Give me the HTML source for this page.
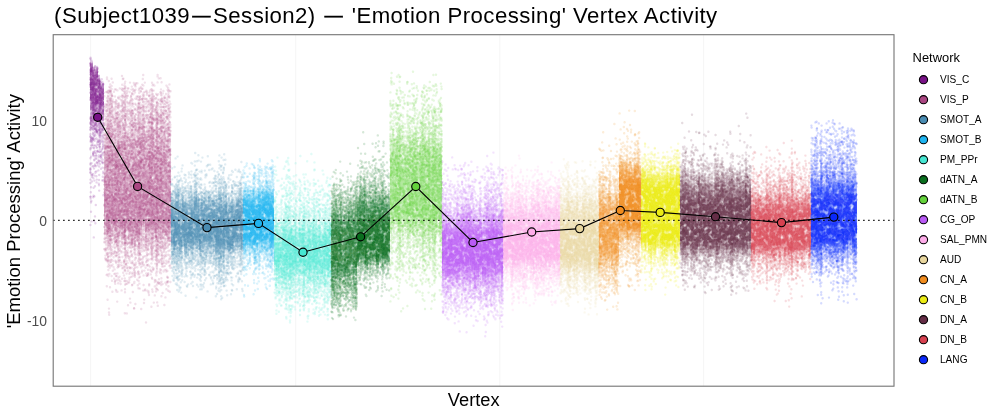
<!DOCTYPE html><html><head><meta charset="utf-8"><title>Vertex Activity</title><style>html,body{margin:0;padding:0;background:#fff}svg{display:block}</style></head><body><div style="will-change:transform;width:1000px;height:417px"><svg width="1000" height="417" viewBox="0 0 1000 417">
<defs><linearGradient id="g0" x1="0" y1="0" x2="0" y2="1"><stop offset="0.000" stop-color="#781286" stop-opacity="0.000"/><stop offset="0.025" stop-color="#781286" stop-opacity="0.000"/><stop offset="0.050" stop-color="#781286" stop-opacity="0.540"/><stop offset="0.075" stop-color="#781286" stop-opacity="0.640"/><stop offset="0.100" stop-color="#781286" stop-opacity="0.659"/><stop offset="0.125" stop-color="#781286" stop-opacity="0.678"/><stop offset="0.150" stop-color="#781286" stop-opacity="0.696"/><stop offset="0.175" stop-color="#781286" stop-opacity="0.714"/><stop offset="0.200" stop-color="#781286" stop-opacity="0.732"/><stop offset="0.225" stop-color="#781286" stop-opacity="0.747"/><stop offset="0.250" stop-color="#781286" stop-opacity="0.677"/><stop offset="0.275" stop-color="#781286" stop-opacity="0.603"/><stop offset="0.300" stop-color="#781286" stop-opacity="0.526"/><stop offset="0.325" stop-color="#781286" stop-opacity="0.423"/><stop offset="0.350" stop-color="#781286" stop-opacity="0.275"/><stop offset="0.375" stop-color="#781286" stop-opacity="0.135"/><stop offset="0.400" stop-color="#781286" stop-opacity="0.046"/><stop offset="0.425" stop-color="#781286" stop-opacity="0.014"/><stop offset="0.450" stop-color="#781286" stop-opacity="0.002"/><stop offset="0.475" stop-color="#781286" stop-opacity="0.000"/><stop offset="0.500" stop-color="#781286" stop-opacity="0.000"/><stop offset="0.525" stop-color="#781286" stop-opacity="0.000"/><stop offset="0.550" stop-color="#781286" stop-opacity="0.000"/><stop offset="0.575" stop-color="#781286" stop-opacity="0.000"/><stop offset="0.600" stop-color="#781286" stop-opacity="0.000"/><stop offset="0.625" stop-color="#781286" stop-opacity="0.000"/><stop offset="0.650" stop-color="#781286" stop-opacity="0.000"/><stop offset="0.675" stop-color="#781286" stop-opacity="0.000"/><stop offset="0.700" stop-color="#781286" stop-opacity="0.000"/><stop offset="0.725" stop-color="#781286" stop-opacity="0.000"/><stop offset="0.750" stop-color="#781286" stop-opacity="0.000"/><stop offset="0.775" stop-color="#781286" stop-opacity="0.000"/><stop offset="0.800" stop-color="#781286" stop-opacity="0.000"/><stop offset="0.825" stop-color="#781286" stop-opacity="0.000"/><stop offset="0.850" stop-color="#781286" stop-opacity="0.000"/><stop offset="0.875" stop-color="#781286" stop-opacity="0.000"/><stop offset="0.900" stop-color="#781286" stop-opacity="0.000"/><stop offset="0.925" stop-color="#781286" stop-opacity="0.000"/><stop offset="0.950" stop-color="#781286" stop-opacity="0.000"/><stop offset="0.975" stop-color="#781286" stop-opacity="0.000"/><stop offset="1.000" stop-color="#781286" stop-opacity="0.000"/></linearGradient><linearGradient id="g1" x1="0" y1="0" x2="0" y2="1"><stop offset="0.000" stop-color="#781286" stop-opacity="0.000"/><stop offset="0.025" stop-color="#781286" stop-opacity="0.000"/><stop offset="0.050" stop-color="#781286" stop-opacity="0.027"/><stop offset="0.075" stop-color="#781286" stop-opacity="0.444"/><stop offset="0.100" stop-color="#781286" stop-opacity="0.580"/><stop offset="0.125" stop-color="#781286" stop-opacity="0.611"/><stop offset="0.150" stop-color="#781286" stop-opacity="0.641"/><stop offset="0.175" stop-color="#781286" stop-opacity="0.671"/><stop offset="0.200" stop-color="#781286" stop-opacity="0.666"/><stop offset="0.225" stop-color="#781286" stop-opacity="0.613"/><stop offset="0.250" stop-color="#781286" stop-opacity="0.558"/><stop offset="0.275" stop-color="#781286" stop-opacity="0.496"/><stop offset="0.300" stop-color="#781286" stop-opacity="0.393"/><stop offset="0.325" stop-color="#781286" stop-opacity="0.269"/><stop offset="0.350" stop-color="#781286" stop-opacity="0.157"/><stop offset="0.375" stop-color="#781286" stop-opacity="0.074"/><stop offset="0.400" stop-color="#781286" stop-opacity="0.025"/><stop offset="0.425" stop-color="#781286" stop-opacity="0.004"/><stop offset="0.450" stop-color="#781286" stop-opacity="0.000"/><stop offset="0.475" stop-color="#781286" stop-opacity="0.000"/><stop offset="0.500" stop-color="#781286" stop-opacity="0.000"/><stop offset="0.525" stop-color="#781286" stop-opacity="0.000"/><stop offset="0.550" stop-color="#781286" stop-opacity="0.000"/><stop offset="0.575" stop-color="#781286" stop-opacity="0.000"/><stop offset="0.600" stop-color="#781286" stop-opacity="0.000"/><stop offset="0.625" stop-color="#781286" stop-opacity="0.000"/><stop offset="0.650" stop-color="#781286" stop-opacity="0.000"/><stop offset="0.675" stop-color="#781286" stop-opacity="0.000"/><stop offset="0.700" stop-color="#781286" stop-opacity="0.000"/><stop offset="0.725" stop-color="#781286" stop-opacity="0.000"/><stop offset="0.750" stop-color="#781286" stop-opacity="0.000"/><stop offset="0.775" stop-color="#781286" stop-opacity="0.000"/><stop offset="0.800" stop-color="#781286" stop-opacity="0.000"/><stop offset="0.825" stop-color="#781286" stop-opacity="0.000"/><stop offset="0.850" stop-color="#781286" stop-opacity="0.000"/><stop offset="0.875" stop-color="#781286" stop-opacity="0.000"/><stop offset="0.900" stop-color="#781286" stop-opacity="0.000"/><stop offset="0.925" stop-color="#781286" stop-opacity="0.000"/><stop offset="0.950" stop-color="#781286" stop-opacity="0.000"/><stop offset="0.975" stop-color="#781286" stop-opacity="0.000"/><stop offset="1.000" stop-color="#781286" stop-opacity="0.000"/></linearGradient><linearGradient id="g2" x1="0" y1="0" x2="0" y2="1"><stop offset="0.000" stop-color="#AA4682" stop-opacity="0.000"/><stop offset="0.025" stop-color="#AA4682" stop-opacity="0.000"/><stop offset="0.050" stop-color="#AA4682" stop-opacity="0.000"/><stop offset="0.075" stop-color="#AA4682" stop-opacity="0.000"/><stop offset="0.100" stop-color="#AA4682" stop-opacity="0.000"/><stop offset="0.125" stop-color="#AA4682" stop-opacity="0.000"/><stop offset="0.150" stop-color="#AA4682" stop-opacity="0.000"/><stop offset="0.175" stop-color="#AA4682" stop-opacity="0.007"/><stop offset="0.200" stop-color="#AA4682" stop-opacity="0.028"/><stop offset="0.225" stop-color="#AA4682" stop-opacity="0.068"/><stop offset="0.250" stop-color="#AA4682" stop-opacity="0.127"/><stop offset="0.275" stop-color="#AA4682" stop-opacity="0.200"/><stop offset="0.300" stop-color="#AA4682" stop-opacity="0.284"/><stop offset="0.325" stop-color="#AA4682" stop-opacity="0.317"/><stop offset="0.350" stop-color="#AA4682" stop-opacity="0.350"/><stop offset="0.375" stop-color="#AA4682" stop-opacity="0.383"/><stop offset="0.400" stop-color="#AA4682" stop-opacity="0.414"/><stop offset="0.425" stop-color="#AA4682" stop-opacity="0.444"/><stop offset="0.450" stop-color="#AA4682" stop-opacity="0.471"/><stop offset="0.475" stop-color="#AA4682" stop-opacity="0.492"/><stop offset="0.500" stop-color="#AA4682" stop-opacity="0.507"/><stop offset="0.525" stop-color="#AA4682" stop-opacity="0.520"/><stop offset="0.550" stop-color="#AA4682" stop-opacity="0.533"/><stop offset="0.575" stop-color="#AA4682" stop-opacity="0.546"/><stop offset="0.600" stop-color="#AA4682" stop-opacity="0.558"/><stop offset="0.625" stop-color="#AA4682" stop-opacity="0.437"/><stop offset="0.650" stop-color="#AA4682" stop-opacity="0.205"/><stop offset="0.675" stop-color="#AA4682" stop-opacity="0.015"/><stop offset="0.700" stop-color="#AA4682" stop-opacity="0.000"/><stop offset="0.725" stop-color="#AA4682" stop-opacity="0.000"/><stop offset="0.750" stop-color="#AA4682" stop-opacity="0.000"/><stop offset="0.775" stop-color="#AA4682" stop-opacity="0.000"/><stop offset="0.800" stop-color="#AA4682" stop-opacity="0.000"/><stop offset="0.825" stop-color="#AA4682" stop-opacity="0.000"/><stop offset="0.850" stop-color="#AA4682" stop-opacity="0.000"/><stop offset="0.875" stop-color="#AA4682" stop-opacity="0.000"/><stop offset="0.900" stop-color="#AA4682" stop-opacity="0.000"/><stop offset="0.925" stop-color="#AA4682" stop-opacity="0.000"/><stop offset="0.950" stop-color="#AA4682" stop-opacity="0.000"/><stop offset="0.975" stop-color="#AA4682" stop-opacity="0.000"/><stop offset="1.000" stop-color="#AA4682" stop-opacity="0.000"/></linearGradient><linearGradient id="g3" x1="0" y1="0" x2="0" y2="1"><stop offset="0.000" stop-color="#4A8CB2" stop-opacity="0.000"/><stop offset="0.025" stop-color="#4A8CB2" stop-opacity="0.000"/><stop offset="0.050" stop-color="#4A8CB2" stop-opacity="0.000"/><stop offset="0.075" stop-color="#4A8CB2" stop-opacity="0.000"/><stop offset="0.100" stop-color="#4A8CB2" stop-opacity="0.000"/><stop offset="0.125" stop-color="#4A8CB2" stop-opacity="0.000"/><stop offset="0.150" stop-color="#4A8CB2" stop-opacity="0.000"/><stop offset="0.175" stop-color="#4A8CB2" stop-opacity="0.000"/><stop offset="0.200" stop-color="#4A8CB2" stop-opacity="0.000"/><stop offset="0.225" stop-color="#4A8CB2" stop-opacity="0.000"/><stop offset="0.250" stop-color="#4A8CB2" stop-opacity="0.000"/><stop offset="0.275" stop-color="#4A8CB2" stop-opacity="0.000"/><stop offset="0.300" stop-color="#4A8CB2" stop-opacity="0.045"/><stop offset="0.325" stop-color="#4A8CB2" stop-opacity="0.242"/><stop offset="0.350" stop-color="#4A8CB2" stop-opacity="0.485"/><stop offset="0.375" stop-color="#4A8CB2" stop-opacity="0.627"/><stop offset="0.400" stop-color="#4A8CB2" stop-opacity="0.713"/><stop offset="0.425" stop-color="#4A8CB2" stop-opacity="0.758"/><stop offset="0.450" stop-color="#4A8CB2" stop-opacity="0.801"/><stop offset="0.475" stop-color="#4A8CB2" stop-opacity="0.807"/><stop offset="0.500" stop-color="#4A8CB2" stop-opacity="0.807"/><stop offset="0.525" stop-color="#4A8CB2" stop-opacity="0.807"/><stop offset="0.550" stop-color="#4A8CB2" stop-opacity="0.807"/><stop offset="0.575" stop-color="#4A8CB2" stop-opacity="0.807"/><stop offset="0.600" stop-color="#4A8CB2" stop-opacity="0.724"/><stop offset="0.625" stop-color="#4A8CB2" stop-opacity="0.551"/><stop offset="0.650" stop-color="#4A8CB2" stop-opacity="0.288"/><stop offset="0.675" stop-color="#4A8CB2" stop-opacity="0.045"/><stop offset="0.700" stop-color="#4A8CB2" stop-opacity="0.000"/><stop offset="0.725" stop-color="#4A8CB2" stop-opacity="0.000"/><stop offset="0.750" stop-color="#4A8CB2" stop-opacity="0.000"/><stop offset="0.775" stop-color="#4A8CB2" stop-opacity="0.000"/><stop offset="0.800" stop-color="#4A8CB2" stop-opacity="0.000"/><stop offset="0.825" stop-color="#4A8CB2" stop-opacity="0.000"/><stop offset="0.850" stop-color="#4A8CB2" stop-opacity="0.000"/><stop offset="0.875" stop-color="#4A8CB2" stop-opacity="0.000"/><stop offset="0.900" stop-color="#4A8CB2" stop-opacity="0.000"/><stop offset="0.925" stop-color="#4A8CB2" stop-opacity="0.000"/><stop offset="0.950" stop-color="#4A8CB2" stop-opacity="0.000"/><stop offset="0.975" stop-color="#4A8CB2" stop-opacity="0.000"/><stop offset="1.000" stop-color="#4A8CB2" stop-opacity="0.000"/></linearGradient><linearGradient id="g4" x1="0" y1="0" x2="0" y2="1"><stop offset="0.000" stop-color="#1EB4F0" stop-opacity="0.000"/><stop offset="0.025" stop-color="#1EB4F0" stop-opacity="0.000"/><stop offset="0.050" stop-color="#1EB4F0" stop-opacity="0.000"/><stop offset="0.075" stop-color="#1EB4F0" stop-opacity="0.000"/><stop offset="0.100" stop-color="#1EB4F0" stop-opacity="0.000"/><stop offset="0.125" stop-color="#1EB4F0" stop-opacity="0.000"/><stop offset="0.150" stop-color="#1EB4F0" stop-opacity="0.000"/><stop offset="0.175" stop-color="#1EB4F0" stop-opacity="0.000"/><stop offset="0.200" stop-color="#1EB4F0" stop-opacity="0.000"/><stop offset="0.225" stop-color="#1EB4F0" stop-opacity="0.000"/><stop offset="0.250" stop-color="#1EB4F0" stop-opacity="0.019"/><stop offset="0.275" stop-color="#1EB4F0" stop-opacity="0.189"/><stop offset="0.300" stop-color="#1EB4F0" stop-opacity="0.509"/><stop offset="0.325" stop-color="#1EB4F0" stop-opacity="0.691"/><stop offset="0.350" stop-color="#1EB4F0" stop-opacity="0.770"/><stop offset="0.375" stop-color="#1EB4F0" stop-opacity="0.843"/><stop offset="0.400" stop-color="#1EB4F0" stop-opacity="0.873"/><stop offset="0.425" stop-color="#1EB4F0" stop-opacity="0.873"/><stop offset="0.450" stop-color="#1EB4F0" stop-opacity="0.873"/><stop offset="0.475" stop-color="#1EB4F0" stop-opacity="0.873"/><stop offset="0.500" stop-color="#1EB4F0" stop-opacity="0.873"/><stop offset="0.525" stop-color="#1EB4F0" stop-opacity="0.873"/><stop offset="0.550" stop-color="#1EB4F0" stop-opacity="0.873"/><stop offset="0.575" stop-color="#1EB4F0" stop-opacity="0.873"/><stop offset="0.600" stop-color="#1EB4F0" stop-opacity="0.833"/><stop offset="0.625" stop-color="#1EB4F0" stop-opacity="0.666"/><stop offset="0.650" stop-color="#1EB4F0" stop-opacity="0.471"/><stop offset="0.675" stop-color="#1EB4F0" stop-opacity="0.176"/><stop offset="0.700" stop-color="#1EB4F0" stop-opacity="0.014"/><stop offset="0.725" stop-color="#1EB4F0" stop-opacity="0.000"/><stop offset="0.750" stop-color="#1EB4F0" stop-opacity="0.000"/><stop offset="0.775" stop-color="#1EB4F0" stop-opacity="0.000"/><stop offset="0.800" stop-color="#1EB4F0" stop-opacity="0.000"/><stop offset="0.825" stop-color="#1EB4F0" stop-opacity="0.000"/><stop offset="0.850" stop-color="#1EB4F0" stop-opacity="0.000"/><stop offset="0.875" stop-color="#1EB4F0" stop-opacity="0.000"/><stop offset="0.900" stop-color="#1EB4F0" stop-opacity="0.000"/><stop offset="0.925" stop-color="#1EB4F0" stop-opacity="0.000"/><stop offset="0.950" stop-color="#1EB4F0" stop-opacity="0.000"/><stop offset="0.975" stop-color="#1EB4F0" stop-opacity="0.000"/><stop offset="1.000" stop-color="#1EB4F0" stop-opacity="0.000"/></linearGradient><linearGradient id="g5" x1="0" y1="0" x2="0" y2="1"><stop offset="0.000" stop-color="#46E6D2" stop-opacity="0.000"/><stop offset="0.025" stop-color="#46E6D2" stop-opacity="0.000"/><stop offset="0.050" stop-color="#46E6D2" stop-opacity="0.000"/><stop offset="0.075" stop-color="#46E6D2" stop-opacity="0.000"/><stop offset="0.100" stop-color="#46E6D2" stop-opacity="0.000"/><stop offset="0.125" stop-color="#46E6D2" stop-opacity="0.000"/><stop offset="0.150" stop-color="#46E6D2" stop-opacity="0.000"/><stop offset="0.175" stop-color="#46E6D2" stop-opacity="0.000"/><stop offset="0.200" stop-color="#46E6D2" stop-opacity="0.000"/><stop offset="0.225" stop-color="#46E6D2" stop-opacity="0.000"/><stop offset="0.250" stop-color="#46E6D2" stop-opacity="0.000"/><stop offset="0.275" stop-color="#46E6D2" stop-opacity="0.000"/><stop offset="0.300" stop-color="#46E6D2" stop-opacity="0.000"/><stop offset="0.325" stop-color="#46E6D2" stop-opacity="0.000"/><stop offset="0.350" stop-color="#46E6D2" stop-opacity="0.000"/><stop offset="0.375" stop-color="#46E6D2" stop-opacity="0.000"/><stop offset="0.400" stop-color="#46E6D2" stop-opacity="0.001"/><stop offset="0.425" stop-color="#46E6D2" stop-opacity="0.036"/><stop offset="0.450" stop-color="#46E6D2" stop-opacity="0.177"/><stop offset="0.475" stop-color="#46E6D2" stop-opacity="0.403"/><stop offset="0.500" stop-color="#46E6D2" stop-opacity="0.524"/><stop offset="0.525" stop-color="#46E6D2" stop-opacity="0.584"/><stop offset="0.550" stop-color="#46E6D2" stop-opacity="0.625"/><stop offset="0.575" stop-color="#46E6D2" stop-opacity="0.625"/><stop offset="0.600" stop-color="#46E6D2" stop-opacity="0.625"/><stop offset="0.625" stop-color="#46E6D2" stop-opacity="0.625"/><stop offset="0.650" stop-color="#46E6D2" stop-opacity="0.625"/><stop offset="0.675" stop-color="#46E6D2" stop-opacity="0.493"/><stop offset="0.700" stop-color="#46E6D2" stop-opacity="0.258"/><stop offset="0.725" stop-color="#46E6D2" stop-opacity="0.076"/><stop offset="0.750" stop-color="#46E6D2" stop-opacity="0.006"/><stop offset="0.775" stop-color="#46E6D2" stop-opacity="0.000"/><stop offset="0.800" stop-color="#46E6D2" stop-opacity="0.000"/><stop offset="0.825" stop-color="#46E6D2" stop-opacity="0.000"/><stop offset="0.850" stop-color="#46E6D2" stop-opacity="0.000"/><stop offset="0.875" stop-color="#46E6D2" stop-opacity="0.000"/><stop offset="0.900" stop-color="#46E6D2" stop-opacity="0.000"/><stop offset="0.925" stop-color="#46E6D2" stop-opacity="0.000"/><stop offset="0.950" stop-color="#46E6D2" stop-opacity="0.000"/><stop offset="0.975" stop-color="#46E6D2" stop-opacity="0.000"/><stop offset="1.000" stop-color="#46E6D2" stop-opacity="0.000"/></linearGradient><linearGradient id="g6" x1="0" y1="0" x2="0" y2="1"><stop offset="0.000" stop-color="#0A6E1E" stop-opacity="0.000"/><stop offset="0.025" stop-color="#0A6E1E" stop-opacity="0.000"/><stop offset="0.050" stop-color="#0A6E1E" stop-opacity="0.000"/><stop offset="0.075" stop-color="#0A6E1E" stop-opacity="0.000"/><stop offset="0.100" stop-color="#0A6E1E" stop-opacity="0.000"/><stop offset="0.125" stop-color="#0A6E1E" stop-opacity="0.000"/><stop offset="0.150" stop-color="#0A6E1E" stop-opacity="0.000"/><stop offset="0.175" stop-color="#0A6E1E" stop-opacity="0.000"/><stop offset="0.200" stop-color="#0A6E1E" stop-opacity="0.000"/><stop offset="0.225" stop-color="#0A6E1E" stop-opacity="0.000"/><stop offset="0.250" stop-color="#0A6E1E" stop-opacity="0.001"/><stop offset="0.275" stop-color="#0A6E1E" stop-opacity="0.030"/><stop offset="0.300" stop-color="#0A6E1E" stop-opacity="0.124"/><stop offset="0.325" stop-color="#0A6E1E" stop-opacity="0.255"/><stop offset="0.350" stop-color="#0A6E1E" stop-opacity="0.399"/><stop offset="0.375" stop-color="#0A6E1E" stop-opacity="0.513"/><stop offset="0.400" stop-color="#0A6E1E" stop-opacity="0.592"/><stop offset="0.425" stop-color="#0A6E1E" stop-opacity="0.667"/><stop offset="0.450" stop-color="#0A6E1E" stop-opacity="0.691"/><stop offset="0.475" stop-color="#0A6E1E" stop-opacity="0.695"/><stop offset="0.500" stop-color="#0A6E1E" stop-opacity="0.699"/><stop offset="0.525" stop-color="#0A6E1E" stop-opacity="0.702"/><stop offset="0.550" stop-color="#0A6E1E" stop-opacity="0.706"/><stop offset="0.575" stop-color="#0A6E1E" stop-opacity="0.710"/><stop offset="0.600" stop-color="#0A6E1E" stop-opacity="0.714"/><stop offset="0.625" stop-color="#0A6E1E" stop-opacity="0.717"/><stop offset="0.650" stop-color="#0A6E1E" stop-opacity="0.672"/><stop offset="0.675" stop-color="#0A6E1E" stop-opacity="0.561"/><stop offset="0.700" stop-color="#0A6E1E" stop-opacity="0.442"/><stop offset="0.725" stop-color="#0A6E1E" stop-opacity="0.301"/><stop offset="0.750" stop-color="#0A6E1E" stop-opacity="0.164"/><stop offset="0.775" stop-color="#0A6E1E" stop-opacity="0.076"/><stop offset="0.800" stop-color="#0A6E1E" stop-opacity="0.026"/><stop offset="0.825" stop-color="#0A6E1E" stop-opacity="0.003"/><stop offset="0.850" stop-color="#0A6E1E" stop-opacity="0.000"/><stop offset="0.875" stop-color="#0A6E1E" stop-opacity="0.000"/><stop offset="0.900" stop-color="#0A6E1E" stop-opacity="0.000"/><stop offset="0.925" stop-color="#0A6E1E" stop-opacity="0.000"/><stop offset="0.950" stop-color="#0A6E1E" stop-opacity="0.000"/><stop offset="0.975" stop-color="#0A6E1E" stop-opacity="0.000"/><stop offset="1.000" stop-color="#0A6E1E" stop-opacity="0.000"/></linearGradient><linearGradient id="g7" x1="0" y1="0" x2="0" y2="1"><stop offset="0.000" stop-color="#0A6E1E" stop-opacity="0.000"/><stop offset="0.025" stop-color="#0A6E1E" stop-opacity="0.000"/><stop offset="0.050" stop-color="#0A6E1E" stop-opacity="0.000"/><stop offset="0.075" stop-color="#0A6E1E" stop-opacity="0.000"/><stop offset="0.100" stop-color="#0A6E1E" stop-opacity="0.000"/><stop offset="0.125" stop-color="#0A6E1E" stop-opacity="0.000"/><stop offset="0.150" stop-color="#0A6E1E" stop-opacity="0.000"/><stop offset="0.175" stop-color="#0A6E1E" stop-opacity="0.000"/><stop offset="0.200" stop-color="#0A6E1E" stop-opacity="0.000"/><stop offset="0.225" stop-color="#0A6E1E" stop-opacity="0.000"/><stop offset="0.250" stop-color="#0A6E1E" stop-opacity="0.000"/><stop offset="0.275" stop-color="#0A6E1E" stop-opacity="0.000"/><stop offset="0.300" stop-color="#0A6E1E" stop-opacity="0.000"/><stop offset="0.325" stop-color="#0A6E1E" stop-opacity="0.000"/><stop offset="0.350" stop-color="#0A6E1E" stop-opacity="0.000"/><stop offset="0.375" stop-color="#0A6E1E" stop-opacity="0.005"/><stop offset="0.400" stop-color="#0A6E1E" stop-opacity="0.060"/><stop offset="0.425" stop-color="#0A6E1E" stop-opacity="0.206"/><stop offset="0.450" stop-color="#0A6E1E" stop-opacity="0.407"/><stop offset="0.475" stop-color="#0A6E1E" stop-opacity="0.537"/><stop offset="0.500" stop-color="#0A6E1E" stop-opacity="0.631"/><stop offset="0.525" stop-color="#0A6E1E" stop-opacity="0.713"/><stop offset="0.550" stop-color="#0A6E1E" stop-opacity="0.784"/><stop offset="0.575" stop-color="#0A6E1E" stop-opacity="0.835"/><stop offset="0.600" stop-color="#0A6E1E" stop-opacity="0.837"/><stop offset="0.625" stop-color="#0A6E1E" stop-opacity="0.839"/><stop offset="0.650" stop-color="#0A6E1E" stop-opacity="0.841"/><stop offset="0.675" stop-color="#0A6E1E" stop-opacity="0.842"/><stop offset="0.700" stop-color="#0A6E1E" stop-opacity="0.844"/><stop offset="0.725" stop-color="#0A6E1E" stop-opacity="0.846"/><stop offset="0.750" stop-color="#0A6E1E" stop-opacity="0.761"/><stop offset="0.775" stop-color="#0A6E1E" stop-opacity="0.457"/><stop offset="0.800" stop-color="#0A6E1E" stop-opacity="0.056"/><stop offset="0.825" stop-color="#0A6E1E" stop-opacity="0.000"/><stop offset="0.850" stop-color="#0A6E1E" stop-opacity="0.000"/><stop offset="0.875" stop-color="#0A6E1E" stop-opacity="0.000"/><stop offset="0.900" stop-color="#0A6E1E" stop-opacity="0.000"/><stop offset="0.925" stop-color="#0A6E1E" stop-opacity="0.000"/><stop offset="0.950" stop-color="#0A6E1E" stop-opacity="0.000"/><stop offset="0.975" stop-color="#0A6E1E" stop-opacity="0.000"/><stop offset="1.000" stop-color="#0A6E1E" stop-opacity="0.000"/></linearGradient><linearGradient id="g8" x1="0" y1="0" x2="0" y2="1"><stop offset="0.000" stop-color="#64D23C" stop-opacity="0.000"/><stop offset="0.025" stop-color="#64D23C" stop-opacity="0.000"/><stop offset="0.050" stop-color="#64D23C" stop-opacity="0.000"/><stop offset="0.075" stop-color="#64D23C" stop-opacity="0.000"/><stop offset="0.100" stop-color="#64D23C" stop-opacity="0.000"/><stop offset="0.125" stop-color="#64D23C" stop-opacity="0.000"/><stop offset="0.150" stop-color="#64D23C" stop-opacity="0.000"/><stop offset="0.175" stop-color="#64D23C" stop-opacity="0.000"/><stop offset="0.200" stop-color="#64D23C" stop-opacity="0.000"/><stop offset="0.225" stop-color="#64D23C" stop-opacity="0.000"/><stop offset="0.250" stop-color="#64D23C" stop-opacity="0.000"/><stop offset="0.275" stop-color="#64D23C" stop-opacity="0.000"/><stop offset="0.300" stop-color="#64D23C" stop-opacity="0.010"/><stop offset="0.325" stop-color="#64D23C" stop-opacity="0.115"/><stop offset="0.350" stop-color="#64D23C" stop-opacity="0.249"/><stop offset="0.375" stop-color="#64D23C" stop-opacity="0.345"/><stop offset="0.400" stop-color="#64D23C" stop-opacity="0.437"/><stop offset="0.425" stop-color="#64D23C" stop-opacity="0.489"/><stop offset="0.450" stop-color="#64D23C" stop-opacity="0.495"/><stop offset="0.475" stop-color="#64D23C" stop-opacity="0.500"/><stop offset="0.500" stop-color="#64D23C" stop-opacity="0.505"/><stop offset="0.525" stop-color="#64D23C" stop-opacity="0.510"/><stop offset="0.550" stop-color="#64D23C" stop-opacity="0.515"/><stop offset="0.575" stop-color="#64D23C" stop-opacity="0.520"/><stop offset="0.600" stop-color="#64D23C" stop-opacity="0.524"/><stop offset="0.625" stop-color="#64D23C" stop-opacity="0.259"/><stop offset="0.650" stop-color="#64D23C" stop-opacity="0.049"/><stop offset="0.675" stop-color="#64D23C" stop-opacity="0.001"/><stop offset="0.700" stop-color="#64D23C" stop-opacity="0.000"/><stop offset="0.725" stop-color="#64D23C" stop-opacity="0.000"/><stop offset="0.750" stop-color="#64D23C" stop-opacity="0.000"/><stop offset="0.775" stop-color="#64D23C" stop-opacity="0.000"/><stop offset="0.800" stop-color="#64D23C" stop-opacity="0.000"/><stop offset="0.825" stop-color="#64D23C" stop-opacity="0.000"/><stop offset="0.850" stop-color="#64D23C" stop-opacity="0.000"/><stop offset="0.875" stop-color="#64D23C" stop-opacity="0.000"/><stop offset="0.900" stop-color="#64D23C" stop-opacity="0.000"/><stop offset="0.925" stop-color="#64D23C" stop-opacity="0.000"/><stop offset="0.950" stop-color="#64D23C" stop-opacity="0.000"/><stop offset="0.975" stop-color="#64D23C" stop-opacity="0.000"/><stop offset="1.000" stop-color="#64D23C" stop-opacity="0.000"/></linearGradient><linearGradient id="g9" x1="0" y1="0" x2="0" y2="1"><stop offset="0.000" stop-color="#B95AF5" stop-opacity="0.000"/><stop offset="0.025" stop-color="#B95AF5" stop-opacity="0.000"/><stop offset="0.050" stop-color="#B95AF5" stop-opacity="0.000"/><stop offset="0.075" stop-color="#B95AF5" stop-opacity="0.000"/><stop offset="0.100" stop-color="#B95AF5" stop-opacity="0.000"/><stop offset="0.125" stop-color="#B95AF5" stop-opacity="0.000"/><stop offset="0.150" stop-color="#B95AF5" stop-opacity="0.000"/><stop offset="0.175" stop-color="#B95AF5" stop-opacity="0.000"/><stop offset="0.200" stop-color="#B95AF5" stop-opacity="0.000"/><stop offset="0.225" stop-color="#B95AF5" stop-opacity="0.000"/><stop offset="0.250" stop-color="#B95AF5" stop-opacity="0.000"/><stop offset="0.275" stop-color="#B95AF5" stop-opacity="0.000"/><stop offset="0.300" stop-color="#B95AF5" stop-opacity="0.000"/><stop offset="0.325" stop-color="#B95AF5" stop-opacity="0.011"/><stop offset="0.350" stop-color="#B95AF5" stop-opacity="0.086"/><stop offset="0.375" stop-color="#B95AF5" stop-opacity="0.255"/><stop offset="0.400" stop-color="#B95AF5" stop-opacity="0.490"/><stop offset="0.425" stop-color="#B95AF5" stop-opacity="0.631"/><stop offset="0.450" stop-color="#B95AF5" stop-opacity="0.751"/><stop offset="0.475" stop-color="#B95AF5" stop-opacity="0.835"/><stop offset="0.500" stop-color="#B95AF5" stop-opacity="0.837"/><stop offset="0.525" stop-color="#B95AF5" stop-opacity="0.839"/><stop offset="0.550" stop-color="#B95AF5" stop-opacity="0.841"/><stop offset="0.575" stop-color="#B95AF5" stop-opacity="0.843"/><stop offset="0.600" stop-color="#B95AF5" stop-opacity="0.845"/><stop offset="0.625" stop-color="#B95AF5" stop-opacity="0.847"/><stop offset="0.650" stop-color="#B95AF5" stop-opacity="0.740"/><stop offset="0.675" stop-color="#B95AF5" stop-opacity="0.564"/><stop offset="0.700" stop-color="#B95AF5" stop-opacity="0.322"/><stop offset="0.725" stop-color="#B95AF5" stop-opacity="0.085"/><stop offset="0.750" stop-color="#B95AF5" stop-opacity="0.003"/><stop offset="0.775" stop-color="#B95AF5" stop-opacity="0.000"/><stop offset="0.800" stop-color="#B95AF5" stop-opacity="0.000"/><stop offset="0.825" stop-color="#B95AF5" stop-opacity="0.000"/><stop offset="0.850" stop-color="#B95AF5" stop-opacity="0.000"/><stop offset="0.875" stop-color="#B95AF5" stop-opacity="0.000"/><stop offset="0.900" stop-color="#B95AF5" stop-opacity="0.000"/><stop offset="0.925" stop-color="#B95AF5" stop-opacity="0.000"/><stop offset="0.950" stop-color="#B95AF5" stop-opacity="0.000"/><stop offset="0.975" stop-color="#B95AF5" stop-opacity="0.000"/><stop offset="1.000" stop-color="#B95AF5" stop-opacity="0.000"/></linearGradient><linearGradient id="g10" x1="0" y1="0" x2="0" y2="1"><stop offset="0.000" stop-color="#FDACE9" stop-opacity="0.000"/><stop offset="0.025" stop-color="#FDACE9" stop-opacity="0.000"/><stop offset="0.050" stop-color="#FDACE9" stop-opacity="0.000"/><stop offset="0.075" stop-color="#FDACE9" stop-opacity="0.000"/><stop offset="0.100" stop-color="#FDACE9" stop-opacity="0.000"/><stop offset="0.125" stop-color="#FDACE9" stop-opacity="0.000"/><stop offset="0.150" stop-color="#FDACE9" stop-opacity="0.000"/><stop offset="0.175" stop-color="#FDACE9" stop-opacity="0.000"/><stop offset="0.200" stop-color="#FDACE9" stop-opacity="0.000"/><stop offset="0.225" stop-color="#FDACE9" stop-opacity="0.000"/><stop offset="0.250" stop-color="#FDACE9" stop-opacity="0.000"/><stop offset="0.275" stop-color="#FDACE9" stop-opacity="0.003"/><stop offset="0.300" stop-color="#FDACE9" stop-opacity="0.041"/><stop offset="0.325" stop-color="#FDACE9" stop-opacity="0.145"/><stop offset="0.350" stop-color="#FDACE9" stop-opacity="0.301"/><stop offset="0.375" stop-color="#FDACE9" stop-opacity="0.428"/><stop offset="0.400" stop-color="#FDACE9" stop-opacity="0.521"/><stop offset="0.425" stop-color="#FDACE9" stop-opacity="0.599"/><stop offset="0.450" stop-color="#FDACE9" stop-opacity="0.682"/><stop offset="0.475" stop-color="#FDACE9" stop-opacity="0.746"/><stop offset="0.500" stop-color="#FDACE9" stop-opacity="0.780"/><stop offset="0.525" stop-color="#FDACE9" stop-opacity="0.806"/><stop offset="0.550" stop-color="#FDACE9" stop-opacity="0.801"/><stop offset="0.575" stop-color="#FDACE9" stop-opacity="0.796"/><stop offset="0.600" stop-color="#FDACE9" stop-opacity="0.791"/><stop offset="0.625" stop-color="#FDACE9" stop-opacity="0.787"/><stop offset="0.650" stop-color="#FDACE9" stop-opacity="0.782"/><stop offset="0.675" stop-color="#FDACE9" stop-opacity="0.712"/><stop offset="0.700" stop-color="#FDACE9" stop-opacity="0.490"/><stop offset="0.725" stop-color="#FDACE9" stop-opacity="0.174"/><stop offset="0.750" stop-color="#FDACE9" stop-opacity="0.028"/><stop offset="0.775" stop-color="#FDACE9" stop-opacity="0.000"/><stop offset="0.800" stop-color="#FDACE9" stop-opacity="0.000"/><stop offset="0.825" stop-color="#FDACE9" stop-opacity="0.000"/><stop offset="0.850" stop-color="#FDACE9" stop-opacity="0.000"/><stop offset="0.875" stop-color="#FDACE9" stop-opacity="0.000"/><stop offset="0.900" stop-color="#FDACE9" stop-opacity="0.000"/><stop offset="0.925" stop-color="#FDACE9" stop-opacity="0.000"/><stop offset="0.950" stop-color="#FDACE9" stop-opacity="0.000"/><stop offset="0.975" stop-color="#FDACE9" stop-opacity="0.000"/><stop offset="1.000" stop-color="#FDACE9" stop-opacity="0.000"/></linearGradient><linearGradient id="g11" x1="0" y1="0" x2="0" y2="1"><stop offset="0.000" stop-color="#E8D69E" stop-opacity="0.000"/><stop offset="0.025" stop-color="#E8D69E" stop-opacity="0.000"/><stop offset="0.050" stop-color="#E8D69E" stop-opacity="0.000"/><stop offset="0.075" stop-color="#E8D69E" stop-opacity="0.000"/><stop offset="0.100" stop-color="#E8D69E" stop-opacity="0.000"/><stop offset="0.125" stop-color="#E8D69E" stop-opacity="0.000"/><stop offset="0.150" stop-color="#E8D69E" stop-opacity="0.000"/><stop offset="0.175" stop-color="#E8D69E" stop-opacity="0.000"/><stop offset="0.200" stop-color="#E8D69E" stop-opacity="0.000"/><stop offset="0.225" stop-color="#E8D69E" stop-opacity="0.000"/><stop offset="0.250" stop-color="#E8D69E" stop-opacity="0.000"/><stop offset="0.275" stop-color="#E8D69E" stop-opacity="0.007"/><stop offset="0.300" stop-color="#E8D69E" stop-opacity="0.066"/><stop offset="0.325" stop-color="#E8D69E" stop-opacity="0.193"/><stop offset="0.350" stop-color="#E8D69E" stop-opacity="0.344"/><stop offset="0.375" stop-color="#E8D69E" stop-opacity="0.484"/><stop offset="0.400" stop-color="#E8D69E" stop-opacity="0.565"/><stop offset="0.425" stop-color="#E8D69E" stop-opacity="0.640"/><stop offset="0.450" stop-color="#E8D69E" stop-opacity="0.692"/><stop offset="0.475" stop-color="#E8D69E" stop-opacity="0.727"/><stop offset="0.500" stop-color="#E8D69E" stop-opacity="0.749"/><stop offset="0.525" stop-color="#E8D69E" stop-opacity="0.749"/><stop offset="0.550" stop-color="#E8D69E" stop-opacity="0.749"/><stop offset="0.575" stop-color="#E8D69E" stop-opacity="0.749"/><stop offset="0.600" stop-color="#E8D69E" stop-opacity="0.749"/><stop offset="0.625" stop-color="#E8D69E" stop-opacity="0.749"/><stop offset="0.650" stop-color="#E8D69E" stop-opacity="0.739"/><stop offset="0.675" stop-color="#E8D69E" stop-opacity="0.549"/><stop offset="0.700" stop-color="#E8D69E" stop-opacity="0.255"/><stop offset="0.725" stop-color="#E8D69E" stop-opacity="0.067"/><stop offset="0.750" stop-color="#E8D69E" stop-opacity="0.003"/><stop offset="0.775" stop-color="#E8D69E" stop-opacity="0.000"/><stop offset="0.800" stop-color="#E8D69E" stop-opacity="0.000"/><stop offset="0.825" stop-color="#E8D69E" stop-opacity="0.000"/><stop offset="0.850" stop-color="#E8D69E" stop-opacity="0.000"/><stop offset="0.875" stop-color="#E8D69E" stop-opacity="0.000"/><stop offset="0.900" stop-color="#E8D69E" stop-opacity="0.000"/><stop offset="0.925" stop-color="#E8D69E" stop-opacity="0.000"/><stop offset="0.950" stop-color="#E8D69E" stop-opacity="0.000"/><stop offset="0.975" stop-color="#E8D69E" stop-opacity="0.000"/><stop offset="1.000" stop-color="#E8D69E" stop-opacity="0.000"/></linearGradient><linearGradient id="g12" x1="0" y1="0" x2="0" y2="1"><stop offset="0.000" stop-color="#F08C1E" stop-opacity="0.000"/><stop offset="0.025" stop-color="#F08C1E" stop-opacity="0.000"/><stop offset="0.050" stop-color="#F08C1E" stop-opacity="0.000"/><stop offset="0.075" stop-color="#F08C1E" stop-opacity="0.000"/><stop offset="0.100" stop-color="#F08C1E" stop-opacity="0.000"/><stop offset="0.125" stop-color="#F08C1E" stop-opacity="0.000"/><stop offset="0.150" stop-color="#F08C1E" stop-opacity="0.000"/><stop offset="0.175" stop-color="#F08C1E" stop-opacity="0.000"/><stop offset="0.200" stop-color="#F08C1E" stop-opacity="0.000"/><stop offset="0.225" stop-color="#F08C1E" stop-opacity="0.000"/><stop offset="0.250" stop-color="#F08C1E" stop-opacity="0.000"/><stop offset="0.275" stop-color="#F08C1E" stop-opacity="0.000"/><stop offset="0.300" stop-color="#F08C1E" stop-opacity="0.000"/><stop offset="0.325" stop-color="#F08C1E" stop-opacity="0.000"/><stop offset="0.350" stop-color="#F08C1E" stop-opacity="0.000"/><stop offset="0.375" stop-color="#F08C1E" stop-opacity="0.000"/><stop offset="0.400" stop-color="#F08C1E" stop-opacity="0.013"/><stop offset="0.425" stop-color="#F08C1E" stop-opacity="0.113"/><stop offset="0.450" stop-color="#F08C1E" stop-opacity="0.312"/><stop offset="0.475" stop-color="#F08C1E" stop-opacity="0.462"/><stop offset="0.500" stop-color="#F08C1E" stop-opacity="0.551"/><stop offset="0.525" stop-color="#F08C1E" stop-opacity="0.601"/><stop offset="0.550" stop-color="#F08C1E" stop-opacity="0.649"/><stop offset="0.575" stop-color="#F08C1E" stop-opacity="0.663"/><stop offset="0.600" stop-color="#F08C1E" stop-opacity="0.670"/><stop offset="0.625" stop-color="#F08C1E" stop-opacity="0.677"/><stop offset="0.650" stop-color="#F08C1E" stop-opacity="0.683"/><stop offset="0.675" stop-color="#F08C1E" stop-opacity="0.659"/><stop offset="0.700" stop-color="#F08C1E" stop-opacity="0.542"/><stop offset="0.725" stop-color="#F08C1E" stop-opacity="0.373"/><stop offset="0.750" stop-color="#F08C1E" stop-opacity="0.148"/><stop offset="0.775" stop-color="#F08C1E" stop-opacity="0.023"/><stop offset="0.800" stop-color="#F08C1E" stop-opacity="0.000"/><stop offset="0.825" stop-color="#F08C1E" stop-opacity="0.000"/><stop offset="0.850" stop-color="#F08C1E" stop-opacity="0.000"/><stop offset="0.875" stop-color="#F08C1E" stop-opacity="0.000"/><stop offset="0.900" stop-color="#F08C1E" stop-opacity="0.000"/><stop offset="0.925" stop-color="#F08C1E" stop-opacity="0.000"/><stop offset="0.950" stop-color="#F08C1E" stop-opacity="0.000"/><stop offset="0.975" stop-color="#F08C1E" stop-opacity="0.000"/><stop offset="1.000" stop-color="#F08C1E" stop-opacity="0.000"/></linearGradient><linearGradient id="g13" x1="0" y1="0" x2="0" y2="1"><stop offset="0.000" stop-color="#F08C1E" stop-opacity="0.000"/><stop offset="0.025" stop-color="#F08C1E" stop-opacity="0.000"/><stop offset="0.050" stop-color="#F08C1E" stop-opacity="0.000"/><stop offset="0.075" stop-color="#F08C1E" stop-opacity="0.000"/><stop offset="0.100" stop-color="#F08C1E" stop-opacity="0.000"/><stop offset="0.125" stop-color="#F08C1E" stop-opacity="0.000"/><stop offset="0.150" stop-color="#F08C1E" stop-opacity="0.000"/><stop offset="0.175" stop-color="#F08C1E" stop-opacity="0.000"/><stop offset="0.200" stop-color="#F08C1E" stop-opacity="0.000"/><stop offset="0.225" stop-color="#F08C1E" stop-opacity="0.000"/><stop offset="0.250" stop-color="#F08C1E" stop-opacity="0.000"/><stop offset="0.275" stop-color="#F08C1E" stop-opacity="0.000"/><stop offset="0.300" stop-color="#F08C1E" stop-opacity="0.000"/><stop offset="0.325" stop-color="#F08C1E" stop-opacity="0.000"/><stop offset="0.350" stop-color="#F08C1E" stop-opacity="0.033"/><stop offset="0.375" stop-color="#F08C1E" stop-opacity="0.417"/><stop offset="0.400" stop-color="#F08C1E" stop-opacity="0.686"/><stop offset="0.425" stop-color="#F08C1E" stop-opacity="0.794"/><stop offset="0.450" stop-color="#F08C1E" stop-opacity="0.883"/><stop offset="0.475" stop-color="#F08C1E" stop-opacity="0.886"/><stop offset="0.500" stop-color="#F08C1E" stop-opacity="0.886"/><stop offset="0.525" stop-color="#F08C1E" stop-opacity="0.886"/><stop offset="0.550" stop-color="#F08C1E" stop-opacity="0.886"/><stop offset="0.575" stop-color="#F08C1E" stop-opacity="0.886"/><stop offset="0.600" stop-color="#F08C1E" stop-opacity="0.886"/><stop offset="0.625" stop-color="#F08C1E" stop-opacity="0.886"/><stop offset="0.650" stop-color="#F08C1E" stop-opacity="0.886"/><stop offset="0.675" stop-color="#F08C1E" stop-opacity="0.634"/><stop offset="0.700" stop-color="#F08C1E" stop-opacity="0.229"/><stop offset="0.725" stop-color="#F08C1E" stop-opacity="0.003"/><stop offset="0.750" stop-color="#F08C1E" stop-opacity="0.000"/><stop offset="0.775" stop-color="#F08C1E" stop-opacity="0.000"/><stop offset="0.800" stop-color="#F08C1E" stop-opacity="0.000"/><stop offset="0.825" stop-color="#F08C1E" stop-opacity="0.000"/><stop offset="0.850" stop-color="#F08C1E" stop-opacity="0.000"/><stop offset="0.875" stop-color="#F08C1E" stop-opacity="0.000"/><stop offset="0.900" stop-color="#F08C1E" stop-opacity="0.000"/><stop offset="0.925" stop-color="#F08C1E" stop-opacity="0.000"/><stop offset="0.950" stop-color="#F08C1E" stop-opacity="0.000"/><stop offset="0.975" stop-color="#F08C1E" stop-opacity="0.000"/><stop offset="1.000" stop-color="#F08C1E" stop-opacity="0.000"/></linearGradient><linearGradient id="g14" x1="0" y1="0" x2="0" y2="1"><stop offset="0.000" stop-color="#EBEB14" stop-opacity="0.000"/><stop offset="0.025" stop-color="#EBEB14" stop-opacity="0.000"/><stop offset="0.050" stop-color="#EBEB14" stop-opacity="0.000"/><stop offset="0.075" stop-color="#EBEB14" stop-opacity="0.000"/><stop offset="0.100" stop-color="#EBEB14" stop-opacity="0.000"/><stop offset="0.125" stop-color="#EBEB14" stop-opacity="0.000"/><stop offset="0.150" stop-color="#EBEB14" stop-opacity="0.000"/><stop offset="0.175" stop-color="#EBEB14" stop-opacity="0.000"/><stop offset="0.200" stop-color="#EBEB14" stop-opacity="0.058"/><stop offset="0.225" stop-color="#EBEB14" stop-opacity="0.401"/><stop offset="0.250" stop-color="#EBEB14" stop-opacity="0.635"/><stop offset="0.275" stop-color="#EBEB14" stop-opacity="0.795"/><stop offset="0.300" stop-color="#EBEB14" stop-opacity="0.868"/><stop offset="0.325" stop-color="#EBEB14" stop-opacity="0.910"/><stop offset="0.350" stop-color="#EBEB14" stop-opacity="0.910"/><stop offset="0.375" stop-color="#EBEB14" stop-opacity="0.910"/><stop offset="0.400" stop-color="#EBEB14" stop-opacity="0.910"/><stop offset="0.425" stop-color="#EBEB14" stop-opacity="0.910"/><stop offset="0.450" stop-color="#EBEB14" stop-opacity="0.910"/><stop offset="0.475" stop-color="#EBEB14" stop-opacity="0.910"/><stop offset="0.500" stop-color="#EBEB14" stop-opacity="0.910"/><stop offset="0.525" stop-color="#EBEB14" stop-opacity="0.910"/><stop offset="0.550" stop-color="#EBEB14" stop-opacity="0.910"/><stop offset="0.575" stop-color="#EBEB14" stop-opacity="0.910"/><stop offset="0.600" stop-color="#EBEB14" stop-opacity="0.910"/><stop offset="0.625" stop-color="#EBEB14" stop-opacity="0.910"/><stop offset="0.650" stop-color="#EBEB14" stop-opacity="0.878"/><stop offset="0.675" stop-color="#EBEB14" stop-opacity="0.699"/><stop offset="0.700" stop-color="#EBEB14" stop-opacity="0.437"/><stop offset="0.725" stop-color="#EBEB14" stop-opacity="0.039"/><stop offset="0.750" stop-color="#EBEB14" stop-opacity="0.000"/><stop offset="0.775" stop-color="#EBEB14" stop-opacity="0.000"/><stop offset="0.800" stop-color="#EBEB14" stop-opacity="0.000"/><stop offset="0.825" stop-color="#EBEB14" stop-opacity="0.000"/><stop offset="0.850" stop-color="#EBEB14" stop-opacity="0.000"/><stop offset="0.875" stop-color="#EBEB14" stop-opacity="0.000"/><stop offset="0.900" stop-color="#EBEB14" stop-opacity="0.000"/><stop offset="0.925" stop-color="#EBEB14" stop-opacity="0.000"/><stop offset="0.950" stop-color="#EBEB14" stop-opacity="0.000"/><stop offset="0.975" stop-color="#EBEB14" stop-opacity="0.000"/><stop offset="1.000" stop-color="#EBEB14" stop-opacity="0.000"/></linearGradient><linearGradient id="g15" x1="0" y1="0" x2="0" y2="1"><stop offset="0.000" stop-color="#642D46" stop-opacity="0.000"/><stop offset="0.025" stop-color="#642D46" stop-opacity="0.000"/><stop offset="0.050" stop-color="#642D46" stop-opacity="0.000"/><stop offset="0.075" stop-color="#642D46" stop-opacity="0.000"/><stop offset="0.100" stop-color="#642D46" stop-opacity="0.000"/><stop offset="0.125" stop-color="#642D46" stop-opacity="0.000"/><stop offset="0.150" stop-color="#642D46" stop-opacity="0.000"/><stop offset="0.175" stop-color="#642D46" stop-opacity="0.000"/><stop offset="0.200" stop-color="#642D46" stop-opacity="0.000"/><stop offset="0.225" stop-color="#642D46" stop-opacity="0.000"/><stop offset="0.250" stop-color="#642D46" stop-opacity="0.000"/><stop offset="0.275" stop-color="#642D46" stop-opacity="0.000"/><stop offset="0.300" stop-color="#642D46" stop-opacity="0.000"/><stop offset="0.325" stop-color="#642D46" stop-opacity="0.000"/><stop offset="0.350" stop-color="#642D46" stop-opacity="0.000"/><stop offset="0.375" stop-color="#642D46" stop-opacity="0.031"/><stop offset="0.400" stop-color="#642D46" stop-opacity="0.229"/><stop offset="0.425" stop-color="#642D46" stop-opacity="0.491"/><stop offset="0.450" stop-color="#642D46" stop-opacity="0.616"/><stop offset="0.475" stop-color="#642D46" stop-opacity="0.718"/><stop offset="0.500" stop-color="#642D46" stop-opacity="0.776"/><stop offset="0.525" stop-color="#642D46" stop-opacity="0.821"/><stop offset="0.550" stop-color="#642D46" stop-opacity="0.821"/><stop offset="0.575" stop-color="#642D46" stop-opacity="0.821"/><stop offset="0.600" stop-color="#642D46" stop-opacity="0.821"/><stop offset="0.625" stop-color="#642D46" stop-opacity="0.821"/><stop offset="0.650" stop-color="#642D46" stop-opacity="0.821"/><stop offset="0.675" stop-color="#642D46" stop-opacity="0.821"/><stop offset="0.700" stop-color="#642D46" stop-opacity="0.821"/><stop offset="0.725" stop-color="#642D46" stop-opacity="0.725"/><stop offset="0.750" stop-color="#642D46" stop-opacity="0.347"/><stop offset="0.775" stop-color="#642D46" stop-opacity="0.022"/><stop offset="0.800" stop-color="#642D46" stop-opacity="0.000"/><stop offset="0.825" stop-color="#642D46" stop-opacity="0.000"/><stop offset="0.850" stop-color="#642D46" stop-opacity="0.000"/><stop offset="0.875" stop-color="#642D46" stop-opacity="0.000"/><stop offset="0.900" stop-color="#642D46" stop-opacity="0.000"/><stop offset="0.925" stop-color="#642D46" stop-opacity="0.000"/><stop offset="0.950" stop-color="#642D46" stop-opacity="0.000"/><stop offset="0.975" stop-color="#642D46" stop-opacity="0.000"/><stop offset="1.000" stop-color="#642D46" stop-opacity="0.000"/></linearGradient><linearGradient id="g16" x1="0" y1="0" x2="0" y2="1"><stop offset="0.000" stop-color="#D74150" stop-opacity="0.000"/><stop offset="0.025" stop-color="#D74150" stop-opacity="0.000"/><stop offset="0.050" stop-color="#D74150" stop-opacity="0.000"/><stop offset="0.075" stop-color="#D74150" stop-opacity="0.000"/><stop offset="0.100" stop-color="#D74150" stop-opacity="0.000"/><stop offset="0.125" stop-color="#D74150" stop-opacity="0.000"/><stop offset="0.150" stop-color="#D74150" stop-opacity="0.000"/><stop offset="0.175" stop-color="#D74150" stop-opacity="0.000"/><stop offset="0.200" stop-color="#D74150" stop-opacity="0.000"/><stop offset="0.225" stop-color="#D74150" stop-opacity="0.000"/><stop offset="0.250" stop-color="#D74150" stop-opacity="0.000"/><stop offset="0.275" stop-color="#D74150" stop-opacity="0.000"/><stop offset="0.300" stop-color="#D74150" stop-opacity="0.000"/><stop offset="0.325" stop-color="#D74150" stop-opacity="0.017"/><stop offset="0.350" stop-color="#D74150" stop-opacity="0.128"/><stop offset="0.375" stop-color="#D74150" stop-opacity="0.391"/><stop offset="0.400" stop-color="#D74150" stop-opacity="0.584"/><stop offset="0.425" stop-color="#D74150" stop-opacity="0.685"/><stop offset="0.450" stop-color="#D74150" stop-opacity="0.776"/><stop offset="0.475" stop-color="#D74150" stop-opacity="0.782"/><stop offset="0.500" stop-color="#D74150" stop-opacity="0.786"/><stop offset="0.525" stop-color="#D74150" stop-opacity="0.790"/><stop offset="0.550" stop-color="#D74150" stop-opacity="0.793"/><stop offset="0.575" stop-color="#D74150" stop-opacity="0.797"/><stop offset="0.600" stop-color="#D74150" stop-opacity="0.801"/><stop offset="0.625" stop-color="#D74150" stop-opacity="0.804"/><stop offset="0.650" stop-color="#D74150" stop-opacity="0.748"/><stop offset="0.675" stop-color="#D74150" stop-opacity="0.545"/><stop offset="0.700" stop-color="#D74150" stop-opacity="0.194"/><stop offset="0.725" stop-color="#D74150" stop-opacity="0.004"/><stop offset="0.750" stop-color="#D74150" stop-opacity="0.000"/><stop offset="0.775" stop-color="#D74150" stop-opacity="0.000"/><stop offset="0.800" stop-color="#D74150" stop-opacity="0.000"/><stop offset="0.825" stop-color="#D74150" stop-opacity="0.000"/><stop offset="0.850" stop-color="#D74150" stop-opacity="0.000"/><stop offset="0.875" stop-color="#D74150" stop-opacity="0.000"/><stop offset="0.900" stop-color="#D74150" stop-opacity="0.000"/><stop offset="0.925" stop-color="#D74150" stop-opacity="0.000"/><stop offset="0.950" stop-color="#D74150" stop-opacity="0.000"/><stop offset="0.975" stop-color="#D74150" stop-opacity="0.000"/><stop offset="1.000" stop-color="#D74150" stop-opacity="0.000"/></linearGradient><linearGradient id="g17" x1="0" y1="0" x2="0" y2="1"><stop offset="0.000" stop-color="#0A28FA" stop-opacity="0.000"/><stop offset="0.025" stop-color="#0A28FA" stop-opacity="0.000"/><stop offset="0.050" stop-color="#0A28FA" stop-opacity="0.000"/><stop offset="0.075" stop-color="#0A28FA" stop-opacity="0.000"/><stop offset="0.100" stop-color="#0A28FA" stop-opacity="0.000"/><stop offset="0.125" stop-color="#0A28FA" stop-opacity="0.000"/><stop offset="0.150" stop-color="#0A28FA" stop-opacity="0.000"/><stop offset="0.175" stop-color="#0A28FA" stop-opacity="0.000"/><stop offset="0.200" stop-color="#0A28FA" stop-opacity="0.000"/><stop offset="0.225" stop-color="#0A28FA" stop-opacity="0.000"/><stop offset="0.250" stop-color="#0A28FA" stop-opacity="0.000"/><stop offset="0.275" stop-color="#0A28FA" stop-opacity="0.000"/><stop offset="0.300" stop-color="#0A28FA" stop-opacity="0.002"/><stop offset="0.325" stop-color="#0A28FA" stop-opacity="0.049"/><stop offset="0.350" stop-color="#0A28FA" stop-opacity="0.203"/><stop offset="0.375" stop-color="#0A28FA" stop-opacity="0.472"/><stop offset="0.400" stop-color="#0A28FA" stop-opacity="0.650"/><stop offset="0.425" stop-color="#0A28FA" stop-opacity="0.767"/><stop offset="0.450" stop-color="#0A28FA" stop-opacity="0.822"/><stop offset="0.475" stop-color="#0A28FA" stop-opacity="0.826"/><stop offset="0.500" stop-color="#0A28FA" stop-opacity="0.829"/><stop offset="0.525" stop-color="#0A28FA" stop-opacity="0.832"/><stop offset="0.550" stop-color="#0A28FA" stop-opacity="0.835"/><stop offset="0.575" stop-color="#0A28FA" stop-opacity="0.839"/><stop offset="0.600" stop-color="#0A28FA" stop-opacity="0.842"/><stop offset="0.625" stop-color="#0A28FA" stop-opacity="0.845"/><stop offset="0.650" stop-color="#0A28FA" stop-opacity="0.817"/><stop offset="0.675" stop-color="#0A28FA" stop-opacity="0.608"/><stop offset="0.700" stop-color="#0A28FA" stop-opacity="0.293"/><stop offset="0.725" stop-color="#0A28FA" stop-opacity="0.024"/><stop offset="0.750" stop-color="#0A28FA" stop-opacity="0.000"/><stop offset="0.775" stop-color="#0A28FA" stop-opacity="0.000"/><stop offset="0.800" stop-color="#0A28FA" stop-opacity="0.000"/><stop offset="0.825" stop-color="#0A28FA" stop-opacity="0.000"/><stop offset="0.850" stop-color="#0A28FA" stop-opacity="0.000"/><stop offset="0.875" stop-color="#0A28FA" stop-opacity="0.000"/><stop offset="0.900" stop-color="#0A28FA" stop-opacity="0.000"/><stop offset="0.925" stop-color="#0A28FA" stop-opacity="0.000"/><stop offset="0.950" stop-color="#0A28FA" stop-opacity="0.000"/><stop offset="0.975" stop-color="#0A28FA" stop-opacity="0.000"/><stop offset="1.000" stop-color="#0A28FA" stop-opacity="0.000"/></linearGradient></defs>
<line x1="90.6" y1="34.7" x2="90.6" y2="386.2" stroke="#efefef" stroke-width="0.6"/>
<line x1="295.7" y1="34.7" x2="295.7" y2="386.2" stroke="#efefef" stroke-width="0.6"/>
<line x1="499.8" y1="34.7" x2="499.8" y2="386.2" stroke="#efefef" stroke-width="0.6"/>
<line x1="703.6" y1="34.7" x2="703.6" y2="386.2" stroke="#efefef" stroke-width="0.6"/>
<filter id="nz" x="0" y="0" width="100%" height="100%" filterUnits="userSpaceOnUse" primitiveUnits="userSpaceOnUse"><feTurbulence type="fractalNoise" baseFrequency="0.24 0.2" numOctaves="2" seed="5" result="t"/><feColorMatrix in="t" type="matrix" values="0 0 0 0 1  0 0 0 0 1  0 0 0 0 1  2.4 0 0 0 -0.2" result="n"/><feComposite in="SourceGraphic" in2="n" operator="in"/><feGaussianBlur stdDeviation="0.7 0.4"/></filter><filter id="bl" x="0" y="0" width="100%" height="100%" filterUnits="userSpaceOnUse"><feGaussianBlur stdDeviation="0.35"/></filter>
<g filter="url(#nz)"><rect x="90.0" y="54.4" width="3.0" height="190.3" fill="url(#g0)"/><rect x="93.0" y="62.4" width="3.0" height="173.0" fill="url(#g0)"/><rect x="96.0" y="60.6" width="2.0" height="185.6" fill="url(#g0)"/><rect x="98.0" y="70.1" width="2.0" height="138.3" fill="url(#g1)"/><rect x="100.0" y="76.0" width="4.0" height="127.4" fill="url(#g1)"/><rect x="104.0" y="76.9" width="3.0" height="243.3" fill="url(#g2)"/><rect x="107.0" y="75.2" width="4.0" height="245.2" fill="url(#g2)"/><rect x="111.0" y="73.6" width="2.0" height="240.7" fill="url(#g2)"/><rect x="113.0" y="81.6" width="2.0" height="232.1" fill="url(#g2)"/><rect x="115.0" y="80.4" width="3.0" height="237.3" fill="url(#g2)"/><rect x="118.0" y="78.5" width="3.0" height="236.3" fill="url(#g2)"/><rect x="121.0" y="74.8" width="3.0" height="238.6" fill="url(#g2)"/><rect x="124.0" y="79.1" width="2.0" height="244.6" fill="url(#g2)"/><rect x="126.0" y="77.5" width="2.0" height="235.7" fill="url(#g2)"/><rect x="128.0" y="74.2" width="2.0" height="252.3" fill="url(#g2)"/><rect x="130.0" y="80.1" width="3.0" height="242.2" fill="url(#g2)"/><rect x="133.0" y="73.7" width="4.0" height="248.5" fill="url(#g2)"/><rect x="137.0" y="80.3" width="3.0" height="241.0" fill="url(#g2)"/><rect x="140.0" y="74.3" width="2.0" height="245.9" fill="url(#g2)"/><rect x="142.0" y="70.6" width="3.0" height="239.6" fill="url(#g2)"/><rect x="145.0" y="78.7" width="2.0" height="244.3" fill="url(#g2)"/><rect x="147.0" y="82.9" width="2.0" height="232.7" fill="url(#g2)"/><rect x="149.0" y="76.7" width="3.0" height="238.7" fill="url(#g2)"/><rect x="152.0" y="78.2" width="3.0" height="238.2" fill="url(#g2)"/><rect x="155.0" y="83.9" width="2.0" height="234.0" fill="url(#g2)"/><rect x="157.0" y="72.2" width="2.0" height="253.5" fill="url(#g2)"/><rect x="159.0" y="70.9" width="3.0" height="249.3" fill="url(#g2)"/><rect x="162.0" y="80.5" width="3.0" height="236.1" fill="url(#g2)"/><rect x="165.0" y="78.5" width="2.0" height="239.2" fill="url(#g2)"/><rect x="167.0" y="77.6" width="4.0" height="240.9" fill="url(#g2)"/><rect x="171.0" y="155.4" width="2.0" height="142.5" fill="url(#g3)"/><rect x="173.0" y="151.3" width="2.0" height="157.0" fill="url(#g3)"/><rect x="175.0" y="145.0" width="4.0" height="160.9" fill="url(#g3)"/><rect x="179.0" y="159.0" width="3.0" height="141.8" fill="url(#g3)"/><rect x="182.0" y="150.9" width="2.0" height="146.2" fill="url(#g3)"/><rect x="184.0" y="151.6" width="3.0" height="154.2" fill="url(#g3)"/><rect x="187.0" y="157.2" width="2.0" height="141.5" fill="url(#g3)"/><rect x="189.0" y="151.6" width="3.0" height="148.9" fill="url(#g3)"/><rect x="192.0" y="156.9" width="2.0" height="141.8" fill="url(#g3)"/><rect x="194.0" y="140.5" width="3.0" height="162.2" fill="url(#g3)"/><rect x="197.0" y="151.4" width="2.0" height="146.3" fill="url(#g3)"/><rect x="199.0" y="156.4" width="2.0" height="148.0" fill="url(#g3)"/><rect x="201.0" y="151.0" width="2.0" height="151.0" fill="url(#g3)"/><rect x="203.0" y="155.2" width="3.0" height="143.2" fill="url(#g3)"/><rect x="206.0" y="152.8" width="2.0" height="150.2" fill="url(#g3)"/><rect x="208.0" y="150.8" width="4.0" height="150.6" fill="url(#g3)"/><rect x="212.0" y="154.1" width="3.0" height="141.5" fill="url(#g3)"/><rect x="215.0" y="156.1" width="4.0" height="148.3" fill="url(#g3)"/><rect x="219.0" y="147.9" width="3.0" height="160.4" fill="url(#g3)"/><rect x="222.0" y="153.6" width="3.0" height="150.8" fill="url(#g3)"/><rect x="225.0" y="147.4" width="2.0" height="155.5" fill="url(#g3)"/><rect x="227.0" y="156.2" width="4.0" height="150.5" fill="url(#g3)"/><rect x="231.0" y="153.3" width="3.0" height="147.3" fill="url(#g3)"/><rect x="234.0" y="153.2" width="2.0" height="148.6" fill="url(#g3)"/><rect x="236.0" y="149.7" width="2.0" height="147.9" fill="url(#g3)"/><rect x="238.0" y="152.5" width="3.0" height="140.1" fill="url(#g3)"/><rect x="241.0" y="151.9" width="2.0" height="150.1" fill="url(#g3)"/><rect x="243.0" y="151.4" width="3.0" height="150.1" fill="url(#g4)"/><rect x="246.0" y="154.4" width="3.0" height="139.3" fill="url(#g4)"/><rect x="249.0" y="152.8" width="3.0" height="145.0" fill="url(#g4)"/><rect x="252.0" y="150.3" width="2.0" height="152.2" fill="url(#g4)"/><rect x="254.0" y="155.1" width="4.0" height="143.2" fill="url(#g4)"/><rect x="258.0" y="150.8" width="3.0" height="142.7" fill="url(#g4)"/><rect x="261.0" y="152.9" width="3.0" height="143.1" fill="url(#g4)"/><rect x="264.0" y="152.7" width="2.0" height="141.4" fill="url(#g4)"/><rect x="266.0" y="151.1" width="3.0" height="143.5" fill="url(#g4)"/><rect x="269.0" y="149.6" width="5.0" height="150.2" fill="url(#g4)"/><rect x="274.0" y="146.9" width="2.0" height="177.5" fill="url(#g5)"/><rect x="276.0" y="146.9" width="2.0" height="182.0" fill="url(#g5)"/><rect x="278.0" y="154.8" width="2.0" height="172.0" fill="url(#g5)"/><rect x="280.0" y="149.1" width="3.0" height="178.4" fill="url(#g5)"/><rect x="283.0" y="148.5" width="2.0" height="180.7" fill="url(#g5)"/><rect x="285.0" y="144.3" width="2.0" height="185.7" fill="url(#g5)"/><rect x="287.0" y="143.2" width="2.0" height="185.5" fill="url(#g5)"/><rect x="289.0" y="145.4" width="3.0" height="182.0" fill="url(#g5)"/><rect x="292.0" y="156.1" width="3.0" height="168.2" fill="url(#g5)"/><rect x="295.0" y="152.5" width="2.0" height="170.8" fill="url(#g5)"/><rect x="297.0" y="150.0" width="2.0" height="172.8" fill="url(#g5)"/><rect x="299.0" y="146.4" width="4.0" height="176.7" fill="url(#g5)"/><rect x="303.0" y="153.6" width="2.0" height="169.3" fill="url(#g5)"/><rect x="305.0" y="150.5" width="2.0" height="173.5" fill="url(#g5)"/><rect x="307.0" y="150.3" width="2.0" height="173.2" fill="url(#g5)"/><rect x="309.0" y="148.6" width="3.0" height="179.8" fill="url(#g5)"/><rect x="312.0" y="148.7" width="2.0" height="173.6" fill="url(#g5)"/><rect x="314.0" y="155.2" width="3.0" height="168.9" fill="url(#g5)"/><rect x="317.0" y="152.7" width="2.0" height="177.3" fill="url(#g5)"/><rect x="319.0" y="148.5" width="2.0" height="179.8" fill="url(#g5)"/><rect x="321.0" y="154.6" width="2.0" height="172.0" fill="url(#g5)"/><rect x="323.0" y="154.6" width="2.0" height="169.0" fill="url(#g5)"/><rect x="325.0" y="146.6" width="2.0" height="177.0" fill="url(#g5)"/><rect x="327.0" y="148.9" width="2.0" height="181.1" fill="url(#g5)"/><rect x="329.0" y="147.6" width="2.0" height="173.8" fill="url(#g5)"/><rect x="331.0" y="165.0" width="2.0" height="158.1" fill="url(#g6)"/><rect x="333.0" y="169.0" width="2.0" height="144.9" fill="url(#g6)"/><rect x="335.0" y="164.4" width="2.0" height="152.1" fill="url(#g6)"/><rect x="337.0" y="165.6" width="3.0" height="156.9" fill="url(#g6)"/><rect x="340.0" y="154.5" width="2.0" height="166.6" fill="url(#g6)"/><rect x="342.0" y="163.4" width="3.0" height="156.3" fill="url(#g6)"/><rect x="345.0" y="166.4" width="3.0" height="153.7" fill="url(#g6)"/><rect x="348.0" y="161.1" width="3.0" height="155.5" fill="url(#g6)"/><rect x="351.0" y="161.4" width="2.0" height="151.8" fill="url(#g6)"/><rect x="353.0" y="162.9" width="4.0" height="159.5" fill="url(#g6)"/><rect x="357.0" y="128.6" width="2.0" height="174.2" fill="url(#g7)"/><rect x="359.0" y="128.0" width="3.0" height="168.8" fill="url(#g7)"/><rect x="362.0" y="124.9" width="3.0" height="171.0" fill="url(#g7)"/><rect x="365.0" y="133.1" width="3.0" height="168.8" fill="url(#g7)"/><rect x="368.0" y="124.7" width="3.0" height="175.4" fill="url(#g7)"/><rect x="371.0" y="124.6" width="3.0" height="172.0" fill="url(#g7)"/><rect x="374.0" y="127.3" width="2.0" height="167.0" fill="url(#g7)"/><rect x="376.0" y="128.7" width="3.0" height="173.7" fill="url(#g7)"/><rect x="379.0" y="120.9" width="3.0" height="178.1" fill="url(#g7)"/><rect x="382.0" y="119.7" width="2.0" height="180.1" fill="url(#g7)"/><rect x="384.0" y="125.6" width="4.0" height="173.9" fill="url(#g7)"/><rect x="388.0" y="123.8" width="2.0" height="176.2" fill="url(#g7)"/><rect x="390.0" y="63.8" width="3.0" height="248.6" fill="url(#g8)"/><rect x="393.0" y="68.5" width="2.0" height="239.7" fill="url(#g8)"/><rect x="395.0" y="65.2" width="3.0" height="245.6" fill="url(#g8)"/><rect x="398.0" y="68.3" width="3.0" height="247.0" fill="url(#g8)"/><rect x="401.0" y="68.3" width="3.0" height="244.4" fill="url(#g8)"/><rect x="404.0" y="68.5" width="2.0" height="244.2" fill="url(#g8)"/><rect x="406.0" y="68.1" width="4.0" height="242.6" fill="url(#g8)"/><rect x="410.0" y="67.5" width="2.0" height="248.0" fill="url(#g8)"/><rect x="412.0" y="64.3" width="2.0" height="252.3" fill="url(#g8)"/><rect x="414.0" y="62.8" width="2.0" height="254.6" fill="url(#g8)"/><rect x="416.0" y="70.1" width="4.0" height="243.0" fill="url(#g8)"/><rect x="420.0" y="66.5" width="2.0" height="250.0" fill="url(#g8)"/><rect x="422.0" y="71.0" width="2.0" height="240.4" fill="url(#g8)"/><rect x="424.0" y="67.8" width="4.0" height="242.8" fill="url(#g8)"/><rect x="428.0" y="72.7" width="2.0" height="234.8" fill="url(#g8)"/><rect x="430.0" y="71.1" width="3.0" height="245.3" fill="url(#g8)"/><rect x="433.0" y="73.1" width="2.0" height="242.1" fill="url(#g8)"/><rect x="435.0" y="64.0" width="2.0" height="249.7" fill="url(#g8)"/><rect x="437.0" y="67.8" width="2.0" height="240.7" fill="url(#g8)"/><rect x="439.0" y="67.4" width="3.0" height="251.4" fill="url(#g8)"/><rect x="442.0" y="155.0" width="3.0" height="174.1" fill="url(#g9)"/><rect x="445.0" y="156.0" width="2.0" height="172.6" fill="url(#g9)"/><rect x="447.0" y="156.0" width="4.0" height="178.1" fill="url(#g9)"/><rect x="451.0" y="152.6" width="4.0" height="181.5" fill="url(#g9)"/><rect x="455.0" y="150.5" width="3.0" height="184.1" fill="url(#g9)"/><rect x="458.0" y="153.7" width="2.0" height="179.5" fill="url(#g9)"/><rect x="460.0" y="148.5" width="4.0" height="181.5" fill="url(#g9)"/><rect x="464.0" y="151.7" width="2.0" height="177.2" fill="url(#g9)"/><rect x="466.0" y="151.2" width="2.0" height="179.9" fill="url(#g9)"/><rect x="468.0" y="154.9" width="3.0" height="171.9" fill="url(#g9)"/><rect x="471.0" y="152.7" width="3.0" height="175.0" fill="url(#g9)"/><rect x="474.0" y="155.4" width="2.0" height="180.3" fill="url(#g9)"/><rect x="476.0" y="154.3" width="3.0" height="179.5" fill="url(#g9)"/><rect x="479.0" y="155.5" width="3.0" height="169.8" fill="url(#g9)"/><rect x="482.0" y="155.9" width="4.0" height="180.9" fill="url(#g9)"/><rect x="486.0" y="151.9" width="3.0" height="179.0" fill="url(#g9)"/><rect x="489.0" y="154.4" width="2.0" height="172.7" fill="url(#g9)"/><rect x="491.0" y="149.2" width="3.0" height="181.5" fill="url(#g9)"/><rect x="494.0" y="158.1" width="2.0" height="171.4" fill="url(#g9)"/><rect x="496.0" y="157.7" width="2.0" height="168.8" fill="url(#g9)"/><rect x="498.0" y="152.4" width="3.0" height="177.2" fill="url(#g9)"/><rect x="501.0" y="152.9" width="2.0" height="180.5" fill="url(#g9)"/><rect x="503.0" y="156.3" width="2.0" height="151.7" fill="url(#g10)"/><rect x="505.0" y="155.3" width="2.0" height="152.7" fill="url(#g10)"/><rect x="507.0" y="158.3" width="2.0" height="146.3" fill="url(#g10)"/><rect x="509.0" y="162.3" width="3.0" height="142.0" fill="url(#g10)"/><rect x="512.0" y="156.7" width="3.0" height="154.9" fill="url(#g10)"/><rect x="515.0" y="158.8" width="3.0" height="148.5" fill="url(#g10)"/><rect x="518.0" y="152.4" width="4.0" height="157.6" fill="url(#g10)"/><rect x="522.0" y="159.7" width="3.0" height="150.5" fill="url(#g10)"/><rect x="525.0" y="159.5" width="2.0" height="146.0" fill="url(#g10)"/><rect x="527.0" y="160.7" width="3.0" height="147.0" fill="url(#g10)"/><rect x="530.0" y="160.8" width="3.0" height="146.9" fill="url(#g10)"/><rect x="533.0" y="153.7" width="2.0" height="162.6" fill="url(#g10)"/><rect x="535.0" y="158.7" width="2.0" height="152.9" fill="url(#g10)"/><rect x="537.0" y="153.2" width="3.0" height="155.6" fill="url(#g10)"/><rect x="540.0" y="163.5" width="2.0" height="141.8" fill="url(#g10)"/><rect x="542.0" y="160.9" width="4.0" height="146.0" fill="url(#g10)"/><rect x="546.0" y="152.9" width="3.0" height="157.1" fill="url(#g10)"/><rect x="549.0" y="161.3" width="3.0" height="144.4" fill="url(#g10)"/><rect x="552.0" y="155.4" width="3.0" height="156.2" fill="url(#g10)"/><rect x="555.0" y="153.6" width="2.0" height="155.6" fill="url(#g10)"/><rect x="557.0" y="160.4" width="3.0" height="148.3" fill="url(#g10)"/><rect x="560.0" y="151.8" width="3.0" height="163.2" fill="url(#g11)"/><rect x="563.0" y="151.5" width="3.0" height="166.5" fill="url(#g11)"/><rect x="566.0" y="155.5" width="2.0" height="160.8" fill="url(#g11)"/><rect x="568.0" y="149.2" width="3.0" height="176.1" fill="url(#g11)"/><rect x="571.0" y="154.5" width="2.0" height="162.7" fill="url(#g11)"/><rect x="573.0" y="158.5" width="3.0" height="156.9" fill="url(#g11)"/><rect x="576.0" y="152.2" width="2.0" height="165.9" fill="url(#g11)"/><rect x="578.0" y="159.2" width="4.0" height="154.7" fill="url(#g11)"/><rect x="582.0" y="152.2" width="2.0" height="162.6" fill="url(#g11)"/><rect x="584.0" y="154.4" width="2.0" height="162.4" fill="url(#g11)"/><rect x="586.0" y="153.8" width="2.0" height="163.8" fill="url(#g11)"/><rect x="588.0" y="154.5" width="3.0" height="164.6" fill="url(#g11)"/><rect x="591.0" y="153.5" width="3.0" height="159.5" fill="url(#g11)"/><rect x="594.0" y="156.0" width="2.0" height="161.7" fill="url(#g11)"/><rect x="596.0" y="152.0" width="3.0" height="172.0" fill="url(#g11)"/><rect x="599.0" y="114.6" width="3.0" height="197.4" fill="url(#g12)"/><rect x="602.0" y="110.9" width="2.0" height="197.1" fill="url(#g12)"/><rect x="604.0" y="111.0" width="2.0" height="202.1" fill="url(#g12)"/><rect x="606.0" y="109.5" width="2.0" height="205.3" fill="url(#g12)"/><rect x="608.0" y="111.2" width="3.0" height="194.6" fill="url(#g12)"/><rect x="611.0" y="107.5" width="2.0" height="213.1" fill="url(#g12)"/><rect x="613.0" y="113.6" width="3.0" height="199.2" fill="url(#g12)"/><rect x="616.0" y="107.5" width="3.0" height="208.2" fill="url(#g12)"/><rect x="619.0" y="91.0" width="4.0" height="206.6" fill="url(#g13)"/><rect x="623.0" y="91.7" width="4.0" height="203.1" fill="url(#g13)"/><rect x="627.0" y="94.2" width="2.0" height="205.4" fill="url(#g13)"/><rect x="629.0" y="90.3" width="3.0" height="208.8" fill="url(#g13)"/><rect x="632.0" y="97.2" width="2.0" height="195.6" fill="url(#g13)"/><rect x="634.0" y="91.4" width="2.0" height="204.2" fill="url(#g13)"/><rect x="636.0" y="90.3" width="3.0" height="207.5" fill="url(#g13)"/><rect x="639.0" y="94.2" width="2.0" height="201.8" fill="url(#g13)"/><rect x="641.0" y="137.7" width="3.0" height="155.2" fill="url(#g14)"/><rect x="644.0" y="136.7" width="2.0" height="160.0" fill="url(#g14)"/><rect x="646.0" y="141.6" width="2.0" height="144.0" fill="url(#g14)"/><rect x="648.0" y="141.1" width="2.0" height="156.2" fill="url(#g14)"/><rect x="650.0" y="141.5" width="3.0" height="156.0" fill="url(#g14)"/><rect x="653.0" y="140.9" width="3.0" height="155.6" fill="url(#g14)"/><rect x="656.0" y="143.0" width="4.0" height="144.6" fill="url(#g14)"/><rect x="660.0" y="145.8" width="2.0" height="146.1" fill="url(#g14)"/><rect x="662.0" y="141.4" width="3.0" height="157.2" fill="url(#g14)"/><rect x="665.0" y="146.3" width="2.0" height="144.3" fill="url(#g14)"/><rect x="667.0" y="140.7" width="3.0" height="154.1" fill="url(#g14)"/><rect x="670.0" y="138.1" width="4.0" height="154.1" fill="url(#g14)"/><rect x="674.0" y="144.2" width="2.0" height="153.7" fill="url(#g14)"/><rect x="676.0" y="137.4" width="4.0" height="157.0" fill="url(#g14)"/><rect x="680.0" y="105.2" width="3.0" height="191.1" fill="url(#g15)"/><rect x="683.0" y="104.6" width="2.0" height="195.1" fill="url(#g15)"/><rect x="685.0" y="103.8" width="3.0" height="195.5" fill="url(#g15)"/><rect x="688.0" y="103.3" width="2.0" height="193.4" fill="url(#g15)"/><rect x="690.0" y="105.0" width="2.0" height="194.5" fill="url(#g15)"/><rect x="692.0" y="106.5" width="3.0" height="193.8" fill="url(#g15)"/><rect x="695.0" y="112.7" width="3.0" height="187.1" fill="url(#g15)"/><rect x="698.0" y="99.3" width="2.0" height="198.5" fill="url(#g15)"/><rect x="700.0" y="105.6" width="3.0" height="192.1" fill="url(#g15)"/><rect x="703.0" y="106.1" width="4.0" height="192.4" fill="url(#g15)"/><rect x="707.0" y="110.6" width="3.0" height="184.4" fill="url(#g15)"/><rect x="710.0" y="110.3" width="4.0" height="188.5" fill="url(#g15)"/><rect x="714.0" y="106.1" width="2.0" height="190.3" fill="url(#g15)"/><rect x="716.0" y="107.8" width="4.0" height="192.1" fill="url(#g15)"/><rect x="720.0" y="106.2" width="3.0" height="187.8" fill="url(#g15)"/><rect x="723.0" y="111.6" width="3.0" height="182.0" fill="url(#g15)"/><rect x="726.0" y="103.3" width="4.0" height="195.6" fill="url(#g15)"/><rect x="730.0" y="108.3" width="3.0" height="191.6" fill="url(#g15)"/><rect x="733.0" y="106.0" width="2.0" height="193.3" fill="url(#g15)"/><rect x="735.0" y="106.8" width="4.0" height="190.7" fill="url(#g15)"/><rect x="739.0" y="107.9" width="3.0" height="188.1" fill="url(#g15)"/><rect x="742.0" y="106.4" width="3.0" height="194.6" fill="url(#g15)"/><rect x="745.0" y="95.8" width="3.0" height="205.9" fill="url(#g15)"/><rect x="748.0" y="106.6" width="3.0" height="186.9" fill="url(#g15)"/><rect x="751.0" y="144.0" width="2.0" height="160.7" fill="url(#g16)"/><rect x="753.0" y="139.6" width="2.0" height="166.8" fill="url(#g16)"/><rect x="755.0" y="135.0" width="4.0" height="169.0" fill="url(#g16)"/><rect x="759.0" y="142.3" width="3.0" height="160.1" fill="url(#g16)"/><rect x="762.0" y="143.9" width="4.0" height="160.5" fill="url(#g16)"/><rect x="766.0" y="136.9" width="2.0" height="166.5" fill="url(#g16)"/><rect x="768.0" y="141.7" width="3.0" height="158.7" fill="url(#g16)"/><rect x="771.0" y="145.2" width="4.0" height="159.2" fill="url(#g16)"/><rect x="775.0" y="140.3" width="3.0" height="163.2" fill="url(#g16)"/><rect x="778.0" y="140.3" width="3.0" height="161.0" fill="url(#g16)"/><rect x="781.0" y="140.1" width="3.0" height="156.9" fill="url(#g16)"/><rect x="784.0" y="141.3" width="2.0" height="165.1" fill="url(#g16)"/><rect x="786.0" y="137.0" width="2.0" height="165.2" fill="url(#g16)"/><rect x="788.0" y="135.0" width="4.0" height="176.1" fill="url(#g16)"/><rect x="792.0" y="142.2" width="4.0" height="159.3" fill="url(#g16)"/><rect x="796.0" y="136.8" width="3.0" height="169.2" fill="url(#g16)"/><rect x="799.0" y="144.4" width="3.0" height="159.5" fill="url(#g16)"/><rect x="802.0" y="140.7" width="3.0" height="164.0" fill="url(#g16)"/><rect x="805.0" y="141.3" width="2.0" height="159.9" fill="url(#g16)"/><rect x="807.0" y="138.3" width="2.0" height="158.0" fill="url(#g16)"/><rect x="809.0" y="139.0" width="2.0" height="165.5" fill="url(#g16)"/><rect x="811.0" y="116.9" width="4.0" height="190.9" fill="url(#g17)"/><rect x="815.0" y="114.7" width="4.0" height="194.7" fill="url(#g17)"/><rect x="819.0" y="114.8" width="3.0" height="197.5" fill="url(#g17)"/><rect x="822.0" y="119.3" width="4.0" height="185.0" fill="url(#g17)"/><rect x="826.0" y="112.9" width="2.0" height="196.9" fill="url(#g17)"/><rect x="828.0" y="111.7" width="2.0" height="197.4" fill="url(#g17)"/><rect x="830.0" y="112.9" width="3.0" height="196.4" fill="url(#g17)"/><rect x="833.0" y="109.9" width="4.0" height="201.7" fill="url(#g17)"/><rect x="837.0" y="112.9" width="2.0" height="198.2" fill="url(#g17)"/><rect x="839.0" y="114.4" width="2.0" height="190.9" fill="url(#g17)"/><rect x="841.0" y="112.2" width="2.0" height="193.8" fill="url(#g17)"/><rect x="843.0" y="119.1" width="3.0" height="189.3" fill="url(#g17)"/><rect x="846.0" y="114.2" width="2.0" height="195.2" fill="url(#g17)"/><rect x="848.0" y="117.5" width="4.0" height="181.6" fill="url(#g17)"/><rect x="852.0" y="110.4" width="2.0" height="198.4" fill="url(#g17)"/><rect x="854.0" y="115.2" width="3.0" height="194.5" fill="url(#g17)"/></g>
<g filter="url(#bl)">
<g transform="scale(.2)" fill="none" stroke-linecap="round" stroke-width="12.00" stroke-opacity="0.26"><path d="M452 316h0m0 13h0m0 43h0m0 27h0m1 90h0m1 105h0m2 6h0m1-180h0m2-75h0m0 128h0m2 65h0m6 28h0m2-147h0m3-68h0m1 40h0m0 86h0m2-82h0m5-6h0m0 122h0m0-42h0m2 16h0m0-121h0m2 163h0m1-141h0m3-42h0m0 171h0" stroke="#781286"/><path d="M454 449h0m1 11h0m0-106h0m2 251h0m1-266h0m1 57h0m3 17h0m3 199h0m0-111h0m1 49h0m1-134h0m0 73h0m1-111h0m0 221h0m1-187h0m5 55h0m4-105h0m0 193h0m1-62h0m3 159h0m0-288h0m3 178h0" stroke="#781286"/><path d="M452 320h0m0 114h0m0 30h0m0 35h0m1-147h0m3 161h0m1-87h0m2 30h0m0-66h0m1 251h0m1-135h0m1-49h0m0-49h0m3 36h0m0 91h0m2-8h0m0-119h0m1 173h0m0-40h0m0-108h0m0-63h0m1 260h0m0-241h0m1 182h0m0-40h0m3-111h0m2-42h0m0 243h0m2-92h0m2 88h0m2-18h0m2 59h0m1-105h0m0 185h0m3-294h0m1 125h0m0-1h0" stroke="#781286"/><path d="M452 361h0m0 53h0m0 10h0m1-77h0m7 105h0m1-4h0m3 184h0m1-197h0m0 17h0m1 58h0m0-130h0m1 215h0m2-170h0m4 47h0m2 172h0m0-201h0m1 184h0m4-181h0m0-24h0m3 168h0m1-86h0m1 125h0m1 32h0m1-177h0" stroke="#781286"/><path d="M452 389h0m0 34h0m1-28h0m3-39h0m1 27h0m1 33h0m0 17h0m1 256h0m3-246h0m0-90h0m0 161h0m3-152h0m1 37h0m1 170h0m6-18h0m3-33h0m0 75h0m4-137h0m0-4h0m1 62h0m1-98h0m0 87h0m2-127h0m1 74h0m3-91h0m0 23h0m0 21h0m0 105h0" stroke="#781286"/><path d="M492 395h0m8 69h0m1 61h0m1-22h0m0-14h0m2-11h0m3 11h0m3 155h0m6-92h0m0 65h0" stroke="#781286"/><path d="M492 428h0m2 10h0m2 108h0m1-1h0m0-117h0m2 44h0m0 80h0m1-70h0m2-31h0m1-4h0m1 43h0m0-54h0m1 63h0m0 72h0m1 48h0m2-49h0m3-82h0m4 70h0m0 41h0m0-179h0m0 151h0m3-40h0" stroke="#781286"/><path d="M492 440h0m0 47h0m2 163h0m0-270h0m3 187h0m1 33h0m0-180h0m2 115h0m3-20h0m1 49h0m1-122h0m6 151h0m3 57h0m0-197h0m0-5h0m0 117h0m2 62h0" stroke="#781286"/><path d="M492 500h0m1 33h0m1-98h0m2-28h0m1 82h0m0 99h0m0-173h0m3 11h0m1 114h0m1-101h0m1-27h0m0 55h0m1 53h0m2 6h0m1-14h0m1-51h0m6 7h0m0 42h0" stroke="#781286"/><path d="M492 461h0m0 62h0m0-7h0m0-115h0m2 99h0m0 15h0m0 35h0m0 24h0m1-13h0m2-129h0m1-12h0m2 55h0m2 20h0m1 24h0m12 67h0m1-66h0m1-56h0" stroke="#781286"/><path d="M522 923h0m0 23h0m0-329h0m0 518h0m1 59h0m1-223h0m3 87h0m2 54h0m0-369h0m1 174h0m1 196h0m0-110h0m1 122h0m0-428h0m3 380h0m1-63h0m2 147h0m0-340h0m0 55h0m1-73h0m1 187h0m0-14h0m0 127h0m0-273h0m1 307h0m0-82h0m0-204h0m0 33h0m1 242h0m1-201h0m1-188h0m0 37h0m1 16h0m1 164h0m0 103h0m1 82h0m2-153h0m0-119h0m1 94h0m2 144h0m2-485h0m2 454h0m1-327h0m0 432h0m2-347h0m0 59h0m1-1h0m1 15h0m1-114h0m4 192h0m5 18h0m0 104h0m1-334h0m1-114h0m2 268h0m0 190h0m0-218h0m2-197h0m0 191h0m0 58h0m1 52h0m2-192h0m0 189h0m3 172h0m1-347h0m1 140h0m0-159h0m0 302h0m1-191h0m0-152h0m2 72h0m1 132h0m0 201h0m1-39h0m0 52h0m1-439h0m1 245h0m1-207h0m0 334h0m2-386h0m0 436h0m1-217h0m1 25h0m3-236h0m1 187h0m2-98h0m2 292h0m0-4h0m3-60h0m1-83h0m0-23h0m1 95h0m0-216h0m0 317h0m0-126h0m1 109h0m1-4h0m0-34h0m1 51h0m0-36h0m0-111h0m1 15h0m4 0h0m1-169h0m2-199h0m0 10h0m2 156h0m0-60h0m1 146h0m0 163h0m0 22h0m0 104h0m0-105h0m0-127h0m1 124h0m1 54h0m1-464h0m0 177h0m1 6h0m0 354h0m1-221h0m0 173h0m5-36h0m1-103h0m0 42h0m1 82h0m0-35h0m0-104h0m2-11h0m1-147h0m0-30h0m0 285h0m2 56h0m4-395h0m1 301h0m1-423h0m0 187h0m0 17h0m1 56h0m1 86h0m0-147h0m2-91h0m0 270h0m0 109h0m0-241h0m0 2h0m0 266h0m2-296h0m0 104h0m0 0h0m4-329h0m1 244h0m0 65h0m0-7h0m0 278h0m3-15h0m1-12h0m0-336h0m0 102h0m0-38h0m1-185h0m0-1h0m1-22h0m2 46h0m0 405h0m1 15h0m1-190h0m1 7h0m1 215h0m1-457h0m1 339h0m1 124h0m0-622h0m1 525h0m1-11h0m1-244h0m4 144h0m0-9h0m1 174h0m0-277h0m2-160h0m2 99h0m0 320h0m2-282h0m0 262h0m1-288h0m0 120h0m1 207h0m0-279h0m1 52h0m1-61h0m0 310h0m0-361h0m1-105h0m0 361h0m0-207h0m3-44h0m0 165h0m1 224h0m1-190h0m1-213h0m0 292h0m0-58h0m0-13h0m1 31h0m0-298h0m0-47h0m2 406h0m0-180h0m0 225h0m1-381h0m1 221h0m0 97h0m1-133h0m1 149h0m1-315h0m1 268h0m2-277h0m2-71h0m1 21h0m2 163h0m0-10h0m2 82h0m0-388h0m0 434h0m0-114h0m0-78h0m1-83h0m2 70h0m0 145h0m0-46h0m1-49h0m0 106h0m0 17h0m0-12h0m1-84h0m0 229h0m1-84h0m0-257h0m1 117h0m1-121h0m4 366h0m1-52h0m0-292h0m1 335h0m0-120h0m1-167h0m0 298h0m1-124h0m1 15h0m0 24h0m0 107h0m1-3h0m1-395h0m0 376h0m2-94h0m0-375h0m1 369h0m1-379h0m0 480h0m0-323h0m1 77h0m1-63h0m0 132h0m1 225h0m0-171h0m0-75h0m1-198h0m0 175h0m2 216h0m2-324h0m1 12h0m0 107h0m0-217h0m1-46h0m1 232h0m0 49h0m1 58h0m0 91h0m0 7h0m0-21h0m2-318h0m0 115h0m1 220h0m1-226h0m0-27h0m1 17h0m1-270h0m0 535h0m1-431h0m1 438h0m0-272h0m0 55h0m1-73h0m0 175h0m0-203h0m1 15h0m0-207h0m1 425h0m0-125h0m0 131h0m0-73h0m1-209h0m0-98h0m1 410h0m0-159h0m1-196h0m2 36h0m1-62h0m0 227h0m4 198h0m1-62h0m2 74h0m0-60h0m1-344h0m1-89h0m2 156h0m0 311h0m2-189h0m0 241h0m1-85h0m0 14h0m0 26h0m1-332h0m0 85h0m1-16h0m2 205h0m1-340h0m0 117h0m1 190h0m0-258h0m0 162h0m1-43h0m2 151h0m0-60h0m1-144h0m1-104h0m0 258h0m0-181h0m1 32h0m1 309h0m2-366h0m1 302h0m1-29h0m1-90h0m0 101h0m1-155h0m0 127h0m0-218h0m3 298h0m0-275h0m0 223h0m1-292h0m0-31h0m2 315h0m0-293h0m1 251h0m1-219h0m1 69h0m1 80h0m0 15h0m3 99h0m1-197h0m0 123h0m0-36h0m1-16h0m1-147h0m12 253h0m3 26h0m2 68h0m3-453h0m3 80h0m1 43h0m0 262h0m1 49h0m0-195h0m2 246h0m1-239h0m0 150h0m1-351h0m0-78h0m0 185h0m1 30h0m1 249h0m1-438h0m1 159h0m0 256h0m0-33h0m1-79h0m0 83h0m1-19h0" stroke="#AA4682"/><path d="M522 777h0m0 251h0m1-216h0m3 94h0m1-117h0m0 329h0m2-284h0m1 199h0m0-109h0m1-41h0m0-4h0m2 114h0m1-304h0m2 442h0m0 37h0m3-433h0m0 217h0m1-259h0m1 460h0m0-117h0m2-241h0m1 192h0m1-207h0m0 314h0m0 16h0m0-293h0m0-172h0m1 418h0m0 86h0m0-3h0m3 32h0m0-237h0m1 40h0m1 23h0m1-250h0m2-26h0m1 44h0m2-56h0m0 481h0m0-342h0m1 238h0m1-131h0m0-191h0m0 256h0m1-346h0m0 241h0m0 124h0m0-53h0m1 47h0m1-74h0m1 51h0m0-96h0m0-73h0m0-56h0m1 9h0m2 269h0m0-146h0m0 65h0m1-91h0m1 100h0m2-152h0m0 193h0m0-149h0m0 228h0m1-42h0m0-30h0m1-83h0m0 104h0m0 41h0m2-147h0m0 124h0m1-55h0m1 51h0m0-155h0m0 223h0m1-210h0m0 156h0m1-34h0m0 80h0m1-193h0m0 124h0m0-105h0m1-127h0m0 93h0m1 221h0m0-124h0m3-284h0m2 85h0m0-39h0m1 209h0m1 78h0m2-280h0m1 8h0m0 164h0m0 87h0m5-318h0m1 125h0m0-19h0m1 159h0m0-12h0m0 140h0m1-130h0m0 153h0m1-403h0m1-146h0m0 522h0m0-195h0m1 129h0m3-150h0m1 12h0m0-87h0m0 168h0m0 6h0m2-238h0m0 91h0m1-154h0m0 404h0m1-259h0m3 0h0m1 252h0m1-319h0m2 178h0m2-76h0m0 216h0m4-120h0m1-272h0m0 441h0m1-248h0m0-174h0m1 92h0m0-14h0m1 185h0m0-272h0m0 145h0m3 238h0m0-277h0m0 152h0m1-26h0m2-160h0m1-95h0m1 357h0m0-219h0m2 73h0m1-224h0m0 37h0m0 411h0m1-196h0m1 83h0m2-257h0m2-74h0m1 113h0m4 210h0m0 139h0m0-169h0m0-2h0m1 134h0m3-29h0m1-181h0m0 200h0m1-116h0m1-104h0m1 170h0m2-67h0m3 12h0m0-330h0m0 163h0m4 18h0m1 156h0m0-216h0m3 32h0m1 50h0m2 176h0m1-67h0m1-38h0m0 262h0m1-239h0m0 19h0m2-170h0m0 301h0m1-99h0m0-197h0m1 349h0m1-466h0m1 304h0m1-183h0m1 205h0m2 132h0m0-368h0m1 201h0m0-45h0m0-244h0m0 267h0m2 91h0m0 16h0m0-325h0m2 88h0m0 282h0m1-209h0m1-194h0m1 312h0m1 110h0m0-394h0m0 47h0m0 173h0m1-94h0m0 224h0m1-186h0m1 228h0m1-359h0m2 134h0m0-3h0m1 111h0m0-305h0m0 264h0m1-254h0m0 348h0m1-273h0m1 228h0m0-295h0m2 116h0m1 62h0m0-125h0m1 213h0m2-208h0m4 308h0m0-136h0m0-85h0m0 130h0m1-243h0m0-51h0m2 160h0m0 166h0m3-114h0m4-213h0m1 162h0m0 52h0m0-73h0m3 2h0m1 97h0m0-142h0m1 306h0m0-417h0m0 165h0m4 70h0m0 35h0m1 160h0m0-84h0m2-395h0m2 205h0m1 265h0m1-185h0m1-115h0m0 307h0m1-70h0m1-201h0m0 43h0m2-146h0m0 320h0m0-11h0m1 50h0m1-231h0m0-44h0m1-44h0m1 6h0m0-11h0m0 52h0m0-59h0m1 242h0m0-157h0m0 57h0m2 182h0m0-216h0m2 182h0m0 56h0m1-326h0m2 93h0m1-92h0m0 97h0m0 70h0m0 41h0m1-17h0m0-199h0m0 341h0m1-22h0m0-355h0m1 284h0m0 115h0m0-575h0m4 573h0m1-119h0m1-41h0m0-291h0m1 149h0m1 263h0m1-474h0m1 473h0m0-53h0m1-237h0m3-39h0m1 133h0m1-87h0m1 45h0m0 1h0m2 124h0m0-44h0m0 225h0m1-153h0m0-60h0m1 88h0m1 92h0m0-564h0m0 496h0m1 37h0m0-97h0m1-235h0m0 141h0m2 33h0m0 97h0m0-172h0m1-158h0m2 167h0m1 125h0m1 73h0m1-125h0m0-298h0m3 265h0m0-151h0m1 189h0m3 159h0m2-113h0m0 83h0m0 80h0m1-25h0m0-511h0m0 276h0m1 164h0m1-491h0m0 298h0m9 5h0m2 208h0m2-56h0m1-266h0m1 163h0m0-190h0m1 20h0m0-13h0m0 243h0m0-12h0m1-350h0m0 161h0m1 378h0m2-336h0m1 55h0m2 131h0m1-88h0m0 59h0m0-90h0m1 144h0m1-264h0m0 192h0m0-71h0m1 12h0m2-176h0m3 259h0m1 93h0m2-365h0m1-14h0m0 361h0m0-113h0m2-102h0m0-201h0m0 450h0m1-321h0m2 241h0m1-75h0m1-65h0m1-75h0m0 146h0" stroke="#AA4682"/><path d="M522 897h0m1-135h0m6 62h0m1 176h0m0 94h0m1-184h0m1-178h0m0 206h0m2 155h0m1-38h0m0-226h0m1 310h0m1-53h0m0-287h0m0 114h0m0 161h0m1 4h0m0-322h0m1 343h0m2-77h0m1 121h0m0-220h0m2 8h0m0 180h0m2-446h0m1 197h0m0 160h0m1-17h0m0-14h0m0 41h0m1 189h0m1-516h0m0 121h0m1-93h0m0-20h0m0 468h0m0-390h0m1-88h0m3 113h0m1 66h0m1 233h0m1-54h0m0-261h0m1 342h0m2-360h0m0 144h0m2 15h0m0 137h0m1-69h0m0-339h0m0 344h0m4-189h0m1 197h0m0-304h0m3 296h0m2-326h0m0 112h0m0 375h0m0-306h0m1 158h0m1-196h0m0-55h0m0 228h0m1-8h0m0 188h0m0-108h0m1-108h0m0-61h0m0-106h0m1 281h0m0-312h0m0 378h0m3-333h0m0 275h0m0 119h0m0-456h0m1 141h0m1 30h0m1-39h0m0 18h0m1 6h0m2 165h0m0-243h0m1 103h0m2-53h0m0-38h0m1 290h0m0-411h0m1 96h0m0 143h0m0-107h0m1 199h0m0-10h0m1-161h0m0 75h0m1-160h0m0-66h0m0 225h0m0 168h0m3-302h0m0 205h0m0 74h0m0-30h0m1-190h0m0 141h0m0-33h0m0-79h0m1 90h0m0-341h0m1 186h0m1 46h0m1-126h0m1 67h0m0-66h0m2 124h0m2-58h0m0-88h0m1 229h0m0-104h0m0 135h0m1 72h0m1-200h0m2-51h0m0-144h0m2-138h0m2 550h0m0-516h0m0 562h0m0-270h0m0 5h0m1 23h0m1 97h0m1 166h0m0-479h0m0 121h0m1 320h0m0 63h0m1-128h0m0-233h0m1 93h0m1 87h0m0 139h0m0-176h0m1-366h0m0 275h0m1 122h0m2-43h0m1-211h0m0 220h0m0 68h0m0-255h0m4 168h0m1 128h0m2 21h0m2-319h0m1 9h0m0 259h0m3-86h0m0 237h0m1-218h0m3-154h0m0 316h0m2-262h0m2 209h0m1-288h0m0 123h0m0 55h0m1-254h0m0 287h0m1-79h0m0 123h0m1-263h0m0 275h0m1-331h0m1 174h0m2 290h0m1-229h0m0 253h0m0-519h0m1 355h0m2-202h0m0-232h0m1 374h0m0 32h0m1-291h0m1 90h0m0 73h0m1-169h0m0 35h0m1-33h0m0 428h0m0-203h0m0 49h0m1 45h0m0 23h0m0-263h0m2 343h0m1-2h0m0 5h0m1 6h0m2-353h0m0 168h0m0 154h0m1 32h0m4-156h0m0-363h0m1 143h0m0 145h0m1-87h0m1 231h0m0 54h0m0 27h0m0-122h0m5 159h0m0-77h0m3-346h0m1 337h0m1-150h0m0-262h0m1 455h0m0-295h0m2-29h0m1-189h0m1 437h0m1-367h0m1 349h0m1-27h0m0-126h0m1 185h0m0-402h0m0 69h0m3 286h0m0-202h0m0-84h0m1 52h0m1-72h0m1 53h0m2-122h0m1 207h0m1-172h0m0 167h0m0 197h0m3-145h0m1 67h0m3-167h0m1 288h0m1-440h0m0-4h0m0 290h0m2-180h0m2 146h0m0 57h0m0-39h0m1-201h0m1 270h0m2-101h0m0 59h0m1 106h0m0-78h0m1 189h0m0-88h0m1 15h0m1 80h0m1-399h0m0 123h0m0 32h0m1 35h0m0 28h0m1 6h0m2-310h0m0 215h0m0 201h0m1-57h0m1-19h0m2 48h0m0-198h0m1 12h0m1-254h0m0 168h0m1-29h0m1 353h0m2-149h0m1 43h0m0 9h0m1-240h0m1 53h0m0 92h0m2 14h0m0 42h0m0-128h0m0 108h0m0-261h0m2 262h0m0 38h0m0-51h0m1 146h0m0-310h0m1 50h0m0 140h0m1 98h0m2-267h0m0-63h0m1 342h0m1-439h0m0 120h0m1 185h0m0 188h0m0-216h0m1-337h0m0 214h0m0 346h0m1-467h0m1 394h0m1-277h0m2-174h0m1 370h0m1 87h0m1 26h0m1-536h0m1 224h0m1 37h0m0 237h0m0-363h0m3 406h0m1-441h0m0 90h0m2 208h0m0-55h0m1 221h0m1 18h0m0-139h0m1-22h0m0-259h0m2 178h0m1 39h0m1 157h0m1-304h0m0-229h0m0 438h0m1-143h0m1 307h0m1-323h0m0 137h0m1-46h0m1 12h0m1-46h0m1-15h0m0 258h0m1-143h0m1-12h0m0-268h0m1 428h0m1-288h0m1 139h0m0-227h0m1-36h0m1-130h0m1 206h0m1 165h0m1-140h0m2-70h0m0-77h0m0 179h0m1-185h0m1-21h0m0 249h0m1 102h0m0-244h0m1 32h0m0 267h0m1 24h0m0-184h0m1 68h0m1 36h0m1 100h0m1-324h0m4 91h0m1 69h0m0 54h0m0-37h0m0 95h0m2 14h0m1 60h0m1-117h0m3-237h0m0 341h0m0-384h0m0 228h0m2-34h0m1-51h0m0-216h0m1 194h0m0-34h0m8 111h0m0-84h0m1 36h0m0-279h0m0 108h0m1 69h0m3 239h0m3-213h0m1-39h0m3 193h0" stroke="#AA4682"/><path d="M522 909h0m0 53h0m1-288h0m1 493h0m1-166h0m0-260h0m5 60h0m2 389h0m2-193h0m1-353h0m0 511h0m3-179h0m1-76h0m2-53h0m0-117h0m1 103h0m1 55h0m2 28h0m0-246h0m0 238h0m0-175h0m1 223h0m2-196h0m0 365h0m0-517h0m0 524h0m0-211h0m0 224h0m1-456h0m0 206h0m1-47h0m0 203h0m1-374h0m0 161h0m0-97h0m1 28h0m0 397h0m1-359h0m0 86h0m1-209h0m0 213h0m2-120h0m1 290h0m1-435h0m0 40h0m1 416h0m0-332h0m0 291h0m0-2h0m1-70h0m1-85h0m1-31h0m1 12h0m0 190h0m1-8h0m1-282h0m1 282h0m0 42h0m3-221h0m1-139h0m1 261h0m0 127h0m0-297h0m3 77h0m1 69h0m0-89h0m0-10h0m1-54h0m0 292h0m3-139h0m0-162h0m0 241h0m2-101h0m0-61h0m0-64h0m0 221h0m1 78h0m1-297h0m1-96h0m1 277h0m0 86h0m0-335h0m0-170h0m1 329h0m2-41h0m0 11h0m2-256h0m0 140h0m0 86h0m2-124h0m0 132h0m0 40h0m2 115h0m1-275h0m0 59h0m0-66h0m2 348h0m0-218h0m1 164h0m1 108h0m2-514h0m1 172h0m2 255h0m2 29h0m2 30h0m3-98h0m0-281h0m3 179h0m1 81h0m2-42h0m0 173h0m1 47h0m0-446h0m0 350h0m0-366h0m0 78h0m1 208h0m0 101h0m1-409h0m0 32h0m0 306h0m1-7h0m1 76h0m0-228h0m1 60h0m0-27h0m1-158h0m0 374h0m2 36h0m0-217h0m1 100h0m1-271h0m0 450h0m0-196h0m2-203h0m7 77h0m1 160h0m0-344h0m2 420h0m0-294h0m0 156h0m2-174h0m0 207h0m1-301h0m3 137h0m1 162h0m0-102h0m1 73h0m0 133h0m1-94h0m1-328h0m1 84h0m2-76h0m1 399h0m1-138h0m0 205h0m1-334h0m2 72h0m1-177h0m0 29h0m0-14h0m1 326h0m1 17h0m0-90h0m0 130h0m1-63h0m0-423h0m2 178h0m0-67h0m3 170h0m2 34h0m1-331h0m0 308h0m1-243h0m1 454h0m0 22h0m0-74h0m0-294h0m2 273h0m1-53h0m0 9h0m0 52h0m1-455h0m1 431h0m0-154h0m1 313h0m0-382h0m0 49h0m0 21h0m1-79h0m1 268h0m1-466h0m0 511h0m1-269h0m3-141h0m0 420h0m2-29h0m0-99h0m0-192h0m3 272h0m1-418h0m3 212h0m0-34h0m1 297h0m0-250h0m0 124h0m1 8h0m2-146h0m0 140h0m1-203h0m0 230h0m0-25h0m1-305h0m1 327h0m1-184h0m0 238h0m1-135h0m1-179h0m2-95h0m1 309h0m5-235h0m0 165h0m2-150h0m1 65h0m1 118h0m0 113h0m1-160h0m2-202h0m1 295h0m0-191h0m0-201h0m1 112h0m0 93h0m0-137h0m3 337h0m1-296h0m0 277h0m2 20h0m1-248h0m1 198h0m1-282h0m2 95h0m1 154h0m0 250h0m1-326h0m2-85h0m0 92h0m1-121h0m2 241h0m1 29h0m1-63h0m0-251h0m1 400h0m1-83h0m0-123h0m3 145h0m1 65h0m0-348h0m0 316h0m1-485h0m1 466h0m0-236h0m1 88h0m0 13h0m1 74h0m1-324h0m1 65h0m0 159h0m0 159h0m3-402h0m0 351h0m2-85h0m0 64h0m1-99h0m1-62h0m0 80h0m0-171h0m1 210h0m0 230h0m1-256h0m1 123h0m0-37h0m0-38h0m1 88h0m1-153h0m0 156h0m2-138h0m0 32h0m0 51h0m3-74h0m0-167h0m1 9h0m0 18h0m0 171h0m1-109h0m1 195h0m0-93h0m0-8h0m1-208h0m1 100h0m0-17h0m0 72h0m2 213h0m1-34h0m0-54h0m1 147h0m0-20h0m1-430h0m0 421h0m3-331h0m2 198h0m1-332h0m0 403h0m0-28h0m1-225h0m0 17h0m2-49h0m0 302h0m3-363h0m1 449h0m1-424h0m0 209h0m1 119h0m0-409h0m1 245h0m1-287h0m1 513h0m1-464h0m1 465h0m1-320h0m0 155h0m1-90h0m1 69h0m0-29h0m0-79h0m1 139h0m1-182h0m0-79h0m2 178h0m0 17h0m0-45h0m2 248h0m1-112h0m2-54h0m0 95h0m2-50h0m1-142h0m1 133h0m0-57h0m1 41h0m1-137h0m3 163h0m1 14h0m2-167h0m1-61h0m5 265h0m0 29h0m0-347h0m2 412h0m1 4h0m0-50h0m0-72h0m1 104h0m0-424h0m1 131h0m3 311h0m0-108h0m1-94h0m1 141h0m1-61h0m1-233h0m0 93h0m0-49h0m0 275h0m1 67h0m2-552h0m1 426h0m0-19h0m1 105h0m2-264h0m1 65h0m1-206h0m0 17h0m0 432h0m2-237h0" stroke="#AA4682"/><path d="M522 1023h0m0 53h0m1-209h0m3 19h0m1 93h0m2 143h0m1-351h0m1 215h0m1-37h0m1-216h0m0 348h0m0-220h0m1 46h0m1 28h0m1-12h0m0 182h0m0-341h0m1 351h0m1-431h0m0 385h0m1-204h0m2 155h0m3 66h0m2-30h0m1 101h0m0-71h0m0-331h0m1 54h0m1-25h0m1 116h0m0-50h0m1 215h0m0 134h0m2-201h0m1-197h0m0-162h0m2 95h0m0 421h0m1-224h0m2 180h0m1-135h0m0 122h0m1-93h0m0 151h0m1-356h0m1 224h0m0-246h0m1-119h0m0 423h0m0-1h0m2-278h0m1 298h0m3-71h0m1-43h0m4-16h0m0-149h0m1 202h0m0 117h0m1-147h0m2 110h0m0-235h0m1-84h0m0 50h0m1-9h0m1 306h0m0-286h0m1 357h0m1-225h0m0-25h0m3-81h0m1-105h0m1 137h0m0-151h0m1 256h0m1-271h0m0 48h0m1-112h0m0 247h0m0-145h0m0 259h0m1 40h0m1-133h0m0-86h0m0 250h0m1-318h0m0 164h0m0 1h0m5 161h0m0-373h0m1-16h0m1 331h0m2-348h0m2 18h0m0 235h0m1-132h0m0 18h0m0 282h0m1 36h0m1-32h0m3-375h0m1 82h0m1 61h0m2-272h0m0 478h0m1-137h0m0-150h0m1-179h0m0 410h0m0 7h0m0-161h0m1-46h0m0 300h0m0-449h0m0 484h0m0-245h0m3 235h0m0-15h0m0-233h0m2 290h0m0-409h0m0 15h0m0 138h0m2-78h0m1-204h0m0 341h0m1 26h0m0-269h0m1 84h0m1-94h0m0 331h0m0 9h0m4-144h0m0-18h0m1 121h0m3-281h0m0 165h0m1 57h0m0 78h0m1-415h0m1 185h0m1 286h0m0-72h0m2 12h0m2-353h0m1 36h0m3 206h0m3 246h0m3-445h0m0 270h0m0-77h0m0 158h0m1-33h0m1-245h0m0 310h0m3-293h0m0 351h0m0-97h0m2-283h0m1 324h0m0-424h0m2 139h0m1-87h0m0 59h0m1-20h0m1 114h0m2-6h0m0-111h0m1-98h0m2 497h0m0-289h0m1 297h0m0-38h0m1-57h0m0-532h0m1 183h0m1 79h0m0-95h0m0-44h0m3 387h0m1-169h0m0 109h0m2-238h0m2 359h0m2-553h0m2 86h0m1 178h0m0 181h0m0-109h0m0 24h0m1-218h0m2 144h0m0 21h0m0-104h0m1 190h0m1 210h0m0-55h0m1-256h0m0-275h0m0 127h0m0 349h0m1-209h0m1-39h0m2 99h0m0-131h0m0 134h0m1-130h0m0 142h0m1-159h0m4-120h0m0 29h0m1 108h0m0-88h0m1 283h0m1-29h0m1-361h0m0 405h0m3-22h0m0-289h0m0-46h0m1 338h0m3-159h0m2 81h0m0-174h0m0 243h0m1 40h0m1-288h0m0 280h0m4-365h0m0 230h0m2-90h0m1 151h0m2-78h0m0-203h0m1 119h0m0 286h0m0-170h0m1 97h0m1-188h0m2 218h0m0-70h0m1-4h0m0 44h0m1 45h0m2-372h0m1 269h0m1-174h0m2-10h0m0 225h0m1-70h0m0-120h0m1 110h0m1-173h0m1 76h0m1-20h0m1-69h0m1 44h0m4 102h0m0-252h0m3 215h0m1 209h0m2-245h0m0-53h0m0 366h0m1-36h0m3-434h0m0 453h0m0-128h0m1-217h0m1 262h0m0 26h0m1-30h0m1-333h0m2 65h0m0 226h0m1-70h0m1-140h0m2 176h0m0 256h0m2-214h0m0-137h0m1 295h0m1-268h0m1 105h0m0-96h0m1 75h0m0 33h0m1 30h0m0-151h0m0 73h0m1 152h0m0 42h0m1-23h0m0-192h0m1 87h0m0-128h0m1-125h0m0 182h0m0 111h0m1-138h0m0-248h0m2 133h0m0 421h0m3-514h0m0-36h0m2 8h0m2 452h0m2-176h0m4-243h0m1 104h0m0-50h0m0 75h0m2-210h0m0-60h0m1 325h0m1-82h0m0 313h0m0-335h0m1 385h0m1-160h0m1-201h0m0 248h0m1-207h0m1 57h0m0-208h0m0 69h0m1 381h0m3-101h0m0-275h0m2-170h0m0 534h0m0-15h0m2-311h0m1-161h0m0 74h0m0 15h0m2 51h0m0-36h0m0 190h0m2-106h0m1 307h0m1-189h0m0 181h0m0-49h0m1-160h0m0-148h0m1 141h0m1 240h0m3-322h0m0-37h0m0 27h0m1 288h0m4-249h0m1 259h0m1 20h0m2 33h0m1-259h0m0 103h0m2 112h0m1-510h0m0 180h0m1-205h0m0 347h0m4-79h0m0 31h0m0-166h0m0 245h0m0-312h0m2 308h0" stroke="#AA4682"/><path d="M859 1016h0m0 216h0m4-94h0m2-47h0m5 154h0m1-12h0m1-132h0m0 68h0m2 42h0m1-154h0m0 58h0m4 113h0m1-242h0m0 162h0m0-22h0m2-87h0m1-30h0m0 178h0m2 18h0m0-179h0m0 141h0m2-46h0m1 68h0m1-82h0m1 31h0m1-65h0m2 115h0m1-212h0m4 245h0m0-68h0m1 95h0m1-187h0m0-24h0m1 30h0m2-6h0m1 146h0m0-145h0m2 140h0m4-181h0m0-1h0m9 35h0m1-21h0m0 41h0m1 59h0m3 35h0m2 2h0m0-3h0m4 68h0m0-171h0m4-17h0m1 137h0m3 21h0m1-164h0m1 30h0m2 96h0m0-144h0m6 108h0m0 82h0m0-113h0m1 23h0m2-3h0m0 113h0m0-23h0m2-47h0m1-10h0m1 14h0m0-182h0m0 16h0m1 103h0m3-40h0m3-11h0m3 172h0m2-173h0m5-33h0m2 196h0m5-203h0m1 182h0m0-96h0m2-102h0m4 133h0m3-76h0m0 60h0m5 14h0m3 140h0m0-131h0m0-89h0m1 153h0m2 18h0m1-189h0m1 119h0m1 23h0m0 84h0m0 24h0m3-159h0m0-17h0m0 143h0m0 34h0m6-257h0m1 156h0m5 14h0m2-152h0m2 66h0m0 85h0m0-47h0m1 77h0m4-230h0m1 254h0m0-174h0m0-75h0m5 52h0m0 20h0m1 212h0m4-140h0m7-97h0m0 174h0m1-90h0m0 101h0m4-37h0m3-7h0m0-54h0m1-52h0m3 200h0m1-52h0m1-184h0m0 21h0m5-25h0m0 91h0m2 71h0m1-180h0m2 122h0m0 113h0m1-47h0m0-72h0m2 50h0m0 35h0m1 25h0m1-64h0m4-151h0m2 109h0m0 68h0m1-13h0m0-35h0m0 4h0m0 98h0m1-264h0m3 154h0m0 35h0m2 11h0m0-58h0m2-99h0m0 80h0m0 27h0m2-64h0m1 77h0m0 53h0m2-219h0m0 21h0m2 17h0m1 190h0m0-3h0m0 49h0m0-170h0m0 57h0m1-121h0m1-57h0m1 288h0m1-38h0m0-166h0m1 65h0m1-119h0m1 271h0m0-92h0m1-40h0m0-98h0m0 172h0m1-104h0m0-8h0m0-28h0m1 4h0m1 66h0m4-113h0m4 151h0m0-59h0m1 111h0m1-104h0m1 125h0m0-112h0m1 2h0m1 66h0m8 22h0m0-258h0m2 178h0m1-112h0m0 59h0m0 95h0m1-145h0m2 50h0m5 82h0m2 89h0m0-150h0m2-15h0m2-6h0m2-80h0m1-13h0m0 43h0m0 124h0m2-88h0m2 7h0m2 108h0m1 11h0m1-209h0m1 102h0m0-34h0m2 104h0m3 56h0m1-207h0m3 165h0m1 57h0m1-24h0m0-97h0m1-49h0m2 100h0m0-15h0m3-128h0m1 75h0m1-22h0m0 40h0m1 53h0m1-128h0m1 106h0m1-64h0m1 24h0m1-20h0m2 96h0m0-168h0m1 160h0m2-171h0m2 40h0m1 125h0m2-183h0m0 225h0m3-50h0m2-95h0m3 37h0m3 6h0m2 41h0m1-125h0m0 197h0m2-48h0m1-78h0m3-11h0m0 149h0" stroke="#4A8CB2"/><path d="M858 988h0m1 143h0m0-81h0m5 205h0m2-222h0m2 202h0m4-22h0m0-93h0m2 44h0m1-31h0m1 129h0m3 10h0m0-51h0m0-200h0m3 141h0m3-144h0m0-4h0m1 170h0m0 85h0m0-99h0m1-141h0m7 185h0m9-21h0m3-113h0m1 207h0m1-228h0m0 108h0m1 61h0m2-16h0m0-48h0m1-77h0m0 42h0m2-94h0m0-51h0m0 204h0m0-182h0m1 13h0m0 75h0m3 82h0m1-148h0m3 62h0m1 124h0m1 40h0m0-1h0m3-149h0m1 81h0m0 6h0m1 60h0m1-106h0m1 94h0m0-166h0m1 6h0m0 163h0m0-177h0m2 126h0m2-11h0m6-8h0m1-33h0m1 109h0m1-85h0m2-157h0m3 64h0m1-57h0m0 167h0m2-52h0m3 71h0m1-144h0m0 77h0m0 84h0m1-78h0m0 66h0m1 21h0m1-98h0m1-102h0m1 85h0m1 78h0m3 55h0m2-181h0m3 100h0m10-170h0m0 63h0m1 145h0m1-169h0m1 152h0m2-60h0m0 84h0m1-51h0m1-126h0m4-59h0m0 176h0m1-149h0m2 200h0m4-25h0m2-4h0m2 37h0m2-45h0m1 73h0m0-125h0m4 24h0m0-37h0m2 133h0m0-61h0m7-155h0m0 59h0m1-19h0m0 22h0m1 89h0m3 17h0m1-157h0m7 113h0m1-4h0m1-94h0m1 111h0m0-143h0m4 97h0m2-101h0m2 107h0m0 88h0m1-13h0m0-178h0m1-23h0m4 228h0m1-79h0m0-148h0m1 164h0m0 114h0m0-261h0m2 171h0m2 61h0m1-126h0m2-102h0m0 260h0m2-73h0m3-64h0m2-109h0m1 226h0m0-104h0m0 93h0m1-4h0m4-74h0m4-138h0m2 93h0m1 121h0m0-206h0m0 71h0m0 81h0m2 75h0m0-178h0m0-34h0m1 135h0m2-55h0m2-55h0m3-48h0m0 181h0m0 56h0m3-235h0m0 28h0m2 60h0m0 145h0m1-261h0m1 188h0m0 18h0m0-107h0m1-39h0m0 93h0m0 41h0m1 72h0m3-204h0m4 13h0m0-79h0m0 214h0m1-204h0m0 274h0m0-177h0m1 63h0m12-73h0m0 59h0m1 113h0m0-184h0m0 178h0m1 26h0m0-235h0m3 103h0m1-120h0m0 47h0m1-66h0m4 100h0m0 84h0m2-130h0m0 95h0m4 7h0m1-41h0m1 88h0m0-20h0m2-55h0m4 124h0m1-148h0m0 135h0m2-25h0m1 45h0m7-208h0m1 38h0m1 143h0m0-168h0m2-21h0m1 53h0m1-17h0m1 138h0m3-13h0m0-151h0m4 126h0m4-80h0m1 156h0m4-87h0m3 54h0m2-93h0m1 56h0m0-97h0m2-69h0m0 223h0m4-141h0m1 101h0m4-168h0m2-44h0m0 196h0m3-60h0m1 69h0m1-113h0m0 51h0m0-108h0m2 108h0m0-144h0m0 41h0m1 67h0m1 82h0m1-130h0m2 78h0m0-94h0m4 80h0m1 28h0m0 71h0" stroke="#4A8CB2"/><path d="M857 1021h0m0 55h0m1-4h0m1 115h0m1-184h0m0 85h0m2 35h0m1-23h0m0 49h0m3 73h0m0-5h0m0-85h0m0-36h0m2 83h0m3-176h0m0 79h0m1 55h0m1 108h0m6-35h0m8-146h0m1 176h0m1-99h0m3-88h0m7 190h0m1-186h0m0 122h0m0 89h0m3-154h0m0-93h0m0 162h0m4 74h0m0-179h0m0-32h0m2 101h0m2-146h0m0 112h0m1 113h0m1-2h0m1-166h0m1 102h0m6-37h0m0 60h0m0 20h0m1-188h0m2 207h0m1-111h0m1-41h0m5 103h0m0-9h0m0 57h0m16-170h0m3 118h0m0-77h0m1-51h0m0 58h0m3 79h0m1-113h0m1 119h0m1 25h0m1-166h0m3 26h0m1 89h0m0 105h0m0-89h0m1-11h0m0 46h0m0 32h0m4-175h0m8-49h0m0 165h0m1-160h0m0 107h0m4 97h0m3-28h0m0 42h0m4-69h0m0-112h0m6 55h0m0-82h0m0 125h0m3 27h0m1-188h0m1 249h0m0-149h0m2 89h0m1-67h0m3-69h0m2-24h0m1 100h0m2-126h0m1 174h0m0-49h0m1 85h0m2-192h0m1 240h0m1-133h0m3-50h0m3-63h0m0 221h0m1-91h0m5-96h0m2-16h0m1 81h0m1 44h0m1 9h0m1-50h0m2 3h0m4 124h0m3-86h0m1-134h0m0 12h0m1-24h0m0 140h0m0 63h0m0-222h0m3 90h0m4-56h0m2 41h0m1 100h0m3 3h0m1 35h0m4-88h0m1 39h0m0-48h0m4-20h0m0 80h0m0-161h0m2 57h0m3 15h0m0 27h0m2 7h0m1 49h0m2-75h0m1 139h0m1-26h0m2-148h0m1 223h0m1-161h0m0 71h0m2-104h0m0 145h0m2-187h0m0 8h0m3 113h0m3 66h0m1-31h0m1 55h0m1-51h0m0-170h0m0 29h0m0-16h0m1 192h0m0-132h0m0 168h0m0-221h0m4 183h0m0 11h0m2-21h0m1-35h0m1 30h0m2 23h0m0-136h0m3-96h0m0 168h0m0 45h0m2-53h0m1-9h0m2-51h0m1-45h0m1-44h0m0 110h0m1-80h0m0 37h0m1 86h0m0-61h0m0 62h0m2-79h0m1-71h0m2 101h0m1-27h0m0 70h0m1-85h0m1-99h0m1 77h0m1 130h0m2 39h0m1-192h0m3 212h0m3-104h0m2-76h0m1 93h0m2-106h0m3 13h0m0 47h0m3 136h0m3-24h0m0-188h0m1 203h0m1-156h0m1 114h0m2-135h0m1 43h0m1 69h0m1 27h0m0-81h0m1 104h0m1 13h0m1-57h0m1-126h0m3 156h0m0 75h0m2-35h0m7-47h0m4-154h0m5-32h0m0 57h0m2 103h0m2-157h0m0 32h0m1 15h0m1-66h0m4 29h0m0 142h0m1-85h0m6 63h0m0 45h0m2-120h0m6-7h0m1 86h0m2-95h0m0 40h0m0 102h0m0 34h0" stroke="#4A8CB2"/><path d="M857 1043h0m0 39h0m1 127h0m3-154h0m1 2h0m0 101h0m1-94h0m0-37h0m1 90h0m3 40h0m0 6h0m4 45h0m0-27h0m1-151h0m3 79h0m0 116h0m0-84h0m3 18h0m1 17h0m0-104h0m1 11h0m2 161h0m1-230h0m0 98h0m1-50h0m5-69h0m1 105h0m2 119h0m1-201h0m2 115h0m0 0h0m8-73h0m3 131h0m7-134h0m3 100h0m1-13h0m1-115h0m1 138h0m1-10h0m6-118h0m0 233h0m2-238h0m0 194h0m1-163h0m0 199h0m1-114h0m1-125h0m2 186h0m1-189h0m5 253h0m0-203h0m2-43h0m4 137h0m1 64h0m2-205h0m1 4h0m0 121h0m4-8h0m1 53h0m0-74h0m1 121h0m1-67h0m1 20h0m2-120h0m1 64h0m1 44h0m5-176h0m0 12h0m1 152h0m2-181h0m0 24h0m1 207h0m0-89h0m4 78h0m1-122h0m1 81h0m1-61h0m2-48h0m0 127h0m0-164h0m0 198h0m1-229h0m2 12h0m1 139h0m1-12h0m1 107h0m1-145h0m1-69h0m1 204h0m3-106h0m2-34h0m1-84h0m1 243h0m1-227h0m2 158h0m0-70h0m1-3h0m2 36h0m2-64h0m3-59h0m0 53h0m1 39h0m1-68h0m1 102h0m4-88h0m1 30h0m0 34h0m1 83h0m4-105h0m1 90h0m3-36h0m1-110h0m0 120h0m1 41h0m1-13h0m3-16h0m0-41h0m1 129h0m1-228h0m1 109h0m0-42h0m1-74h0m2 108h0m0-7h0m3 77h0m3-68h0m1-145h0m0 75h0m1 14h0m3 66h0m4-42h0m1 14h0m0 71h0m0-144h0m4-15h0m6 43h0m1 108h0m3 46h0m5-78h0m3-132h0m0-1h0m4 221h0m0-55h0m0-77h0m1 46h0m2 107h0m0-65h0m2 66h0m1-14h0m2-133h0m0-5h0m0 40h0m1-17h0m0 83h0m3-2h0m1-145h0m0 112h0m2-96h0m3 208h0m1-248h0m0 166h0m2-79h0m0 130h0m0-62h0m1-109h0m0-73h0m2 226h0m4 15h0m0-263h0m0 208h0m1-29h0m0-165h0m1 19h0m3 9h0m1 23h0m3 100h0m0 72h0m2 50h0m1-72h0m1 12h0m1-73h0m0-50h0m1 65h0m0 42h0m2-153h0m1 17h0m2 176h0m0-66h0m4-141h0m0 2h0m3-13h0m0 122h0m1-81h0m0 55h0m2-102h0m4 85h0m0 109h0m1-115h0m1-11h0m2 128h0m0 18h0m0-46h0m2 45h0m0-183h0m1 114h0m3-117h0m2 92h0m3-77h0m1 203h0m1-148h0m1 126h0m1-106h0m2 84h0m0-23h0m0-162h0m2 191h0m0-142h0m0 164h0m1-203h0m0 41h0m0 132h0m2 38h0m0-116h0m4 41h0m1 25h0m7 43h0m0-212h0m2 105h0m3 88h0m2-10h0m1-148h0m2-43h0m2 120h0m0 44h0m2-13h0m0-169h0m2 158h0m0-150h0m2 1h0m0 197h0m1-111h0m1 100h0m2-122h0m1 125h0m0-151h0m3 56h0m2-20h0m2 139h0m1-100h0m5-108h0m0-2h0" stroke="#4A8CB2"/><path d="M857 1093h0m0 24h0m2-41h0m0 49h0m2 135h0m2-51h0m2 65h0m2-83h0m1 52h0m1-36h0m2-165h0m0 81h0m2-2h0m0-162h0m1 4h0m1 166h0m1-87h0m1 130h0m0 58h0m2-10h0m1-243h0m0 188h0m1-95h0m0 78h0m0 136h0m3-317h0m1 243h0m2 27h0m1-34h0m0-194h0m0 160h0m1 88h0m2-278h0m0 214h0m1-35h0m3-29h0m2 121h0m1-130h0m0 120h0m0-115h0m2-18h0m1-5h0m0 66h0m1-131h0m1 96h0m0 70h0m0-32h0m0 85h0m1-26h0m2-199h0m2 76h0m2 34h0m0-94h0m1-18h0m0 88h0m1-123h0m0 143h0m1-160h0m0 88h0m6 84h0m2-101h0m2 179h0m1 36h0m0-98h0m1-8h0m1-126h0m2-10h0m3 240h0m4-87h0m1 66h0m0-146h0m1 93h0m0-127h0m3 42h0m1 77h0m0-65h0m1 133h0m1-154h0m0 48h0m0-99h0m1 167h0m2-25h0m1-118h0m0 75h0m1-22h0m8 115h0m1-136h0m1 65h0m0 74h0m0-58h0m2-97h0m1 67h0m6-111h0m1 84h0m2-58h0m1-20h0m3 130h0m1-27h0m0-115h0m2-47h0m1 124h0m2 3h0m0-106h0m1-48h0m1 17h0m2 88h0m0 40h0m2 81h0m1-120h0m0 147h0m0-82h0m0-54h0m1 23h0m1 54h0m0-136h0m4 214h0m0-213h0m7 221h0m3-40h0m0 73h0m1-56h0m0-71h0m1-105h0m2 172h0m1-196h0m0 240h0m2-227h0m0 8h0m0 16h0m3 122h0m2 65h0m1-161h0m3-71h0m5 101h0m3 125h0m3-15h0m1-105h0m0 8h0m1-30h0m3-5h0m1 177h0m1-224h0m2 207h0m1-198h0m2 159h0m1-72h0m2 25h0m1-73h0m0 118h0m4-109h0m2 56h0m1-29h0m1 56h0m5-130h0m2 91h0m0 49h0m2-115h0m2-69h0m0 12h0m2 98h0m0-29h0m0-58h0m0 3h0m1 126h0m0-144h0m1 241h0m0-25h0m2-178h0m1 149h0m1 8h0m1 28h0m4-171h0m1 29h0m3-2h0m0-61h0m1 207h0m1-11h0m1-140h0m0-6h0m0 157h0m1-118h0m0-5h0m0 49h0m1 66h0m1-177h0m1 200h0m2-163h0m3 28h0m1 24h0m1 60h0m2 10h0m6-188h0m1 138h0m0 125h0m1-253h0m1 110h0m2-14h0m2-83h0m1 81h0m2-76h0m1 206h0m1-18h0m2-121h0m0 76h0m0 17h0m1-99h0m0-85h0m2 157h0m1-99h0m3-54h0m1 103h0m1-40h0m0 145h0m2-122h0m3 7h0m4 111h0m5-14h0m1-129h0m6 125h0m2-129h0m3-59h0m1 135h0m0 69h0m0-214h0m4 106h0m1 43h0m1-213h0m1 56h0m0 28h0m0 186h0m0-199h0m0-11h0m4 149h0m1-139h0m0 218h0m1-68h0m4-12h0m0-108h0m1-2h0m2 26h0m2 117h0m2-70h0m6-28h0m2 108h0m3-157h0m2-31h0m0 74h0m0 6h0m0 135h0m1-134h0m2-51h0m2 51h0m0-69h0m3 127h0m0-151h0m0-33h0m4 69h0m0 79h0m0 110h0m1-219h0m0 214h0m0-37h0m1-11h0m0-8h0m0-84h0m1 134h0m0-68h0m3-46h0m0-16h0m0 7h0m2 79h0m2-97h0m0 5h0" stroke="#4A8CB2"/><path d="M1217 1203h0m0-178h0m1 38h0m1-63h0m2 162h0m2-140h0m2 154h0m3-64h0m3 21h0m0-78h0m1 25h0m2-91h0m1 122h0m1-32h0m0 39h0m1 41h0m1-68h0m2 89h0m3 16h0m0-188h0m1 125h0m1 31h0m0-93h0m1 67h0m1 65h0m0-91h0m10 65h0m3 62h0m3-177h0m1-56h0m2-52h0m4 17h0m0 272h0m1-184h0m1-10h0m1 163h0m0-114h0m2 85h0m2-135h0m0 120h0m0-139h0m4 101h0m2 39h0m0-19h0m2 25h0m0-141h0m3 70h0m1 27h0m0 32h0m5-35h0m0 70h0m1-136h0m0 48h0m1-83h0m1-63h0m1 244h0m1-140h0m2 93h0m2 19h0m0 23h0m0-195h0m4 75h0m3-43h0m2-50h0m0 197h0m5-188h0m4 27h0m0 161h0m2-217h0m3 140h0m2-129h0m1 204h0m0-60h0m1 53h0m1 18h0m4-189h0m1 122h0m1-171h0m0 152h0m1 98h0m3-158h0m1-67h0m1-12h0m2 21h0m2 124h0m1-18h0m1-12h0m0 156h0m1-207h0m0 110h0m2-116h0m2 38h0m3-22h0m1 161h0m4-49h0m3-202h0m0 82h0m2 190h0m1-277h0" stroke="#1EB4F0"/><path d="M1217 1206h0m2-140h0m2 42h0m2-118h0m3 198h0m2-33h0m1-140h0m1 200h0m1-164h0m1 157h0m2-100h0m0 83h0m1-2h0m0-146h0m0-31h0m1 227h0m1-136h0m1-95h0m2 214h0m8-246h0m1 292h0m2-202h0m0 22h0m0-73h0m1 155h0m0-190h0m2 186h0m0-63h0m1 60h0m0 29h0m2-157h0m3 55h0m2-67h0m0 13h0m1 162h0m1-101h0m4-151h0m3 133h0m0 129h0m0-175h0m2 155h0m0-113h0m2 214h0m2-196h0m6 32h0m3 57h0m0-152h0m4 85h0m1-131h0m3 147h0m1 15h0m1-22h0m0 65h0m3-160h0m1 34h0m0-86h0m1 74h0m2-78h0m4 24h0m1 209h0m1 40h0m0-313h0m1 225h0m1 98h0m0-258h0m1-34h0m3 121h0m0 119h0m1-169h0m0-88h0m2 231h0m0-126h0m1 160h0m3 24h0m0-177h0m2-74h0m5 129h0m3-89h0m1 118h0m0-169h0m1-24h0m1 158h0m2 63h0m0-207h0m0 101h0m1 99h0m0-123h0m2 45h0m0-83h0m1-13h0m0 66h0m1-35h0m1 3h0m1 40h0m0 6h0m1 105h0m0-185h0m1 186h0m2-19h0m0-16h0m1 65h0m0-230h0m1 58h0m1 192h0m1-29h0m2 37h0m2-112h0m1 48h0m1-29h0m0 111h0m3-56h0m0-26h0m0-74h0m2-40h0" stroke="#1EB4F0"/><path d="M1217 1221h0m3-101h0m2 4h0m2-166h0m1 17h0m1 197h0m0 51h0m1-210h0m4-43h0m2 53h0m1 198h0m2-84h0m2-22h0m0-93h0m1 27h0m5 136h0m2-208h0m0 243h0m2 54h0m0-76h0m1-21h0m2-32h0m0 80h0m3-272h0m2 76h0m5-59h0m4 5h0m1 132h0m0-40h0m2 152h0m2-216h0m0 99h0m1 3h0m1 77h0m0-66h0m1 77h0m0-173h0m1 123h0m2-111h0m1 54h0m1-18h0m2 32h0m3 36h0m2-11h0m2 91h0m3-107h0m0 139h0m1-130h0m4-3h0m1-137h0m1 114h0m2 100h0m3 46h0m1-172h0m2 95h0m2 72h0m0-145h0m2 45h0m0-19h0m7-128h0m2 119h0m1-117h0m0 37h0m1-8h0m0 141h0m4-112h0m1 162h0m1-204h0m1-31h0m0 22h0m0 220h0m1-112h0m0-96h0m2 129h0m0-62h0m1 39h0m0 140h0m0-237h0m1 34h0m3-68h0m1 154h0m0-166h0m1 212h0m1 65h0m0-172h0m4-9h0m1-48h0m4 36h0m6 7h0m2 142h0m3 30h0m1-199h0m1 182h0m1-210h0m2 184h0m4-59h0m1 133h0" stroke="#1EB4F0"/><path d="M1217 998h0m0 4h0m0 4h0m1 87h0m3-93h0m1 22h0m1 89h0m0 154h0m2-54h0m0-204h0m1 88h0m1 28h0m1-5h0m0-19h0m3 105h0m0-180h0m3 181h0m1 1h0m0-223h0m2 156h0m0-74h0m3 22h0m5-58h0m1 13h0m5 86h0m1 59h0m1-104h0m1 82h0m3-156h0m1 225h0m5-207h0m0 74h0m2 56h0m0-24h0m2-38h0m1-134h0m0 92h0m1 93h0m0-17h0m1-147h0m2 169h0m0-166h0m1 149h0m0 87h0m0-64h0m1 50h0m0-217h0m2 21h0m0 242h0m2 18h0m1-27h0m4-78h0m1-177h0m2 67h0m1 171h0m1-254h0m6 244h0m1-78h0m0 49h0m1-12h0m1-163h0m4 109h0m0-10h0m1-65h0m7 155h0m0-32h0m1 60h0m3-33h0m0-245h0m2 217h0m0-198h0m1 117h0m0-88h0m4 197h0m3-175h0m0 164h0m0 55h0m5-39h0m1-153h0m0 92h0m1-130h0m0-24h0m0 44h0m2 215h0m0-159h0m1 71h0m1-25h0m0 13h0m0-18h0m0-94h0m4 148h0m0 12h0m1-40h0m0 20h0m3-198h0m1 255h0m0-75h0m5-111h0m8 229h0m0-45h0m0-221h0m0 107h0m1 140h0m0 10h0m3-145h0m0-36h0m0 96h0m1-151h0m0-47h0m4 256h0m0-84h0m0 41h0m1-132h0m0-59h0m1-4h0m1 8h0" stroke="#1EB4F0"/><path d="M1217 983h0m0 119h0m1 141h0m0-114h0m1-87h0m1 85h0m0 9h0m4-56h0m3-84h0m2 150h0m1 23h0m1-168h0m6 126h0m2-168h0m1 147h0m12-33h0m0 129h0m0-214h0m1 51h0m9 49h0m0 55h0m9-7h0m0-42h0m1 5h0m0 104h0m2-121h0m2 175h0m0-250h0m1 197h0m4-12h0m2 25h0m2 16h0m3-289h0m0 64h0m1-50h0m3 120h0m2-83h0m3 109h0m0-19h0m0-77h0m3 139h0m3-12h0m1-53h0m5-118h0m1 174h0m5-101h0m0 160h0m3 20h0m0-254h0m2 173h0m1-44h0m0 59h0m0-158h0m1 42h0m3 117h0m0-103h0m2 176h0m1-1h0m0-234h0m0 72h0m0 172h0m2-273h0m0 257h0m4-134h0m1 85h0m3-138h0m0 172h0m0 35h0m2-253h0m2 60h0m0 7h0m3-107h0m1 83h0m2 111h0m1-13h0m2-74h0m0 118h0m1 65h0m1-180h0m3 90h0m0-99h0m0-55h0m0-28h0m1 59h0m0 200h0m1-146h0m0 137h0m1-26h0m1 83h0m1-286h0m1-20h0m3 175h0m0-45h0m2 81h0" stroke="#1EB4F0"/><path d="M1372 1197h0m3 25h0m1-133h0m0 128h0m1 104h0m1-188h0m2 170h0m2-128h0m4-55h0m0 253h0m7-128h0m0 21h0m1-97h0m1 83h0m1 52h0m1-84h0m1 161h0m2-139h0m1 41h0m3-56h0m7 158h0m2-233h0m0 71h0m1-28h0m3 54h0m0-32h0m3-41h0m1 200h0m1-206h0m1 189h0m1 31h0m2-110h0m1-99h0m1 108h0m1-105h0m1 111h0m2-30h0m0 111h0m2-151h0m0 5h0m0 93h0m1 11h0m1 68h0m3-275h0m5 195h0m2-135h0m0 149h0m0 42h0m3-18h0m0-63h0m0 59h0m2-7h0m0-138h0m1 177h0m2-195h0m2-6h0m1 65h0m2-72h0m3 186h0m2-158h0m2 162h0m1-64h0m1-172h0m2 52h0m2 188h0m2-111h0m2 11h0m1 30h0m3-49h0m1-84h0m1 169h0m1-63h0m1 52h0m2-165h0m3 34h0m0 27h0m3 46h0m0 85h0m0-46h0m1-9h0m1-69h0m1 94h0m1-64h0m1 20h0m1-17h0m1-99h0m1 94h0m1 38h0m1 56h0m3-44h0m1-18h0m0-87h0m1 63h0m4-97h0m1 103h0m3 3h0m1 52h0m2 21h0m0-26h0m1-118h0m0 58h0m0 95h0m0-112h0m1-12h0m1 73h0m0-143h0m0 196h0m4-79h0m0 68h0m1-68h0m2-5h0m0-40h0m1 63h0m2-113h0m2 54h0m4 143h0m1-145h0m1 140h0m2-52h0m5 43h0m3-77h0m1 36h0m4-100h0m4 59h0m2 19h0m1-12h0m3 89h0m3-284h0m1 204h0m0-64h0m1 100h0m2-88h0m0-19h0m4 45h0m2-103h0m1 120h0m0-54h0m0 21h0m5-86h0m2 102h0m0-35h0m4 90h0m0-121h0m1 174h0m0-99h0m0-19h0m2-85h0m0 121h0m1-118h0m1-45h0m3 47h0m1 139h0m1-63h0m7 118h0m1-171h0m4 13h0m1 73h0m4 44h0m2-157h0m0 199h0m1-82h0m1 5h0m3-106h0m1-28h0m3 67h0m1 88h0m5-59h0m2 3h0m4-93h0m3 12h0m0 133h0m3-46h0m0 3h0m1-55h0m0-58h0m2 171h0m4 20h0" stroke="#46E6D2"/><path d="M1377 1353h0m0 18h0m0-38h0m2-51h0m1 142h0m0-177h0m1 70h0m0-6h0m1-112h0m0 146h0m1-152h0m0 197h0m0 12h0m2-158h0m0 36h0m3 15h0m0 9h0m6-16h0m0 59h0m1-155h0m1 236h0m3-214h0m4 36h0m3 89h0m1-126h0m0 139h0m1-187h0m1-28h0m2 229h0m3 26h0m1-145h0m2 115h0m0 34h0m0-253h0m1 215h0m0-79h0m1-140h0m8 170h0m1 26h0m0-93h0m1 66h0m7-39h0m1 94h0m4-110h0m1-76h0m1 118h0m0-72h0m0-27h0m5 179h0m3-214h0m0 64h0m1 51h0m0 108h0m0-133h0m1 172h0m0-89h0m1-90h0m0 108h0m2-140h0m0 157h0m2-88h0m0 13h0m2 30h0m3-7h0m1-50h0m1-47h0m1 103h0m3 18h0m0-119h0m2 28h0m1-8h0m1-57h0m3 66h0m8-43h0m2-5h0m2 47h0m3 117h0m9-49h0m0-12h0m0-68h0m1 82h0m7-88h0m0 95h0m1-54h0m1-27h0m0-32h0m2-86h0m0 212h0m1-170h0m1 131h0m1-31h0m2 20h0m0-53h0m1 104h0m1-2h0m2-16h0m2-22h0m0-11h0m2-24h0m1 107h0m1-143h0m1 77h0m0-35h0m5 64h0m6 6h0m1-34h0m1-25h0m1-121h0m1 138h0m1 65h0m1-68h0m3-30h0m1 68h0m2-101h0m0 127h0m1-204h0m0 137h0m1 62h0m1 48h0m3-253h0m1 114h0m2 20h0m2-79h0m2 72h0m3-9h0m0 51h0m2 46h0m1-190h0m0 110h0m1-22h0m2 43h0m2-98h0m6-28h0m0 163h0m1-154h0m2 35h0m0-11h0m1-69h0m2 111h0m0 109h0m9-182h0m2 89h0m2 69h0m3 24h0m4-136h0m0-19h0m1 68h0m0-44h0m4 120h0m4-112h0m0-13h0m2-19h0m2 181h0m4-110h0m2 75h0m1-135h0m1 180h0m0-178h0m1-20h0m0 202h0m1-67h0m0-164h0m1 151h0m2-162h0m0 101h0m0 81h0m1-29h0m1-42h0m2-74h0m1 114h0m1-102h0m1-61h0m2 90h0m0 75h0m2-8h0m1-8h0m1 50h0m2-19h0m1 24h0m1-120h0m2 142h0m0-67h0m1-167h0m0 29h0" stroke="#46E6D2"/><path d="M1375 1154h0m2 106h0m2-42h0m3-88h0m3 198h0m2-172h0m7 172h0m1 37h0m1-43h0m1-12h0m2 13h0m1-128h0m1 16h0m3 54h0m2 77h0m0-59h0m2 45h0m7-24h0m2-8h0m4-89h0m2-76h0m2 188h0m0-109h0m2 16h0m0 46h0m1 96h0m0-183h0m1 86h0m2-72h0m1 54h0m3 31h0m2-98h0m2 158h0m0-186h0m0-69h0m3 332h0m2-127h0m2-59h0m2-43h0m0 113h0m2-109h0m2 87h0m0 5h0m4 25h0m0-109h0m1 115h0m0-173h0m1 122h0m1-109h0m0 33h0m4 97h0m0 21h0m2-113h0m0 80h0m3-47h0m7 55h0m0 23h0m2-74h0m0 62h0m1-9h0m2-40h0m0-85h0m1 71h0m3 94h0m4-63h0m1 144h0m0-62h0m6 32h0m1 24h0m1-218h0m0-43h0m1 114h0m0-68h0m2-22h0m1 139h0m3 1h0m7-159h0m2 219h0m2-93h0m2-60h0m0-65h0m1 44h0m5 80h0m1 52h0m1-112h0m2-20h0m2 55h0m7 99h0m4-94h0m1-23h0m1-11h0m2 73h0m0-142h0m0 55h0m1 112h0m1-42h0m2-21h0m0 95h0m0-155h0m0 47h0m1 84h0m3 69h0m7-99h0m2-107h0m4 66h0m0 47h0m0-162h0m0 169h0m0 95h0m1-200h0m2 90h0m0 72h0m1-150h0m0 132h0m0-172h0m0 51h0m4 127h0m1-150h0m2-5h0m0 130h0m1 5h0m0-16h0m1 14h0m0-63h0m2 54h0m1-106h0m4 45h0m1 12h0m0 42h0m6-156h0m1 64h0m2 23h0m0 66h0m1-138h0m1 84h0m1-21h0m0-29h0m2-5h0m0 118h0m0-16h0m1-162h0m0 185h0m1-96h0m1-4h0m1 58h0m6-82h0m1 151h0m0-154h0m1 164h0m1-4h0m0-107h0m1-1h0m1-58h0m1-15h0m2 111h0m5 9h0m0 39h0m1-170h0m0-8h0m0 2h0m1 180h0m0-116h0m3-107h0m1 154h0m2-84h0m5 155h0m1-37h0m2 74h0m1-140h0m2 125h0m4-82h0m0-95h0m0 142h0m0-182h0m0 110h0m3 107h0m3-214h0m1 167h0" stroke="#46E6D2"/><path d="M1372 1191h0m4 112h0m6 43h0m1-126h0m4-47h0m0 182h0m1-48h0m2-87h0m2 5h0m2 161h0m1-51h0m3-18h0m2 70h0m1-43h0m2-156h0m0 87h0m1 15h0m4-51h0m1-21h0m2 129h0m0-158h0m2 163h0m3-29h0m0-117h0m2 134h0m2-168h0m1 243h0m1-265h0m0 133h0m1-26h0m1 104h0m1-61h0m0-141h0m1 119h0m3 110h0m0-281h0m0 278h0m1-214h0m2-35h0m1 18h0m2 194h0m1-44h0m1-47h0m0-43h0m1 66h0m2 30h0m1-115h0m1 173h0m0-156h0m6 94h0m0-129h0m1 178h0m1 36h0m0-121h0m0 53h0m2-169h0m3 8h0m2 225h0m1-191h0m2 66h0m2-48h0m0 138h0m1-169h0m1-32h0m1 183h0m4-113h0m5-42h0m2 103h0m1 11h0m1-65h0m0 36h0m0-14h0m2-59h0m0 102h0m1 61h0m1-46h0m1 56h0m2-93h0m0 78h0m6-95h0m1 80h0m2-180h0m2 95h0m3-103h0m0 210h0m3 9h0m2-187h0m2 123h0m6 30h0m0-154h0m1 13h0m3 18h0m3 21h0m1 22h0m0-52h0m1 70h0m0-95h0m1 181h0m8-6h0m1-185h0m2 167h0m4-205h0m3 263h0m0-72h0m0-120h0m0 136h0m1-67h0m1-61h0m1-27h0m0 158h0m5-128h0m0 128h0m1-26h0m0-129h0m1 169h0m0-68h0m1-63h0m2 179h0m2-166h0m4 115h0m1-63h0m9-37h0m0-4h0m1 29h0m1 86h0m0-23h0m0-138h0m3 77h0m1 8h0m4-118h0m0 42h0m0 15h0m1 28h0m3 69h0m2-79h0m4 113h0m2-148h0m3 24h0m1-44h0m1-29h0m1 134h0m2-63h0m0 131h0m12-24h0m0 35h0m0-248h0m5 197h0m3-32h0m3 3h0m1-33h0m1 166h0m1-45h0m2-3h0m0-154h0m2-11h0m4 72h0m0-161h0m1 176h0m0-62h0m1-83h0m0 127h0m4 75h0m0-14h0m1-88h0m2 129h0m0-17h0m4-180h0m1 68h0m5 111h0m0-80h0" stroke="#46E6D2"/><path d="M1372 1182h0m1 112h0m3 2h0m2-10h0m8-139h0m1 18h0m3 116h0m1 132h0m1-111h0m1-9h0m2-93h0m0 49h0m2-33h0m1 57h0m1 12h0m5-8h0m0-21h0m7 117h0m1-203h0m1 93h0m5-78h0m0 168h0m3-152h0m0-8h0m1-6h0m0 45h0m0-9h0m3 31h0m1-105h0m2 74h0m0 172h0m1-219h0m0 144h0m1-127h0m2 27h0m2 133h0m1-68h0m1 14h0m1-56h0m1-23h0m1 4h0m1-119h0m5 86h0m0 92h0m1-22h0m4-93h0m1 126h0m0 24h0m0 12h0m3-58h0m1 87h0m1-208h0m1 216h0m1-42h0m6-143h0m1 11h0m0 63h0m1-38h0m0 86h0m1 14h0m2-74h0m1-30h0m1 33h0m1-46h0m0 64h0m0-38h0m1 10h0m3-124h0m0 93h0m1 108h0m1-163h0m0 64h0m7-72h0m2 143h0m1-4h0m5 26h0m3-42h0m1-37h0m2-79h0m1 23h0m3 140h0m0-38h0m9-30h0m1 10h0m0 107h0m0-165h0m6-16h0m1 120h0m0 10h0m1-126h0m0 94h0m1-29h0m1 116h0m1-82h0m1 42h0m0-37h0m1 18h0m0-75h0m5 134h0m3-89h0m1-15h0m4 58h0m0-91h0m5 45h0m3 9h0m0-125h0m1 100h0m0-80h0m1 22h0m0 11h0m8-37h0m1 64h0m3 125h0m0-195h0m1 191h0m1-178h0m2 146h0m2-135h0m2 74h0m0 31h0m0-106h0m2 92h0m1-103h0m3 78h0m2 36h0m2-150h0m0 189h0m1-98h0m0 44h0m3-63h0m1 92h0m0 51h0m0-113h0m3 0h0m1 5h0m0 132h0m1-150h0m0 162h0m7-47h0m2-97h0m0 59h0m3-99h0m3 123h0m2 66h0m4-38h0m1-127h0m1-48h0m1 37h0m1 96h0m3 5h0m3-70h0m0-40h0m0 106h0m0-54h0m2-30h0m0-4h0m0 60h0m1-107h0m1-40h0m0 217h0m0-159h0m1 100h0m0-51h0m1-39h0m1 116h0m1-148h0m1 161h0m3-129h0m1 18h0m2-40h0m1-60h0m2 20h0m2 113h0m1 82h0m1-143h0m3 95h0m1-139h0m1 42h0m2 16h0m0 74h0m1-138h0m1 229h0m0-209h0m1 81h0m1-88h0" stroke="#46E6D2"/><path d="M1657 1124h0m0 187h0m2 86h0m1 22h0m3-270h0m1 235h0m0-289h0m1 165h0m0 63h0m1-37h0m0-172h0m2 291h0m2-231h0m4 119h0m0-206h0m0 244h0m3-192h0m1 83h0m0 74h0m1-42h0m0-236h0m1 87h0m1 107h0m1 25h0m1-142h0m3 204h0m0-151h0m0 222h0m1-138h0m1-117h0m0-28h0m3 73h0m0-26h0m2 5h0m0 108h0m2-41h0m0-89h0m2 107h0m0 58h0m0-111h0m0-19h0m1 255h0m0-88h0m0-141h0m1 18h0m1 37h0m0 203h0m0-322h0m1 288h0m1-52h0m1-163h0m1 208h0m1-383h0m2 125h0m1-26h0m2 155h0m2 117h0m1-205h0m1 19h0m0-38h0m1 257h0m4-219h0m3 132h0m2-253h0m1-19h0m1 293h0m0-195h0m1 91h0m0-83h0m1 166h0m1 69h0m2-63h0m0-268h0m2 191h0m0 32h0m3-148h0m1 121h0m4-49h0m1 71h0m1 64h0m0-157h0m1 28h0m2 140h0m1-104h0m0-115h0m1 169h0m0 7h0m2-68h0m0 122h0m3 61h0m0-347h0m1-52h0m1 219h0m1-43h0m1 49h0m0-45h0m3 61h0m1-59h0m1-59h0m1 20h0m3 30h0m0 128h0m2 25h0m0-242h0m0 217h0m2-228h0m1 101h0m0-42h0m0 147h0m1 18h0m0 91h0m2-289h0m1 28h0m2 19h0m2 30h0m1 83h0m0-149h0m0 54h0m0-126h0m3 10h0" stroke="#0A6E1E"/><path d="M1658 1128h0m1 165h0m1-49h0m1 158h0m0-219h0m0 156h0m0-256h0m1 175h0m3-155h0m0 105h0m2 61h0m1 48h0m2-250h0m0-21h0m0 84h0m1 200h0m0-40h0m0 94h0m3-148h0m0-18h0m0-46h0m0-5h0m1-92h0m2 41h0m0 88h0m0-63h0m1 248h0m0-221h0m1 179h0m2-46h0m2-216h0m1 209h0m1-120h0m2 95h0m0-99h0m1-66h0m0 198h0m1-59h0m0-46h0m0 152h0m1-186h0m1 13h0m1-34h0m0 91h0m1 86h0m1 13h0m1-3h0m1-158h0m0 34h0m2-50h0m0 187h0m0-109h0m0 17h0m1-69h0m3 166h0m1 31h0m0-201h0m1 147h0m0 16h0m0-77h0m2 103h0m1-14h0m0 19h0m0-171h0m4-143h0m1-30h0m1 125h0m3-103h0m3 357h0m2-373h0m2 288h0m0-142h0m1 199h0m0-77h0m1 114h0m1-71h0m2-230h0m0 241h0m1-180h0m2 176h0m2-16h0m0 95h0m2-113h0m0-138h0m2 156h0m0-211h0m1 10h0m1 192h0m0 35h0m1-303h0m0 292h0m1-235h0m1 64h0m1-52h0m0 111h0m1 122h0m1 23h0m0-287h0m0 178h0m1-86h0m0-57h0m1 88h0m0 48h0m1 114h0m0-317h0m0 107h0m1 184h0m0-144h0m4 29h0m0-105h0m0 4h0m3 65h0m0 19h0m1-120h0m0 181h0m1-175h0m1 263h0m1-35h0m1-172h0m3 229h0m1-183h0m0 108h0m2-161h0m0 22h0m0 16h0m2 86h0m1 34h0m0-124h0m1 144h0m0-104h0m1-141h0m2-13h0m1 158h0m1-83h0m2 239h0m1-66h0m0-179h0m1 41h0m0 144h0m1-203h0m0-32h0m1 116h0m1 67h0m0-156h0m0 134h0" stroke="#0A6E1E"/><path d="M1657 1403h0m2-228h0m1 17h0m2 234h0m0-222h0m0 101h0m0-130h0m0 108h0m2-53h0m4 201h0m0-75h0m1 23h0m0-159h0m0 183h0m1-153h0m1-153h0m0 91h0m0 19h0m2 87h0m0-99h0m3 150h0m0 19h0m0 28h0m1 17h0m1-181h0m0 145h0m0-261h0m1 73h0m1-117h0m0 180h0m1-6h0m1-61h0m1-27h0m0 131h0m0-144h0m2 73h0m0 25h0m3-27h0m0-25h0m0 165h0m1 6h0m0-29h0m1-271h0m0 20h0m3 178h0m3-27h0m1-10h0m1-97h0m1-75h0m1 244h0m1-218h0m0-51h0m1 3h0m1 97h0m1 52h0m0-55h0m0-17h0m1-21h0m3 21h0m2 250h0m1-286h0m8 259h0m2 80h0m0-153h0m1-137h0m1 248h0m1-6h0m2-216h0m0 129h0m0 116h0m1-89h0m2-162h0m0 242h0m5-242h0m2 181h0m0-131h0m1-98h0m0 253h0m1-221h0m1 190h0m0-20h0m1-40h0m2-45h0m1-96h0m0 306h0m1-336h0m1 298h0m0-314h0m0 90h0m1 271h0m1-302h0m3 56h0m1-122h0m1 95h0m2 141h0m0-106h0m0-79h0m2 41h0m0 12h0m0-112h0m0 76h0m1 20h0m1 219h0m0-11h0m2-3h0m2-207h0m0-31h0m1 123h0m0 108h0m1-200h0m0 10h0m2 96h0m1-180h0m2 47h0m3-67h0m0 215h0m0 133h0m1-237h0m1-51h0m4 230h0m0 85h0m3-383h0m0 276h0m0-66h0m1-98h0m1-92h0m0 121h0m0 143h0" stroke="#0A6E1E"/><path d="M1657 1169h0m0 111h0m0 16h0m1-140h0m0 198h0m0-54h0m1-216h0m0 286h0m1-212h0m0 77h0m1 84h0m0-184h0m0 175h0m1 43h0m0-231h0m0 157h0m1 50h0m2 58h0m1-94h0m0 22h0m1-141h0m0 265h0m1 9h0m1-285h0m1-88h0m0 197h0m0 63h0m0 34h0m1-150h0m2 61h0m0-123h0m2 74h0m0-85h0m1 135h0m1-274h0m0 293h0m2-222h0m0 38h0m1 155h0m1-98h0m1-42h0m0 2h0m1 179h0m3-66h0m0-172h0m1 55h0m1-29h0m1 292h0m0-48h0m0-28h0m1-66h0m2 108h0m3-34h0m1 50h0m1-209h0m0 227h0m1-257h0m1 110h0m2 195h0m0-122h0m1-108h0m0-18h0m0-40h0m0 95h0m2 91h0m0-5h0m2-63h0m3 79h0m3-63h0m0 47h0m4-201h0m2 125h0m0-103h0m3 226h0m0-13h0m1-277h0m1 56h0m1 169h0m0-17h0m0-83h0m3 146h0m0-17h0m0-157h0m1-20h0m2 69h0m0 101h0m0 77h0m0-208h0m0-118h0m3 275h0m2-144h0m0-139h0m2 300h0m2-95h0m1-141h0m1 66h0m3 108h0m1-50h0m0-222h0m0 41h0m0 17h0m5 77h0m3-58h0m4 291h0m2-49h0m1-307h0m0 291h0m2-92h0m1 171h0m2-199h0m0 138h0m2-73h0m0-198h0m1 264h0m4-62h0m0 144h0m2-131h0m0-109h0m2 220h0m1 16h0m3 14h0m0-319h0m0 200h0m0-13h0m2-23h0m0 6h0m0-112h0m0 121h0m1-167h0m0 14h0m0 39h0" stroke="#0A6E1E"/><path d="M1657 1266h0m2-54h0m5 224h0m1-286h0m1 184h0m0-127h0m1 12h0m1 127h0m0 23h0m0-258h0m1 11h0m1 161h0m0 68h0m1-197h0m1 275h0m0-321h0m0 314h0m1-187h0m0-113h0m1 191h0m1-218h0m1 238h0m2-20h0m0-160h0m0 12h0m0 123h0m2 63h0m0 34h0m1-105h0m1-2h0m0-35h0m0-161h0m0 217h0m1 63h0m1-321h0m0 38h0m2 360h0m1 31h0m2-110h0m0-143h0m0 152h0m0 10h0m2-271h0m1 205h0m2 58h0m5-176h0m2 202h0m0-147h0m0-65h0m1 184h0m1-109h0m2 6h0m0-178h0m0 220h0m0-87h0m1 56h0m2-88h0m2 138h0m0-174h0m1-6h0m1-33h0m1-36h0m1 236h0m1-107h0m0 111h0m4 41h0m2-12h0m0 87h0m1-351h0m0 290h0m1-28h0m2-152h0m2 118h0m1-217h0m1 127h0m0 20h0m4-130h0m1 177h0m2-90h0m0-68h0m3 76h0m0-7h0m0-63h0m2 165h0m0 94h0m1-328h0m1 35h0m1 37h0m2 257h0m0-198h0m2-43h0m0 78h0m0-33h0m0 84h0m1-150h0m2 174h0m4-119h0m1-161h0m0 54h0m1 215h0m1 8h0m5-85h0m2-95h0m0-75h0m2 299h0m2 36h0m1-269h0m2 155h0m0 136h0m2-321h0m0 129h0m1-71h0m1 206h0m2-17h0m0-217h0m1 129h0m0 128h0m1-237h0m0-22h0m1 184h0m2 63h0m0-97h0m0 4h0m0 7h0m0 30h0" stroke="#0A6E1E"/><path d="M1787 1213h0m3-159h0m1 253h0m0-65h0m0 47h0m3-95h0m1 121h0m0-34h0m0-89h0m1-4h0m0 43h0m1-24h0m3 65h0m0-195h0m2 176h0m1-177h0m0 19h0m1 47h0m1-53h0m1 202h0m0-230h0m0 157h0m1-206h0m5 150h0m0-118h0m1-56h0m0 183h0m2-183h0m0 21h0m2 259h0m1 38h0m1-293h0m0 299h0m1-156h0m0 27h0m1-66h0m0 58h0m1-196h0m1 262h0m1-17h0m0 3h0m1-187h0m0 73h0m1 68h0m1-39h0m0 94h0m1-209h0m0 247h0m0-102h0m2 37h0m1 45h0m1-23h0m1-159h0m0-24h0m1 242h0m1 35h0m0-27h0m0-239h0m0 155h0m0 106h0m3-290h0m4 259h0m4-2h0m0-242h0m0 32h0m2 157h0m0-178h0m2 26h0m0 89h0m2 17h0m2 133h0m0-219h0m2-139h0m1 77h0m2 44h0m1 59h0m1 13h0m1 125h0m1-227h0m0 170h0m0-274h0m1 183h0m1-4h0m1 49h0m2 76h0m0-141h0m1-59h0m2 250h0m1-93h0m0 66h0m4-240h0m1 143h0m1-127h0m1 149h0m1 51h0m1-40h0m1 19h0m1-111h0m0-134h0m0 87h0m2 131h0m0 58h0m1-129h0m3-93h0m1 109h0m0 19h0m0 109h0m4-38h0m0-21h0m1-28h0m1-53h0m0 36h0m3-60h0m2 29h0m1-49h0m0 117h0m0-1h0m5-164h0m3 230h0m0-45h0m0-110h0m2-99h0m2 59h0m0 185h0m2-313h0m1 183h0m0 155h0m1-46h0m0-232h0m0 210h0m0-188h0m2 191h0m2-196h0m1 92h0m1-129h0m1 318h0m1-232h0m1-33h0m4 224h0m1-73h0m3-143h0m4 209h0m0 18h0m1-144h0m4 99h0m0-10h0m2-70h0m0-54h0" stroke="#0A6E1E"/><path d="M1787 1122h0m0 161h0m1-204h0m0-53h0m0 44h0m1 227h0m0-257h0m1 62h0m2-58h0m0 171h0m2-200h0m1 310h0m3-326h0m1 136h0m0-71h0m0 201h0m0-286h0m1 58h0m1 82h0m2 77h0m0-31h0m0 131h0m2-226h0m1 121h0m0 85h0m1-250h0m1 39h0m0-58h0m0 255h0m1-245h0m1 124h0m2 43h0m3 91h0m0-19h0m2-226h0m4-76h0m0 219h0m2 6h0m0 25h0m1 112h0m0-10h0m1-205h0m1-129h0m1 222h0m3 87h0m3-64h0m3 44h0m0 16h0m1-62h0m0-36h0m0 28h0m4 53h0m2 32h0m1-314h0m3 289h0m1-173h0m6 169h0m0-207h0m1 77h0m0-43h0m1-77h0m0 296h0m3-200h0m3-24h0m2 143h0m1-13h0m1-135h0m1 227h0m0-305h0m1 55h0m2-24h0m1-12h0m1-62h0m1 35h0m1 199h0m0-115h0m4-114h0m0 315h0m1-246h0m0 157h0m0-188h0m1 294h0m2-242h0m3 248h0m0-283h0m3 19h0m3 246h0m3-194h0m1-50h0m0 9h0m1 225h0m2-170h0m1-67h0m0 130h0m7-145h0m3 164h0m1 83h0m2-105h0m0-26h0m1-71h0m0 251h0m0-94h0m0-210h0m0 192h0m1 77h0m1-64h0m0-94h0m1-144h0m1 141h0m0 147h0m5-71h0m0 52h0m1 67h0m1-294h0m4 34h0m1 246h0m2-31h0m1-287h0m0 60h0m0 107h0m0 74h0m3 45h0m6-210h0m0-76h0m7 272h0" stroke="#0A6E1E"/><path d="M1787 1113h0m1 40h0m7 59h0m0-68h0m1-91h0m2 175h0m3-134h0m2 13h0m1-77h0m0 82h0m0-76h0m0 171h0m3-54h0m0 154h0m3-85h0m1 10h0m1-252h0m2 48h0m4-8h0m2 24h0m0 85h0m2-47h0m1 109h0m0-189h0m2 103h0m1-1h0m0 108h0m2-190h0m1 79h0m1 62h0m2-36h0m4-94h0m1 16h0m4 125h0m3 140h0m0-145h0m0 25h0m2 61h0m1-294h0m1 142h0m2 94h0m2 40h0m0-27h0m2 39h0m1-212h0m0-48h0m6 136h0m1 165h0m3-184h0m1-90h0m0 123h0m2 100h0m4-133h0m2 98h0m3 8h0m0-149h0m0-42h0m1-21h0m0 14h0m2 115h0m0 160h0m1-175h0m1-21h0m3 215h0m1-160h0m0-116h0m1 284h0m0-100h0m0-4h0m3-84h0m0 63h0m1 129h0m0-313h0m2 279h0m1-121h0m1-52h0m0-7h0m1 147h0m1-229h0m1-33h0m0 104h0m1 196h0m3-154h0m1-80h0m2 184h0m2-178h0m1 92h0m2-41h0m0-18h0m2-57h0m0 7h0m2 244h0m1-191h0m0 159h0m0-142h0m2-25h0m3-32h0m1 93h0m1 34h0m0-190h0m1 149h0m3 142h0m0-10h0m3-295h0m0 272h0m1-133h0m4-91h0m0 231h0m2 63h0m2-196h0m1-39h0m0 35h0m1 182h0m3-293h0" stroke="#0A6E1E"/><path d="M1787 1229h0m3-144h0m0-38h0m0 177h0m1-89h0m3 2h0m0 134h0m1-185h0m4-5h0m1-79h0m1 244h0m1-14h0m1 46h0m1-114h0m1-68h0m1 81h0m1 51h0m3-266h0m2 235h0m2-104h0m0 31h0m1 146h0m1-198h0m0 78h0m2 20h0m0-157h0m1 261h0m1-215h0m1-86h0m1 194h0m2-207h0m2 105h0m1 221h0m1-162h0m1-25h0m1 135h0m1-60h0m1-24h0m0 185h0m0-27h0m2-113h0m2-38h0m0-49h0m0 215h0m4-10h0m1-235h0m1 137h0m4-42h0m2-64h0m2 32h0m1 10h0m0 131h0m2-41h0m3-226h0m3 205h0m2 24h0m1-176h0m0 182h0m2-105h0m2-69h0m1-68h0m0 206h0m3-57h0m0 120h0m2-33h0m1-93h0m0-117h0m0 20h0m3 142h0m1-42h0m0-31h0m0 100h0m1-63h0m3-101h0m2 246h0m0-279h0m1 252h0m0-92h0m1 113h0m0-32h0m2-31h0m2-2h0m0-74h0m0 48h0m3-166h0m1 263h0m0-248h0m0-76h0m1 81h0m3-64h0m2 10h0m0 74h0m1 36h0m1 87h0m2-211h0m1 289h0m1-194h0m1 95h0m1-89h0m0-76h0m1 15h0m0 251h0m3-83h0m0 33h0m1 14h0m1-241h0m0 74h0m1 69h0m0 163h0m0-43h0m1-33h0m0-229h0m0 143h0m4-160h0m3 125h0m0 100h0m0-174h0m2 115h0m1 81h0m3-232h0m1 149h0m2-50h0m1 93h0m4-175h0m0 270h0m2-48h0m1-174h0m0 30h0m0-14h0m1 109h0m1-77h0m0-94h0m3 107h0m1 91h0m2-131h0" stroke="#0A6E1E"/><path d="M1787 1232h0m1 8h0m5-230h0m2 29h0m2-16h0m0 186h0m3-165h0m0-55h0m1 253h0m1-107h0m2-77h0m0 201h0m2-4h0m0 0h0m1-32h0m0-178h0m1 170h0m1-46h0m1-10h0m1-106h0m1 77h0m3 57h0m2-69h0m1 112h0m1-220h0m2 4h0m1 38h0m0 28h0m0 49h0m1 71h0m0 91h0m2-10h0m1-247h0m1-52h0m0 130h0m1-63h0m0 170h0m0-31h0m1 122h0m1-133h0m1-20h0m1-115h0m0-22h0m0 239h0m1 0h0m2-129h0m4-80h0m2 37h0m0-99h0m5 307h0m3-283h0m1 124h0m0 87h0m1-243h0m0 50h0m1 47h0m1-85h0m1 310h0m4-216h0m0 97h0m2-150h0m0-1h0m3 267h0m1-21h0m0-274h0m2 185h0m2-124h0m1 130h0m7 14h0m3 52h0m0 66h0m1-222h0m3 25h0m0 150h0m3-96h0m2 140h0m1-141h0m0 48h0m0-49h0m1-44h0m0-99h0m1 15h0m1 10h0m0 56h0m0 131h0m1-174h0m2 67h0m5 11h0m0 87h0m0 59h0m1-129h0m1-116h0m0 22h0m0 88h0m2-95h0m1 264h0m2-112h0m3-28h0m0-24h0m2-171h0m0 327h0m0-324h0m1 178h0m0 12h0m0 5h0m2-36h0m1-15h0m1-48h0m1-72h0m0 163h0m0 144h0m1-227h0m0-27h0m1 193h0m0-32h0m3 21h0m2-168h0m5 91h0m4 55h0m7 12h0m5-257h0" stroke="#0A6E1E"/><path d="M1952 1123h0m1-165h0m1-154h0m1 70h0m1 216h0m3-295h0m1 58h0m1-13h0m2 11h0m2-29h0m0 218h0m1-69h0m2-130h0m2 38h0m0-180h0m1 346h0m4-160h0m1 101h0m1-58h0m2 139h0m0-290h0m2 320h0m0-60h0m1 45h0m1-229h0m1 165h0m2 49h0m0-13h0m1-275h0m1 91h0m1 33h0m0-110h0m1 20h0m0 24h0m1 79h0m1-40h0m0 216h0m1-268h0m0 10h0m1 270h0m3-266h0m1 261h0m0-351h0m1 216h0m1 101h0m0-124h0m0-209h0m1 97h0m6 235h0m0-123h0m1 115h0m2-77h0m5-210h0m2 297h0m0-184h0m0-132h0m1 87h0m1 85h0m1-161h0m5 33h0m4 125h0m0-105h0m0-30h0m3 97h0m2-70h0m0 322h0m1-84h0m2 10h0m0 35h0m4 8h0m1-37h0m0-216h0m1 95h0m4 99h0m1-29h0m2 11h0m3-254h0m1 237h0m1-175h0m1 131h0m0-219h0m3-35h0m1 317h0m1-157h0m1 111h0m0 118h0m0-271h0m4 18h0m0 220h0m1-94h0m1 50h0m3-154h0m0 165h0m1-213h0m0 39h0m0-99h0m1 53h0m1 156h0m1 117h0m1-199h0m1 240h0m2-208h0m2 160h0m0-260h0m2 154h0m3-267h0m1 444h0m7-212h0m6-169h0m0 143h0m2-59h0m0 73h0m3-67h0m1 28h0m0 187h0m1 37h0m1-116h0m2-208h0m1 275h0m2-111h0m0-154h0m1 288h0m0-115h0m1-184h0m2 254h0m1-176h0m1 3h0m1-137h0m0 203h0m3-172h0m0 297h0m1-69h0m0-216h0m0-24h0m1 230h0m2 13h0m2-53h0m0 216h0m0-144h0m2 33h0m4-214h0m0 76h0m2-101h0m2-49h0m1 96h0m0 27h0m1 62h0m0 35h0m1-55h0m2 103h0m2-154h0m1-108h0m1 133h0m2 215h0m0-12h0m2-260h0m8 146h0m2 114h0m1-263h0m0 26h0m1 109h0m0-151h0m0 182h0m1 122h0m2-172h0m0-141h0m0-3h0m1-61h0m0 79h0m1 224h0m0-27h0m1-143h0m0 78h0m1-6h0m1 138h0m0-95h0m2 31h0m0 93h0m1-201h0m1 142h0m3-129h0m0-169h0m0 154h0m2 179h0m1-135h0m5-179h0m0 122h0m1-16h0m4-18h0m1 40h0m0 51h0m4 133h0m1-194h0m0-80h0m1-64h0m0 362h0m1-50h0m1-73h0m0-1h0m1 66h0m0-177h0m1 31h0m0 185h0m2-96h0m1-193h0m1-4h0m1-24h0m0 144h0m0-46h0m0 34h0m0 29h0m0 171h0" stroke="#64D23C"/><path d="M1952 928h0m0 76h0m1 49h0m1 13h0m0-62h0m0-165h0m2 174h0m0-137h0m1 106h0m4-116h0m2 19h0m1 205h0m0-317h0m1 140h0m1 167h0m0-312h0m0 45h0m1-52h0m0 242h0m2 4h0m2-133h0m1 116h0m1 52h0m0-64h0m0 38h0m0-180h0m0-37h0m2 23h0m1 213h0m4 45h0m0-243h0m1 138h0m0 127h0m1-50h0m0-97h0m1 33h0m1-227h0m0 233h0m1-113h0m2-17h0m0-14h0m1 70h0m0-180h0m2 225h0m4 130h0m0-258h0m0 233h0m0 20h0m1-161h0m0 137h0m0-311h0m2 278h0m3-127h0m1-128h0m0 156h0m0-89h0m0 59h0m1 208h0m2-221h0m0-115h0m3-50h0m3 277h0m1-17h0m2 45h0m4-84h0m0 12h0m0 99h0m3-2h0m1-91h0m7-124h0m0-111h0m1 278h0m0 53h0m0-182h0m3-56h0m1 213h0m4-78h0m0-78h0m1 233h0m1-239h0m0-31h0m2 304h0m1-291h0m2-35h0m2 247h0m2 6h0m1-72h0m1 20h0m2 30h0m2-41h0m0 8h0m0-63h0m1-173h0m2 158h0m1 45h0m0 81h0m1-9h0m1-309h0m0-9h0m0 274h0m1-143h0m1 72h0m2 66h0m2-77h0m0 62h0m0 57h0m1 60h0m0-341h0m0 107h0m1 207h0m1-185h0m2 200h0m1-92h0m2 8h0m0-1h0m0-90h0m0-222h0m2 79h0m0-4h0m0 337h0m1-75h0m1-182h0m0-176h0m0 253h0m3 2h0m0 44h0m0 42h0m0 136h0m1-178h0m1-249h0m3 320h0m0-253h0m1 361h0m0-271h0m2-108h0m0 295h0m2-263h0m5 258h0m1-108h0m1-161h0m0-33h0m3 202h0m4 135h0m1 5h0m0-176h0m4 108h0m1-155h0m0-59h0m0 30h0m0-46h0m1 34h0m1 103h0m0 169h0m0-40h0m1-238h0m1-19h0m1 139h0m1-152h0m0 224h0m1-85h0m1 149h0m0 66h0m4-131h0m1-20h0m1-230h0m1-45h0m2 100h0m0 239h0m0-29h0m0-71h0m1-11h0m0-40h0m2-100h0m0 206h0m3-224h0m0 193h0m2-62h0m2-177h0m3 276h0m2-268h0m0 168h0m2-32h0m0 89h0m1-28h0m0 21h0m0-44h0m1 72h0m0 88h0m1-106h0m0-174h0m1 55h0m1 258h0m0-308h0m4-90h0m3 70h0m1 53h0m1 45h0m1 86h0m0-150h0m4 246h0m0 17h0m0-213h0m0-36h0m1 179h0m2-249h0m1 124h0m1-140h0m0 378h0m6-279h0m0-26h0m1 124h0m0 22h0m2-206h0m0 98h0m0 252h0m2-269h0m3 294h0m1-277h0m2 15h0m0 39h0m3 114h0m4-58h0m1-166h0m0 263h0m1-35h0m1 86h0m1-130h0m2-23h0m1-42h0m1 197h0m1-365h0m0 99h0m0 89h0m1 124h0m0-224h0m1-59h0m0 46h0m1 207h0m3-117h0m0 128h0m0 41h0" stroke="#64D23C"/><path d="M1952 1140h0m5-275h0m1-6h0m1 213h0m0 37h0m3-74h0m1-57h0m2 41h0m0-28h0m2-193h0m1 123h0m0 194h0m2-312h0m3 273h0m1-45h0m0-60h0m1 83h0m1-50h0m0-215h0m2 216h0m2-75h0m0-112h0m0 54h0m2-24h0m1-68h0m2 97h0m1 225h0m0-263h0m1-126h0m0 318h0m1 6h0m0-47h0m1-16h0m0-129h0m1 205h0m0-85h0m0-22h0m0 57h0m1 83h0m1-269h0m2 14h0m1 290h0m0-322h0m1-42h0m1 26h0m0 141h0m2 93h0m0-21h0m0-222h0m2 177h0m1-81h0m1 0h0m2 28h0m1 217h0m0-52h0m1-203h0m0-164h0m1 142h0m2 22h0m0-46h0m1 185h0m1 15h0m1 119h0m1-234h0m0 278h0m1-46h0m1-151h0m2 48h0m1-159h0m1 140h0m2-51h0m1 62h0m1 9h0m2-227h0m0 347h0m0-29h0m0-122h0m1-175h0m1-42h0m3 82h0m2 206h0m1-251h0m0 71h0m2 59h0m1 74h0m3-90h0m0-136h0m4 270h0m0-122h0m3-62h0m0-64h0m1 163h0m0-42h0m0 85h0m0-187h0m1 93h0m1 197h0m0-133h0m1-126h0m0-118h0m1 179h0m1-48h0m0 54h0m1-107h0m1 49h0m1-149h0m2 32h0m1 236h0m1-23h0m0 15h0m2 133h0m1-174h0m0 3h0m0 214h0m0-299h0m0 164h0m1 16h0m0-236h0m1-12h0m1 33h0m2 24h0m0-116h0m0 345h0m2-297h0m2-64h0m1 207h0m1-109h0m1 92h0m2 58h0m1 40h0m1-172h0m2 282h0m1-176h0m0 86h0m0-127h0m1 206h0m1-257h0m1 200h0m0 47h0m0-73h0m1-251h0m1 272h0m0-52h0m0-178h0m2-50h0m0 32h0m2 22h0m1 164h0m1-37h0m0-2h0m5 180h0m1-45h0m0-187h0m0-35h0m1 151h0m0 17h0m1-34h0m0-141h0m1 232h0m0-298h0m1 32h0m1 45h0m2 101h0m0-58h0m0 82h0m0-68h0m1 158h0m3-20h0m0-234h0m0 18h0m1 136h0m1 43h0m0-88h0m1-161h0m1 246h0m2-277h0m0 306h0m1-141h0m3 204h0m0-315h0m1 310h0m2-106h0m4 54h0m0-170h0m1 65h0m2 63h0m1-251h0m1 38h0m2 175h0m2-177h0m2 60h0m0 73h0m1 118h0m3-293h0m1 162h0m1 91h0m0-26h0m0-111h0m1 90h0m0-147h0m0 318h0m2-349h0m0 295h0m0-157h0m2 170h0m1 6h0m0-234h0m2 170h0m1-76h0m0 236h0m0-404h0m3 299h0m2-159h0m1 184h0m2-323h0m2 59h0m1 55h0m0-73h0m0 134h0m0 16h0m1 48h0m0-289h0m1 132h0m0-34h0m1 205h0m1-95h0m3-95h0m1 196h0m0-143h0m1-19h0m1 46h0m0 145h0m0-273h0m2 20h0m2 216h0m0-39h0m0 104h0m1-180h0m3 81h0m0-28h0m1 89h0m1-297h0m1 51h0m3 20h0m0 28h0m2 31h0m3-99h0m0 258h0m2 23h0m1 39h0m1-327h0m1 223h0m0-185h0m1-20h0m1 227h0m1-295h0m0 369h0m1-78h0m5-187h0m1 49h0m0-79h0m0 2h0m0 176h0m0 35h0m0 106h0" stroke="#64D23C"/><path d="M1952 880h0m1-46h0m0 284h0m1-109h0m1 11h0m0-214h0m1 75h0m2-175h0m1 59h0m0 62h0m2 60h0m0 139h0m1-73h0m1-71h0m1 165h0m1-214h0m1 124h0m2-96h0m1 224h0m9-25h0m1-142h0m0 82h0m1-215h0m1 300h0m0-295h0m1 140h0m2-80h0m1 151h0m3-218h0m1 265h0m0-319h0m2 286h0m0-157h0m2 40h0m1 139h0m1-122h0m0 202h0m1-224h0m2-39h0m0 49h0m0 144h0m0-5h0m1-185h0m2 114h0m0-5h0m0 37h0m1 100h0m1-10h0m0 57h0m1-34h0m0-275h0m0 104h0m4 141h0m1-297h0m2 60h0m2 89h0m1 115h0m2-194h0m0 107h0m3 9h0m1 84h0m1-141h0m0 94h0m1 1h0m0-236h0m3-25h0m0 376h0m1-295h0m0 149h0m0-128h0m4 178h0m1-157h0m0-73h0m1 260h0m1-300h0m4 267h0m0-81h0m1 97h0m1-264h0m0 182h0m1-47h0m1 190h0m0-28h0m1-320h0m0 295h0m1-276h0m2 173h0m0-99h0m1 103h0m1 20h0m2-85h0m1 128h0m1 11h0m0 44h0m0-80h0m3 134h0m0-82h0m0-78h0m0-103h0m3 90h0m1 88h0m1 28h0m0-182h0m1-103h0m0 278h0m3-48h0m1 20h0m2-227h0m1 62h0m0 203h0m0 31h0m1-87h0m1 158h0m2-373h0m3 94h0m0 49h0m1-69h0m1 73h0m2-124h0m0 89h0m1-134h0m1 62h0m1 29h0m0 255h0m0-289h0m1 48h0m0 230h0m0-68h0m0-158h0m0-96h0m2 156h0m3-132h0m0 85h0m11-130h0m1-11h0m1 303h0m0-28h0m1-135h0m1-70h0m1 305h0m1-141h0m0-203h0m0 79h0m2 131h0m0-215h0m1 159h0m1 104h0m2-153h0m0-19h0m0-2h0m1 67h0m1-50h0m0 143h0m1-35h0m1-102h0m0 187h0m1-357h0m0 260h0m1-97h0m0 178h0m1-185h0m1 110h0m0 120h0m1-24h0m0-110h0m1-232h0m1 210h0m0-115h0m1 182h0m0 55h0m0-256h0m1 254h0m0-229h0m0 117h0m1-56h0m1 91h0m1-15h0m1 54h0m1 29h0m1 9h0m0 30h0m1-350h0m1 25h0m1 284h0m3-185h0m0-132h0m1 75h0m0 174h0m0 100h0m2 30h0m0-143h0m0-56h0m2 45h0m3 34h0m0 40h0m0-221h0m3 55h0m0-35h0m1-23h0m0-41h0m1 247h0m0 66h0m0-10h0m2 24h0m3-47h0m0 15h0m2 74h0m0-251h0m2 42h0m0-33h0m2 55h0m1 86h0m2-80h0m1 101h0m0-12h0m1 56h0m0-169h0m0-101h0m1 96h0m1-36h0m3-65h0m1 232h0m0-210h0m1 34h0m1 135h0m1-95h0m0 152h0m1-140h0m1-122h0m2 71h0m0 105h0m1-99h0m0-55h0m1 59h0m0 215h0m1-46h0m1-281h0m0 110h0m0 163h0m1-201h0m2 266h0m0-282h0m1-94h0m1-15h0m1 288h0m0-79h0m3 44h0m1-56h0m1 26h0m1-45h0m1-75h0m1 168h0m0-139h0m1 49h0m1-92h0m0-58h0m0 272h0m1 17h0m0-207h0m2 160h0m0 26h0m0 35h0m2-284h0m2 255h0m0-167h0m1 26h0m1 127h0m2-80h0m0-39h0m0 53h0" stroke="#64D23C"/><path d="M1952 797h0m0 83h0m0 40h0m0-24h0m0-11h0m0 111h0m1-203h0m0 224h0m1-72h0m0-3h0m2 171h0m0-176h0m1-127h0m0 230h0m4 49h0m1 3h0m2-200h0m1 50h0m0 67h0m0 91h0m2-305h0m0 228h0m1 9h0m0-85h0m2-225h0m0 125h0m1 213h0m3-69h0m0-68h0m0-114h0m5 152h0m1-135h0m1 120h0m0 82h0m1-334h0m2 270h0m3-82h0m3 188h0m1-252h0m1 133h0m1 89h0m5 72h0m1-137h0m1-90h0m0-2h0m1 58h0m0 134h0m0-221h0m2 106h0m1-180h0m0 184h0m2-145h0m2 198h0m2-170h0m4-48h0m0 158h0m4 146h0m3-379h0m0 234h0m2 49h0m1-110h0m1-40h0m1 96h0m3-47h0m1 13h0m0-51h0m5 55h0m1 90h0m0 46h0m1 45h0m0-201h0m1 181h0m0-18h0m2-267h0m2 249h0m1-23h0m2-43h0m2-67h0m0 193h0m2-351h0m0 57h0m0-42h0m1 382h0m1-53h0m1 30h0m1-208h0m1-84h0m0 248h0m6-183h0m1-98h0m1 84h0m2 84h0m0-73h0m0-48h0m0 254h0m0-202h0m1 75h0m0-6h0m2-46h0m0 89h0m0-180h0m1 211h0m2-133h0m2-135h0m2 79h0m0-4h0m1-65h0m0 171h0m0 40h0m2 78h0m1-242h0m1 144h0m2-236h0m1 238h0m0 57h0m0-144h0m1 119h0m1-56h0m1 39h0m2-75h0m0 44h0m2-32h0m1-203h0m0 317h0m1-121h0m1 151h0m2-286h0m3 188h0m3 131h0m0-385h0m1 117h0m2 229h0m1-231h0m4 245h0m1 19h0m1-283h0m0-46h0m1 270h0m1-184h0m2 101h0m0-151h0m3 72h0m2 26h0m1-3h0m0 88h0m2-51h0m1-202h0m1 76h0m1 83h0m1 190h0m1-112h0m0 20h0m2-172h0m0 61h0m1 36h0m0-5h0m1-103h0m0 278h0m1-24h0m1-128h0m1-93h0m3 198h0m2-167h0m1-70h0m2 285h0m1-265h0m0-61h0m1 69h0m1 57h0m0 39h0m1-77h0m0 242h0m1-59h0m0-249h0m1 156h0m0 27h0m2 11h0m1 129h0m0-59h0m8-249h0m1 203h0m1 37h0m1-35h0m2 65h0m0-27h0m1-31h0m1 128h0m1-274h0m0-95h0m1 109h0m0-129h0m2-15h0m0 334h0m1-152h0m0-74h0m0 123h0m1-5h0m0 66h0m1-34h0m1-116h0m0 98h0m2-194h0m1 304h0m0-111h0m2-88h0m0-124h0m1 17h0m0 252h0m0-202h0m2 271h0m1-122h0m1 142h0m0-339h0m0 268h0m1-249h0m2-59h0m3 201h0m0 29h0m2-201h0m1 55h0m2 323h0m2-201h0m1-28h0m0 170h0m1-230h0m0-96h0m1-5h0m1 373h0m0-287h0m0 121h0m1 35h0m0-194h0m0 133h0m3-20h0m3-90h0m0 145h0" stroke="#64D23C"/><path d="M2212 1250h0m1-97h0m2 96h0m2 72h0m0 29h0m2-243h0m4 288h0m2-248h0m3 96h0m4-60h0m3 175h0m1-179h0m0-28h0m1 19h0m1 193h0m1-52h0m1-99h0m1-11h0m2 36h0m0-117h0m3 79h0m2-40h0m1-79h0m4 259h0m1-187h0m0 236h0m2-222h0m0 118h0m3 79h0m1-59h0m1-52h0m0-46h0m1 39h0m6 33h0m3-178h0m1 75h0m4 42h0m0-56h0m1 39h0m2 100h0m1 85h0m4-129h0m0-113h0m0 170h0m1 68h0m0 28h0m1-183h0m1-48h0m1 72h0m0-174h0m4 188h0m1-8h0m4 164h0m1-174h0m0-142h0m0-28h0m0 181h0m2 138h0m3-228h0m3 141h0m0-26h0m1 6h0m3-11h0m1 26h0m0-102h0m2 110h0m2-29h0m3-209h0m0 223h0m1-56h0m2 151h0m1-199h0m2 81h0m0 42h0m1 10h0m1-70h0m0-63h0m3 18h0m0 23h0m0 125h0m1-68h0m1-51h0m2-110h0m2-40h0m0 267h0m1-114h0m0-8h0m1-128h0m1 256h0m2-132h0m1-70h0m0 159h0m0 42h0m1-222h0m1 157h0m1 25h0m1-142h0m1 106h0m2-138h0m1-51h0m1 90h0m2 97h0m2-138h0m0 243h0m0-301h0m2 256h0m1 3h0m0-135h0m1 3h0m1 123h0m1-146h0m0-54h0m1 156h0m2-137h0m3 240h0m0-75h0m1-93h0m1 142h0m0-199h0m2 150h0m0-100h0m4-79h0m1-19h0m1 45h0m0 59h0m4 47h0m0 118h0m6-216h0m0 28h0m1 150h0m0 2h0m1-253h0m0 181h0m1-72h0m3-39h0m5 92h0m3 77h0m0 12h0m0-89h0m1-72h0m0-31h0m0 232h0m2-207h0m2 180h0m0-79h0m0-89h0m1 104h0m6 121h0m0-133h0m2 55h0m3-102h0m2 84h0m3-80h0m1 5h0m0 8h0m1-43h0m0 55h0m0 93h0m3-127h0m1 23h0m1-36h0m2-137h0m1 109h0m2-14h0m0 168h0m1-3h0m1 15h0m1-21h0m0-93h0m3-21h0m1-181h0m0 164h0m2 80h0m0-141h0m1 165h0m3 63h0m1-199h0m1-34h0m2 63h0m0 201h0m2-156h0m0-156h0m2 265h0m0-139h0m1 109h0m2-125h0m1 172h0m1-254h0m1 247h0m1-65h0m0-200h0m0 296h0m1-187h0m1-118h0m2 47h0m0 123h0m3-109h0m0 28h0m3-19h0m3 53h0m3 210h0m3-265h0m0-23h0m1 125h0m3 28h0m1 12h0m0-201h0m0 44h0m0 214h0m1-129h0m1-92h0m1 122h0m3 129h0m2-318h0m6 55h0m4 108h0m1-113h0m0 55h0m1-75h0m0 190h0m1-161h0m1 58h0m1-27h0m1 145h0m0-201h0m1 139h0m1 43h0m1-203h0m0 179h0m0 89h0" stroke="#B95AF5"/><path d="M2212 1165h0m1 209h0m2-122h0m0 20h0m0 95h0m1-111h0m0-58h0m0 125h0m1-87h0m1-83h0m4 131h0m4-182h0m0 130h0m0-163h0m3 84h0m2 156h0m0-182h0m1 145h0m1-5h0m1-2h0m1 72h0m1-200h0m0 167h0m1-31h0m0-18h0m0 122h0m2-242h0m1 105h0m0 91h0m4-10h0m2 53h0m0-231h0m1 149h0m0-101h0m0-36h0m0 120h0m1-4h0m1-54h0m1 50h0m1 4h0m1 33h0m0 81h0m1-36h0m1-178h0m0 32h0m1-122h0m1 117h0m1 149h0m2-29h0m2-53h0m3-173h0m4 179h0m0 100h0m0-182h0m4 77h0m0-74h0m3 82h0m5 118h0m1-77h0m3-153h0m0-62h0m6-29h0m1 105h0m0 162h0m2-10h0m1-78h0m2 89h0m0-22h0m0 78h0m1-103h0m1-125h0m1-13h0m0 228h0m1-101h0m0-107h0m3 220h0m2-47h0m2-107h0m1 127h0m1-202h0m0 26h0m1-150h0m0 130h0m1-58h0m0 242h0m0-259h0m1 21h0m0 116h0m0 14h0m1 53h0m1-92h0m0 168h0m2-149h0m0 188h0m0-238h0m0-13h0m2 150h0m2 77h0m0-63h0m1 13h0m0-145h0m0-54h0m1 74h0m2-57h0m2 94h0m0 44h0m1-124h0m2 93h0m0 83h0m1-256h0m0 155h0m1 83h0m3-224h0m3 85h0m1-78h0m0 100h0m1-9h0m1 81h0m1-30h0m0-92h0m1 22h0m2-44h0m1 2h0m1 19h0m1 100h0m0 105h0m0 33h0m1-217h0m0-104h0m1 306h0m0-146h0m1 38h0m1 82h0m2-91h0m2-211h0m1 245h0m0-27h0m1-42h0m0-115h0m2 234h0m3-110h0m0 147h0m2-174h0m1-49h0m1 148h0m5 34h0m3-119h0m1 23h0m0 38h0m1 99h0m2-135h0m1-33h0m1 148h0m0-46h0m1 52h0m1 63h0m0-311h0m0-44h0m3 150h0m2-45h0m0 31h0m1 35h0m2 167h0m0-273h0m1 157h0m0-162h0m0 86h0m1 148h0m4-43h0m0-15h0m0-119h0m3-27h0m1 71h0m1 74h0m0-152h0m1 53h0m1 14h0m1 4h0m0 129h0m0-73h0m2-179h0m0 48h0m4 29h0m2 173h0m0-312h0m1 110h0m5 117h0m0 116h0m2-154h0m1 225h0m2-62h0m0-299h0m0 198h0m5-99h0m0 121h0m3 41h0m1-211h0m0-18h0m0 28h0m2 125h0m1 36h0m1-244h0m0 333h0m2-151h0m2-26h0m0-111h0m1 128h0m0 17h0m2-107h0m0 101h0m0 32h0m1-158h0m0 113h0m1-77h0m1-82h0m1 94h0m1-28h0m2 181h0m0 13h0m1-227h0m1 32h0m1-17h0m1 150h0m0-97h0m1 79h0m1 105h0m0-191h0m1 88h0m1-109h0m2-14h0m5 203h0m1-266h0m0 290h0m0-109h0m3-188h0m1 228h0m1-166h0m2 84h0m0-93h0m0 27h0m1 102h0m2-98h0m0-13h0m1 177h0m0-96h0m1-101h0m0 191h0m0 10h0m1 31h0m0-12h0m0 57h0m2-252h0m0 152h0m5-54h0m0-103h0m1-19h0m0 80h0m2 63h0m1-111h0m0 183h0m1 6h0m2-274h0m1 129h0m0 88h0m5-74h0m2-33h0m1-122h0m2 195h0m1-119h0m0 111h0m1-97h0m5 229h0m0-43h0m2-96h0m0-72h0m0 68h0m0 119h0" stroke="#B95AF5"/><path d="M2212 1080h0m0 33h0m0 79h0m0 142h0m0-50h0m2-15h0m0 27h0m1-229h0m1 177h0m1 98h0m1-177h0m1-1h0m4 17h0m5 194h0m0 44h0m4-239h0m1 187h0m1 17h0m2-261h0m4 170h0m2-216h0m0 278h0m0-123h0m4 102h0m0 54h0m2-24h0m1 41h0m3-243h0m2 47h0m1-68h0m2 79h0m1-28h0m0-83h0m0 78h0m1 136h0m1-86h0m0-135h0m4 324h0m3-50h0m2 40h0m0-79h0m2 6h0m0-159h0m2 164h0m2-86h0m1 102h0m5-24h0m2-93h0m1 149h0m2-182h0m2 196h0m1-127h0m2 105h0m2-7h0m1-247h0m2 18h0m1-42h0m0 268h0m2-174h0m1 50h0m4-3h0m0-174h0m2 160h0m0-54h0m0-96h0m4 19h0m1 21h0m1 201h0m0 4h0m0-214h0m0-45h0m0 172h0m0-56h0m2 100h0m3-35h0m1 62h0m1-197h0m8-8h0m2 133h0m0-54h0m2 105h0m3 82h0m2-292h0m2 30h0m0-42h0m1 253h0m0 63h0m0-173h0m1 139h0m2-203h0m0 191h0m2-5h0m0 5h0m1 36h0m0-113h0m3-93h0m0 97h0m0-77h0m1-39h0m2 180h0m0 39h0m1-124h0m0-54h0m0-88h0m0 61h0m0 239h0m1-81h0m0-233h0m7 108h0m0-6h0m0-41h0m1 113h0m1-106h0m0 197h0m1-214h0m0 186h0m1-118h0m1-114h0m1 244h0m3-31h0m0-128h0m0-18h0m1 178h0m0-68h0m1-85h0m2 115h0m1 103h0m1-138h0m2 164h0m1-236h0m0-37h0m0 261h0m0-186h0m1-80h0m0 197h0m0-71h0m2-42h0m3-99h0m0-38h0m1 257h0m2-114h0m1 185h0m0-205h0m1-133h0m0 44h0m0 12h0m1 48h0m3 0h0m1 61h0m0 123h0m0-254h0m2 269h0m1-50h0m2-106h0m2-120h0m1 199h0m0-27h0m1-92h0m1 113h0m1 5h0m3-177h0m1 95h0m0 177h0m2-245h0m5 41h0m2 16h0m1-59h0m2 262h0m0-106h0m3-27h0m0-156h0m2 145h0m2-5h0m0 59h0m1-65h0m2-27h0m1-53h0m0-111h0m2 254h0m0-99h0m1-184h0m0 223h0m0-88h0m0 11h0m1 51h0m2 89h0m0-51h0m2-141h0m0 9h0m0-32h0m2-8h0m0 24h0m1-30h0m1 168h0m1 51h0m2-47h0m0-162h0m1 15h0m2 123h0m3-122h0m2 123h0m1 89h0m0 5h0m2-259h0m1 22h0m2 2h0m0 153h0m2 14h0m0-48h0m1 98h0m1-122h0m1-54h0m0 177h0m1-97h0m1-16h0m1-124h0m0 261h0m2-88h0m0 0h0m2 36h0m0-237h0m1 240h0m2-189h0m2 53h0m1-74h0m3 263h0m1-312h0m0 97h0m0 47h0m0 7h0m2-70h0m4 61h0m0 137h0m2-21h0m0-176h0m1 27h0m1 29h0m0 196h0m2-195h0m3 161h0m3-272h0m1 99h0m3-48h0m2 101h0m2 53h0m2-184h0m1 45h0m1-95h0m0 54h0m0 171h0m0 33h0m0 5h0m0 64h0" stroke="#B95AF5"/><path d="M2212 1107h0m0 231h0m1-169h0m0-81h0m0 297h0m1-259h0m1 238h0m1-169h0m0 95h0m0-157h0m1 46h0m0 203h0m2-5h0m1-159h0m0 67h0m1-130h0m0 175h0m4-158h0m1 67h0m1-21h0m2 153h0m1-104h0m0 90h0m5-211h0m0 14h0m1 78h0m0 135h0m1-228h0m2 20h0m3 55h0m0 107h0m1 77h0m1-215h0m0 117h0m1-89h0m0 66h0m1 64h0m2 19h0m0-111h0m1 105h0m1-179h0m3 48h0m2 48h0m0-32h0m2 26h0m1 80h0m2 66h0m1-129h0m0-34h0m3 58h0m1-144h0m1 257h0m0-71h0m1-57h0m1-115h0m0-81h0m0 292h0m3-33h0m1-217h0m1 289h0m2-189h0m2 112h0m4-220h0m1-6h0m0 229h0m2 35h0m0-281h0m4 217h0m0-161h0m2-5h0m1-38h0m0 230h0m1-179h0m1-1h0m1 142h0m0-17h0m3-156h0m2 182h0m1-137h0m0 140h0m2-31h0m2-164h0m3 174h0m0-35h0m1-4h0m1-115h0m1 96h0m1 25h0m0-174h0m0 164h0m1-169h0m2 142h0m1-17h0m0 59h0m1 75h0m0-304h0m1 354h0m0-224h0m0 62h0m1-174h0m1 265h0m1-251h0m2 65h0m1-34h0m0 253h0m1-239h0m0 84h0m2-51h0m0-87h0m0 172h0m0-175h0m2 130h0m0-48h0m1-7h0m2 164h0m0 85h0m1-252h0m0-117h0m1 333h0m0-259h0m1 111h0m4 95h0m0-126h0m2 142h0m0-102h0m2 182h0m0-290h0m1-9h0m1 19h0m0 73h0m3 14h0m1 198h0m1-180h0m0 122h0m1-46h0m1-172h0m1 1h0m0 106h0m1-36h0m1-80h0m1 254h0m0-263h0m2 83h0m3 25h0m1 121h0m2 8h0m1-58h0m0-30h0m1 49h0m2-119h0m1 163h0m2-116h0m0 123h0m1-73h0m0-64h0m1 96h0m2-173h0m0 281h0m0-249h0m1 260h0m1-83h0m1-219h0m1 276h0m0-151h0m1 115h0m0-87h0m1-72h0m0 116h0m0-231h0m2 157h0m0-87h0m1 183h0m1-151h0m1 189h0m0-29h0m1-207h0m0 220h0m4-139h0m2-98h0m1 48h0m4 120h0m2-37h0m0-144h0m1 155h0m2-34h0m3-111h0m5 27h0m1 200h0m0-82h0m1 34h0m1-59h0m1 38h0m2-17h0m1-58h0m1-141h0m0 55h0m0 23h0m2 115h0m2 46h0m1-64h0m1 58h0m0-137h0m1 41h0m6 105h0m0-218h0m1 43h0m1 275h0m1-268h0m2-50h0m0 5h0m1-37h0m2 241h0m1-214h0m0 56h0m1 35h0m1 134h0m0 50h0m1-286h0m0 292h0m2-168h0m1-55h0m1 94h0m5-128h0m1 108h0m2 140h0m1-107h0m3-160h0m1 252h0m2-232h0m2 76h0m1 195h0m1-244h0m0 55h0m1 146h0m0-274h0m0 149h0m1 205h0m1-91h0m0-204h0m1 65h0m0 113h0m2-154h0m2 29h0m2-60h0m1 191h0m0 52h0m1-151h0m1 184h0m1-295h0m1 95h0m0-97h0m2 170h0m1-178h0m2 64h0m5 177h0m1-180h0m0 163h0m5 22h0m5 3h0m1-154h0m1-60h0m1 24h0m1 7h0m1-109h0m2 95h0m0-6h0m1 23h0m1 147h0m2-236h0m0 183h0m0 70h0" stroke="#B95AF5"/><path d="M2212 1215h0m0 97h0m3 36h0m0-85h0m1-170h0m3 35h0m0 181h0m3 9h0m1-102h0m1-39h0m0 12h0m4 173h0m0-4h0m0 22h0m2 11h0m1-251h0m0-34h0m0 157h0m0 124h0m1-250h0m0 143h0m1 64h0m0-212h0m2-7h0m0 169h0m0 91h0m1-175h0m0-132h0m1 173h0m1 84h0m2 45h0m3 29h0m1-207h0m0 39h0m1 78h0m1-198h0m6 279h0m5-15h0m1-160h0m0 44h0m3-122h0m1-39h0m0 259h0m1 34h0m4-263h0m7-13h0m1 180h0m1-48h0m0-69h0m1 165h0m1-259h0m2 272h0m4-245h0m2 240h0m0-70h0m1-37h0m1 18h0m1-210h0m0 315h0m0-60h0m1-79h0m1-8h0m2 145h0m2-23h0m0-148h0m0-86h0m2 152h0m0-124h0m1 227h0m0 55h0m2-234h0m3 150h0m1-137h0m3 172h0m0-227h0m1-24h0m2 108h0m3-150h0m0 108h0m2 95h0m2 102h0m4-343h0m1 315h0m1 21h0m6-61h0m0-2h0m1 54h0m1 10h0m1-282h0m2 162h0m0-143h0m1-42h0m0 257h0m1 58h0m2-91h0m1-151h0m1 77h0m0 146h0m3-111h0m3-159h0m1 50h0m0-92h0m1 54h0m1 12h0m1 105h0m1 58h0m1-224h0m1 146h0m0-33h0m2-16h0m1 243h0m2-5h0m1-213h0m5 210h0m1-293h0m2 285h0m0-130h0m1-21h0m1 27h0m0 23h0m1-158h0m0 254h0m0-21h0m1-6h0m0-148h0m2-84h0m2 184h0m1-86h0m0 157h0m2-230h0m1 37h0m1 194h0m0-250h0m2 179h0m5 30h0m3-171h0m1 113h0m2-15h0m1 107h0m0-23h0m3-54h0m1-154h0m2 82h0m0-128h0m0 224h0m0-214h0m1 29h0m4-69h0m0 203h0m11 87h0m1-123h0m0 30h0m1 71h0m2-122h0m2-8h0m0 166h0m1 43h0m0-247h0m2 171h0m0-107h0m1-12h0m1 123h0m1-143h0m0 110h0m1-69h0m0-118h0m0 230h0m0 51h0m0-253h0m0 8h0m2 99h0m1 124h0m2-103h0m1-241h0m0 263h0m1 47h0m1-164h0m1 114h0m1 1h0m3-118h0m0 69h0m0-92h0m0 46h0m1 132h0m1-239h0m3 270h0m0-266h0m0 256h0m2-62h0m1-103h0m3 199h0m1-287h0m1 288h0m0-246h0m1 271h0m2-89h0m3-184h0m0 49h0m1-53h0m0 53h0m0-15h0m2 209h0m0-92h0m1-59h0m1 40h0m1-189h0m3 306h0m0-144h0m1 149h0m1-247h0m1 31h0m0 143h0m0-171h0m0 105h0m0 66h0m1-233h0m0 274h0m1-251h0m2 89h0m1-5h0m3-51h0m0-66h0m2 90h0m1-43h0m1 139h0m1 160h0m1-305h0m2 101h0m0 33h0m0-146h0m3 244h0m1-87h0m2-15h0m1-28h0m0 87h0m3-223h0m1 28h0m0-13h0m1 149h0m5-144h0m2 181h0m0-201h0m0 268h0m0-140h0m2 163h0m0-271h0m0 135h0m0 165h0m1-187h0m1 65h0m1-204h0m0 86h0m0 166h0" stroke="#B95AF5"/><path d="M2517 1122h0m0 113h0m3-47h0m1-10h0m2-148h0m1 225h0m1-203h0m2 153h0m0 42h0m2 45h0m0-127h0m3 96h0m2-53h0m2-35h0m4 46h0m3 103h0m1-19h0m5-91h0m0-78h0m1 178h0m1-32h0m0-200h0m1 35h0m1-84h0m2 109h0m3-56h0m0-12h0m1 208h0m0-150h0m1 76h0m1-136h0m0 16h0m1 180h0m2 21h0m0-29h0m1-176h0m2 157h0m2-119h0m1 112h0m4 83h0m0-227h0m1 193h0m0-217h0m0 88h0m1 23h0m0 126h0m1-174h0m1 194h0m1-286h0m0 262h0m0-89h0m2-88h0m2-25h0m4 97h0m1 27h0m1 47h0m2 28h0m1-46h0m4-67h0m0-75h0m1 97h0m1-49h0m0-18h0m0 25h0m2 28h0m0-64h0m1 79h0m2 91h0m1-153h0m2 66h0m0-22h0m2 46h0m2 5h0m3 16h0m3-81h0m3 6h0m1 206h0m5-173h0m2-176h0m0 148h0m3-116h0m1 217h0m1-212h0m2 215h0m1 41h0m0-44h0m1-102h0m1-133h0m2 99h0m2 108h0m4-57h0m3-101h0m2-47h0m1 216h0m2-7h0m3-241h0m0 198h0m1-32h0m1-106h0m1 25h0m0 107h0m0-117h0m1 1h0m0 129h0m2 97h0m0-234h0m3 202h0m0-157h0m2 53h0m1 75h0m2-194h0m1-41h0m0 319h0m0 20h0m1-341h0m1 130h0m2-118h0m1 252h0m1-154h0m0 227h0m3-30h0m1-38h0m0-269h0m2 162h0m0 30h0m0 25h0m1 9h0m0-188h0m1 150h0m1-144h0m1 80h0m0-84h0m0 103h0m1 56h0m1 9h0m1-200h0m1 6h0m0 46h0m0-31h0m1-28h0m1 243h0m0-165h0m0 212h0m0-29h0m3-41h0m0 37h0m3-135h0m1 86h0m0-40h0m2-7h0m0-21h0m3-81h0m0 114h0m0-122h0m5 23h0m2-14h0m0 111h0m0 64h0m0-128h0m1 40h0m1 51h0m1 17h0m1-78h0m0 167h0m3-216h0m2 144h0m1-54h0m1 76h0m0-203h0m2 91h0m2 122h0m0-58h0m1 84h0m1-98h0m1-177h0m0 260h0m1-243h0m1 274h0m0-199h0m0 97h0m0 16h0m1-81h0m0 137h0m1-180h0m2 162h0m5-169h0m0 240h0m1-307h0m3 137h0m1 169h0m0-312h0m0 233h0m0-189h0m2 42h0m2 207h0m0-222h0m1 37h0m0 23h0m1 103h0m0-230h0m2 16h0m2 198h0m0-153h0m1 28h0m10-54h0m1-16h0m1 201h0m0-57h0m1 20h0m9-102h0m1 46h0m0-42h0m0 19h0m8 171h0m0-32h0m0-66h0m3-70h0m1-71h0m0 202h0m0-211h0m0 182h0m0 25h0m1 18h0m1-138h0m1 8h0m0 89h0m1-80h0m0-107h0m2 201h0m0-160h0m0 166h0" stroke="#FDACE9"/><path d="M2520 1052h0m1 82h0m0 87h0m4-205h0m0 8h0m0 200h0m2-123h0m1 116h0m3 117h0m0-142h0m1 66h0m2 30h0m1-77h0m0 44h0m1-153h0m1 224h0m3-11h0m1-24h0m0 1h0m4-51h0m2 23h0m2-26h0m0 93h0m1-208h0m5 83h0m2-3h0m1-160h0m1 240h0m1 52h0m1-172h0m1-44h0m1 30h0m1 162h0m1 12h0m0 49h0m1-123h0m3-167h0m2 219h0m4-165h0m1 55h0m0-140h0m4 181h0m1 50h0m1-205h0m2 255h0m1-203h0m7 68h0m1-37h0m0-57h0m0 90h0m4 99h0m0-158h0m0-137h0m1 161h0m1-144h0m2 217h0m0 39h0m3-53h0m0-181h0m2 175h0m3 70h0m1-86h0m0 56h0m1-28h0m0 20h0m1-144h0m3 80h0m0-129h0m4 48h0m1-20h0m1 293h0m4-245h0m5 30h0m1 136h0m1 52h0m1-309h0m1 141h0m0-83h0m1 81h0m0 95h0m1-112h0m5-51h0m1 137h0m1-61h0m2-50h0m1 15h0m3 81h0m0-7h0m0-65h0m1 94h0m2-99h0m1 125h0m3-194h0m2 201h0m0-57h0m3-152h0m0 55h0m0 62h0m0-35h0m0-93h0m1 187h0m1-204h0m2 31h0m2-14h0m0 34h0m1 29h0m5 151h0m1-162h0m1-64h0m2 190h0m3 24h0m1-20h0m2-81h0m2 99h0m2-5h0m1-158h0m0 223h0m1-162h0m0-8h0m2-79h0m1 115h0m0-170h0m2 169h0m1 95h0m0-57h0m1-5h0m0-16h0m0-31h0m2-48h0m7 12h0m1 216h0m0-279h0m2 231h0m0-58h0m0-14h0m1 68h0m1 13h0m0-40h0m0-214h0m0 145h0m1 7h0m0-83h0m0 13h0m0 149h0m1-111h0m0-123h0m1 159h0m0-16h0m2 6h0m0-146h0m3 112h0m0-39h0m1 153h0m1-26h0m0 61h0m2-244h0m0 23h0m0 78h0m1-89h0m1 130h0m0 31h0m1-43h0m1-70h0m0 121h0m0-165h0m3 227h0m1-18h0m0-99h0m1-103h0m6 68h0m1-51h0m0 150h0m1-29h0m0 40h0m0-155h0m2-81h0m1 223h0m2-7h0m1 67h0m1-140h0m2-74h0m2 218h0m2-93h0m2 55h0m3-193h0m2-52h0m1 168h0m0-62h0m0-71h0m1 223h0m1-145h0m1-31h0m1 88h0m4-118h0m1-5h0m0 120h0m1-135h0m0 57h0m1 206h0m1-239h0m1 89h0m3 36h0m1-69h0m2 6h0m1 152h0m0-80h0m3-112h0m2-52h0m0-9h0m0 211h0m2-90h0m2-52h0m0 225h0m3-55h0m0-15h0m1-46h0m1-147h0m2 7h0m0 79h0m2 13h0m0 64h0" stroke="#FDACE9"/><path d="M2518 1131h0m6-44h0m1 129h0m4 92h0m1-121h0m1-129h0m4 27h0m1 49h0m0-82h0m5 127h0m1 33h0m1-4h0m3-36h0m1 5h0m4 131h0m1-279h0m1 61h0m1 10h0m1 33h0m1 54h0m1-7h0m1 65h0m1-128h0m0 121h0m1-42h0m1-16h0m3 46h0m0 18h0m2-116h0m1 207h0m1 29h0m2-46h0m2-231h0m0 168h0m2 67h0m3-75h0m1-202h0m1 245h0m2-92h0m0-22h0m1 93h0m1-36h0m2 63h0m2-233h0m0 111h0m2 108h0m0 36h0m0-118h0m1-190h0m2 290h0m1-38h0m0 40h0m1-30h0m1-14h0m1-7h0m1-195h0m0-21h0m0 176h0m1-33h0m0-116h0m1 107h0m0-79h0m2 222h0m1-208h0m0-22h0m5 159h0m0 98h0m1-284h0m0 25h0m1 70h0m3-47h0m0 3h0m0 163h0m2-15h0m1-77h0m0-113h0m0 41h0m2 16h0m0-30h0m5 60h0m1 47h0m4-10h0m1-23h0m0-70h0m1 59h0m1 12h0m2-66h0m1 148h0m2 11h0m1 40h0m3-146h0m1 133h0m0-49h0m2 46h0m5-206h0m1-7h0m2 149h0m1-11h0m3-102h0m1 146h0m0-118h0m2-29h0m0 105h0m1-191h0m2 277h0m3-190h0m1 74h0m0 20h0m2 117h0m1-81h0m1-196h0m0 80h0m5 166h0m0-177h0m0-12h0m1 95h0m3-69h0m0 159h0m2-229h0m1 264h0m5-87h0m2 41h0m1-196h0m0 33h0m1-59h0m1 51h0m1 83h0m0 51h0m1 21h0m2-3h0m3-189h0m0-28h0m1 175h0m4 46h0m0 86h0m1-54h0m0 11h0m0 12h0m0-224h0m3 226h0m1 3h0m0 12h0m0-42h0m1-110h0m1-125h0m0 83h0m6 149h0m0-82h0m2 68h0m0-149h0m1 134h0m1-9h0m1-93h0m1-26h0m5 195h0m0-166h0m1-101h0m1 11h0m3-25h0m0 231h0m1-109h0m1 52h0m1-81h0m0 210h0m1-64h0m0-108h0m1 4h0m6-112h0m1 202h0m0-33h0m0-113h0m2 89h0m3 121h0m1-16h0m0-260h0m2 191h0m0 49h0m0-76h0m0-138h0m1 90h0m2-45h0m0 28h0m1 112h0m1-27h0m4 101h0m2-193h0m2 32h0m0-129h0m3 126h0m1-32h0m0 97h0m1-137h0m0 178h0m0 76h0m3-65h0m5-198h0m2 92h0m2 12h0m0-7h0m0-85h0m2 44h0m1-38h0m1 146h0m0-23h0m1-183h0m1 169h0m1 43h0m6-92h0m1-25h0m0 59h0m0 146h0m1-105h0m0 68h0m2-36h0" stroke="#FDACE9"/><path d="M2517 1085h0m0 90h0m1 121h0m2 15h0m2-235h0m3-42h0m9 171h0m0-7h0m1-41h0m0-102h0m1 23h0m1 201h0m0-127h0m1-106h0m2 228h0m10-30h0m1-14h0m0-18h0m1 16h0m4-9h0m0-121h0m0 32h0m2 190h0m2-21h0m3 59h0m0-9h0m8-35h0m2-125h0m2 32h0m3-196h0m0 228h0m2-62h0m0 74h0m2 9h0m0-25h0m1-31h0m1-22h0m4-110h0m0 218h0m0-31h0m1-107h0m0 160h0m0-290h0m1 80h0m2-2h0m1 195h0m0-269h0m1 105h0m1 179h0m3-130h0m0 4h0m0-86h0m4 87h0m1-156h0m0 217h0m0 18h0m2-159h0m0 64h0m1 30h0m2-120h0m3 187h0m0-217h0m4 209h0m0-194h0m3 104h0m0 6h0m1 114h0m1-80h0m1-129h0m3 208h0m3-225h0m1-50h0m2 209h0m0-25h0m1 61h0m1-164h0m0-80h0m1 288h0m1-130h0m1-40h0m4 25h0m2 134h0m2-187h0m0 174h0m4-278h0m2 117h0m0 10h0m0 152h0m1-180h0m1-53h0m0 255h0m1-42h0m0 87h0m0-222h0m0-70h0m1 88h0m0 183h0m3-146h0m2 57h0m1-70h0m1-82h0m1-98h0m2 46h0m0 239h0m1 93h0m1-345h0m2-37h0m0 221h0m0 95h0m2-175h0m2 203h0m3-333h0m2 142h0m3-29h0m1 107h0m0-122h0m6-25h0m1 189h0m6-220h0m1 122h0m2-14h0m1 112h0m2-1h0m1-168h0m0 56h0m0 77h0m3 30h0m2 38h0m1-231h0m1 268h0m0-128h0m0-49h0m1-78h0m1 246h0m3-202h0m0 206h0m3-141h0m0 121h0m2-123h0m4-8h0m0 100h0m2 11h0m0-154h0m1-2h0m0 47h0m2-174h0m3 112h0m1 32h0m0 59h0m0 27h0m1-66h0m1 176h0m2-199h0m0 30h0m7 117h0m2-191h0m3 25h0m1-78h0m3 91h0m2-20h0m0 5h0m1 130h0m1 25h0m1 18h0m9-263h0m0 276h0m1-49h0m1-156h0m0 196h0m3-173h0m1 190h0m0-80h0m0-79h0m4 139h0m3-222h0m1-13h0m0 167h0m1 10h0m1-92h0m2-101h0m2 222h0m1-137h0m2-55h0m0 86h0m4 32h0m1 95h0m0-175h0m1 254h0m1-315h0m0 168h0m1-199h0m1 57h0m1 38h0m1 158h0m0-120h0" stroke="#FDACE9"/><path d="M2517 1090h0m1 69h0m2-57h0m0 143h0m2-20h0m2 124h0m1-58h0m3-118h0m1 80h0m0 34h0m5 12h0m2-73h0m4-96h0m6 93h0m3-157h0m2 130h0m1-101h0m2 71h0m0-43h0m2 22h0m1 110h0m0 90h0m0-257h0m1-19h0m2 80h0m2-74h0m1 185h0m2 15h0m1-203h0m1 16h0m1 40h0m1 27h0m1 44h0m2 40h0m5-56h0m1 17h0m2 118h0m1-205h0m0 52h0m0-83h0m5 69h0m0-27h0m1 188h0m0-268h0m1 86h0m1-107h0m1 120h0m0-30h0m1-47h0m1 60h0m1-41h0m2 213h0m2-57h0m1 42h0m0 38h0m1-244h0m2-20h0m1 129h0m1-73h0m0 156h0m2-103h0m2 60h0m1 98h0m0-245h0m4 44h0m2 27h0m2-42h0m1 100h0m2-75h0m0 96h0m0-159h0m2 82h0m2 140h0m2-44h0m2-45h0m3 12h0m0-122h0m3 120h0m2-67h0m2 173h0m6-174h0m1 179h0m1-56h0m2-97h0m0 32h0m1-16h0m1-117h0m1 20h0m0 120h0m1-43h0m1-45h0m0 52h0m1 179h0m0-366h0m3 218h0m0 66h0m1-183h0m2 123h0m1-87h0m0-93h0m1 311h0m1-40h0m1 28h0m1-50h0m0-208h0m0 76h0m2 190h0m3-291h0m0-13h0m1 47h0m1 123h0m0-109h0m3 140h0m2 83h0m2-33h0m1-73h0m1-40h0m0 17h0m0 60h0m1-190h0m2 264h0m0-46h0m1-88h0m0-93h0m1 218h0m2-210h0m1 17h0m1 184h0m3-89h0m1 105h0m0-177h0m1-117h0m1 30h0m0-44h0m0 62h0m1 162h0m0 126h0m1-21h0m1-191h0m1 189h0m3-225h0m0-76h0m1 16h0m0 25h0m1 245h0m2-80h0m0-189h0m3 99h0m4-58h0m0 131h0m1-9h0m3 57h0m2-81h0m0-32h0m1 110h0m1-151h0m0 3h0m1 208h0m1-302h0m1 61h0m0 13h0m5 53h0m0-45h0m1-84h0m1 280h0m1-154h0m2 9h0m3-7h0m0-64h0m1 241h0m4-49h0m0-211h0m2 241h0m0-87h0m1 85h0m0-35h0m2-201h0m1 80h0m0 5h0m0-70h0m2 106h0m1-187h0m0 105h0m0 36h0m1-89h0m0 190h0m2-238h0m0 130h0m2 48h0m1-121h0m0 197h0m0-82h0m1 132h0m2-3h0m1-251h0m1 6h0m7 58h0m1 130h0m2 73h0m1-193h0m2 5h0m2 58h0m0 64h0m1-224h0m0-6h0m0 70h0m1 133h0m0 68h0m0-13h0m1-85h0m2-34h0m2-60h0m1-106h0m1 62h0m1-4h0m0 39h0m1 17h0m1 89h0m6 25h0m2-148h0m0 110h0m1-166h0m0 192h0" stroke="#FDACE9"/><path d="M2802 1152h0m0 49h0m0 94h0m1-233h0m2-30h0m4 61h0m3 29h0m1 212h0m1-234h0m0 175h0m1-220h0m4 258h0m0-45h0m4-168h0m2 117h0m1-168h0m2 308h0m1-106h0m0 17h0m1-95h0m4 47h0m3 50h0m1-147h0m1 56h0m2 140h0m0-150h0m2 168h0m0-248h0m0-39h0m1-1h0m1-20h0m2 290h0m2-98h0m0 179h0m1-103h0m0-88h0m2-64h0m1 128h0m1-182h0m1 163h0m0-82h0m2-163h0m1 271h0m1-90h0m2-122h0m6 285h0m0-202h0m0-93h0m1 74h0m2-55h0m1 76h0m2-82h0m1 128h0m0-79h0m1 210h0m0-169h0m5-7h0m2 148h0m1-245h0m0 243h0m1-187h0m1-68h0m1-30h0m1 227h0m2-112h0m1 61h0m1-68h0m2 164h0m1-13h0m1-90h0m2 141h0m1-166h0m1 69h0m1-79h0m1-74h0m3 161h0m2 67h0m5-7h0m0-156h0m0 10h0m1 202h0m0-288h0m2 144h0m1-161h0m2 230h0m1-52h0m0-6h0m1-149h0m1 139h0m2-73h0m1-131h0m1 257h0m0-7h0m0-170h0m0 141h0m0-45h0m1 88h0m0-172h0m2-16h0m1 110h0m3-155h0m3 272h0m1-54h0m1-92h0m2-67h0m0 53h0m2-23h0m1 191h0m2-85h0m2 41h0m0 9h0m1 32h0m0-127h0m1-50h0m0 243h0m1-162h0m2-124h0m1 266h0m2-312h0m0 169h0m2-54h0m0-37h0m1 27h0m1 164h0m5-235h0m0 178h0m0-143h0m0-70h0m0 54h0m2 68h0m0-39h0m4 215h0m0-214h0m2-37h0m1-43h0m1 147h0m2 1h0m2 176h0m1-158h0m1-140h0m3 158h0m1-40h0m1-51h0m1 126h0m3-231h0m1 183h0m1 148h0m1-267h0" stroke="#E8D69E"/><path d="M2803 1232h0m2 54h0m1-42h0m0-186h0m1 207h0m1-141h0m7 211h0m4 0h0m4-324h0m3 264h0m0-25h0m3-182h0m3 126h0m1-85h0m0-98h0m0 62h0m0 61h0m1 168h0m0-100h0m0-47h0m0-108h0m2-10h0m1 174h0m0-128h0m3 39h0m0-89h0m0 35h0m3 205h0m1 16h0m2-223h0m1 167h0m1-175h0m1 234h0m1-256h0m1 278h0m0-167h0m2-30h0m4 208h0m0-187h0m2 80h0m5-159h0m5 237h0m1-180h0m1 228h0m1-174h0m0-123h0m1 168h0m1 100h0m0-39h0m1-108h0m1-133h0m1 142h0m1 84h0m1-127h0m0 138h0m1-200h0m2 191h0m0-137h0m0 23h0m2 82h0m1 76h0m0-67h0m0-166h0m0 154h0m1-187h0m0 79h0m0 7h0m1 30h0m0 111h0m3-223h0m0 182h0m1-185h0m0 105h0m3 58h0m2-11h0m2-49h0m1 106h0m2-113h0m1-7h0m4 49h0m2 31h0m0-154h0m2 192h0m2-56h0m4 61h0m2 17h0m0-158h0m0-51h0m6 85h0m0 219h0m1-117h0m2-252h0m1 146h0m1 43h0m0-128h0m1 238h0m2-20h0m1-125h0m1 94h0m1 13h0m1-117h0m3 126h0m1-153h0m1-13h0m0-27h0m3 20h0m1-95h0m0 89h0m1 219h0m0-129h0m0-118h0m1 202h0m1 33h0m2-142h0m0 190h0m1-167h0m2 86h0m2-197h0m1 156h0m3-112h0m1 40h0m5-50h0m2 81h0m1-48h0m1 100h0m0 99h0m1-7h0m1-41h0m1 14h0m2 59h0m0-278h0m1 19h0m1 43h0m1 189h0m0-133h0m0 69h0m1-109h0m0-60h0m1 35h0m1 122h0m3 97h0m1-46h0m0-10h0m2-166h0m1-98h0m2 292h0m1 59h0m1-250h0m2 230h0" stroke="#E8D69E"/><path d="M2803 1126h0m1-26h0m2 191h0m0-164h0m0 125h0m0-150h0m0 35h0m3 189h0m5 48h0m1-116h0m0-39h0m1-52h0m1 154h0m0-158h0m1-22h0m1 139h0m2-176h0m6 57h0m1-77h0m1 241h0m1-99h0m0-94h0m5-63h0m0-17h0m3 74h0m2 201h0m0-219h0m0 175h0m0-209h0m2 18h0m0 20h0m0 82h0m0 116h0m1-289h0m3 111h0m0-68h0m1 50h0m1-60h0m0 208h0m1-24h0m0 25h0m2-61h0m7 41h0m1-43h0m1-5h0m1-107h0m7-63h0m3 58h0m0 131h0m0-74h0m1 244h0m1-52h0m0-69h0m7 23h0m0-70h0m0-133h0m0 261h0m1 2h0m0-41h0m2-279h0m0 240h0m1 72h0m3-112h0m0 104h0m0-284h0m1 65h0m0 11h0m4-42h0m1 219h0m1 64h0m2-62h0m1-239h0m1 212h0m2-109h0m1 169h0m1-233h0m5 59h0m0 175h0m3-185h0m0-90h0m1 248h0m2-287h0m6 18h0m3 151h0m0-22h0m1-100h0m0 19h0m3 244h0m0-219h0m1-8h0m4 62h0m2 65h0m0 39h0m1 69h0m4-303h0m3 191h0m0-152h0m2 227h0m1-235h0m0 229h0m1-6h0m1-157h0m0 23h0m0 180h0m3-42h0m3-175h0m0-42h0m2 117h0m3 49h0m1 79h0m1-197h0m0 28h0m1 193h0m0-328h0m1 269h0m4 28h0m1-225h0m4 170h0m1-242h0m1 202h0m0 81h0m0 18h0m0-179h0m0 24h0m1 72h0m0-5h0m1 38h0m0-253h0m1 201h0m0 139h0m1-82h0m1 58h0m1-87h0m0-132h0m1 51h0m0 40h0m0 15h0m0 17h0m1-120h0m1-80h0m5 60h0m1 122h0m4 123h0m0-65h0m1-65h0" stroke="#E8D69E"/><path d="M2802 1166h0m0 144h0m0 33h0m1-151h0m2 97h0m1-33h0m0 36h0m1 32h0m0-245h0m2 74h0m1 59h0m0 96h0m1-82h0m0-159h0m1 78h0m4-73h0m2 176h0m0-57h0m2 134h0m2-54h0m1-10h0m0-170h0m2 147h0m1 0h0m5 46h0m0-119h0m1-21h0m0 70h0m0-89h0m1 188h0m1-74h0m1 37h0m0-224h0m2 261h0m0-198h0m0 130h0m2-1h0m1-30h0m0-119h0m2 60h0m0-147h0m0 66h0m1 265h0m0-55h0m0-107h0m1 66h0m1 34h0m0-77h0m1 154h0m1-67h0m0-242h0m2 116h0m3-108h0m2 244h0m1 36h0m1-31h0m2-144h0m3-80h0m0 217h0m0-41h0m2 25h0m5 71h0m2-139h0m3-148h0m1-10h0m6 66h0m2 117h0m0-61h0m1-22h0m0 141h0m1-131h0m7 147h0m0-157h0m5 91h0m2-31h0m0-97h0m0 14h0m1 131h0m4-115h0m1-66h0m4 1h0m1 140h0m0-121h0m1 89h0m0-138h0m4-38h0m1 129h0m2 53h0m0 88h0m1-5h0m1-176h0m1 110h0m1 10h0m1-158h0m1 226h0m0-242h0m1 34h0m1 51h0m1 182h0m0-94h0m1 1h0m1-2h0m0-86h0m2 123h0m1-195h0m1 280h0m0-198h0m1 182h0m1-188h0m1 182h0m1-28h0m0-46h0m2-31h0m5-174h0m0 278h0m1 29h0m1-326h0m0 133h0m0 187h0m1-261h0m0-46h0m2 138h0m1 146h0m0-298h0m2 257h0m0-82h0m1-108h0m1 141h0m0 16h0m1-62h0m0 165h0m1-141h0m1-33h0m6-88h0m2 196h0m3-7h0m0 2h0m1-118h0m1-10h0m0 90h0m2 60h0m0-178h0m1 44h0m7-16h0m0 72h0m0 76h0m1 23h0m0-30h0m2-40h0m0-119h0m5-42h0m1 75h0m1-104h0m0 7h0m0 130h0m0 156h0m2-101h0m1 17h0" stroke="#E8D69E"/><path d="M2802 1093h0m0 93h0m1-77h0m4 70h0m1 119h0m0-255h0m3 235h0m1-5h0m0 81h0m0-51h0m5-182h0m0-93h0m2 132h0m6 83h0m2 2h0m2-9h0m1-61h0m0 160h0m7-189h0m2 134h0m1-179h0m1 101h0m1-185h0m0 244h0m1-78h0m1 111h0m3-213h0m1 139h0m1 28h0m1-257h0m0 45h0m0 349h0m2-236h0m2 186h0m1-98h0m2-10h0m2-165h0m1 224h0m0-14h0m1-131h0m0-135h0m3 246h0m1-82h0m0-57h0m2 164h0m1-11h0m0-196h0m0 248h0m1-118h0m1-91h0m1 163h0m0 43h0m2-186h0m1 175h0m4-127h0m1-86h0m1 137h0m0 59h0m1-64h0m0-80h0m1 175h0m5 24h0m2-88h0m3-168h0m3 123h0m1-95h0m0-12h0m3 120h0m1-162h0m0 117h0m1-185h0m1 285h0m1-124h0m1 138h0m0-242h0m1 88h0m0 168h0m0-254h0m1 268h0m2-225h0m4-62h0m1 64h0m2-64h0m0 211h0m1 86h0m0-82h0m0 72h0m1-294h0m2 91h0m1-96h0m1 148h0m0-16h0m0-27h0m2 212h0m0-39h0m1-136h0m0-123h0m1 88h0m0 193h0m1-85h0m2-25h0m0-9h0m1 126h0m0-11h0m2-108h0m1 39h0m0 82h0m4-222h0m1 108h0m1-50h0m7-91h0m0 48h0m1-20h0m0 24h0m0 226h0m0 11h0m0-37h0m1-119h0m0-20h0m1-74h0m0-87h0m2 112h0m4 184h0m2-65h0m0-251h0m0 265h0m1-228h0m5-12h0m2 84h0m3 96h0m1-57h0m0 100h0m6 36h0m1-208h0m0-72h0m0 141h0m1 191h0m2-27h0m1-225h0m1 202h0m4 6h0m0-220h0m4 261h0m2-64h0m3-234h0m0 121h0m0-85h0" stroke="#E8D69E"/><path d="M2997 1133h0m0 98h0m1-60h0m1-92h0m0-65h0m0 3h0m3 262h0m4-259h0m0 54h0m0 157h0m4 12h0m0-242h0m0 256h0m4-183h0m0 89h0m0 137h0m3-104h0m2-158h0m0 66h0m4-17h0m0 187h0m2-215h0m3 151h0m0 101h0m2-89h0m0-46h0m0 7h0m2-135h0m1 204h0m1-147h0m2 64h0m2-57h0m3 160h0m0-1h0m1-142h0m2-173h0m3 123h0m1 60h0m1 118h0m4-64h0m0-74h0m0 97h0m1-197h0m1 86h0m0 46h0m4 80h0m1 93h0m2-259h0m2 72h0m1-123h0m1 119h0m3 3h0m0-39h0m2 107h0m1-62h0m1 24h0m1-127h0m4 212h0m0-66h0m2 74h0m2-12h0m0 4h0m0-31h0m1-244h0m2 372h0m0-351h0m0 19h0m1 112h0m0-40h0m2 5h0m0 151h0m0-25h0m1-27h0m2-3h0m1-158h0m1 51h0" stroke="#F08C1E"/><path d="M2997 1138h0m0 41h0m0 135h0m1-16h0m0-150h0m1 88h0m1-115h0m0-75h0m1 274h0m1-231h0m1 8h0m2 188h0m0-217h0m4 62h0m0 69h0m4-242h0m1 147h0m1 117h0m0-6h0m0-37h0m2-108h0m1 203h0m1-156h0m1-44h0m3-83h0m6 101h0m1 177h0m2-155h0m3-33h0m2 37h0m3 31h0m1-177h0m0 111h0m1 209h0m3-205h0m0-84h0m0 260h0m2-318h0m0 90h0m0 28h0m2 210h0m0-283h0m1 5h0m0 167h0m2 11h0m1-132h0m1 214h0m3 29h0m1 57h0m1-118h0m3-189h0m0 272h0m1-252h0m5 24h0m3 86h0m2-100h0m1 204h0m1-93h0m1-93h0m1-10h0m3 107h0m1-98h0m1-38h0m0 202h0m0 44h0m0-144h0m1 91h0m1 88h0m2-283h0m1 268h0m3-9h0m1-310h0m2 262h0m0-140h0" stroke="#F08C1E"/><path d="M2997 980h0m0 93h0m0 24h0m0 60h0m0 107h0m0 60h0m1-261h0m1-10h0m2 188h0m1-113h0m0-65h0m2-58h0m0 276h0m0-114h0m1-15h0m1-16h0m2 35h0m0-59h0m1 82h0m0 0h0m1-78h0m1-65h0m1 211h0m1-176h0m0 11h0m1-47h0m1 223h0m4-141h0m1 13h0m0-97h0m2 115h0m5-106h0m1 187h0m1 41h0m2 15h0m4-243h0m0 152h0m1-48h0m2-154h0m0-2h0m3 200h0m0-207h0m0 123h0m1 140h0m1 24h0m1-291h0m0 59h0m3 66h0m0-36h0m1 42h0m0-26h0m1 44h0m7-64h0m1 197h0m0 16h0m4 21h0m2-53h0m0-214h0m2 134h0m0 40h0m1-148h0m5 136h0m1 135h0m1-21h0m0-234h0m4 177h0m0-39h0m1-110h0m0-70h0m2 97h0m3-57h0m1-92h0m0 100h0m1-62h0m0 114h0m0 139h0m2-167h0m1 70h0m0-178h0m2 138h0m2-67h0m0-110h0" stroke="#F08C1E"/><path d="M2997 1249h0m1 40h0m0-294h0m1 45h0m0 200h0m1-63h0m4 43h0m0-212h0m1 118h0m1-64h0m1 177h0m0-124h0m1-76h0m5-16h0m0 17h0m0-77h0m4 102h0m0 123h0m0-176h0m1 173h0m1-59h0m1 62h0m1 70h0m0-238h0m0 16h0m1 79h0m1 204h0m1-187h0m0-25h0m3 155h0m0-217h0m1-49h0m4 240h0m1-62h0m1-51h0m1 28h0m0 11h0m8 90h0m0-90h0m1-136h0m1 193h0m3 27h0m0-111h0m0-149h0m0 62h0m2-49h0m1 65h0m0 36h0m1 147h0m2-14h0m1-108h0m1-29h0m1 48h0m1-98h0m6 93h0m1-62h0m1 247h0m2-137h0m0-69h0m1 132h0m3 8h0m0 40h0m4-78h0m0 24h0m1-91h0m1-63h0m1 76h0m0 67h0m1-244h0m1 328h0m2-319h0m2 305h0m0-280h0m0-12h0m0 87h0m1 45h0m1 23h0m0 12h0m4 59h0m2-175h0m0 159h0" stroke="#F08C1E"/><path d="M2997 1028h0m0 115h0m0 192h0m1-126h0m1-95h0m1 71h0m1-118h0m0 251h0m4-50h0m1 31h0m2-266h0m4 31h0m0 188h0m1-71h0m1-37h0m1 87h0m0 51h0m0-227h0m1 12h0m0-27h0m1 61h0m1-63h0m0 217h0m0-27h0m1-30h0m1-165h0m1 297h0m1-241h0m0-111h0m1 289h0m1-60h0m0 15h0m1-41h0m2-60h0m0-98h0m1 112h0m1 5h0m1 9h0m0-121h0m1 267h0m1 41h0m3-285h0m2 15h0m0 156h0m0 42h0m2-16h0m2-184h0m0 175h0m1-228h0m4 136h0m1-139h0m0 187h0m2 40h0m3-31h0m0-127h0m0 223h0m1-163h0m2 151h0m1-241h0m3 188h0m1-70h0m2 34h0m1-156h0m1 79h0m4 56h0m1 90h0m1-120h0m0-112h0m1 77h0m0-69h0m1 126h0m2 86h0m2-233h0m0 16h0m2 57h0m1 217h0m0-333h0m0 267h0m1 12h0m0-177h0m0 215h0m3-189h0m0 152h0m0 24h0m2-111h0m1-72h0m1 53h0m2 102h0m0 71h0m2-231h0m0 26h0m0-70h0m1 150h0m1 75h0" stroke="#F08C1E"/><path d="M3097 970h0m0 100h0m1-141h0m0-78h0m0-20h0m0 353h0m2-72h0m2-270h0m4 343h0m1-161h0m1 120h0m1-263h0m2 162h0m2 80h0m0-189h0m0-46h0m0 110h0m3-18h0m2 141h0m1-46h0m1-2h0m3-249h0m0 170h0m0 99h0m3-241h0m0 332h0m1-358h0m0 240h0m3-3h0m0 80h0m2-236h0m0 233h0m2-204h0m4 69h0m0 10h0m1-122h0m1 216h0m4 9h0m3-254h0m1 109h0m0-20h0m2 133h0m0 48h0m1-13h0m2-231h0m0-21h0m1 36h0m0 19h0m2 229h0m4-88h0m2-167h0m0 142h0m2-15h0m1 8h0m1-129h0m0 95h0m2 0h0m0 54h0m1 99h0m1-51h0m3-219h0m0-55h0m1 282h0m0-258h0m1 108h0m1-167h0m1 70h0m0 280h0m1-271h0m5-17h0m0 58h0m4 257h0m2-30h0m1-65h0m1 24h0m1-109h0m0-151h0m0 123h0m2 172h0m0-161h0m1-93h0m0 46h0m0 111h0m1-63h0m1-92h0m4 273h0" stroke="#F08C1E"/><path d="M3097 895h0m3-36h0m0 107h0m1-104h0m3-50h0m0 229h0m2-68h0m1-69h0m4 166h0m0 19h0m1-257h0m1-10h0m1 280h0m1-141h0m3-134h0m1 87h0m2 256h0m8 14h0m2-52h0m0-143h0m1-19h0m4-59h0m1-30h0m0 86h0m1 153h0m0-227h0m1 91h0m1-124h0m1 219h0m3-193h0m0-22h0m3 163h0m1-87h0m1 56h0m1-30h0m0-70h0m1 197h0m0 75h0m1-303h0m1 18h0m1-70h0m2 14h0m4 172h0m5 73h0m5-71h0m0 54h0m0-144h0m5 69h0m0-122h0m3 190h0m1-218h0m1 130h0m0 160h0m2-43h0m1 30h0m0-286h0m1 198h0m2 117h0m0-241h0m1 74h0m0 79h0m1-96h0m0 29h0m4-68h0m1 164h0m1-154h0m0 1h0m6 144h0m0 103h0m0-13h0m0-72h0m1-252h0m0 35h0m2 47h0m0-23h0m0 297h0" stroke="#F08C1E"/><path d="M3097 986h0m0-7h0m1 60h0m2-65h0m2 231h0m1-281h0m1-59h0m0 242h0m2-114h0m0 58h0m1 102h0m0-203h0m1 145h0m1 54h0m0-324h0m4 233h0m0 20h0m1 58h0m1-272h0m1 171h0m1-87h0m1 144h0m0-165h0m2-39h0m5 51h0m2 10h0m2 82h0m2-19h0m2 134h0m0-288h0m1 299h0m0-321h0m1 14h0m0 192h0m0 23h0m6 83h0m0 35h0m3-281h0m1 18h0m2 233h0m0-111h0m2-55h0m0 35h0m2-108h0m0 117h0m1 106h0m2-127h0m4-84h0m2 104h0m1 10h0m3-81h0m0 145h0m1 28h0m1-224h0m1 93h0m2 31h0m2 78h0m1-247h0m1 280h0m3 14h0m2 22h0m0-331h0m1 195h0m0 75h0m1-118h0m2-62h0m1 41h0m2 11h0m2-31h0m2 102h0m0-167h0m1 196h0m0-81h0m0 41h0m0-111h0m1-14h0m0-17h0m1 83h0m0-104h0m1-38h0m0 225h0m1-224h0m0 259h0m0-75h0m1 92h0m3-138h0m2-54h0" stroke="#F08C1E"/><path d="M3097 1077h0m1-63h0m0-57h0m4-67h0m0 128h0m0-59h0m2-27h0m1 166h0m0-144h0m3 5h0m2 79h0m1-184h0m1 112h0m1-70h0m0-23h0m0 20h0m0 116h0m1 14h0m3 159h0m1-27h0m0-39h0m1-301h0m0 162h0m1 77h0m1 109h0m1-156h0m0 81h0m1-20h0m1-110h0m2 93h0m1-168h0m0 222h0m0-178h0m1 13h0m2 215h0m1-312h0m1-8h0m1 360h0m0-28h0m1-131h0m0-29h0m1 53h0m0-62h0m1-54h0m0 238h0m0-348h0m2 333h0m1-75h0m3-124h0m2-62h0m1-81h0m0 76h0m4 78h0m2-20h0m0 212h0m7-83h0m0-66h0m0-77h0m1-103h0m0 116h0m0 210h0m2-317h0m1 271h0m2-34h0m1 65h0m2-268h0m0 16h0m2 143h0m0 97h0m0-192h0m2 168h0m1-277h0m0 168h0m3-15h0m1 34h0m2-121h0m0 16h0m2 5h0m0 155h0m1 88h0m0-310h0m1 252h0m1-267h0m0 120h0m4-9h0m1 165h0m0-25h0m0-247h0m1 102h0m1-52h0m1 188h0m0-155h0m0 81h0m0-170h0m3 231h0m0-25h0m1-115h0m1-45h0m0 172h0m1-57h0m2 136h0m2-42h0m2-121h0m0-101h0" stroke="#F08C1E"/><path d="M3097 934h0m3 56h0m0-159h0m3 22h0m0 54h0m3 75h0m1 190h0m0-256h0m1 110h0m1-79h0m1 27h0m1-8h0m1-120h0m3 261h0m0 87h0m0-151h0m1-125h0m5 164h0m2 71h0m8-299h0m2 159h0m1 150h0m1-91h0m1 100h0m1-268h0m0 205h0m1-239h0m1 156h0m0 87h0m0-251h0m2 182h0m1 25h0m0 126h0m2-267h0m0-36h0m2 123h0m0-13h0m1 132h0m1 11h0m2-326h0m2 144h0m2 77h0m0-89h0m0 181h0m1-27h0m0-267h0m1 196h0m3 45h0m1-213h0m1 79h0m1 212h0m2-81h0m2-164h0m0 231h0m1-18h0m2-278h0m3 218h0m1-65h0m0 44h0m0-57h0m0-68h0m2 229h0m0 5h0m1-26h0m1-214h0m2 166h0m1-132h0m1 51h0m2 148h0m0-311h0m0 214h0m1 25h0m3-150h0m0 203h0m1-297h0m0 324h0m0-333h0m1 124h0m0 197h0m5 4h0m1 38h0m0-10h0m1-12h0m0-218h0m0 153h0m0-145h0m1-94h0m3 340h0m0-245h0m0 32h0m0 143h0m2-43h0" stroke="#F08C1E"/><path d="M3207 1134h0m0 61h0m0 8h0m2-135h0m3-57h0m0 78h0m0 157h0m0-402h0m2 346h0m0-127h0m1-128h0m0 38h0m0 44h0m3-155h0m0 162h0m2-38h0m1-23h0m1 249h0m1-31h0m1-171h0m2-79h0m0 292h0m2-197h0m2 9h0m1-52h0m1 3h0m0 246h0m2-325h0m0 246h0m1-80h0m1-45h0m0-117h0m2 162h0m4-74h0m0-104h0m1 194h0m2-163h0m0 182h0m2-118h0m1 89h0m1-7h0m2-126h0m1 82h0m1 4h0m0 54h0m1-123h0m1 55h0m1 212h0m0-171h0m0 88h0m0-208h0m0 294h0m1-303h0m1 179h0m0-63h0m1 23h0m4-139h0m2 279h0m0-141h0m2 68h0m1-247h0m0 94h0m0-104h0m1 94h0m1 269h0m0-255h0m1 276h0m0-245h0m1 178h0m1-29h0m0-38h0m2-146h0m0 203h0m1 78h0m0-289h0m2-80h0m0 188h0m1-126h0m1 143h0m1 129h0m2-21h0m2-174h0m0 76h0m0 60h0m4-123h0m3-170h0m1 62h0m1 127h0m2 156h0m0-272h0m3-36h0m0 101h0m2 40h0m2-39h0m2-7h0m1 190h0m1-102h0m1 17h0m1 9h0m1-254h0m1 118h0m0-77h0m0 230h0m0-81h0m0 183h0m0-73h0m1-28h0m1 71h0m0-99h0m0 68h0m2-80h0m2 71h0m1-280h0m1 91h0m1-13h0m3 183h0m3-187h0m0 14h0m0 205h0m1-274h0m0 319h0m1-109h0m1-218h0m1 282h0m0 43h0m2-264h0m0 38h0m1-93h0m0 236h0m0-212h0m1 24h0m0 270h0m1-311h0m2 53h0m0-17h0m0 100h0m2-20h0m1 28h0m2-86h0m1 108h0m2 111h0m2-58h0m1-99h0m2-30h0m3 71h0m1 171h0m1-221h0m0 102h0m1-219h0m0 34h0m0 140h0m1-99h0m0 211h0m1-140h0m1-14h0m0-41h0m1-77h0m2 258h0m1-261h0m0 259h0m1-270h0m0-18h0m1 193h0m0 59h0m0 72h0m1-12h0m0-190h0m2-82h0m3-17h0m0 336h0m3-18h0m0-265h0m2 166h0m2-227h0m2 45h0m0-72h0m1 354h0m0-268h0m0 190h0m0 82h0m1-214h0m2-29h0m3 115h0m0-194h0m1 187h0m0 75h0m1 25h0m2-162h0m0-12h0m2-114h0m0 36h0m0 50h0m0 142h0m1-133h0m1 39h0m0-151h0m1 83h0m2-60h0" stroke="#EBEB14"/><path d="M3207 1110h0m3 124h0m1-335h0m0 198h0m1 77h0m2-290h0m2 58h0m0-37h0m1 330h0m0-82h0m3 30h0m0-240h0m0 75h0m1 268h0m0-425h0m2 221h0m0-170h0m1 113h0m0 77h0m1 68h0m1 81h0m1-72h0m1-192h0m0-57h0m3 275h0m0-229h0m0 235h0m1-145h0m0 30h0m0 126h0m1-270h0m1 163h0m0 60h0m2-125h0m1 48h0m0 35h0m1 49h0m1-254h0m3 334h0m1-384h0m0 373h0m0-349h0m1 338h0m1 20h0m0-201h0m2 1h0m2 136h0m0-297h0m1 334h0m1-129h0m2 89h0m2-183h0m0 162h0m0-262h0m1 247h0m0 91h0m0-79h0m1-213h0m0 243h0m0-74h0m1 90h0m0-283h0m0 153h0m1-175h0m1 48h0m0 245h0m1-112h0m0-16h0m1-192h0m4 249h0m2-188h0m2 226h0m0 79h0m1-270h0m0-40h0m0 66h0m0 8h0m0 177h0m1-119h0m1-223h0m0 367h0m1-110h0m5-34h0m0-121h0m0 235h0m2 50h0m2-12h0m1-112h0m1 20h0m4-55h0m1-165h0m1 76h0m1 140h0m0-109h0m3 52h0m1-23h0m3 74h0m0-50h0m2-101h0m1 185h0m0-264h0m1 344h0m3-148h0m0 117h0m1 57h0m3-162h0m1-189h0m1 28h0m0 275h0m1-185h0m0-55h0m0-62h0m1 183h0m1-15h0m2 124h0m0-237h0m2 141h0m1 144h0m2-109h0m1-48h0m0-82h0m1 42h0m0 6h0m0-114h0m1-19h0m1 81h0m1 186h0m1 24h0m1-44h0m0 73h0m2-252h0m0 214h0m1-114h0m0-130h0m1 143h0m0 40h0m0-130h0m0 205h0m1-20h0m0-300h0m0 331h0m1-195h0m0 136h0m0-34h0m0-224h0m0-21h0m0 290h0m0-265h0m2 118h0m0-32h0m0 36h0m1 143h0m0 18h0m2-1h0m1-109h0m0 137h0m3-8h0m2-213h0m4-53h0m0-87h0m1 24h0m0 167h0m0 114h0m0-249h0m0 52h0m2-20h0m1 35h0m1-86h0m0 103h0m0 99h0m3-32h0m1-189h0m0 236h0m1-109h0m0 125h0m1-158h0m0-93h0m1 5h0m1 66h0m1-111h0m0 102h0m1 24h0m1-14h0m0 78h0m1-41h0m1 182h0m2-39h0m1-126h0m1 170h0m0-109h0m0-87h0m1 261h0m1-210h0m0 146h0m0-276h0m1-20h0m1 123h0m1 245h0m2-109h0m3-192h0m0 130h0m1-119h0m0 35h0m2 169h0m0-162h0m0 89h0m1-120h0m0 236h0m1-334h0m0 201h0m3-201h0m1-34h0m2 354h0m0-259h0m1 166h0m0 99h0m0-43h0m1-217h0" stroke="#EBEB14"/><path d="M3207 1179h0m3-161h0m2 90h0m0-41h0m1-212h0m3 75h0m3-15h0m0 38h0m0 75h0m1-36h0m3-88h0m0 166h0m0 62h0m1 21h0m0-179h0m1-112h0m0 59h0m0-42h0m2 214h0m0 28h0m1 18h0m2-20h0m0 50h0m0-268h0m4 111h0m4 116h0m1-165h0m3 241h0m1-344h0m0 13h0m3 115h0m1 192h0m2 71h0m2-34h0m0 64h0m2-87h0m1-301h0m0 186h0m1-104h0m0 242h0m1-92h0m1-111h0m0-60h0m1 67h0m1 117h0m3-7h0m1-105h0m0-125h0m0 30h0m3 140h0m0-48h0m3-149h0m4 53h0m0 207h0m0-121h0m1-56h0m0 76h0m1-86h0m0-107h0m2 180h0m1-135h0m0 359h0m3-112h0m2-60h0m5-103h0m0 257h0m0-72h0m0 34h0m0-16h0m2-26h0m2 11h0m1-11h0m1-13h0m1-32h0m1 35h0m1-228h0m4 75h0m1-67h0m1 60h0m0 202h0m0 47h0m2-76h0m0-153h0m2 50h0m1-44h0m0 51h0m1 130h0m0-3h0m2-65h0m1 57h0m0-214h0m1 21h0m0 177h0m1-199h0m1-6h0m1 202h0m0-149h0m1-76h0m0-61h0m1 365h0m4 37h0m1-282h0m1 14h0m1 210h0m0-8h0m0 23h0m1-9h0m0-118h0m1 158h0m1-38h0m1 33h0m0-45h0m1-260h0m0 159h0m0 169h0m0-139h0m1 45h0m0 30h0m0-50h0m1-48h0m0 44h0m3-166h0m0-31h0m2 198h0m0-248h0m0-44h0m1 212h0m2-137h0m1 138h0m0 24h0m0-13h0m2-124h0m0 14h0m6 245h0m2-315h0m1 219h0m0-64h0m0 132h0m1-282h0m0 217h0m2 68h0m2-250h0m1 252h0m0-181h0m0 165h0m1-310h0m1 194h0m4 143h0m0 6h0m4-68h0m3-89h0m3 217h0m2-5h0m1-279h0m0 289h0m3-258h0m1 181h0m0-295h0m0 254h0m1-212h0m0 154h0m0-138h0m3 222h0m0-211h0m0 47h0m1 79h0m0-52h0m0 114h0m0-196h0m1-103h0m0 100h0m1-120h0m0 284h0m2-146h0m0 134h0m1-180h0m1 83h0m1 41h0m1-103h0m2 54h0m0-107h0" stroke="#EBEB14"/><path d="M3207 1020h0m2 143h0m0-222h0m1 184h0m2-242h0m1-28h0m0 356h0m1-251h0m3 140h0m1-67h0m0-127h0m1 205h0m1-134h0m1-98h0m0 290h0m1-175h0m1 236h0m0-363h0m1 328h0m0-146h0m0 156h0m1-228h0m2-73h0m1 171h0m1-80h0m1-80h0m0-15h0m1 89h0m0 12h0m1 110h0m0-102h0m1 68h0m0-54h0m0 24h0m2 156h0m0-12h0m3-247h0m2-48h0m1 83h0m2-70h0m0 313h0m2-100h0m0-182h0m0 112h0m1-131h0m1 104h0m0 128h0m0-262h0m1 317h0m1-231h0m1-6h0m2 143h0m0 156h0m2-274h0m0 105h0m1-117h0m2 93h0m0-86h0m1-95h0m0 196h0m1 83h0m0 47h0m2-21h0m0-26h0m0-135h0m4-129h0m2 305h0m0-263h0m1 39h0m1 52h0m0-93h0m3 199h0m2-27h0m0-153h0m1 205h0m0-232h0m1 221h0m1-153h0m0 48h0m0-182h0m1 321h0m6 38h0m1-138h0m0 80h0m1-189h0m3-46h0m1 138h0m0-199h0m0 343h0m0-195h0m1-157h0m4 365h0m1-118h0m1-100h0m3 76h0m0 67h0m2-282h0m0 226h0m2-168h0m2 217h0m1 34h0m0-211h0m0-72h0m2 331h0m4-149h0m1-100h0m1 160h0m1-138h0m1 178h0m1-79h0m2 32h0m3-39h0m0-105h0m0 168h0m0-286h0m2 138h0m0 228h0m0-336h0m2 142h0m1 3h0m1-156h0m0 72h0m1 52h0m1-46h0m1 90h0m0-11h0m1-114h0m1-12h0m1 181h0m2-122h0m1-64h0m0 196h0m0-235h0m1-4h0m0 95h0m0 239h0m1-324h0m2 9h0m0 114h0m1 75h0m2 142h0m2-223h0m0 25h0m0 66h0m1 116h0m1-142h0m1-92h0m4 193h0m1-248h0m3 294h0m0-82h0m1 48h0m0-335h0m3 166h0m2-9h0m4 62h0m0-103h0m2-124h0m5 338h0m0-117h0m1-23h0m0-6h0m1 218h0m1-18h0m3-166h0m0-126h0m1 100h0m0 47h0m1-42h0m0-204h0m0 333h0m0-65h0m1 71h0m0-293h0m2 208h0m1-29h0m0 90h0m1-281h0m0 132h0m1 173h0m0 31h0m2-120h0m1-137h0m1 22h0m1 26h0m1 201h0m1-98h0m2 107h0m0-335h0" stroke="#EBEB14"/><path d="M3207 882h0m0 332h0m2-69h0m0-94h0m0 158h0m3-78h0m1 39h0m1 32h0m0-91h0m1-200h0m1 11h0m1-72h0m0 23h0m2 178h0m3 48h0m1-173h0m0 151h0m0 18h0m1 88h0m0-38h0m1-116h0m1-66h0m0-11h0m0 234h0m2-69h0m0 36h0m1 97h0m1-286h0m0 276h0m1-102h0m0-125h0m3 195h0m0-106h0m0-71h0m1 85h0m0-229h0m1 244h0m1-182h0m4 33h0m1 181h0m0-73h0m2-154h0m0 32h0m2 205h0m3-92h0m3 68h0m0 94h0m1-8h0m0-140h0m2-96h0m0 165h0m1-216h0m1 107h0m0 131h0m1 37h0m0-127h0m0-200h0m0 154h0m1 142h0m0-37h0m2-121h0m1 15h0m0 162h0m1-150h0m0 20h0m0 83h0m1-196h0m2 197h0m3-278h0m0 191h0m1 109h0m2-78h0m0-217h0m0-11h0m1 0h0m0 369h0m1-163h0m0 103h0m5-310h0m0 323h0m0-19h0m1-275h0m1 230h0m0-118h0m0 127h0m2-132h0m1 199h0m1-352h0m8 227h0m0 98h0m1-36h0m0-150h0m0-90h0m1-43h0m0 280h0m2-71h0m1-133h0m2-46h0m0 64h0m3-54h0m1 77h0m0 105h0m0 135h0m1-43h0m1-62h0m0 87h0m0 27h0m1-282h0m2 70h0m0 78h0m0 171h0m1-242h0m0-141h0m1 342h0m0 31h0m0-136h0m3 111h0m2-42h0m2-153h0m0 166h0m0-121h0m1 44h0m5-9h0m0-237h0m1 378h0m0-326h0m1 6h0m1-34h0m1 166h0m1-68h0m4 143h0m0-178h0m1-90h0m0 332h0m1-138h0m1-81h0m0 6h0m1 63h0m1 161h0m1-176h0m1 128h0m1-36h0m2-206h0m3 122h0m0 125h0m2 43h0m3-38h0m0-149h0m0 106h0m1-208h0m1-57h0m1 350h0m1-107h0m0-107h0m1 102h0m1-15h0m0 51h0m0 66h0m1-37h0m0-16h0m2-194h0m0 122h0m1-191h0m0 322h0m1-290h0m1-36h0m1 189h0m0-213h0m0 217h0m2 60h0m1-191h0m0 200h0m1-334h0m1 198h0m1-90h0m1-58h0m2 47h0m1 206h0m0-153h0m1-58h0m0 103h0m0-7h0m1-15h0m0 123h0m0 40h0m1-266h0m0 172h0m2-45h0m2 59h0m0-8h0m3-139h0m0 200h0m1 72h0m1-175h0m0-32h0m0-40h0m2 70h0m1 193h0m2-49h0m0-156h0m2-118h0m0 96h0m1-19h0m2 102h0m1-205h0m0 248h0" stroke="#EBEB14"/><path d="M3402 1002h0m8-18h0m2-35h0m0 82h0m1 106h0m1 7h0m4-190h0m1 108h0m2-59h0m0-17h0m7-20h0m1-89h0m1 285h0m2-51h0m0-31h0m0-50h0m1-6h0m6 250h0m5-52h0m0-95h0m2-161h0m6 201h0m0-149h0m1-87h0m0-1h0m0 179h0m3-20h0m2 68h0m2 37h0m2-8h0m1-48h0m1-192h0m0 261h0m1 6h0m0-152h0m3 26h0m0-65h0m1 25h0m1 216h0m2-315h0m2 237h0m1-80h0m0-137h0m1 199h0m0-151h0m0 73h0m1-32h0m3 220h0m0-315h0m2 124h0m1 172h0m5-30h0m0-75h0m1-158h0m0 173h0m1 4h0m1-252h0m0 187h0m3-197h0m1 102h0m2-51h0m0 141h0m1-164h0m1 80h0m1 208h0m1-66h0m1 80h0m2-281h0m0 192h0m1 94h0m2-228h0m3-19h0m1-24h0m0 243h0m2 7h0m1-283h0m1 216h0m0-145h0m2 29h0m2-51h0m3 172h0m1 60h0m1-49h0m1-1h0m0-95h0m0-29h0m1 4h0m0 221h0m1-197h0m2-132h0m1-22h0m1 157h0m1-25h0m1 174h0m3 4h0m0 19h0m1-232h0m2 49h0m0-63h0m0 7h0m0 168h0m2-51h0m0-38h0m0-158h0m0 252h0m1-11h0m0-121h0m0 79h0m1-23h0m1 83h0m0-39h0m0-197h0m2 166h0m1 11h0m3-143h0m0 238h0m2-19h0m0-197h0m2 267h0m5-184h0m3 143h0m1-220h0m1-34h0m5 220h0m2-194h0m3 70h0m1-86h0m3 101h0m0 16h0m0-191h0m1 333h0m3-94h0m3-74h0m1-64h0m3 125h0m0-166h0m0 218h0m0-104h0m1 175h0m0-70h0m1-249h0m0 109h0m1-89h0m1 34h0m1 40h0m0-153h0m1 319h0m2-109h0m2-7h0m1-47h0m0 14h0m2 161h0m0-313h0m0 188h0m1-11h0m0-140h0m1 122h0m1 51h0m1 50h0m0-74h0m1-11h0m0 101h0m1-46h0m2 40h0m1 12h0m0 26h0m1-1h0m5-105h0m0-153h0m1 187h0m0-196h0m0 39h0m2 169h0m1-85h0m0-11h0m0 69h0m1 46h0m3-221h0m0 218h0m1-60h0m1 37h0m1 51h0m2 24h0m0 1h0m1-5h0m0-145h0m1 184h0m0-44h0m4-43h0m0 73h0m3-229h0m4-93h0m6 320h0m0-46h0m2-109h0m0-120h0m0 44h0m1 7h0m1 128h0m0 40h0m1-227h0m2 165h0m0 36h0m0-46h0m1-124h0m2 42h0m0 170h0m0 22h0m1-108h0m0 102h0m1-195h0m0 235h0m1-174h0m1 59h0m1 90h0m1-129h0m0-40h0m0-13h0m0-106h0m1-32h0m0 11h0m2 76h0m2 246h0m0-340h0m0 106h0m1 175h0m1-18h0m0 9h0m1-91h0m0-98h0m0 112h0m2 62h0m1 13h0m2 41h0m4-98h0m0 111h0m1-329h0m1 185h0m2-93h0m1 281h0m2-273h0m0-52h0m1 255h0m0-104h0m0 53h0m1-12h0m3-143h0m0 110h0m1 87h0m1-235h0m6 133h0m1 2h0m4-163h0m2 128h0m3 207h0m0-297h0m1 276h0m0-261h0m2-79h0m3 98h0m1-39h0m2-26h0m4-60h0m2 116h0m1 266h0m0-120h0m0-5h0m1-187h0m1-79h0m1 315h0m0-52h0m0 81h0m1-161h0m0 70h0m0-163h0m1 147h0m1-226h0m1 210h0m1-58h0m3 202h0m1-67h0m6-87h0m2-19h0m0-72h0m2 17h0m0 181h0m1 5h0m1-147h0m1-87h0m0 45h0m0 24h0" stroke="#642D46"/><path d="M3402 1075h0m1 142h0m1-237h0m2-76h0m1 226h0m3-18h0m1 7h0m0-117h0m1 218h0m0-26h0m2-127h0m0-72h0m1 44h0m1 108h0m0-151h0m0 4h0m1-15h0m1 236h0m0-246h0m2 182h0m0 36h0m2-112h0m0-155h0m1 19h0m0-4h0m0-2h0m1 240h0m1-184h0m2 52h0m0-73h0m1 113h0m0-77h0m0-73h0m0 288h0m1-354h0m1 314h0m5-235h0m2 71h0m0 198h0m1-91h0m0-200h0m2 138h0m2-98h0m0 181h0m0-32h0m1-16h0m1-117h0m2 41h0m0 124h0m6-241h0m2 137h0m6 199h0m0-190h0m0-96h0m1 173h0m0 20h0m2-93h0m0 82h0m2-141h0m0 106h0m1 157h0m1-275h0m2 82h0m1-25h0m3-28h0m3 26h0m2 38h0m0 18h0m1 9h0m1 52h0m1-257h0m2 82h0m5 133h0m0-89h0m4 198h0m1-212h0m2 85h0m0 130h0m0-254h0m1 57h0m1 45h0m1-134h0m0-54h0m2 96h0m1 179h0m0-124h0m1 171h0m0-284h0m5 58h0m2 134h0m0-48h0m2-48h0m1-142h0m1 21h0m3 295h0m0-85h0m1-65h0m5 137h0m0-187h0m1 211h0m0-234h0m0 96h0m1-76h0m1 94h0m0 30h0m1-28h0m0 19h0m4 119h0m1-202h0m1 10h0m1 7h0m0 112h0m2-203h0m1 309h0m3-336h0m2 245h0m1 68h0m1-235h0m0 21h0m1 42h0m3 176h0m0 1h0m3-168h0m1-31h0m0 26h0m1-51h0m1 84h0m2 108h0m1-61h0m1 109h0m3-265h0m1 41h0m0 138h0m0-246h0m5 261h0m1-23h0m6-33h0m2-154h0m1 255h0m2-201h0m1 188h0m1-33h0m3-194h0m3 257h0m0-36h0m0-172h0m1-112h0m0 169h0m1-196h0m0 251h0m1-84h0m0-19h0m2-15h0m1-27h0m0 170h0m1-42h0m0 21h0m1-148h0m0 72h0m2 86h0m0 77h0m0-111h0m1 58h0m1-82h0m0 53h0m0-180h0m2 12h0m6-25h0m0 186h0m1-95h0m0-131h0m2 12h0m1 286h0m1-46h0m2-228h0m2 36h0m2 28h0m0 98h0m0 58h0m1-198h0m0 244h0m0-131h0m1 122h0m0-220h0m0 207h0m0-165h0m2-22h0m5 113h0m1 72h0m1 24h0m0 12h0m2-97h0m2-4h0m2 109h0m1-285h0m0 31h0m1 38h0m0 93h0m0 25h0m1 67h0m1-240h0m2 128h0m0 178h0m0-116h0m1 5h0m2-53h0m3 44h0m2-251h0m1 244h0m0 124h0m0-276h0m2 11h0m2-105h0m0 365h0m0-250h0m1 180h0m0-67h0m0-129h0m1 236h0m1-289h0m0 108h0m0-57h0m0 27h0m1-84h0m0 277h0m3-242h0m1 4h0m0 261h0m2-43h0m3 76h0m4 1h0m5-20h0m2-23h0m2-127h0m0 21h0m1 41h0m1 51h0m2-62h0m2-114h0m0 47h0m0 155h0m1-234h0m1 62h0m1 127h0m1-300h0m3 358h0m1-187h0m3-80h0m1 166h0m0-149h0m2 171h0m1-261h0m1 42h0m0 179h0m0-153h0m5 43h0m1 74h0m0-146h0m2 39h0m3 232h0m1-147h0m2-64h0m0 152h0m2-165h0m0 59h0m3 90h0m0-140h0m2 108h0m0-75h0m1 143h0m1-121h0m3-109h0m0 291h0m0-189h0m4-144h0m1 114h0m0 52h0m2 131h0m0-232h0m1 140h0m1 101h0m1-16h0m2 36h0m1-154h0m0-177h0m2 130h0m4 111h0m2 25h0m3-84h0m0 51h0m1-37h0m1-127h0m0-37h0m0 93h0" stroke="#642D46"/><path d="M3403 959h0m1 133h0m2 23h0m3-85h0m0-102h0m1-8h0m0 249h0m1-75h0m0-164h0m1 275h0m0-56h0m1-6h0m1-206h0m3 129h0m1 96h0m3-97h0m2 204h0m1-114h0m0 106h0m1-35h0m1-184h0m0 124h0m1 40h0m1-14h0m1-275h0m0 353h0m0-319h0m1 182h0m0 87h0m1-127h0m1-168h0m1 92h0m0 138h0m0 125h0m2-212h0m1 202h0m1-218h0m1-60h0m4 206h0m1-230h0m2 230h0m7-13h0m1-108h0m3-86h0m0 260h0m0-252h0m0 21h0m1 140h0m0-141h0m1 132h0m3-135h0m3 26h0m0 193h0m1 2h0m0-204h0m0-53h0m1 121h0m1 155h0m6-181h0m0-23h0m0-24h0m1 30h0m1 187h0m2-77h0m3 23h0m0-163h0m1 236h0m5-173h0m2 36h0m0-47h0m1 51h0m1-211h0m2 135h0m0 13h0m4 16h0m0 74h0m1-277h0m0 161h0m0 102h0m1-137h0m1 171h0m1-176h0m2 204h0m3-134h0m1-109h0m2 147h0m0-53h0m0-87h0m1 33h0m0 188h0m1-102h0m4 65h0m3-220h0m3 65h0m1 214h0m0-178h0m3-114h0m1 215h0m3-48h0m2 41h0m1-118h0m1 44h0m1 143h0m3-184h0m2 25h0m2-8h0m0-5h0m2 112h0m0-93h0m3-83h0m4 277h0m0-29h0m1-243h0m1-45h0m4 206h0m4 78h0m1-252h0m2 153h0m5-52h0m0 53h0m4-76h0m1-61h0m0 195h0m3-203h0m1 236h0m1-211h0m0 273h0m0-196h0m1 70h0m1-167h0m0 205h0m3-185h0m0 101h0m2-16h0m1 179h0m1-331h0m0 243h0m2-170h0m0 232h0m2 4h0m0-253h0m2 244h0m0-16h0m1-225h0m1 252h0m0-325h0m1 23h0m4 228h0m1-203h0m5 255h0m0-65h0m1-238h0m1 189h0m0-26h0m0 167h0m1-259h0m0 133h0m1-94h0m1-95h0m1 74h0m1 38h0m0-32h0m1-55h0m0 198h0m1-116h0m1-66h0m1 102h0m0-9h0m4 120h0m6-47h0m0-7h0m1-64h0m1 106h0m0-24h0m0 15h0m1-195h0m2 102h0m3 168h0m0-154h0m2 93h0m0-34h0m1 29h0m3 66h0m2-53h0m3-13h0m1 46h0m0-147h0m1 50h0m5-163h0m1 92h0m0 59h0m0-63h0m1-95h0m1 299h0m0 18h0m0-199h0m1 106h0m2 28h0m0 61h0m1-188h0m1-115h0m0 148h0m1-39h0m0-66h0m1-24h0m1 276h0m0-174h0m3 120h0m0-233h0m0 259h0m1 44h0m2-40h0m3-277h0m1 252h0m0-270h0m2 132h0m1-84h0m1 127h0m2-33h0m1 141h0m1-3h0m1-73h0m1-25h0m1-179h0m1 86h0m3 18h0m0 15h0m1 113h0m0-57h0m1 26h0m2-69h0m3-167h0m2 145h0m0 188h0m0-328h0m1 109h0m0 230h0m0-100h0m0-227h0m1 44h0m0 99h0m1 137h0m1-195h0m0 150h0m3 68h0m1 18h0m1-102h0m2 24h0m0-259h0m2 120h0m2 173h0m1-243h0m2 62h0m2-35h0m0 22h0m3-27h0m1 58h0m1 196h0m2-7h0m0-101h0m4-138h0m1 47h0m0-103h0m1 3h0m1 11h0m1 214h0m1-162h0m1 166h0m1-12h0m0 40h0m3 36h0m0-285h0m0-26h0m2-21h0m2 105h0m0 26h0m4 72h0m1-118h0m1 229h0m1 15h0m0-92h0m0 114h0m2-150h0m0 143h0m1-96h0m0-209h0m0 237h0" stroke="#642D46"/><path d="M3405 906h0m0 209h0m0 85h0m1 46h0m0-360h0m2-1h0m0 214h0m2-137h0m1 161h0m0-74h0m1 160h0m1 34h0m1-289h0m1 282h0m0-53h0m0-173h0m1 146h0m0-210h0m0 30h0m1-9h0m0 63h0m4 203h0m0-171h0m1 34h0m0 53h0m1 62h0m1-228h0m0 120h0m1-188h0m3 81h0m1 177h0m1-247h0m4 109h0m2 176h0m1-270h0m1 181h0m1-80h0m0 182h0m2-43h0m3-86h0m0-117h0m3 26h0m2-33h0m1 230h0m1-82h0m1-163h0m1-21h0m0 244h0m2-152h0m0 73h0m1-143h0m0 226h0m0-180h0m0 57h0m1-19h0m0 208h0m3-175h0m1-147h0m2 108h0m2 37h0m1 78h0m0 104h0m1-91h0m2 76h0m1-47h0m1-255h0m1 333h0m3-231h0m0 133h0m6-156h0m1-77h0m1 34h0m0 321h0m1-380h0m2 51h0m2 281h0m0-240h0m1-29h0m2-69h0m3 297h0m0-54h0m2-87h0m0-134h0m1 277h0m0-215h0m0-72h0m3 201h0m1-90h0m5-78h0m1-6h0m0 202h0m0-221h0m1 304h0m0-295h0m0 54h0m2 245h0m0-170h0m2-144h0m0 302h0m1-287h0m1 304h0m2-216h0m2 241h0m0-91h0m5-285h0m3 299h0m0 2h0m2 41h0m1-63h0m0-181h0m3 118h0m1-39h0m0 7h0m0 144h0m7-5h0m0 35h0m1-139h0m2 87h0m0-34h0m0-16h0m2 109h0m1-126h0m1-11h0m0-146h0m3 201h0m1-136h0m1 155h0m0 43h0m2-279h0m1 66h0m1 218h0m0-260h0m3 12h0m0 3h0m2 124h0m0-130h0m1 44h0m3 245h0m0-136h0m0-155h0m1-46h0m1 133h0m1-119h0m4-24h0m1 4h0m1 151h0m2 99h0m0-45h0m1-64h0m0-131h0m0 95h0m1 77h0m0-93h0m3 144h0m1-231h0m0-9h0m0 49h0m2 66h0m1 228h0m0-239h0m1 122h0m0-115h0m0-90h0m1 24h0m0 272h0m2-295h0m0-34h0m0 10h0m2 77h0m0 82h0m2-161h0m0 271h0m1-235h0m1-4h0m1 22h0m2 255h0m1-82h0m0 44h0m5-217h0m2 50h0m2-88h0m2 212h0m0 57h0m2-96h0m1-66h0m0 49h0m1 84h0m0-210h0m0 157h0m1-7h0m1-167h0m1-24h0m0 255h0m0-26h0m2-109h0m0-8h0m4 37h0m2-82h0m1 7h0m1-72h0m6 30h0m1-30h0m1 107h0m2 16h0m1-12h0m0 104h0m1-113h0m1 137h0m0-144h0m2-90h0m2 148h0m1-36h0m1-37h0m2 8h0m0-89h0m1-17h0m0 220h0m5 20h0m2-57h0m1 13h0m0 71h0m3-175h0m1 248h0m1-248h0m2 30h0m1-91h0m2 66h0m0 186h0m1-59h0m1 8h0m1 107h0m2-155h0m1 79h0m0-233h0m0 252h0m3-174h0m2 246h0m0-171h0m1 94h0m2-174h0m2 66h0m1-73h0m1-51h0m1 233h0m2-142h0m3 148h0m0-134h0m2 67h0m3 11h0m3 91h0m0-187h0m0 43h0m1-156h0m1 169h0m2-102h0m4 227h0m3-196h0m0-117h0m0 199h0m1 110h0m3 13h0m0-251h0m0 47h0m2 202h0m1-272h0m1-33h0m5 57h0m0-81h0m0 9h0m2 195h0m2 67h0m1-247h0m1 160h0m0 85h0m0 81h0m1-297h0m3 182h0m0-46h0m0 88h0m2-280h0m0 114h0m0 56h0m1 94h0m2-278h0m0 316h0m2-67h0m1 94h0m2-205h0m0 49h0m3-5h0m3-110h0m2 113h0m2 67h0m0-138h0" stroke="#642D46"/><path d="M3402 922h0m0 103h0m2 176h0m2-59h0m0-57h0m0-58h0m1-54h0m0 296h0m1-91h0m1-77h0m2 82h0m1-270h0m0 4h0m1 297h0m1 17h0m0-140h0m0 45h0m0 105h0m0-84h0m1-228h0m0 223h0m0 117h0m0-146h0m1-21h0m0-85h0m2 153h0m0-2h0m3-13h0m2-61h0m1-136h0m0 282h0m1 6h0m1-134h0m2-171h0m2-26h0m0 187h0m2 63h0m3-200h0m1 219h0m2-76h0m1 62h0m0-102h0m0-131h0m2 138h0m0-43h0m0 9h0m1-33h0m7 98h0m1 97h0m3-216h0m0-99h0m2 335h0m1-14h0m1-172h0m1-66h0m0 242h0m3-64h0m1-253h0m4 221h0m1-27h0m0-107h0m1 171h0m0 3h0m0-36h0m0-31h0m2 42h0m1-69h0m1 198h0m3-331h0m0 270h0m1-151h0m0-17h0m2 130h0m3 62h0m1-102h0m2-89h0m2 176h0m2-302h0m1 292h0m1-79h0m3-121h0m1 163h0m1-196h0m1-33h0m1-34h0m3 151h0m2 197h0m1-317h0m1 38h0m1-46h0m3 337h0m2-3h0m0-8h0m6-157h0m1-24h0m0-64h0m3 241h0m1-106h0m2-133h0m0-54h0m0 162h0m2-174h0m0 27h0m0 163h0m2-202h0m2 314h0m3-269h0m2 90h0m2 15h0m1 49h0m0 83h0m2-145h0m2 51h0m1-29h0m3 187h0m1-27h0m1 33h0m3-264h0m2-35h0m0 78h0m2 22h0m4-14h0m3 23h0m4 17h0m2 58h0m1 83h0m2-142h0m0 130h0m2-279h0m0 160h0m2-135h0m1 45h0m1 27h0m1-57h0m1 86h0m1 154h0m1-291h0m1 60h0m2 65h0m0 128h0m2-41h0m1-85h0m0 164h0m0-16h0m1-230h0m0 210h0m0-116h0m1 171h0m4-325h0m0 205h0m4-103h0m1 98h0m0-161h0m1 225h0m0-122h0m2-110h0m4 292h0m0-295h0m0 65h0m1 165h0m0-46h0m1 99h0m0 17h0m1-299h0m2-8h0m1 197h0m2-275h0m1 84h0m0 120h0m2 161h0m0-314h0m1 59h0m1 240h0m1-220h0m3-89h0m1 328h0m2-313h0m1 162h0m0-148h0m3 20h0m2 199h0m2 34h0m1-63h0m1-103h0m2 125h0m1-86h0m0-9h0m1 18h0m0-143h0m1 64h0m0 298h0m1-181h0m0 23h0m2-149h0m3 77h0m6-30h0m0 132h0m1 57h0m0-111h0m0-35h0m1-116h0m0 149h0m0-101h0m0-10h0m2-38h0m0 88h0m0-20h0m2-114h0m0 338h0m0-82h0m1-119h0m0 160h0m0 16h0m0-160h0m0 92h0m1-77h0m0-189h0m1 25h0m2 303h0m0-60h0m0-10h0m1-90h0m1-163h0m1 101h0m2 184h0m0-135h0m1-60h0m0 187h0m1-249h0m3 107h0m4 17h0m0-3h0m0 109h0m2-119h0m3 26h0m1-79h0m1 222h0m1-127h0m0-52h0m1 118h0m1-82h0m1 28h0m0 76h0m4 78h0m1-13h0m3-210h0m0 97h0m1 126h0m0-219h0m0 131h0m0-43h0m3-41h0m0 104h0m1 40h0m3-219h0m0-66h0m1 89h0m1 52h0m1-135h0m1 303h0m2-200h0m6 148h0m2-279h0m0 67h0m1 132h0m1-94h0m1 237h0m1-200h0m2 157h0m0-144h0m0 192h0m1-245h0m0 154h0m4-240h0m1 50h0m0 98h0m1 123h0m0-48h0m0 102h0m1-307h0m0 25h0m2-13h0m2 294h0m3-13h0m3-313h0m1 132h0m1 206h0m2-330h0m1 121h0m0 94h0m1-153h0m1 15h0m1-53h0m1 240h0m1-49h0m1-135h0m0 98h0m0 124h0m1-248h0m0 59h0" stroke="#642D46"/><path d="M3757 1068h0m0 180h0m1-14h0m0 39h0m1-132h0m0-78h0m1 168h0m1-131h0m0 124h0m2-164h0m5 45h0m1 120h0m1-123h0m1 124h0m1-105h0m2 131h0m3-69h0m6-12h0m2-115h0m3 40h0m0 125h0m0-196h0m2 86h0m3-77h0m2 244h0m1-59h0m2-37h0m0 18h0m0-31h0m2 89h0m1-71h0m1 64h0m4 6h0m0-172h0m0 157h0m2-213h0m4 80h0m3 90h0m1 3h0m0-180h0m0 132h0m2-66h0m1-41h0m1 56h0m0 11h0m1-36h0m6 53h0m4 119h0m0-72h0m1 54h0m1-125h0m0 76h0m3 55h0m0-95h0m0 6h0m2-97h0m1 190h0m0-178h0m4-81h0m3 119h0m0-65h0m1 126h0m1-41h0m0-99h0m2 52h0m1 27h0m1-88h0m1 56h0m2 147h0m1 26h0m0 27h0m0-146h0m2 93h0m0 16h0m0-19h0m0-2h0m1-97h0m1-29h0m1 138h0m3 32h0m1-64h0m0-146h0m1 154h0m1 81h0m1-218h0m2 27h0m3 12h0m3 56h0m1-25h0m3 109h0m0-188h0m7 141h0m1 30h0m4-64h0m1-91h0m1-31h0m1 64h0m3 22h0m0 85h0m0 70h0m1-96h0m0 78h0m0-270h0m1 169h0m1 61h0m1-190h0m0 67h0m4-66h0m0 101h0m1 13h0m0-21h0m6 90h0m4-12h0m1-12h0m0-22h0m2-17h0m3-60h0m0-44h0m3-59h0m1 213h0m2-163h0m0 153h0m0-87h0m1 80h0m7 71h0m2-72h0m0 85h0m0-49h0m0-12h0m0 54h0m1-182h0m0 36h0m1 11h0m2 129h0m0-270h0m4 52h0m0 121h0m1-124h0m0 244h0m0-229h0m1 10h0m2 177h0m4 10h0m2-119h0m2-43h0m0 133h0m1-42h0m0-147h0m1 144h0m0-189h0m0 152h0m1 67h0m1 44h0m1 10h0m1-25h0m0 7h0m1-82h0m2 111h0m1-209h0m3 37h0m2 37h0m4 121h0m5-147h0m1-76h0m4 4h0m1 67h0m0-46h0m0 58h0m0-56h0m0 250h0m1-140h0m0-27h0m1-23h0m3-81h0m0 63h0m2 50h0m10 31h0m0-93h0m2 13h0m2-33h0m1-49h0m2 107h0m0-109h0m0 23h0m1 179h0m0-68h0m0 30h0m1-152h0m0 57h0m2 33h0m0 78h0m2-5h0m0-45h0m1 110h0m1-37h0m0-139h0m0-24h0m4 189h0m1-251h0m3 262h0m6-80h0m0-77h0m1 27h0m1-80h0m6 108h0m0-76h0m0-2h0m1-26h0m1-4h0m0 228h0m8-206h0" stroke="#D74150"/><path d="M3757 1134h0m2-10h0m0 40h0m1-81h0m0 94h0m0-194h0m1 206h0m0 14h0m1 33h0m2-88h0m1-28h0m1 72h0m0 48h0m1 5h0m3 9h0m1 13h0m4-70h0m1-69h0m3-52h0m1-63h0m0-11h0m1 165h0m1 45h0m5-61h0m0-68h0m1 41h0m0-80h0m2 155h0m1-46h0m0-179h0m0 33h0m3 278h0m2-198h0m0 121h0m1 16h0m0-38h0m0-139h0m3 100h0m2 47h0m2-149h0m0 114h0m2-116h0m3 134h0m0-124h0m0 31h0m3-21h0m0 37h0m4-50h0m2 186h0m0-168h0m1 120h0m2-187h0m2 245h0m3-7h0m4-95h0m1-118h0m2 53h0m0 148h0m2-37h0m1-98h0m1-6h0m2 14h0m0 97h0m5 21h0m2-174h0m0-38h0m1 247h0m1-146h0m0-39h0m1 154h0m0-49h0m1 84h0m2-72h0m1 32h0m1-95h0m3 63h0m0 71h0m3-115h0m3-106h0m0 86h0m1-25h0m1 37h0m0-106h0m1 42h0m1 24h0m5-3h0m1 185h0m0-58h0m0 83h0m0-307h0m3 114h0m1 77h0m2-33h0m1 116h0m2-2h0m3-264h0m1 218h0m1-93h0m3-3h0m6 149h0m0-30h0m0-175h0m0-24h0m1-55h0m0 211h0m0-88h0m1 33h0m0-85h0m1-22h0m1 164h0m0-145h0m1-33h0m2 206h0m1 1h0m1-120h0m1 128h0m0-259h0m3 232h0m0-144h0m2 47h0m4 46h0m2-57h0m1 4h0m2 54h0m2 24h0m0-156h0m1 58h0m0 210h0m1-19h0m1-218h0m3-3h0m5 122h0m2-39h0m3-149h0m1 23h0m0 24h0m3 55h0m3 173h0m0-115h0m2 93h0m9-130h0m0-67h0m1 18h0m0 200h0m0-51h0m1-32h0m1-35h0m1-28h0m0-57h0m1 90h0m1-158h0m0 234h0m2-223h0m0 44h0m1 191h0m0-216h0m3 232h0m1-56h0m1-7h0m1-111h0m0 114h0m1-92h0m0-46h0m0-5h0m3 191h0m1-70h0m0-132h0m2-52h0m0 36h0m1 151h0m2-9h0m1-121h0m0 195h0m0 45h0m0-292h0m1 264h0m0 32h0m3-225h0m0 123h0m1 78h0m0-222h0m7 102h0m0-140h0m0 245h0m0-190h0m1 8h0m0-49h0m2 226h0m1-157h0m2-30h0m0 164h0m5-35h0m5 79h0m0-65h0m2-33h0m1-2h0m1-80h0m2-5h0m5 83h0m7-88h0m0-30h0m0 158h0m1-66h0m1-37h0m0-133h0m0 160h0m2 72h0m1-223h0m3 219h0m2-191h0m0 129h0m0-183h0m2 209h0m1 86h0m1-37h0m1 16h0m3 63h0m0-229h0m2 228h0m1-79h0m2 58h0" stroke="#D74150"/><path d="M3757 1043h0m0 16h0m0 15h0m0-26h0m1 252h0m0-73h0m1-127h0m1 178h0m2-165h0m1-42h0m3 141h0m0-183h0m1 129h0m1-94h0m0 104h0m2-77h0m1-40h0m0 252h0m1-147h0m0-153h0m2 5h0m1 193h0m5-173h0m1 91h0m0-38h0m3 3h0m4-82h0m0 179h0m4-83h0m0-58h0m1-42h0m0 92h0m2 168h0m1-27h0m2 38h0m2-266h0m2 58h0m1 117h0m0-94h0m1 85h0m3-152h0m0 186h0m1 26h0m2 14h0m1-46h0m2 74h0m1-229h0m1 60h0m0-57h0m1 243h0m5-145h0m0-90h0m0 123h0m1-82h0m4 173h0m1-220h0m1-48h0m0 70h0m1-81h0m3 225h0m0-79h0m2 6h0m0 75h0m2-161h0m1 73h0m1 57h0m2-193h0m0 258h0m1-132h0m1-116h0m2 61h0m2 169h0m0-142h0m3 155h0m0-146h0m3-80h0m0 137h0m2-23h0m0 0h0m3-52h0m1-5h0m2-66h0m1 254h0m1-104h0m0-15h0m0 28h0m1 3h0m0-74h0m1 84h0m1-4h0m1-121h0m1 162h0m1-110h0m0 53h0m2 14h0m1 4h0m3-16h0m1-20h0m0 144h0m0-53h0m1-115h0m0-48h0m2 52h0m2-59h0m0 89h0m0-26h0m0 69h0m1-112h0m0-15h0m1 80h0m3 67h0m0-179h0m4 100h0m1-53h0m3-58h0m1 92h0m1 91h0m0-212h0m0 24h0m1 115h0m0-132h0m0 251h0m2-278h0m0 120h0m0 46h0m2-66h0m0-5h0m0 99h0m1-7h0m0-138h0m1 101h0m0 11h0m2 35h0m7-132h0m3 52h0m2 143h0m1-114h0m1 106h0m1-22h0m0-88h0m0 38h0m2-161h0m3 17h0m4 160h0m7 35h0m0-57h0m2-83h0m0-17h0m1 173h0m1-184h0m2-30h0m0 134h0m2-48h0m0-20h0m0-45h0m3 94h0m3 102h0m1-230h0m1-12h0m1 290h0m1-256h0m0 62h0m6 158h0m1-243h0m0 13h0m1 100h0m0-33h0m2-19h0m1-26h0m1-16h0m0 35h0m0 32h0m7-41h0m1 134h0m0-157h0m0 224h0m3-77h0m1 18h0m0-17h0m3 134h0m3-55h0m1-52h0m0-13h0m3-26h0m1 25h0m2-99h0m1 144h0m2-114h0m1-17h0m1 89h0m0-115h0m2 151h0m1-199h0m1 90h0m2-29h0m1 63h0m1 114h0m0-257h0m1 104h0m0-39h0m1 45h0m3 93h0m2-128h0m1 156h0m2-141h0m0 98h0m1-30h0m6-111h0m0-14h0m1-30h0m1 95h0m1 110h0m1-98h0m6-120h0m2-37h0m2 42h0m0 113h0m0 149h0m1-191h0m2-75h0m0 240h0m6-103h0m0 124h0m1-34h0m1 12h0m0-30h0m0-40h0m1-38h0m1-82h0m0-5h0m2 238h0m1-70h0m1-104h0" stroke="#D74150"/><path d="M3757 1065h0m0 59h0m0 117h0m6-50h0m0-3h0m1-50h0m0 88h0m3-107h0m0-20h0m1 12h0m1 151h0m1-173h0m0 155h0m0-56h0m3-85h0m1-13h0m5-58h0m1-15h0m6 231h0m2 12h0m2-121h0m0-35h0m2 133h0m0-197h0m4 214h0m3-54h0m1 41h0m1-242h0m1 175h0m0-15h0m1 77h0m0-139h0m3 111h0m2 15h0m4-64h0m1-23h0m1 55h0m3-133h0m2 180h0m1-247h0m1 107h0m4 118h0m2-133h0m1-11h0m0 175h0m1-145h0m0-72h0m0 61h0m1-56h0m2 124h0m0 39h0m1-80h0m1 9h0m0 121h0m1-199h0m6 156h0m0-50h0m6-22h0m1-82h0m5-8h0m2 233h0m3-171h0m1 49h0m1 52h0m0-153h0m1-37h0m0 53h0m3-34h0m3 188h0m2 23h0m1-206h0m1 17h0m0 219h0m1-264h0m3 9h0m0 171h0m2-91h0m1 145h0m0-239h0m1 23h0m1 243h0m1-292h0m2 110h0m0 118h0m3-24h0m3-149h0m3 25h0m0 42h0m1-5h0m1 81h0m2-162h0m0 234h0m1-173h0m0 159h0m1-56h0m1-91h0m0 57h0m2 6h0m1 4h0m1-149h0m1 132h0m1-23h0m7 123h0m2 12h0m2-78h0m1-54h0m1-152h0m1 176h0m1 31h0m0-84h0m1 133h0m5 21h0m2-101h0m1 98h0m0 29h0m1-185h0m2-109h0m3 47h0m3 160h0m1 58h0m4 69h0m0-340h0m0 193h0m3 51h0m0 21h0m1-39h0m0-139h0m1 102h0m1-112h0m0 25h0m4 119h0m3-31h0m1-160h0m0 236h0m1-78h0m0-64h0m0 14h0m0-123h0m1 57h0m1 123h0m2-120h0m0 16h0m1 89h0m1 71h0m3-219h0m1 249h0m1-142h0m4 102h0m1-193h0m1 197h0m2 12h0m2-125h0m5 16h0m2-47h0m0 174h0m1-229h0m1 107h0m3-52h0m0-114h0m1 216h0m4 26h0m2 0h0m3-210h0m2 151h0m2 75h0m1-5h0m2-109h0m0 80h0m0 35h0m1-156h0m0 97h0m0 55h0m0-165h0m3 235h0m1-17h0m0-119h0m1 103h0m1-105h0m1-85h0m2 148h0m1-71h0m1-55h0m2-13h0m2 173h0m2-203h0m0 4h0m1 140h0m1-165h0m1 84h0m2-118h0m3 138h0m3 79h0m0-57h0m1-119h0m0 56h0m3-59h0m1 99h0m1-28h0m3-38h0m1 89h0m1-98h0m1 224h0" stroke="#D74150"/><path d="M3757 1030h0m0 255h0m0-200h0m5-112h0m4 29h0m0 173h0m3-11h0m0 63h0m0 33h0m0-208h0m2 25h0m0 154h0m3-111h0m2 33h0m3-188h0m0 262h0m4-103h0m0-95h0m2 81h0m0 161h0m3-319h0m0 317h0m2-238h0m2 231h0m1-72h0m0-46h0m0-16h0m2-46h0m0-79h0m1 34h0m1 91h0m1-126h0m1 233h0m0-167h0m1-9h0m0 54h0m2-95h0m0-34h0m2 38h0m2 46h0m0 194h0m1-113h0m5-6h0m3 25h0m1-59h0m3 14h0m4 37h0m1-90h0m0-9h0m0 144h0m3-171h0m0 98h0m1-140h0m1 195h0m1-76h0m2-52h0m0 216h0m0-206h0m1-34h0m1 229h0m1-200h0m0 138h0m1-178h0m2 212h0m0-63h0m1-16h0m1-175h0m3 96h0m5-78h0m1 22h0m1 68h0m1 149h0m2-29h0m1-100h0m1 117h0m1-235h0m1 29h0m1 90h0m2-54h0m0 143h0m1-18h0m2 103h0m2-66h0m0 7h0m2 47h0m0-137h0m1-90h0m2 6h0m0 81h0m2 31h0m2-125h0m0 89h0m2-48h0m4-31h0m2-31h0m1 195h0m0-80h0m0 3h0m4 39h0m3 65h0m0-213h0m0 49h0m1 162h0m4-78h0m1 47h0m1-14h0m1 43h0m0 24h0m1-267h0m0 229h0m0-7h0m1-100h0m0 59h0m1-170h0m1-16h0m0 21h0m1 209h0m3 30h0m1-145h0m0 20h0m7-99h0m2 175h0m0-82h0m1-84h0m1-41h0m0 56h0m0 6h0m1 36h0m1-50h0m0 28h0m0 112h0m1 2h0m2 28h0m3-129h0m1 36h0m1 137h0m0-89h0m1-41h0m1 13h0m3-203h0m2 311h0m0-143h0m0 51h0m1 101h0m0-249h0m0 233h0m1-94h0m0-14h0m0 67h0m1-197h0m0 97h0m2 152h0m0-56h0m3 10h0m2 68h0m1-183h0m3-95h0m0 301h0m2-266h0m1 223h0m0-243h0m4 149h0m1 79h0m0-30h0m0-127h0m0 48h0m1 103h0m1-175h0m0 48h0m1 179h0m1-31h0m0 6h0m1-172h0m2 47h0m0 11h0m5-136h0m2 151h0m1 5h0m2-78h0m1 160h0m0-8h0m2-92h0m3-89h0m0 222h0m3-107h0m1-176h0m3 242h0m0-169h0m2 222h0m0-86h0m2 8h0m1-195h0m0 15h0m5 153h0m4 65h0m0-170h0m1-19h0m0 12h0m1-64h0m3 154h0m1-144h0m1 14h0m2 258h0m10-139h0m0 52h0m0-32h0m2-64h0m1-87h0m10 200h0m1 13h0m2-19h0m1 3h0m0-119h0m2 19h0m0 116h0m3-165h0m0 46h0m1 140h0m1-150h0m1 81h0m0 85h0m0-284h0m2 32h0m2 8h0m3-56h0" stroke="#D74150"/><path d="M4057 1076h0m0 169h0m0-141h0m0-192h0m3 340h0m2-87h0m3 109h0m2-41h0m3-78h0m0-225h0m0 198h0m0-121h0m0 144h0m1 43h0m0-242h0m3-13h0m0 289h0m1-147h0m0 12h0m0 26h0m1-62h0m1 52h0m0-106h0m2 138h0m0 102h0m2-109h0m0-62h0m0 142h0m1-160h0m1 0h0m0-5h0m1 102h0m1-57h0m4 39h0m1-30h0m0-133h0m0 287h0m1-29h0m0-15h0m2 34h0m0-126h0m0 154h0m4-282h0m1 220h0m0-228h0m1 221h0m0-10h0m1 47h0m5 27h0m1-38h0m0-282h0m2 277h0m0-165h0m0 60h0m1-55h0m0 34h0m0 78h0m2-197h0m0-42h0m4 187h0m1-175h0m1 43h0m0 143h0m2-165h0m1 229h0m0-131h0m0-44h0m1 190h0m0-237h0m0 16h0m4 169h0m0-123h0m1 124h0m0-168h0m2 138h0m1 44h0m0-115h0m3 60h0m1-224h0m1 256h0m4-157h0m1-29h0m0-79h0m5 205h0m1-185h0m0 101h0m1 137h0m2-123h0m0 210h0m1-108h0m1-194h0m1-55h0m0 39h0m0 162h0m1-64h0m1 198h0m7-25h0m1 94h0m3-242h0m1-151h0m2 369h0m1-138h0m1-156h0m0 109h0m1-8h0m1 33h0m0-145h0m1 304h0m2-84h0m0 26h0m1 46h0m1-197h0m2-48h0m3 43h0m1 37h0m2-61h0m0 181h0m2 85h0m0 18h0m1-277h0m2-15h0m1 29h0m1 93h0m0 45h0m1-263h0m1 285h0m0-149h0m1-30h0m1-93h0m1 267h0m3-241h0m1 70h0m1-91h0m0 134h0m0-29h0m1 186h0m0-90h0m1-110h0m1 182h0m1-76h0m3 123h0m0-202h0m2-86h0m1 227h0m0-111h0m0 37h0m0-96h0m0-118h0m2 391h0m3-55h0m0-287h0m1 131h0m2 127h0m0-283h0m1 72h0m0 159h0m0 41h0m2-64h0m1 25h0m1 5h0m3-235h0m2 136h0m3-69h0m0 111h0m2 29h0m1-175h0m0 133h0m1-188h0m1 124h0m0 207h0m0-267h0m1 120h0m3-150h0m0 96h0m3-76h0m6 10h0m1 219h0m1-41h0m0 69h0m1-107h0m1-63h0m2-67h0m0 169h0m2-22h0m2-32h0m3-214h0m1 255h0m3 16h0m1-135h0m0-195h0m1 264h0m2 159h0m2-26h0m0-98h0m2 80h0m4-237h0m1 103h0m1 31h0m2 43h0" stroke="#0A28FA"/><path d="M4057 1007h0m0 75h0m0 64h0m0-107h0m1 224h0m0-170h0m1 33h0m3-24h0m2 121h0m2-311h0m0 314h0m1-37h0m1-93h0m0-116h0m1 22h0m1 139h0m1-29h0m0 168h0m0-62h0m1 29h0m1-111h0m2-40h0m0-129h0m1 119h0m0 97h0m1-25h0m0-9h0m2 68h0m0-142h0m2-44h0m3 160h0m0-125h0m3 47h0m1 29h0m1-64h0m0 39h0m2-192h0m1 294h0m1-156h0m2-115h0m0 35h0m6 214h0m4-243h0m1 252h0m1 62h0m1-192h0m0 86h0m1-17h0m0 51h0m1-177h0m0 131h0m0-269h0m0 312h0m1-165h0m0-5h0m0 30h0m2 192h0m2-38h0m2-82h0m1-135h0m1 269h0m3-150h0m0-234h0m0 357h0m2-23h0m1-246h0m2 221h0m1 43h0m1-37h0m0 54h0m4-336h0m1 72h0m0 164h0m2-204h0m0 97h0m2 82h0m0-232h0m1 63h0m1 60h0m2-101h0m4 348h0m1 13h0m0-271h0m3 200h0m0 4h0m1-230h0m0 73h0m1-143h0m0 229h0m0 34h0m0 13h0m1-54h0m3-67h0m0 8h0m1-34h0m2 179h0m2-294h0m1 77h0m0 222h0m2-268h0m0-1h0m0 6h0m1-89h0m0 62h0m0 274h0m1-63h0m1-260h0m1 166h0m1 107h0m4 71h0m1-349h0m0 148h0m2-7h0m1-39h0m2 268h0m2-286h0m1 220h0m1 23h0m2-107h0m1 110h0m2-178h0m1 232h0m1-193h0m5-30h0m1-115h0m2 271h0m1-14h0m3-67h0m1-205h0m3 120h0m4-79h0m1 203h0m0-118h0m0-104h0m1 290h0m0-221h0m0-29h0m2 257h0m0-55h0m1-222h0m1 254h0m0-28h0m3-46h0m0-86h0m1 206h0m2-181h0m1-60h0m0 104h0m1-49h0m1 98h0m1-238h0m1 223h0m1-165h0m3-31h0m1 91h0m2 32h0m3-6h0m2-157h0m4 289h0m0-198h0m1 173h0m6-53h0m1-18h0m1-30h0m2-105h0m1 160h0m1-146h0m4 163h0m2-205h0m3 275h0m0-319h0m0 341h0m0 9h0m2-32h0m4-138h0m1-36h0m1 237h0m1-41h0m0-100h0m1-28h0m0-41h0m1 193h0m1-276h0m0 10h0m1 21h0m0 185h0m4 42h0m0-106h0" stroke="#0A28FA"/><path d="M4057 899h0m0 36h0m0 64h0m1-80h0m1 46h0m2 215h0m0-209h0m2 165h0m5-168h0m0 12h0m1 82h0m1 168h0m1-211h0m1 197h0m1-82h0m0 97h0m1-106h0m0 13h0m1 41h0m0-252h0m1 47h0m1-68h0m0 156h0m2 56h0m0 43h0m1-133h0m2 141h0m1-42h0m1 118h0m1-135h0m0 145h0m2-336h0m0 134h0m2-42h0m0 161h0m1-19h0m0-93h0m0-116h0m1-38h0m0 163h0m3-143h0m0 308h0m0-141h0m1-101h0m3 256h0m0-142h0m1-57h0m0 44h0m1-24h0m1-132h0m1 104h0m1 0h0m0 133h0m0-200h0m0 274h0m2-236h0m0-8h0m0 94h0m1 12h0m0-149h0m1 193h0m0-217h0m0 33h0m0-10h0m1 106h0m0-82h0m1 230h0m1-134h0m0-67h0m2-15h0m0 137h0m1-133h0m2 109h0m0 74h0m2-102h0m1-78h0m4-78h0m1 101h0m1-71h0m1 170h0m0-51h0m2 154h0m2-212h0m0 8h0m2 93h0m3-40h0m3-79h0m0 100h0m1 74h0m1-244h0m0 192h0m1-122h0m3-28h0m1 190h0m0-206h0m2-24h0m0 332h0m1-112h0m0-78h0m1 179h0m0-109h0m1-201h0m1 95h0m1 190h0m1-74h0m1-110h0m0-14h0m1 88h0m3 115h0m4-9h0m0-93h0m0 152h0m3-98h0m1 15h0m0-101h0m2-76h0m1-62h0m0 44h0m0 100h0m1 75h0m1-68h0m0 149h0m1-289h0m1 189h0m0 37h0m0 19h0m3-146h0m2-13h0m3 144h0m2 28h0m0-112h0m0-168h0m1 196h0m2-168h0m0 327h0m1-376h0m1 136h0m1 115h0m3-26h0m0-139h0m1 21h0m1 223h0m1-116h0m0-200h0m1 273h0m1-41h0m1 53h0m0 15h0m0-105h0m6-152h0m3-54h0m2 183h0m0-56h0m3 146h0m1-55h0m0 104h0m3-17h0m0-222h0m0 242h0m0-74h0m2-101h0m4 90h0m0-160h0m6-45h0m0 61h0m3-58h0m1 71h0m1 38h0m0-17h0m1 146h0m4-269h0m0 238h0m1 90h0m0-2h0m1-117h0m0-144h0m0 201h0m1-93h0m1-96h0m0 53h0m1-134h0m0 219h0m1-68h0m3-103h0m0-35h0m3 188h0m0 65h0m2-207h0m2 218h0m0-225h0m1 25h0m1 114h0m2-157h0m1-6h0m1-54h0m0 81h0m0 15h0m1 121h0m2-177h0m4-22h0m1 186h0m0 78h0m1-259h0m0 127h0m0-74h0m2 187h0m1-36h0m1-24h0m1 75h0m1-162h0m1-75h0m0 97h0m0 125h0m3-81h0m0 51h0m1-60h0m1 15h0m0-31h0" stroke="#0A28FA"/><path d="M4057 928h0m0 43h0m0 40h0m0 76h0m0 36h0m0 51h0m0 55h0m1-64h0m2-9h0m1-100h0m0 21h0m1 134h0m0-105h0m1 26h0m0-207h0m0 111h0m0 44h0m1-161h0m1 125h0m2 24h0m0 50h0m1 126h0m3-16h0m3-29h0m2-300h0m0 44h0m2 3h0m1 313h0m1-150h0m0 144h0m1-122h0m2 12h0m1 118h0m3-310h0m0 109h0m1-115h0m1 63h0m1 202h0m0-192h0m2-48h0m2 197h0m0-225h0m2 228h0m4-208h0m0 240h0m3-53h0m0 43h0m0-183h0m1 63h0m0-113h0m1 7h0m0 32h0m1 139h0m1-82h0m0 75h0m0-187h0m0 75h0m0 16h0m1 21h0m0 133h0m1 13h0m0-32h0m0-62h0m2-12h0m2-11h0m5-7h0m1 121h0m1-72h0m1-58h0m3-78h0m3 26h0m1 57h0m1-22h0m1 57h0m0 27h0m0 101h0m1-221h0m0-41h0m1-13h0m0 237h0m1-317h0m0 353h0m1-213h0m1-43h0m1 51h0m0 157h0m2 62h0m5-31h0m0-131h0m0 41h0m1-106h0m0 91h0m1-195h0m0 134h0m2-199h0m0 330h0m1-20h0m1-50h0m2 136h0m0-266h0m1 176h0m0-226h0m0 189h0m1-225h0m1 298h0m1-72h0m5-58h0m2 64h0m2 55h0m0 55h0m0-117h0m1-71h0m0 31h0m1-34h0m3 130h0m0-43h0m1-215h0m1 12h0m1 94h0m0-74h0m0 193h0m1-231h0m0 152h0m1-178h0m1 231h0m1-2h0m1 13h0m1-110h0m0-96h0m0 282h0m0-306h0m1 60h0m2 10h0m0 171h0m3-76h0m1 157h0m0-234h0m0 67h0m3 208h0m0-286h0m2 199h0m1-60h0m0-58h0m1 66h0m1-78h0m0-117h0m1 149h0m1 9h0m1-148h0m4 95h0m3 212h0m2-151h0m0-103h0m1-41h0m3 36h0m1 52h0m1 88h0m1 87h0m1-9h0m0-134h0m0-147h0m1 242h0m1-7h0m1-59h0m1 23h0m0-33h0m1-154h0m0 272h0m3-158h0m1-74h0m0 262h0m0-211h0m0 25h0m1 60h0m4 105h0m3-106h0m1-83h0m0 143h0m2-37h0m1 61h0m1-209h0m0 170h0m1 26h0m0-204h0m2 88h0m1 150h0m2-31h0m0-41h0m1-167h0m1 81h0m1 105h0m1-208h0m0 24h0m0 24h0m1 115h0m0-126h0m3 56h0m2 44h0m0-141h0m2 63h0m0-64h0m2 178h0m0-126h0m4-74h0m1 324h0m4-282h0m1 186h0m0 47h0m1-121h0m1 50h0m2 104h0m2-109h0m4 76h0m0-82h0m0 83h0m5 7h0m0-59h0m1 11h0m2-163h0" stroke="#0A28FA"/><path d="M4057 1048h0m0 91h0m0 97h0m0 7h0m0-273h0m0 20h0m0-11h0m1-74h0m3 240h0m1-97h0m1 216h0m1-235h0m0-45h0m2 110h0m1-59h0m0 170h0m2-118h0m1-65h0m2-27h0m1 175h0m0-248h0m2 1h0m1 219h0m1 72h0m1-21h0m0-210h0m0 218h0m0-142h0m1 111h0m0-242h0m1 94h0m3 56h0m1 45h0m0-25h0m1 137h0m0-32h0m0-145h0m1 30h0m1 108h0m0-112h0m1-145h0m0 12h0m1 205h0m0-81h0m0 17h0m2-144h0m1 213h0m0-107h0m1-92h0m2 223h0m0-27h0m1 135h0m1-117h0m0-46h0m1-52h0m0-101h0m0 171h0m2 82h0m1-22h0m1-255h0m1 203h0m0-43h0m0 124h0m0-132h0m2 15h0m1-226h0m1 93h0m0 99h0m0 154h0m1-17h0m1-180h0m2 110h0m1-105h0m3 165h0m0-132h0m1 60h0m2-205h0m2 249h0m2 10h0m3 24h0m2-215h0m1-14h0m1-1h0m0 57h0m0 96h0m1 107h0m1-282h0m0 121h0m0-228h0m1 79h0m1 151h0m0-48h0m1-94h0m0 201h0m0 62h0m2-172h0m0-78h0m2-86h0m1 360h0m3-53h0m0-14h0m2 39h0m0-224h0m0 27h0m2 79h0m0 114h0m2-183h0m1-94h0m3 29h0m1 231h0m3-140h0m1 121h0m0 100h0m4-145h0m1-56h0m2 36h0m1 109h0m0-126h0m0-148h0m1 142h0m0 24h0m0-160h0m0 114h0m0 89h0m1 24h0m5 36h0m0 21h0m2-240h0m1 146h0m0-6h0m0 86h0m1-14h0m1 55h0m0-93h0m1 7h0m1-157h0m2-7h0m0 125h0m2 133h0m0-149h0m0 156h0m3-149h0m1-53h0m0 121h0m5-8h0m0 67h0m5-165h0m1-157h0m1 168h0m2 73h0m1 68h0m0-147h0m2 86h0m1-179h0m3 39h0m1-77h0m1-89h0m0 213h0m1 114h0m0 41h0m1-70h0m3-195h0m1-17h0m0 310h0m1-137h0m0-146h0m1-42h0m1 133h0m2-86h0m0 213h0m2 27h0m1-296h0m2 204h0m1 116h0m8-278h0m1 134h0m0 115h0m0-202h0m1-86h0m0 264h0m1-76h0m4-139h0m2 90h0m1-48h0m1 169h0m9-20h0m1-230h0m1 138h0m3-67h0m0-28h0m1 122h0m0-134h0m0 139h0m1-201h0m3 24h0m2 219h0m1 63h0m1-54h0m0 38h0m1-133h0m1-143h0m0 274h0m1 33h0m1-4h0m0-233h0m1-2h0m5 278h0m2-51h0m2-302h0m0 55h0" stroke="#0A28FA"/></g>
<g transform="scale(.2)" fill="none" stroke-linecap="round" stroke-width="12.00" stroke-opacity="0.17"><path d="M452 292h0m0 295h0m0 230h0m0-136h0m0 165h0m1-558h0m1 349h0m1 51h0m2 10h0m5 134h0m1-140h0m2 35h0m2 164h0m4 214h0m1-324h0m2 48h0m1-498h0m1 397h0m2 63h0m2-61h0m1-81h0m0 131h0m4 32h0" stroke="#781286"/><path d="M452 619h0m0 204h0m0 92h0m6 192h0m0-235h0m4-157h0m2-18h0m5-3h0m2 104h0m1-119h0m1 16h0m4 421h0m1-500h0m4 241h0m2-43h0m2-160h0m1-316h0" stroke="#781286"/><path d="M452 747h0m0-62h0m3-381h0m0 282h0m1 197h0m3-177h0m1 18h0m0 101h0m0 160h0m4-527h0m1 404h0m1-89h0m2-27h0m4 257h0m3 28h0m1-273h0m3 367h0m2-333h0m3-31h0m4 93h0" stroke="#781286"/><path d="M452 612h0m0 373h0m0-136h0m1-254h0m0-301h0m0 698h0m1-292h0m8 4h0m0-5h0m4 70h0m2-31h0m0 241h0m1-297h0m5 73h0m1-112h0m2 217h0m0 4h0m0-530h0m2 497h0m8-75h0m0-58h0" stroke="#781286"/><path d="M452 647h0m0 94h0m0 50h0m0 334h0m5-416h0m3 198h0m5-133h0m1 212h0m1-155h0m1 108h0m0-600h0m2 300h0m10 137h0m6-55h0m1-9h0m1 114h0" stroke="#781286"/><path d="M452 671h0m0 36h0m0 191h0m1-282h0m2 320h0m1-208h0m1 277h0m6-653h0m1 524h0m1-6h0m1-207h0m0 105h0m1 9h0m2-17h0m1 82h0m1-503h0m1 325h0m1 214h0m1-211h0m4-20h0m2-6h0m2 240h0m1 31h0" stroke="#781286"/><path d="M452 864h0m3 148h0m3-274h0m8-47h0m3 496h0m1-446h0m0-394h0m2 635h0m0-180h0m1-98h0m1 61h0m2-89h0m3-53h0m3 171h0m6-86h0" stroke="#781286"/><path d="M452 637h0m0 204h0m0 20h0m0-212h0m1 334h0m1-22h0m1-267h0m0 365h0m0-435h0m2-35h0m0 116h0m1 111h0m1 59h0m6-207h0m0-20h0m1 51h0m7 28h0m2 355h0m0-260h0m6-57h0m3 133h0m3-139h0" stroke="#781286"/><path d="M495 582h0m1 98h0m2 50h0m0-29h0m4 81h0m0-116h0m3 178h0m2-53h0m1-137h0m0-26h0m2 184h0m3-69h0m2-59h0" stroke="#781286"/><path d="M493 777h0m2 149h0m0-368h0m1 62h0m1 22h0m3-233h0m1 211h0m0-210h0m2 242h0m0 10h0m2 142h0m8-100h0m0 107h0m1-134h0m0 122h0m2-124h0m0 183h0m1-126h0m1-41h0" stroke="#781286"/><path d="M492 669h0m0 40h0m1-86h0m1 295h0m0-530h0m2 487h0m2-185h0m1-30h0m0 60h0m1-106h0m1 45h0m0-255h0m2 375h0m3-146h0m0 127h0m1-80h0m0-77h0m4 144h0m2-95h0m0 115h0m1-104h0m2 239h0" stroke="#781286"/><path d="M493 378h0m4 35h0m0 192h0m1 43h0m1 89h0m4-308h0m6-33h0m4 237h0m0 205h0m2-22h0m0-99h0m3-89h0" stroke="#781286"/><path d="M495 627h0m0 273h0m0-332h0m1 142h0m1-73h0m4 47h0m1-13h0m0-56h0m2 28h0m1 65h0m2-10h0m1-6h0m4-281h0m0 363h0m2 110h0m1-175h0m2-288h0" stroke="#781286"/><path d="M492 802h0m0 13h0m1-113h0m3-51h0m3 96h0m1-71h0m3 111h0m1-200h0m1 166h0m0-91h0m6 240h0m2-475h0m2 298h0m2 251h0m0-332h0" stroke="#781286"/><path d="M492 561h0m3 53h0m1 219h0m0-430h0m0 550h0m1-145h0m0-49h0m2-39h0m2-110h0m1 19h0m5-38h0m9 275h0m0-229h0" stroke="#781286"/><path d="M492 852h0m0-127h0m1 61h0m2-152h0m0 170h0m1-195h0m1 65h0m0-6h0m0-275h0m0 265h0m0 102h0m1-352h0m0-8h0m0 334h0m1-31h0m1 118h0m1-180h0m2 70h0m1 64h0m3 8h0m7-47h0m4 26h0" stroke="#781286"/><path d="M522 694h0m1 36h0m0 439h0m0 44h0m4 41h0m0-631h0m5 88h0m2 588h0m1-25h0m0-614h0m1-106h0m4 255h0m0-344h0m1 134h0m1 751h0m1-739h0m0 581h0m1 36h0m1-586h0m0 171h0m1-20h0m1 577h0m1-137h0m0-779h0m1 210h0m1-35h0m1 600h0m1-10h0m0 108h0m0-716h0m0 19h0m0 65h0m2 4h0m0-95h0m1-115h0m1 810h0m1-777h0m1-54h0m1 742h0m0-657h0m1 30h0m0 59h0m0-115h0m2 932h0m1-288h0m1 183h0m2-772h0m6 654h0m2-549h0m2 102h0m1 515h0m0-698h0m0 583h0m1-571h0m0 660h0m1-674h0m0 43h0m1-80h0m1 268h0m0 480h0m1-675h0m1-28h0m1 623h0m3 132h0m0-620h0m2-138h0m1 37h0m0 602h0m0-18h0m1-604h0m0 544h0m0-490h0m0 192h0m1-158h0m2 490h0m0-571h0m1 52h0m1-76h0m0 566h0m1 126h0m0-666h0m0 195h0m1 305h0m2-382h0m2-83h0m4 101h0m1-210h0m1 125h0m0 577h0m1-44h0m2-50h0m0-621h0m3 45h0m2-38h0m2 129h0m2-178h0m1 76h0m0 142h0m3-307h0m1 299h0m0-164h0m0 334h0m0 327h0m1-712h0m0-93h0m0 282h0m1 41h0m0-66h0m0 47h0m0 582h0m1-102h0m0 10h0m0 62h0m1 60h0m1-847h0m0 145h0m2 11h0m1 735h0m1-803h0m0 166h0m1-266h0m0 91h0m0 35h0m1-83h0m0 754h0m1-46h0m0-289h0m2 325h0m1-555h0m4 208h0m1-392h0m1 74h0m1 708h0m3-10h0m1-781h0m0 277h0m0-224h0m4 107h0m0-85h0m2-131h0m1 324h0m2 443h0m1 55h0m0-71h0m0-573h0m0 25h0m1-137h0m1 152h0m0-109h0m3 61h0m1 20h0m3 582h0m2 5h0m0 152h0m2-111h0m1-610h0m1-137h0m0 98h0m0 158h0m1-231h0m1 78h0m2-206h0m1 292h0m0 143h0m3-301h0m1 133h0m2 48h0m2-105h0m0 33h0m1-10h0m2 43h0m0 59h0m0-23h0m0 44h0m1-143h0m1 61h0m0-58h0m1 756h0m0-874h0m0 110h0m1 591h0m0-726h0m0 775h0m0-51h0m1-714h0m0 205h0m0 109h0m0-276h0m1 633h0m1 62h0m0 84h0m0-804h0m3 730h0m0-677h0m1-26h0m2 267h0m3-187h0m1-95h0m2-101h0m2 241h0m1 7h0m1-139h0m1 654h0m2 43h0m1-35h0m3-599h0m0 80h0m4-3h0m1 547h0m2-459h0m1-78h0m1-22h0m2-202h0m0 748h0m1 73h0m1-805h0m0 115h0m1 3h0m2-16h0m0 38h0m1 625h0m2-43h0m0 170h0m2-683h0m1 535h0m1-619h0m1 822h0m0-247h0m1-504h0m1 131h0m1-141h0m0 543h0m0-547h0m1-86h0m1 176h0m0-253h0m1 139h0m1 29h0m0-77h0m0-16h0m1 45h0m0 152h0m0-83h0m1 142h0m0 399h0m0-678h0m0 338h0m1-247h0m0 527h0m0 73h0m1-511h0m1 473h0m0-635h0m0-65h0m1 72h0m1 687h0m1-707h0m0 719h0m0-629h0m0-81h0m1-48h0m1 15h0m0 120h0m1-174h0m0 302h0m1 417h0m0-413h0m2-136h0m0-98h0m0 179h0m0-193h0m1-48h0m1 350h0m1-118h0m0-38h0m2-100h0m0 16h0m2 885h0m3-824h0m1 567h0m1-345h0m1 491h0m0-82h0m0-739h0m1 249h0m1-206h0m0 119h0m0 525h0m1-7h0m0-568h0m0 707h0m0-176h0m0 66h0m1-524h0m0 82h0m0-272h0m0 680h0m0-605h0m1-56h0m0 759h0m1 194h0m1-280h0m1-850h0m0 877h0m0-884h0m1 480h0m4-60h0m4-296h0m1 102h0m2 63h0m1 701h0m0-862h0m1 358h0m0 313h0m1 240h0m0-1023h0m0 906h0m2-774h0m0 11h0m0 832h0m0-893h0m0 779h0m1 99h0m2-54h0m0-87h0m0-412h0m2 534h0m0-25h0m1-747h0m2 905h0m1-235h0m1-591h0m1 140h0m1-324h0m1 849h0m1-609h0m1 565h0m2 54h0m0-758h0m0 165h0m1-239h0m1 134h0m0 79h0m0-207h0m6 65h0m2 232h0m0-250h0m0 237h0m1-185h0m1 583h0m3-532h0m3 45h0m1 590h0m1-18h0m1-682h0m0-47h0m0 56h0m4 82h0m3 43h0m2-71h0" stroke="#AA4682"/><path d="M522 569h0m1 676h0m1-567h0m3 1h0m2-142h0m1 19h0m0 86h0m0 563h0m0-611h0m0 92h0m1 552h0m0-14h0m0-10h0m0-408h0m2-73h0m2 58h0m1-242h0m1 690h0m0-657h0m1 47h0m0 541h0m1 47h0m1-703h0m0 57h0m0 255h0m0-347h0m2 704h0m0 31h0m0-507h0m0 595h0m2-667h0m0 8h0m0-21h0m2 558h0m1-506h0m2-198h0m0 771h0m0 92h0m0-794h0m0 158h0m2-53h0m0 562h0m1-543h0m0-208h0m0 769h0m0-711h0m0 762h0m1-829h0m1 229h0m3-208h0m1-28h0m1 94h0m0 77h0m1 599h0m2 46h0m1-526h0m2 59h0m1-184h0m1 100h0m1 38h0m3 646h0m0-702h0m1 512h0m0-558h0m1 541h0m1-34h0m1-506h0m2-114h0m4 148h0m2-100h0m0 799h0m0-789h0m0-84h0m2 113h0m2 165h0m1 523h0m0-647h0m2-85h0m0 9h0m1 160h0m0 81h0m0-340h0m0 72h0m2 56h0m0 603h0m2-700h0m1-33h0m1 133h0m2 44h0m1-16h0m9 539h0m0-604h0m1 814h0m0-793h0m1 727h0m1-43h0m1-550h0m0 423h0m0 53h0m1-565h0m0-251h0m2 274h0m0-215h0m1 304h0m1 376h0m0-622h0m1 79h0m1 259h0m0-407h0m1 424h0m0-333h0m1 210h0m0 558h0m1-815h0m0 186h0m1-166h0m1 92h0m0 646h0m0-780h0m1 365h0m0 410h0m0-713h0m0 284h0m1-344h0m1 236h0m0 485h0m0-10h0m1-345h0m1-154h0m2 510h0m0-608h0m1 98h0m0-12h0m1 195h0m0-37h0m0-8h0m1-242h0m0-85h0m1 725h0m1 0h0m0-435h0m2 436h0m0-737h0m0 665h0m2-542h0m0 678h0m1-96h0m2-631h0m3 836h0m3-976h0m1 761h0m0 38h0m1-528h0m0-142h0m0 639h0m1-661h0m0 72h0m4 662h0m1 84h0m0-788h0m2 80h0m1-135h0m1 77h0m0 734h0m1-632h0m2-154h0m2-49h0m1 119h0m1 37h0m1 46h0m2 572h0m1-446h0m1 526h0m0-26h0m1-421h0m0-19h0m1 322h0m2-733h0m0 274h0m3 480h0m2-535h0m1-172h0m1 692h0m1-455h0m2-172h0m3 161h0m1 720h0m0-923h0m0 146h0m1 591h0m0-543h0m1-131h0m0 628h0m0-564h0m2 94h0m0-96h0m0-29h0m1 626h0m0-630h0m0 808h0m0-212h0m2 58h0m0-687h0m0 22h0m1 131h0m1-16h0m2 514h0m1-771h0m1 184h0m0-100h0m1 98h0m1 592h0m0-522h0m0 44h0m1-64h0m1 623h0m0-772h0m1 142h0m1-189h0m0 178h0m0 535h0m1-628h0m1 644h0m1-827h0m1 153h0m0-5h0m0 30h0m1 48h0m3 586h0m0-563h0m0 12h0m1-20h0m1 62h0m0-222h0m2 144h0m2 564h0m1 263h0m0-237h0m2-340h0m3 441h0m2 67h0m0-182h0m0-345h0m3-149h0m2-55h0m4-4h0m0 561h0m0 41h0m0-627h0m1 4h0m0 78h0m0 482h0m0-581h0m1-81h0m0 159h0m0 507h0m0 20h0m1-553h0m2 526h0m1-21h0m1-447h0m0 506h0m0-608h0m2-3h0m1-83h0m3 317h0m0-243h0m1-18h0m0 22h0m1 320h0m2 372h0m0-705h0m0 771h0m1-716h0m1 804h0m0-837h0m1-32h0m0 215h0m1-367h0m0 270h0m0-27h0m0 110h0m1-142h0m4 705h0m2-680h0m2-60h0m0-10h0m1-96h0m2 160h0m3 642h0m2-122h0m0 281h0m0-203h0m1-763h0m0 84h0m0 867h0m0-581h0m1 371h0m0-410h0m1-216h0m0 592h0m0-575h0m0 707h0m0-685h0m1-22h0m0 144h0m1-252h0m0-38h0m1 161h0m0-18h0m0 38h0m1-101h0m1 40h0m0-2h0m0 821h0m0-712h0m0 547h0m2-753h0m0 19h0m1 296h0m1-282h0m2 225h0m0-364h0m0 917h0m1-6h0m2-539h0m4-95h0m4-171h0m0 92h0m3-179h0m0 67h0m0 930h0m1-753h0m1 43h0m1 577h0m1-618h0m1 763h0m0-99h0m0-824h0m1 108h0m1 637h0m0-675h0m1 68h0m0-118h0m1 674h0m0-402h0m1 9h0m0-30h0m1-37h0m1-139h0m0 117h0m0 542h0m1-540h0m2 533h0m0-468h0m1-41h0m0-46h0m2 594h0m5 66h0m1-152h0m0 249h0m3-932h0m2 798h0m2-83h0m1-590h0m2-77h0m0 27h0m0 614h0m1-716h0m3 677h0m1 130h0m0-435h0m0-403h0m1 117h0m1 0h0m0 679h0m1-641h0m0 61h0m0 487h0m1 168h0m1 83h0m0-786h0" stroke="#AA4682"/><path d="M522 1246h0m1-485h0m1-53h0m3 570h0m2 18h0m2-596h0m0 39h0m2 526h0m2-805h0m0 44h0m1 20h0m2 189h0m0 659h0m2-699h0m0-55h0m0 70h0m0 620h0m1-107h0m1-59h0m0 238h0m1-725h0m0-75h0m1 748h0m2 246h0m1-982h0m0-63h0m1 245h0m0-213h0m1 622h0m1-374h0m1-19h0m0-154h0m1-32h0m0-102h0m0 699h0m2-527h0m2 565h0m0-726h0m1 56h0m1 130h0m0-167h0m4 702h0m0-753h0m0 75h0m1 137h0m1-109h0m0-30h0m1 118h0m1-24h0m5 104h0m1-23h0m1 618h0m0-83h0m1 145h0m0-785h0m1-142h0m1 111h0m0-20h0m1 270h0m0-233h0m1 153h0m2 498h0m0-760h0m2 728h0m1-497h0m0 668h0m0 58h0m1-730h0m1 22h0m2 709h0m1-846h0m1-51h0m1 159h0m0 476h0m0-490h0m0 694h0m1-669h0m0-241h0m0 751h0m1 147h0m2-66h0m0-110h0m1 119h0m1 68h0m0-130h0m1-686h0m1 623h0m1 80h0m1-734h0m1 674h0m5-490h0m0-255h0m2 970h0m0-322h0m1-267h0m1-108h0m1-175h0m1 148h0m0-159h0m1-62h0m1 12h0m0-39h0m2 133h0m3 698h0m1 5h0m0-14h0m1-41h0m1-793h0m0-8h0m0-32h0m3 240h0m0 679h0m0-700h0m0 595h0m1-533h0m0 696h0m0-658h0m0 528h0m0-752h0m0 901h0m1-814h0m0-61h0m1 293h0m5-289h0m1 1014h0m0-384h0m0 40h0m1-710h0m0 826h0m1-7h0m0-579h0m0-66h0m0 732h0m1-863h0m1 636h0m0 123h0m5-134h0m4-563h0m1 85h0m0 600h0m1-775h0m1 179h0m2-9h0m0 644h0m1-716h0m0 636h0m0-641h0m2-12h0m0 196h0m0 127h0m0-203h0m2-120h0m0-51h0m0 20h0m1 635h0m1 9h0m0-551h0m1-67h0m1 43h0m0-69h0m1 845h0m0-902h0m0 73h0m1-26h0m0 91h0m1 55h0m1 463h0m1-509h0m0 567h0m4-445h0m3-334h0m0 164h0m2 6h0m0 605h0m0-769h0m1 213h0m0-31h0m3 670h0m0-23h0m1-719h0m3-90h0m0 710h0m0 38h0m2-352h0m2-462h0m1 811h0m0-498h0m1 697h0m1-652h0m0-202h0m1-11h0m1 798h0m0-692h0m1-29h0m0-121h0m0 720h0m0-705h0m1 237h0m1-326h0m1 205h0m1 249h0m0 356h0m0-80h0m0 25h0m0-515h0m1 10h0m0 632h0m0-175h0m1-432h0m1-106h0m0 772h0m0-892h0m4 65h0m3 161h0m0 479h0m3-701h0m2 833h0m0-92h0m3-604h0m1-258h0m1 350h0m0 394h0m1 258h0m0-122h0m1-516h0m1-196h0m1 9h0m1 110h0m1-70h0m2 689h0m0-433h0m2-240h0m0 582h0m4-617h0m0 20h0m0 643h0m3 28h0m1-799h0m0 69h0m1 210h0m1-239h0m0 949h0m1-675h0m0 492h0m1-487h0m2 44h0m1 628h0m1-848h0m1-33h0m2-98h0m2 106h0m2 58h0m2 123h0m1-289h0m2 821h0m0-724h0m0 116h0m2 107h0m0 424h0m0 98h0m1-763h0m1-62h0m1-14h0m0 6h0m0 88h0m1 167h0m0-198h0m1-46h0m0 792h0m0-690h0m1-39h0m0 640h0m3 41h0m1-26h0m0-706h0m2 1006h0m0-331h0m1-574h0m5-52h0m3 694h0m0-759h0m0 911h0m1-610h0m1-139h0m1 18h0m0 733h0m2 22h0m0-880h0m0 208h0m0-99h0m0 224h0m0 410h0m1-776h0m0 185h0m1 577h0m0-555h0m1-15h0m0 490h0m1-294h0m1 370h0m0-706h0m2 734h0m0-38h0m2-18h0m3 153h0m0-810h0m5 16h0m2-16h0m1 655h0m4-493h0m1-133h0m0-111h0m2 91h0m1 63h0m0 118h0m2 408h0m2-22h0m1-291h0m1-275h0m0 572h0m2-575h0m1 698h0m0-713h0m1-89h0m0 178h0m1-100h0m0-45h0m1 114h0m0-73h0m0 115h0m1 123h0m0 55h0m0 303h0m0 67h0m0-720h0m1 104h0m0 231h0m2-198h0m0 771h0m2-884h0m2 688h0m0-529h0m0 572h0m1-570h0m0-130h0m1 66h0m1 256h0m1-289h0m2-15h0m0 75h0m0-154h0m1 908h0m0-742h0m0-18h0m1-7h0m0 19h0m2 794h0m0-826h0m2 676h0m2-544h0m2 570h0m4-774h0m0 349h0m1 434h0" stroke="#AA4682"/><path d="M526 1291h0m3-42h0m2-556h0m1-47h0m4 194h0m2-200h0m0 602h0m0-95h0m1 9h0m0-620h0m0 119h0m1 629h0m0-544h0m0 507h0m0-23h0m1-8h0m0-450h0m1 12h0m0-82h0m2-291h0m1 1138h0m0-837h0m0-242h0m2 89h0m2 749h0m1 134h0m1-998h0m1 822h0m1-611h0m1 661h0m3-107h0m0-451h0m0 516h0m1-567h0m0 629h0m0-936h0m1 85h0m1 53h0m0 115h0m1 159h0m1-41h0m0 46h0m1 17h0m0-331h0m2 179h0m0-87h0m2 141h0m1-42h0m4 682h0m0-695h0m1-65h0m2 17h0m0 582h0m1-609h0m1-45h0m1-34h0m0 339h0m1-104h0m0 523h0m1 2h0m0 99h0m0-709h0m0 779h0m1-797h0m0-135h0m0 321h0m1-211h0m1 573h0m0 64h0m0-698h0m0 116h0m2 4h0m0 536h0m2-37h0m1-568h0m0 16h0m1-43h0m1 109h0m0-161h0m0 685h0m1 35h0m0 74h0m0-656h0m1 76h0m0 94h0m0 441h0m0-571h0m2-89h0m0 46h0m1-67h0m2-8h0m0 140h0m1-59h0m0-153h0m1 291h0m1-185h0m5 285h0m0-361h0m1 756h0m2-725h0m1 558h0m1-290h0m0-304h0m0 169h0m4-27h0m1-74h0m1 561h0m2-627h0m0 612h0m1-424h0m1 455h0m0-638h0m2-21h0m0-55h0m2 762h0m0-19h0m2-689h0m0-98h0m0 778h0m1-637h0m0-9h0m0 188h0m2-62h0m1 624h0m2-35h0m6-596h0m2 665h0m1-2h0m0-115h0m0-413h0m5 411h0m2-638h0m0-138h0m1 229h0m0-118h0m1 922h0m0-154h0m0-645h0m2 819h0m2-256h0m1-538h0m0-237h0m1 273h0m0-27h0m1 511h0m1-658h0m0 695h0m0-711h0m2 147h0m0 15h0m0 63h0m0-320h0m0 956h0m1-873h0m0 67h0m0 696h0m1-592h0m2-108h0m2 227h0m3 503h0m1-18h0m1-633h0m1-244h0m1 268h0m1 639h0m0-695h0m2 69h0m1-310h0m0 831h0m1 83h0m0-904h0m0 140h0m5 701h0m4-535h0m0 463h0m1 67h0m0-655h0m2 91h0m1-51h0m0-109h0m0-63h0m0 136h0m1 59h0m0-88h0m1 817h0m1-90h0m0-7h0m0-721h0m0 706h0m1-103h0m0-385h0m0 61h0m0-254h0m1 63h0m0 613h0m1-590h0m0 146h0m1-186h0m0-66h0m1 77h0m1 51h0m0 580h0m1-541h0m1 399h0m1-442h0m1 501h0m0-376h0m0-385h0m1 82h0m0 798h0m1-524h0m1 99h0m0-78h0m0 345h0m0-16h0m0-554h0m1 607h0m0-316h0m1-455h0m2 704h0m2-542h0m1-106h0m0 129h0m1-101h0m2 47h0m1 129h0m0 493h0m1-607h0m1-3h0m0-92h0m0 1020h0m1-369h0m0 79h0m1-612h0m0-7h0m2-146h0m2 740h0m3 37h0m2-655h0m0 785h0m0-849h0m1 213h0m1 561h0m2 8h0m4 71h0m0-685h0m1-159h0m1 219h0m0 577h0m1-798h0m1 802h0m1-105h0m0-524h0m1-195h0m2-41h0m0 19h0m0 70h0m1 85h0m1-51h0m0-69h0m3 243h0m1-66h0m1-14h0m1-21h0m2-155h0m0 150h0m1 622h0m0-751h0m1 706h0m1-42h0m0 60h0m1 146h0m0-687h0m1-87h0m0 596h0m1-530h0m1 33h0m2-126h0m2 78h0m0-13h0m1-8h0m4 605h0m6 17h0m2-484h0m0-194h0m1-42h0m0 44h0m0 175h0m1-263h0m0 732h0m0-463h0m1-144h0m0 812h0m0-923h0m0 690h0m0-365h0m1-13h0m0-151h0m1 3h0m0 47h0m0 593h0m0-690h0m0-12h0m0 587h0m3-625h0m1 262h0m0-274h0m1 105h0m2 733h0m1-200h0m0-630h0m0 154h0m0 540h0m2-506h0m0 462h0m2-449h0m1 469h0m2-41h0m0 135h0m2-161h0m0-548h0m0-130h0m1 51h0m0 148h0m0-96h0m2 815h0m0-230h0m0-561h0m1-139h0m0 741h0m1 31h0m2-606h0m2 619h0m0-594h0m1 534h0m1-685h0m1 657h0m1-35h0m1-413h0m0 589h0m1-717h0m1 60h0m1 53h0m2-106h0m5 586h0m1-248h0m7-392h0m0 840h0m3-702h0m1-193h0m1 106h0m0 82h0m1-261h0m0 108h0m0 171h0m0-176h0m0 52h0m5 75h0m0 549h0m0-390h0m4-79h0m2 542h0" stroke="#AA4682"/><path d="M522 481h0m0 54h0m2 45h0m3-56h0m1 143h0m2 8h0m3 178h0m0 522h0m3-776h0m1 670h0m1-64h0m1-578h0m1 29h0m0-174h0m0 782h0m0-427h0m1-293h0m0 758h0m0-70h0m1-780h0m2 813h0m5-812h0m1 241h0m0-141h0m0 13h0m1 118h0m1-161h0m0 677h0m1-582h0m0-16h0m2-147h0m0 230h0m3-181h0m1 125h0m0 671h0m1-675h0m0 524h0m0 30h0m1-700h0m0 690h0m0-409h0m0 63h0m0 329h0m0 46h0m2-530h0m1 493h0m0 143h0m1-171h0m0-535h0m4 565h0m1-704h0m1 809h0m0-616h0m1-141h0m2 700h0m0-469h0m1 499h0m0-437h0m0 453h0m2-577h0m2-163h0m0 28h0m3 47h0m2 76h0m1-104h0m2-112h0m0 175h0m2-5h0m0 48h0m1-16h0m0 578h0m1-713h0m1 188h0m1-181h0m1 135h0m2-128h0m0 751h0m2-626h0m0-84h0m1 240h0m0-200h0m2 622h0m0-642h0m2 585h0m0 147h0m1-90h0m0-704h0m1 72h0m0-103h0m3 190h0m1 18h0m3 487h0m0-486h0m0-236h0m1 58h0m0 5h0m3 50h0m1 630h0m0-498h0m0 469h0m0-795h0m0 231h0m4 708h0m1-120h0m0 193h0m0-865h0m2 19h0m0 235h0m0 77h0m0-308h0m1-44h0m0 484h0m0-403h0m1-56h0m0 124h0m1-100h0m0 114h0m0 673h0m0-677h0m2 641h0m5 86h0m0-609h0m4 545h0m0-120h0m0 46h0m1-825h0m0 104h0m0 37h0m3 697h0m4 132h0m1-43h0m4-611h0m2 439h0m0-559h0m0 585h0m2 162h0m2-107h0m2-52h0m0-438h0m0-104h0m2-96h0m2 614h0m1 258h0m1-1015h0m0 190h0m0-67h0m1-112h0m3 258h0m0-299h0m0 267h0m1 859h0m0-928h0m3 728h0m1-640h0m1-53h0m0 726h0m1-779h0m0 0h0m1-45h0m1 274h0m4-43h0m4 618h0m1-63h0m0-93h0m1-60h0m0-246h0m1 430h0m2-106h0m0-436h0m1-224h0m1 673h0m1-822h0m0 243h0m1 67h0m0 512h0m3-739h0m0-36h0m1 944h0m1-916h0m0-44h0m0 193h0m2 214h0m1-257h0m0-46h0m0 146h0m1-141h0m1 704h0m1-695h0m0-16h0m0 960h0m1-807h0m1 504h0m1-71h0m0 191h0m0-769h0m0 126h0m3-71h0m0 532h0m0-406h0m0-187h0m1-5h0m2 707h0m1 30h0m0-840h0m2-15h0m1 707h0m1-519h0m0 547h0m1-294h0m2-111h0m2-161h0m6 611h0m1-554h0m0-236h0m0 770h0m1-594h0m1 621h0m1 75h0m3-78h0m5-20h0m0-671h0m1 636h0m0 104h0m1 178h0m5-536h0m0-487h0m2 897h0m2 23h0m1-674h0m2 512h0m0-678h0m0 721h0m1-73h0m1 33h0m0 42h0m1-841h0m0 759h0m0 9h0m0-536h0m0 25h0m0-39h0m0-175h0m0 193h0m0-33h0m1 663h0m0-624h0m0 533h0m0-721h0m1 869h0m0-549h0m1 513h0m0-625h0m1 18h0m0-10h0m0 50h0m1 408h0m0-640h0m1 844h0m2-748h0m0-175h0m2 357h0m0-298h0m2-54h0m2 982h0m1-864h0m4 158h0m1 480h0m0-366h0m0-82h0m1-266h0m0 214h0m1 693h0m0-714h0m1 606h0m0-20h0m0-611h0m1 718h0m0-36h0m0-119h0m1-636h0m0 780h0m3-623h0m0-107h0m1 835h0m1-696h0m0-134h0m2 603h0m1 14h0m5 120h0m1-478h0m2-289h0m0 611h0m1-740h0m0 151h0m1 690h0m0-462h0m1-137h0m0-238h0m1 226h0m1-143h0m0 750h0m1 183h0m1-276h0m1 115h0m0-616h0m1-213h0m0 802h0m1-482h0m0-169h0m1-8h0m2-33h0m1 588h0m1-563h0m1-92h0m3 649h0m1 96h0m2-608h0m1 66h0m0-80h0m3 47h0m0 783h0m1-249h0m2-6h0m1-722h0m0 913h0m0-65h0m1-633h0m1 91h0m3 567h0m0-169h0m2-764h0m1 787h0m1-44h0m0-497h0m0-12h0m1 499h0m1-449h0m1-112h0m3-46h0m1-154h0m0 65h0m1 699h0m1 273h0m2-254h0m0-552h0m0 18h0m1-110h0m0 213h0m0-188h0" stroke="#AA4682"/><path d="M522 1209h0m1-663h0m3 179h0m3 576h0m4-770h0m2 645h0m0-650h0m0 96h0m1 3h0m1-22h0m0 172h0m1-143h0m0 660h0m1-615h0m0 656h0m1-153h0m0-583h0m2 133h0m3-241h0m0 724h0m1-302h0m0-176h0m0-217h0m0 148h0m1 540h0m0-581h0m0 115h0m1-165h0m1-31h0m0 15h0m1 634h0m1-771h0m1 134h0m2 101h0m0-158h0m1-5h0m1 170h0m3-77h0m0 689h0m1-26h0m0-2h0m0 156h0m2-867h0m0-26h0m1 267h0m1 492h0m1-698h0m5 606h0m1 14h0m0-322h0m1 387h0m0-400h0m0-64h0m4 424h0m1-652h0m0 151h0m1-18h0m0 81h0m2 425h0m1-379h0m0-291h0m2 684h0m0-432h0m1 426h0m0-405h0m2-273h0m0 730h0m2 11h0m0-751h0m0 646h0m0-512h0m0 680h0m1-520h0m1-108h0m1 7h0m0 699h0m1-235h0m2-442h0m0 427h0m0-528h0m1 120h0m0-32h0m0-104h0m3 75h0m1 551h0m1-524h0m6-66h0m2-22h0m1-24h0m1 600h0m0-698h0m1 139h0m1 523h0m0-548h0m0-127h0m0 663h0m1-500h0m0-175h0m3 61h0m0 259h0m0-293h0m4 861h0m1-631h0m3-21h0m0-75h0m0 685h0m1 111h0m1-851h0m0-151h0m0 187h0m1-51h0m0-84h0m0-62h0m0 257h0m0 518h0m1-594h0m1 641h0m1 20h0m3-487h0m1 55h0m2-127h0m1 545h0m0-807h0m1 229h0m5 605h0m3-74h0m1 121h0m0 64h0m1-884h0m3 103h0m3-15h0m0-116h0m1 83h0m1-6h0m3 639h0m1-522h0m0 36h0m0-187h0m0 641h0m2-573h0m0 81h0m0 7h0m1 548h0m3-437h0m1-265h0m2 787h0m0-134h0m0-392h0m0 400h0m2 348h0m1-582h0m0 247h0m0-609h0m0-173h0m3 315h0m0-153h0m0 686h0m0-847h0m0 817h0m0-554h0m1 522h0m0-337h0m1 302h0m0-561h0m2-91h0m0 190h0m8-183h0m0 149h0m1 553h0m0-235h0m2 305h0m1-126h0m0 26h0m1-606h0m0-3h0m0-93h0m0 747h0m1 124h0m0-69h0m0-374h0m1 315h0m2-779h0m0 720h0m0-613h0m1 54h0m0 570h0m0-678h0m1 345h0m1-226h0m0 630h0m0-637h0m1-66h0m3 712h0m1-656h0m0 655h0m0-840h0m0 137h0m3 652h0m0-24h0m1-555h0m0 35h0m0 93h0m1-136h0m2 717h0m0-236h0m1 75h0m0-656h0m1-93h0m1 29h0m0 163h0m1 128h0m0-150h0m0-15h0m1 854h0m1-206h0m0-819h0m1 380h0m0 617h0m1-667h0m0-68h0m3 663h0m2-644h0m3-72h0m1 569h0m1-671h0m0 164h0m1 913h0m0-390h0m1 3h0m0-730h0m6 282h0m0-267h0m0 271h0m5 469h0m0-521h0m1 154h0m0-329h0m1-17h0m0 280h0m1-53h0m1-81h0m1 103h0m2 104h0m2-275h0m0-25h0m1-49h0m2 652h0m0 162h0m0-86h0m1-101h0m0-426h0m0-236h0m1-14h0m0 75h0m0 236h0m0 99h0m1 344h0m0-800h0m1 73h0m1 123h0m0 746h0m0-723h0m1 65h0m0 533h0m0-645h0m1 33h0m0-163h0m0 199h0m1 54h0m0-219h0m0 771h0m0-69h0m0-772h0m1 199h0m0 557h0m0 251h0m0-757h0m1-156h0m0-11h0m1 46h0m0 146h0m1-180h0m0 803h0m2-660h0m0 95h0m1 39h0m0 404h0m1-41h0m5-636h0m1 767h0m1-756h0m3-28h0m0 66h0m1 156h0m1-62h0m0 508h0m1-485h0m0 490h0m0 96h0m0-48h0m0-726h0m1 695h0m1-476h0m0 531h0m1-534h0m1-77h0m1-256h0m1 162h0m2 40h0m0-92h0m0 129h0m1 6h0m0 588h0m4-505h0m1 473h0m0-631h0m0 837h0m2-882h0m2 83h0m1-17h0m3-156h0m0 194h0m0 164h0m1 57h0m0-325h0m1 854h0m0-807h0m0 65h0m0 544h0m1 66h0m1-657h0m0 573h0m0-354h0m1-314h0m1 754h0m0-631h0m3-56h0m0 660h0m0-556h0m2 131h0m1-256h0m0 210h0m0-46h0m1 641h0m2-638h0m2 496h0m0 309h0m1-279h0m0-463h0m1 547h0m2-495h0m0-203h0m3-79h0m1 52h0m0-135h0m1 186h0m1 623h0m4-544h0m0-151h0m1 804h0m0-770h0m0 588h0m1-678h0m1 141h0m2 162h0m0-126h0m0 702h0m1 24h0m0-962h0m3 78h0m0 92h0m2-158h0m0 76h0m1 720h0m3 5h0m0-60h0m1-33h0m0 9h0" stroke="#AA4682"/><path d="M522 841h0m0 47h0m1-261h0m7-18h0m1-149h0m2 126h0m1 271h0m1-462h0m0-8h0m1 397h0m1-169h0m1-109h0m0 993h0m1-805h0m0 578h0m1-106h0m1-669h0m0 163h0m0-204h0m0 708h0m1-500h0m0-19h0m0 634h0m0-661h0m0 651h0m1-549h0m0-91h0m1 17h0m2 161h0m1-176h0m0 52h0m1 32h0m1 97h0m2-357h0m0 38h0m0 11h0m0 737h0m1-671h0m1 143h0m0-127h0m2 663h0m0-542h0m0 152h0m2-260h0m1 781h0m0-818h0m1 14h0m2 594h0m0-610h0m0-40h0m3 111h0m0-124h0m4 829h0m0-50h0m2-671h0m1-73h0m0 653h0m0-599h0m1 81h0m0-73h0m4 163h0m0 638h0m1-37h0m1-771h0m0 175h0m1 537h0m1-862h0m1 764h0m4-13h0m0 21h0m2 7h0m0-631h0m0 584h0m1-612h0m1 759h0m2-641h0m0-112h0m1 725h0m0-106h0m1 51h0m1 11h0m4-81h0m0-679h0m0 216h0m2 592h0m0-659h0m2 28h0m1-23h0m0 772h0m4-824h0m1 661h0m0-63h0m1-750h0m1 85h0m0-87h0m0-62h0m2 760h0m0-584h0m3 550h0m1 258h0m0-24h0m1-149h0m2-304h0m1 421h0m3-673h0m1 757h0m0 174h0m0-288h0m1 183h0m0-835h0m0 569h0m1-471h0m0-144h0m0 60h0m1 541h0m0 102h0m0-14h0m0-814h0m1 22h0m0 755h0m0-624h0m0-74h0m1 719h0m0 166h0m5-795h0m1 81h0m0 569h0m1-794h0m2 53h0m1 655h0m2-593h0m1 202h0m0-355h0m0 127h0m5-13h0m0-5h0m1 115h0m0 34h0m3 528h0m1-719h0m2 805h0m2-809h0m0 146h0m0-172h0m2 432h0m2-139h0m2-17h0m0 558h0m0-30h0m0 87h0m1 11h0m2-748h0m1-81h0m1 662h0m1-602h0m3 754h0m1-149h0m1-672h0m2 329h0m2 646h0m1-632h0m1 435h0m0-672h0m1 65h0m0-116h0m0 583h0m2-530h0m1-13h0m3 70h0m2-120h0m1 219h0m0-269h0m1 11h0m4 682h0m0-576h0m0 563h0m1-663h0m0 203h0m1 109h0m1-252h0m1-74h0m1 80h0m1 647h0m1-828h0m1 199h0m0 50h0m0 166h0m1-185h0m1 647h0m0-698h0m1 587h0m1-14h0m1 9h0m0-401h0m0-305h0m2 822h0m0-691h0m2-80h0m0 618h0m0-36h0m1-472h0m0 639h0m0-136h0m0-605h0m2 754h0m1-819h0m0 634h0m0-499h0m1 540h0m0 19h0m1-530h0m0-144h0m0-25h0m1 678h0m1 4h0m0-423h0m1-183h0m1-29h0m0 965h0m1-976h0m1 713h0m0-548h0m1-274h0m0 199h0m0 64h0m1 576h0m0 200h0m1-873h0m2-21h0m3 236h0m0 13h0m1-264h0m0 202h0m1 561h0m1-650h0m3 670h0m1-112h0m1 90h0m2 72h0m1-656h0m0 185h0m1-293h0m0 52h0m0 800h0m0-871h0m1 56h0m1-170h0m4 854h0m1-611h0m1 59h0m2-133h0m1-63h0m1 654h0m0-528h0m0 521h0m1-649h0m0-10h0m0-9h0m0 631h0m1 5h0m0-494h0m0-83h0m1 249h0m1-424h0m0 165h0m1 160h0m1-179h0m0 141h0m0 500h0m0-734h0m0 742h0m1 28h0m0-66h0m0 42h0m3-650h0m0 609h0m2-713h0m1-40h0m2 777h0m0 54h0m0-468h0m1 29h0m2 50h0m1 505h0m2-117h0m3-651h0m0 141h0m2-60h0m0-90h0m0-86h0m0 174h0m1-143h0m0 28h0m0-13h0m0 716h0m1-18h0m0-96h0m0-539h0m0 4h0m1 1h0m0 15h0m0 672h0m0-731h0m0 654h0m0-20h0m0 53h0m0-676h0m1-6h0m0 696h0m0-632h0m0-82h0m1 46h0m1 102h0m1-269h0m1 1056h0m1-218h0m0-39h0m1-801h0m2 97h0m1 76h0m2 1h0m1 666h0m3-633h0m1 125h0m0-114h0m1-111h0m0-60h0m1 195h0m0 521h0m1-483h0m1-289h0m1 763h0m0-489h0m1 484h0m1-484h0m0-153h0m1 85h0m0-14h0m0-36h0m0 91h0m2 580h0m0-701h0m0-77h0m0 55h0m1 642h0m1-602h0m1-139h0m2 232h0m2-128h0m1 70h0m1 72h0m2-45h0m0 79h0m0-199h0m1 115h0m1-127h0m0 66h0m1-32h0m0 114h0m1 540h0m2 49h0m1-630h0m2 661h0m1-876h0m1 305h0m0-241h0m1 93h0m0 39h0m0 40h0m1 516h0m1-524h0m0-223h0m1 922h0m2-163h0m2-480h0m2-172h0m1-5h0m1 215h0m0-148h0m1 95h0m1 9h0m1-183h0m0-16h0m2 28h0m2-15h0m1-64h0m0 200h0" stroke="#AA4682"/><path d="M526 596h0m4 650h0m2-693h0m0-32h0m1 197h0m0-42h0m1-107h0m0 862h0m1-941h0m1 816h0m0-750h0m0 80h0m2 32h0m2-91h0m0 28h0m1-99h0m0 779h0m0-549h0m1 457h0m0 14h0m1-624h0m0 736h0m1-793h0m1 1036h0m1-996h0m1-131h0m0 474h0m2-412h0m0 13h0m2 71h0m0 128h0m1-248h0m0 463h0m0-385h0m0 771h0m2-746h0m1 587h0m1 119h0m0-561h0m0 557h0m0-77h0m2-506h0m0-253h0m1 118h0m3 110h0m1 520h0m0-474h0m0 619h0m0-675h0m1-236h0m5 136h0m1 676h0m1-634h0m0 50h0m3-193h0m1 205h0m1-142h0m0 909h0m1-751h0m1 42h0m0-129h0m0 620h0m1 6h0m1-11h0m3-552h0m1 540h0m0 94h0m1-704h0m1 934h0m2-975h0m0 104h0m1-36h0m0 43h0m2-114h0m0 680h0m0-667h0m1 666h0m1-516h0m0-153h0m1 622h0m0-395h0m0 539h0m0-128h0m0-343h0m0 354h0m1 122h0m1-659h0m2 731h0m0-814h0m1-127h0m1 249h0m1-61h0m1 625h0m0 152h0m0-639h0m3 10h0m0-139h0m1 567h0m3-31h0m1 15h0m0 39h0m0-511h0m0-268h0m1 717h0m0-642h0m0-101h0m0 917h0m1-152h0m0-708h0m0 296h0m4 465h0m0-69h0m0-728h0m2 779h0m0-446h0m4-155h0m1 729h0m1-44h0m0-492h0m0 24h0m0-326h0m0 343h0m1 366h0m0-5h0m1-596h0m0-4h0m1 121h0m0-150h0m1-18h0m0-86h0m1 171h0m4 649h0m1-98h0m1-470h0m3 151h0m0-125h0m1-104h0m1 867h0m0-890h0m0 160h0m1-277h0m0 893h0m1-643h0m0-85h0m3-35h0m2 563h0m2-483h0m1-115h0m0 234h0m1-284h0m0 798h0m0-124h0m1-595h0m2 14h0m1 18h0m1 50h0m0-227h0m3-65h0m0 245h0m0-125h0m1 52h0m0-139h0m2 898h0m0-154h0m1-710h0m4 65h0m0 632h0m4 156h0m0-91h0m0 153h0m1-165h0m0 11h0m0 149h0m0-177h0m1-532h0m0 59h0m2-53h0m0 677h0m0-196h0m1-558h0m0-137h0m0 324h0m1 548h0m1-871h0m0 257h0m0 536h0m4-669h0m3 558h0m1-521h0m1 550h0m0-720h0m1 167h0m3 706h0m0-780h0m1 28h0m1-67h0m0 739h0m0-755h0m1 706h0m1-581h0m1-83h0m0 657h0m0-414h0m1 560h0m0-74h0m0-474h0m1-55h0m1-219h0m0 617h0m1-510h0m0 620h0m1-613h0m1-178h0m4 773h0m2 3h0m1-545h0m3-23h0m2-181h0m0 134h0m1 52h0m0-122h0m1 579h0m0-447h0m1 578h0m1-748h0m1 69h0m1-49h0m1 271h0m0 500h0m4-818h0m1 207h0m1-221h0m1 845h0m2-664h0m1-119h0m0 671h0m2-731h0m1 752h0m0-673h0m0 62h0m1 742h0m1-105h0m0-699h0m1 97h0m1 559h0m0-645h0m2 763h0m2-678h0m0 94h0m2-135h0m0-121h0m0 762h0m1-102h0m0-557h0m1 815h0m4-730h0m1-9h0m1 526h0m0-685h0m0 271h0m1-126h0m0 588h0m0-75h0m2-513h0m1-85h0m0 43h0m0 63h0m0 110h0m1-88h0m0 817h0m0-906h0m0-109h0m1 720h0m0-613h0m1 77h0m0 135h0m0-302h0m1 229h0m0-136h0m1 239h0m0-255h0m1-79h0m0 56h0m1 11h0m0 638h0m3-555h0m0-128h0m0 637h0m2 0h0m1-464h0m1-203h0m1 739h0m3 167h0m7-695h0m1 490h0m0-583h0m0 29h0m0-110h0m1 65h0m0 154h0m0-168h0m1 51h0m0 206h0m0-341h0m1 47h0m1 110h0m1-25h0m0-150h0m1 899h0m2-204h0m1-597h0m0-11h0m1 140h0m1-191h0m0 31h0m1 837h0m1-147h0m5-95h0m0-443h0m0 484h0m0 16h0m2-662h0m2 201h0m1 470h0m1-689h0m0 726h0m0-700h0m2 736h0m1 4h0m2-81h0m0-521h0m1 196h0m1-224h0m0-180h0m1 719h0m1-13h0m0-647h0m0 72h0m1 599h0m0 77h0m1-74h0m1-704h0m1 344h0m2-378h0m1 731h0m1 117h0m1-860h0m0 713h0m2-508h0m0 522h0m0-56h0m1-642h0m2 36h0m0 30h0m2 734h0m1-79h0m0-593h0m1 108h0m0 96h0m1-51h0m0-208h0m3 585h0m0 237h0m2-933h0m1 907h0m1-909h0m0-23h0m2 769h0m1 86h0m1-860h0m0 724h0m3-633h0m2 651h0" stroke="#AA4682"/><path d="M861 970h0m4 324h0m7 8h0m1-371h0m6 332h0m0 156h0m4-81h0m1 79h0m1-36h0m1-64h0m1-345h0m1 412h0m1-401h0m0-22h0m1-12h0m1-23h0m0 328h0m1 83h0m1-354h0m2 375h0m3-68h0m1-264h0m2 238h0m0 113h0m1-477h0m3 473h0m0-404h0m0 394h0m1-50h0m1-46h0m1-7h0m0 42h0m1-15h0m0-56h0m2 121h0m0-79h0m0 86h0m2-532h0m3 138h0m0-29h0m4 46h0m6 340h0m2-9h0m0-297h0m1-62h0m1-56h0m4 392h0m3 47h0m4 85h0m1-110h0m2-425h0m8 400h0m0-300h0m1-57h0m0 389h0m1 72h0m1-434h0m1 461h0m1-473h0m1 47h0m0-10h0m0 304h0m2 45h0m4-336h0m1 295h0m0-23h0m4 30h0m1-338h0m1 0h0m9-23h0m1-25h0m3 329h0m2 36h0m2 37h0m0-31h0m13-255h0m1 332h0m5 64h0m1-135h0m0 22h0m1-331h0m6 326h0m3 131h0m2-447h0m4 344h0m1 23h0m1-38h0m12 139h0m0-149h0m1-482h0m2 136h0m5 351h0m0-330h0m3 309h0m2-317h0m0-151h0m1 443h0m3 125h0m3-396h0m4 9h0m0 397h0m1-560h0m2 478h0m1-11h0m0-45h0m2-306h0m7 382h0m2 38h0m2-372h0m1-64h0m5 86h0m3-168h0m2 431h0m0-29h0m3-307h0m1 16h0m1 434h0m0-28h0m0-110h0m0-321h0m0 413h0m1-10h0m1-30h0m1-402h0m1 540h0m0-131h0m1 72h0m2-455h0m0 363h0m1 33h0m1-52h0m1-335h0m0 467h0m0-6h0m0-415h0m1 322h0m9-10h0m2-15h0m1-307h0m3 338h0m4 12h0m1 55h0m1-594h0m1 566h0m2-446h0m1 20h0m0 338h0m2 96h0m1-405h0m2 345h0m0 40h0m2 14h0m1-73h0m1-295h0m2 7h0m1 340h0m2-414h0m1-56h0m9 595h0m1-182h0m2 5h0m3-336h0m1 361h0m0-381h0m4 51h0m2 336h0m5 15h0m6-340h0m4-75h0m6-68h0m1 72h0m5-81h0m6 411h0m0-317h0m2-18h0m1 320h0m1 69h0m1-22h0m1-307h0m1-97h0m1 94h0m4 305h0" stroke="#4A8CB2"/><path d="M860 972h0m2 408h0m3-33h0m1-392h0m1 444h0m2-127h0m0-262h0m1 381h0m3-556h0m1 100h0m1 380h0m1-27h0m4-314h0m3 335h0m1 10h0m1-385h0m1-53h0m3 514h0m2-487h0m0 51h0m1 438h0m2-132h0m2 53h0m0-330h0m1 333h0m0-43h0m1 31h0m0 128h0m10-83h0m2-311h0m1 235h0m0 123h0m2-137h0m7-312h0m3 12h0m1-24h0m5 332h0m4 84h0m4-98h0m2 15h0m2-6h0m0-259h0m3 315h0m0-461h0m3 103h0m1 25h0m2-79h0m0 392h0m1-347h0m4 314h0m0 27h0m0-20h0m1-7h0m1-319h0m1 431h0m1-385h0m0 254h0m1-274h0m1 272h0m2 13h0m11 1h0m2-7h0m4 48h0m0 24h0m6-349h0m2 267h0m3 55h0m1 18h0m3 0h0m2-384h0m4 61h0m0 339h0m0-323h0m5 421h0m0-182h0m1-257h0m1 284h0m0-416h0m0 100h0m1 484h0m1-101h0m1-343h0m1 332h0m3 92h0m1-478h0m3 353h0m1-304h0m0 278h0m0-21h0m5 8h0m1 87h0m0-384h0m1 29h0m0-118h0m1 110h0m2 288h0m4-443h0m8 135h0m3 37h0m1-89h0m1 462h0m3-415h0m3 300h0m1-287h0m2 315h0m2-442h0m8 567h0m2-90h0m4-27h0m3-371h0m1 356h0m4-269h0m0 332h0m1-57h0m0-305h0m0 351h0m1-332h0m3 468h0m0-507h0m2 453h0m0-104h0m1-306h0m1 11h0m1 249h0m0-303h0m0 453h0m2-90h0m4 35h0m0-69h0m1-325h0m0-190h0m0 219h0m0 5h0m1-21h0m5-10h0m2 378h0m1-379h0m1-37h0m3 331h0m1 112h0m0-450h0m1 65h0m2 376h0m0-3h0m2-387h0m0 333h0m1-423h0m1 124h0m0 267h0m0-311h0m1 380h0m0-68h0m1-330h0m0 383h0m1-334h0m0-88h0m7 74h0m4 407h0m1 5h0m0-402h0m9-3h0m0 328h0m3-316h0m0 255h0m2-289h0m8 12h0m0 346h0m1-47h0m1-6h0m2-14h0m1 76h0m6-429h0m0 520h0m23-461h0m2-8h0m1 440h0m3-160h0m0 85h0m0 67h0m2-532h0m1 498h0m0-109h0m1-291h0m0-8h0m1 279h0m2-262h0m0 325h0m0-34h0m2-287h0m2 248h0m0-320h0m3 420h0m0-316h0m1 406h0m3-59h0" stroke="#4A8CB2"/><path d="M857 991h0m0 295h0m2-12h0m1 65h0m0-43h0m2 21h0m1-72h0m2-288h0m5 47h0m0 303h0m1-307h0m1 290h0m0-8h0m2-5h0m0-37h0m1-356h0m5 108h0m2-68h0m1 318h0m2 149h0m0-404h0m3-9h0m0 328h0m2-362h0m2 329h0m0-410h0m1 483h0m2-334h0m2-51h0m0 332h0m0 5h0m3-350h0m1 335h0m2 155h0m1-27h0m2-439h0m4 271h0m1 46h0m1-61h0m2-278h0m7 361h0m1-33h0m3-252h0m1-69h0m0 357h0m2 27h0m2 35h0m1-377h0m1 316h0m0-327h0m4-20h0m5-41h0m2 61h0m0 263h0m3 45h0m1 7h0m0-330h0m1 361h0m0-40h0m1-45h0m6-288h0m3 362h0m1-364h0m0 305h0m2-269h0m1 260h0m2 22h0m1-270h0m1 271h0m0 64h0m6-125h0m0-343h0m1 28h0m0 28h0m0-44h0m1-79h0m1 159h0m1-103h0m2 410h0m0-353h0m2 336h0m1-339h0m0-40h0m0 70h0m2 311h0m0 70h0m1-371h0m3 369h0m2-92h0m1-250h0m1 364h0m8-386h0m1 5h0m1 480h0m1-488h0m2 367h0m0 78h0m1-596h0m0 134h0m0 445h0m2-461h0m3 390h0m4-333h0m0 357h0m0-40h0m7 53h0m1-372h0m1 394h0m2-81h0m1-29h0m4-268h0m0-14h0m1-21h0m0 329h0m5-331h0m3-179h0m3 521h0m4-40h0m2 43h0m3-395h0m2 452h0m1-122h0m0 75h0m5-356h0m0-44h0m3 443h0m1-351h0m2-95h0m4 42h0m0-61h0m8 408h0m2 10h0m0-334h0m1-67h0m2 21h0m0-38h0m7 440h0m4 49h0m1-576h0m1 169h0m0 334h0m0-438h0m0 113h0m0-87h0m2 474h0m1-546h0m5 443h0m3 11h0m0 217h0m2-165h0m1-11h0m1 98h0m1-514h0m0 455h0m2-396h0m1 450h0m0-106h0m1 22h0m1-61h0m1 62h0m0-397h0m1 71h0m1 281h0m0 144h0m1-440h0m2 354h0m1-402h0m2 21h0m3 21h0m0-41h0m2 32h0m1-45h0m1 401h0m1-20h0m1 36h0m1 17h0m20 24h0m1-63h0m2 78h0m2-402h0m0-39h0m0-35h0m4 18h0m4 353h0m1-330h0m2 315h0m1 22h0m4-2h0m0-324h0m1-50h0m7-43h0m5 380h0m0 13h0m0 3h0m2 88h0m0-388h0m4-2h0m0-10h0m0 300h0m1-40h0m7 94h0m1-368h0m0 341h0m0-49h0m1-275h0m1 295h0m0-310h0m2-72h0m4 439h0m1-32h0m0 58h0" stroke="#4A8CB2"/><path d="M857 974h0m0 271h0m2-259h0m3 22h0m1 4h0m1 258h0m6-278h0m0 376h0m4-395h0m5 13h0m1 365h0m6 99h0m1-539h0m1 386h0m0 70h0m0-417h0m5 431h0m5-379h0m1 254h0m0-239h0m0-7h0m2-53h0m10 18h0m4 15h0m2-27h0m6-89h0m5 103h0m1 291h0m2 11h0m3 35h0m2 120h0m5-173h0m3-290h0m0-14h0m2-85h0m2 434h0m5-46h0m0 97h0m2-418h0m2-82h0m0-42h0m3 493h0m1-490h0m0 448h0m4 106h0m5-400h0m1 342h0m1-305h0m2-28h0m3-102h0m5-30h0m9 414h0m2 44h0m0-335h0m4 31h0m1 320h0m1 73h0m2-46h0m2-45h0m3-340h0m1-67h0m4 470h0m6-115h0m4-285h0m1 405h0m1-368h0m0 265h0m0-280h0m0-68h0m5 378h0m0 61h0m2 5h0m1-392h0m2-96h0m2 95h0m1 12h0m8-17h0m2-118h0m1 381h0m4-242h0m2 266h0m6-3h0m5-289h0m0 305h0m3-352h0m2 15h0m1 358h0m1-18h0m4 109h0m2-499h0m2 416h0m0-352h0m0 536h0m1-451h0m1 404h0m1-434h0m2 375h0m1-97h0m2-291h0m0-79h0m1 86h0m1 299h0m3 160h0m1-579h0m1 81h0m1 377h0m2-374h0m0 365h0m1-35h0m1 12h0m2-387h0m1 25h0m1 35h0m1-63h0m0 376h0m1 67h0m1-364h0m0-139h0m0 600h0m2-662h0m7 180h0m1 292h0m0 12h0m2 143h0m1-129h0m1 145h0m0-66h0m1-594h0m3 139h0m1 322h0m3-266h0m3 327h0m1-20h0m0 10h0m1 46h0m2-303h0m3 264h0m3-281h0m0 354h0m1-56h0m0-283h0m3-36h0m2 297h0m2-281h0m4-28h0m4-102h0m2 115h0m1 277h0m0-259h0m1 446h0m0-65h0m5-79h0m11-36h0m4-305h0m0-41h0m1 63h0m4 0h0m2-47h0m4 461h0m6-10h0m1-65h0m0-414h0m2 417h0m1-102h0m1 31h0m1 94h0m0-406h0m0 34h0m1-44h0m0 298h0m2-427h0m0 151h0m1 10h0m2 20h0m1-117h0m1 434h0m1 147h0" stroke="#4A8CB2"/><path d="M861 841h0m0 122h0m1-41h0m1 345h0m0 37h0m0-377h0m3 363h0m3 46h0m0-50h0m2 28h0m3 65h0m0-33h0m6 43h0m1-436h0m2-9h0m1 367h0m2-412h0m1 382h0m0-326h0m1-172h0m0 547h0m1-67h0m4 165h0m0-493h0m0 32h0m0 37h0m1-52h0m1 22h0m0 308h0m0 44h0m3-447h0m2 155h0m3 280h0m1-313h0m1-109h0m0 109h0m1 462h0m0-144h0m1-51h0m1-242h0m1 293h0m0 46h0m2 17h0m2-462h0m5 309h0m8-219h0m5 323h0m2 10h0m7-362h0m1-65h0m4 327h0m4 6h0m2 64h0m3 60h0m0-430h0m0-10h0m1 373h0m1-50h0m1-281h0m7 21h0m0-7h0m0 377h0m1-458h0m1 383h0m0-10h0m3-409h0m1 421h0m2 41h0m1-413h0m1 13h0m2-169h0m0 522h0m1-46h0m0-363h0m1 25h0m5 26h0m0 20h0m2-33h0m0 27h0m2 313h0m2-251h0m2 303h0m0 63h0m5-447h0m1 75h0m0-7h0m6 293h0m1-25h0m0 21h0m4 13h0m0 54h0m7-64h0m2 24h0m3 108h0m1-447h0m1 22h0m2 338h0m1 72h0m2-433h0m1 7h0m1 306h0m2 30h0m0 80h0m1-520h0m0 102h0m6 371h0m4-27h0m1-62h0m1-260h0m4 3h0m8 303h0m6-360h0m3 479h0m3-140h0m3-32h0m0-334h0m5 67h0m0-83h0m2 93h0m1-4h0m1-28h0m1 483h0m0-513h0m1 367h0m0 5h0m1-307h0m1 5h0m2 307h0m2-389h0m6 421h0m1-20h0m0-354h0m1 26h0m0-18h0m0-34h0m1 416h0m1-425h0m2 428h0m2-28h0m0-38h0m0-325h0m1 305h0m1 162h0m1-451h0m1 281h0m0 20h0m0 198h0m1-89h0m1-89h0m1-5h0m0 36h0m0-418h0m2 573h0m1-95h0m1-418h0m2 341h0m0-455h0m2 51h0m0 408h0m2 15h0m0-498h0m1 455h0m0 82h0m1-73h0m3-391h0m3 64h0m0 453h0m1-26h0m1-447h0m1-24h0m0 46h0m6 499h0m1-506h0m1 44h0m4-126h0m1 23h0m11 402h0m3-30h0m2-356h0m0 493h0m3-422h0m2 346h0m2-19h0m6-394h0m1 24h0m1 361h0m4-51h0m8 102h0m1-106h0m3 103h0m1-102h0m2-15h0m2-294h0m4-35h0m2 479h0m1-536h0m1 153h0m1 217h0m0 67h0m2-372h0m0 434h0m0 10h0m1-419h0m0-7h0m4 51h0m2 342h0" stroke="#4A8CB2"/><path d="M857 919h0m0 400h0m2-7h0m1-3h0m1-28h0m0-265h0m1-43h0m0 382h0m0-93h0m0-264h0m2-7h0m7-35h0m0 341h0m1-279h0m2-73h0m4-153h0m0 480h0m3 95h0m0-48h0m1-25h0m3-17h0m0 15h0m2-23h0m3 133h0m2-124h0m1-315h0m1 78h0m0-118h0m1-11h0m2-6h0m2 34h0m0 81h0m7 279h0m2-321h0m1-136h0m1 62h0m0 26h0m2 352h0m0-344h0m0 352h0m10-401h0m1 520h0m0-114h0m1-384h0m0 79h0m1 303h0m2-299h0m1-59h0m0 351h0m1 81h0m0-361h0m3-52h0m1-15h0m0-9h0m1 498h0m2-166h0m0 118h0m1-363h0m3 253h0m3 38h0m0-33h0m1-313h0m3-18h0m4 415h0m2-398h0m4 40h0m0 234h0m0-257h0m1 4h0m2 317h0m3 110h0m1-408h0m0 317h0m1-46h0m4-308h0m5 305h0m0-442h0m0 421h0m2 26h0m1 68h0m1-418h0m1 358h0m1-431h0m6 536h0m1-467h0m1 66h0m1 9h0m0 376h0m3-596h0m1 135h0m0 377h0m5-353h0m5 5h0m2 332h0m0-274h0m3-10h0m0 320h0m4-19h0m4-30h0m0 59h0m1-76h0m4 47h0m1-264h0m0 240h0m0 97h0m0-391h0m2-118h0m4 153h0m0 16h0m5-13h0m1 288h0m14-303h0m2-63h0m4 491h0m0-37h0m2-433h0m1 327h0m4-312h0m6 396h0m1-72h0m1 99h0m0-72h0m4-288h0m0-48h0m3-73h0m1 367h0m1 48h0m0-371h0m2 27h0m2 345h0m1 23h0m1-54h0m1-285h0m1 388h0m0-140h0m2-278h0m1 294h0m7 45h0m1-477h0m1 463h0m4 99h0m2-465h0m0-103h0m0 554h0m1-439h0m0-32h0m2 436h0m2-380h0m0-146h0m0 68h0m0 41h0m6 3h0m2-4h0m1 47h0m0 427h0m0-493h0m0-117h0m1 171h0m0-120h0m0 453h0m1 7h0m0-347h0m6 261h0m0-294h0m3 4h0m3 430h0m3-65h0m0-377h0m2 405h0m1 73h0m2-100h0m3 0h0m0 31h0m0-44h0m2 51h0m2-87h0m4 54h0m2-267h0m1-23h0m2-49h0m2 295h0m1-252h0m0-39h0m0 7h0m4 284h0m1-262h0m8-78h0m4 369h0m1-442h0m1 459h0m6 138h0m3-126h0m1-77h0m7 31h0m1-330h0m0 44h0m1-23h0m1 353h0m2-353h0m0 44h0m1-104h0m2 398h0m0-25h0m1-56h0m0-232h0m3-72h0m4 21h0m2 338h0" stroke="#4A8CB2"/><path d="M859 1260h0m1 51h0m1-414h0m0 382h0m0-277h0m8 359h0m0 43h0m1-436h0m1 12h0m2-92h0m2 422h0m3-344h0m2 365h0m4 94h0m1-446h0m2 303h0m7 17h0m2-396h0m1 367h0m0-291h0m0-12h0m1 429h0m3-125h0m1-264h0m1-21h0m1-32h0m1-12h0m1 44h0m0 343h0m0-35h0m2 47h0m0-343h0m0-141h0m2 401h0m2 80h0m0 33h0m2-413h0m9 344h0m3-287h0m1-39h0m1-100h0m1 33h0m2 372h0m6 39h0m3-40h0m3-342h0m3 348h0m1-302h0m10 357h0m1-375h0m0-77h0m4 400h0m4 6h0m2-310h0m2-37h0m3 335h0m1 92h0m1-427h0m1 348h0m0 58h0m1-53h0m1-383h0m1 45h0m2-72h0m1 596h0m2-681h0m3 468h0m1 22h0m0-399h0m2 91h0m8 384h0m0-514h0m1 456h0m1-36h0m1-306h0m1 451h0m1-447h0m0-85h0m3 491h0m2-528h0m2 442h0m1-298h0m1-11h0m0-199h0m2 500h0m1-324h0m2 325h0m2-272h0m0-58h0m0 49h0m1-44h0m3-10h0m3 319h0m0-337h0m0 376h0m0 11h0m2-47h0m1-273h0m2 248h0m0-294h0m11-134h0m1 133h0m1 380h0m1-67h0m1 9h0m2 23h0m2-19h0m3-14h0m0 49h0m7-3h0m1 17h0m2-364h0m4 14h0m1 314h0m0 85h0m2-71h0m0-314h0m2 233h0m0-373h0m6 462h0m1-51h0m0 23h0m3-273h0m4 373h0m6-107h0m1 1h0m0-366h0m1 389h0m0-364h0m1-36h0m0 487h0m1 49h0m0-480h0m0 333h0m1 123h0m0-34h0m0 24h0m0-68h0m2-439h0m1 93h0m3 328h0m0 22h0m1-380h0m2 326h0m7-18h0m0 22h0m1-11h0m2-417h0m1 74h0m0 348h0m1 69h0m0-16h0m0-349h0m0-14h0m0 418h0m1-500h0m2 56h0m1 324h0m1 131h0m0-396h0m3-189h0m0 124h0m3 4h0m1 305h0m0 34h0m1-28h0m3-309h0m6 363h0m2-350h0m0 65h0m1-91h0m2 433h0m1-379h0m1-10h0m5 382h0m1-338h0m4 281h0m2 142h0m1-135h0m0-379h0m1 405h0m1-54h0m0-325h0m1 373h0m4-367h0m1-60h0m2 378h0m7-298h0m0-76h0m2 58h0m5-14h0m4 41h0m3 309h0m1 104h0m3-153h0m1-329h0m2 376h0m4-21h0m1-289h0m1-79h0m1 80h0m2 327h0m0-54h0m1-24h0" stroke="#4A8CB2"/><path d="M857 924h0m4 346h0m7 52h0m2-300h0m1 313h0m7-387h0m0 14h0m1 334h0m1 6h0m0-380h0m0 428h0m1-409h0m0 339h0m2 70h0m0-98h0m1-280h0m1-41h0m2 455h0m0-64h0m1-19h0m1 39h0m0-15h0m1-37h0m1-321h0m3 489h0m1-176h0m2 74h0m0-409h0m0 390h0m1-338h0m0 304h0m0 146h0m2-116h0m1 4h0m6-324h0m2 317h0m1-364h0m0 25h0m5 357h0m6-49h0m2 84h0m2-438h0m2 337h0m1 197h0m3-153h0m5-363h0m3-8h0m3 36h0m0 303h0m0-291h0m4-27h0m9 329h0m1-431h0m2 399h0m0-341h0m1 379h0m2 63h0m2-403h0m2 459h0m7-46h0m1-477h0m1 30h0m8 24h0m3 357h0m0 106h0m1-170h0m0-406h0m2 42h0m0-20h0m2 452h0m2 111h0m1-630h0m6 94h0m1 479h0m2-79h0m4-376h0m1 396h0m1-335h0m1-3h0m0-18h0m1 307h0m3-264h0m0 255h0m2 8h0m3 24h0m2 55h0m1-47h0m2 20h0m1-9h0m1-366h0m1 354h0m1-411h0m2 401h0m2-334h0m2 322h0m2-6h0m7-292h0m3 303h0m1-320h0m0 412h0m1-83h0m4-313h0m2 330h0m4-318h0m1 282h0m6-11h0m2-269h0m2 15h0m1-18h0m1 291h0m0-303h0m3 376h0m1-462h0m3 405h0m1 11h0m0-427h0m2 449h0m2-10h0m4 55h0m1-85h0m0-313h0m1 348h0m2-438h0m1 95h0m1 15h0m2 308h0m0 62h0m0-376h0m2-4h0m1 25h0m0 300h0m2-316h0m2 316h0m1-415h0m1 462h0m0-399h0m0 17h0m1 31h0m0 393h0m0-103h0m1-414h0m0-52h0m1 451h0m1 96h0m0-489h0m1 368h0m2 130h0m1-62h0m2-310h0m2 387h0m1-429h0m2 28h0m1-158h0m1 116h0m0 348h0m2-299h0m1 23h0m2-106h0m3 431h0m1 29h0m2-86h0m2 155h0m0-436h0m7 351h0m1-394h0m1 357h0m0-19h0m0-417h0m3 101h0m6 366h0m0-332h0m1-131h0m4 466h0m0-70h0m2-52h0m2-388h0m0 448h0m1-7h0m1-354h0m2-82h0m3 142h0m1 344h0m0-337h0m4-89h0m2 50h0m3 358h0m4 53h0m4-145h0m0 53h0m1 46h0m2-404h0m4 296h0m0-316h0m1 75h0m5-9h0m0 6h0m1-25h0m2 286h0m0 36h0m2-303h0m3 296h0m5 172h0m0-140h0m2-327h0m0 23h0" stroke="#4A8CB2"/><path d="M1219 955h0m2 528h0m0-105h0m0-64h0m1 37h0m1-515h0m4 118h0m0 300h0m3-314h0m9 377h0m0-344h0m2 335h0m4-55h0m4 55h0m9-374h0m0 324h0m6-359h0m6-6h0m1 371h0m1-305h0m1-93h0m1 21h0m3 457h0m1-58h0m4 12h0m11-450h0m1 50h0m1-16h0m4-86h0m0 489h0m2-451h0m2 457h0m0-349h0m1 317h0m4-345h0m1 14h0m1 31h0m6 289h0m2-340h0m4 483h0m0-459h0m5 458h0m2-71h0m2-46h0m0-339h0m1-29h0m3 33h0m2 350h0m2 13h0m2 33h0m9-381h0m0 379h0m7-469h0m1 457h0m2-350h0m4 379h0m4-413h0m0 341h0" stroke="#1EB4F0"/><path d="M1217 1293h0m1-405h0m1-25h0m0 4h0m4 418h0m1-330h0m3-33h0m1 335h0m3 75h0m5-75h0m1 18h0m2-324h0m2 300h0m1-16h0m4 80h0m18-361h0m2 12h0m4-135h0m1 43h0m5-6h0m1 431h0m2 40h0m1-380h0m4 343h0m7 87h0m1-430h0m0-98h0m4 412h0m0 94h0m0-487h0m0 407h0m1-404h0m0 40h0m1 309h0m1-312h0m12-64h0m1 476h0m3-397h0m7 436h0m14-460h0m1 337h0m3 46h0m1-50h0m2-400h0m2 88h0m0 2h0m5-52h0m1-44h0m1 8h0m1 451h0m1 14h0m2-404h0m3 452h0m1-98h0m0-377h0m1-47h0m2 555h0m0-585h0m1 101h0m0-81h0m2 95h0m0-87h0" stroke="#1EB4F0"/><path d="M1222 1337h0m1-390h0m0 325h0m1 19h0m7-24h0m2-17h0m0 99h0m7-403h0m0-63h0m8 49h0m1-63h0m0 472h0m5-376h0m0-10h0m5-135h0m6 120h0m1-29h0m0 459h0m2-486h0m0 86h0m1-28h0m1 422h0m0-450h0m1 501h0m0-99h0m0-39h0m1 7h0m1-359h0m0 321h0m0 22h0m1-344h0m1 528h0m3-82h0m5-29h0m2-356h0m2 350h0m3-71h0m3 48h0m0-394h0m1 408h0m0 81h0m0-165h0m0 56h0m3-386h0m0 348h0m1 85h0m0-21h0m1-70h0m0-351h0m3 357h0m0-410h0m15 409h0m4-375h0m8-29h0m2 391h0m1-330h0m1 364h0m1 22h0m0-33h0m1-343h0m0-15h0m3 328h0m1 30h0m2-12h0m2-343h0m2 352h0m1-356h0m1 40h0m1 354h0m2-347h0m2-44h0m1 482h0m2-60h0m3-369h0m3-68h0m0 419h0m2-29h0m2-425h0m1 66h0m1 312h0m1-324h0" stroke="#1EB4F0"/><path d="M1220 1475h0m5-49h0m1-82h0m0-477h0m1 71h0m8 12h0m4 8h0m12 319h0m20-24h0m0 45h0m1 3h0m4-17h0m1-347h0m7-56h0m5 564h0m4-176h0m4 50h0m2-391h0m3 17h0m2-80h0m12 497h0m0-418h0m3 348h0m8-362h0m3 507h0m1-556h0m1-40h0m6 413h0m1 128h0m1-59h0m3 81h0m5-126h0m0 4h0m0-363h0m1 8h0m1 478h0m0-100h0m1-360h0m1 394h0m1-363h0m5-131h0m0 454h0m1-386h0m6 376h0m3 109h0" stroke="#1EB4F0"/><path d="M1217 884h0m5 450h0m2-360h0m4 284h0m1-337h0m3 450h0m1-88h0m2-399h0m7 21h0m8 362h0m17-348h0m3-30h0m0 65h0m2 335h0m1-29h0m4 52h0m2-331h0m6 329h0m1-344h0m0 452h0m3-504h0m2 28h0m1 2h0m2 31h0m0 298h0m3 31h0m0 27h0m2-395h0m0 367h0m2-53h0m8-291h0m7 280h0m4-285h0m1 283h0m1-278h0m3 299h0m0-310h0m3 474h0m1-517h0m2 364h0m2 62h0m2-397h0m0-18h0m1 356h0m2 1h0m6-310h0m1 354h0m0-46h0m3-365h0m0-4h0m1 527h0m0-118h0m6-362h0m1 328h0m7-420h0m1 24h0m3 403h0" stroke="#1EB4F0"/><path d="M1217 913h0m5 30h0m10 332h0m0-446h0m1 420h0m6-309h0m6 3h0m0 35h0m0 0h0m2-25h0m3-44h0m0 390h0m8-34h0m5 18h0m1-404h0m4 592h0m4-155h0m0-453h0m0-25h0m1 482h0m0-373h0m2 48h0m2 310h0m2-351h0m1 329h0m3 34h0m2-47h0m5 5h0m1-377h0m2 7h0m2 442h0m2-20h0m1-68h0m0 21h0m1-347h0m1 372h0m8-455h0m0-4h0m0 32h0m3 86h0m1 343h0m2-56h0m1-348h0m0 438h0m6-41h0m1-356h0m4 21h0m4-68h0m1 16h0m1 346h0m0-350h0m1 348h0m1-422h0m3 53h0m2 409h0m0-359h0m1-35h0m8 421h0m7-398h0m0 379h0m1-459h0m6 482h0m4-457h0m1 431h0m1-451h0" stroke="#1EB4F0"/><path d="M1217 852h0m0 112h0m5-9h0m1 28h0m8-54h0m3 7h0m1 363h0m5 21h0m2-345h0m2-45h0m1 370h0m1-36h0m2 25h0m0-447h0m6 482h0m0-387h0m4 41h0m8-23h0m0-131h0m3 95h0m1 437h0m0 45h0m1-510h0m2 424h0m0-351h0m3 329h0m6-396h0m6 53h0m4-2h0m0-106h0m2 51h0m4 400h0m2-38h0m2-293h0m4-37h0m5-56h0m0 402h0m1 94h0m5-406h0m7-114h0m1 420h0m1 21h0m0-452h0m4 33h0m1 69h0m0 407h0m0-389h0m2-38h0m1 338h0m1 191h0m0-505h0m2-18h0m1 359h0m3 77h0m3-116h0m4-1h0m4-401h0m3 94h0m2 339h0m1-436h0m1 35h0m1 470h0m5-37h0m2-11h0m1-348h0" stroke="#1EB4F0"/><path d="M1217 1267h0m0 72h0m4-424h0m1 17h0m1-17h0m6 42h0m2-46h0m3-94h0m4 513h0m2 99h0m9-473h0m1 335h0m2 16h0m19-408h0m0 374h0m0-338h0m2 355h0m0-411h0m0-39h0m1 65h0m0 31h0m2 413h0m1-47h0m4-331h0m2 302h0m0 8h0m0 29h0m1-17h0m7-466h0m2 455h0m3-411h0m1-17h0m0 410h0m0-314h0m0-86h0m2 42h0m1-100h0m6 457h0m6-350h0m8 368h0m1-9h0m2-405h0m0 419h0m0 7h0m2-47h0m0-323h0m0 312h0m5-276h0m1 370h0m0-450h0m2-17h0m3-1h0m2-43h0m0 47h0m3 65h0m2-55h0m0 454h0m1-392h0m4 337h0m2 13h0m1 88h0m3-47h0m2-392h0m3-135h0m1 479h0m1-387h0m1-31h0m0 407h0m2-317h0m0 316h0m3 4h0m0-372h0" stroke="#1EB4F0"/><path d="M1372 991h0m0 109h0m0 273h0m2-297h0m2 18h0m1-88h0m2 37h0m1 115h0m0-304h0m5 181h0m7 355h0m1-487h0m1 656h0m0-466h0m1 284h0m0 85h0m0-400h0m0 74h0m7 282h0m1-488h0m0 133h0m0 439h0m1-389h0m1 415h0m2-89h0m0-351h0m1 330h0m2-524h0m3 554h0m2-38h0m1-246h0m0 2h0m1-28h0m1-33h0m0 335h0m0-497h0m3 172h0m2 331h0m0-305h0m1-129h0m1 93h0m2-107h0m0 428h0m0-9h0m1-399h0m1 416h0m2 49h0m0-384h0m0-132h0m0 173h0m1-10h0m0 308h0m3-330h0m3-10h0m2-60h0m0 434h0m1-564h0m0 641h0m2-727h0m1 283h0m1-41h0m0-89h0m2 108h0m1-25h0m0 6h0m0-178h0m1 51h0m0 102h0m1-70h0m1 144h0m1 286h0m0-327h0m1 306h0m0 65h0m0 138h0m1-52h0m3-525h0m1 144h0m1 323h0m2 23h0m7-561h0m0 150h0m2-23h0m3 475h0m0-377h0m1-116h0m4 334h0m2 20h0m1-297h0m1-15h0m5 327h0m3-11h0m0 116h0m3-430h0m1 330h0m1-28h0m2-312h0m0-30h0m1 391h0m0-385h0m1 376h0m1 147h0m0-144h0m2-520h0m1 438h0m5-247h0m1 376h0m3-7h0m1-35h0m2-298h0m2-266h0m1 674h0m0-410h0m1-4h0m1-8h0m0 283h0m0-256h0m1 244h0m0 122h0m1-527h0m0 424h0m0-421h0m0-74h0m1 23h0m0 492h0m0-295h0m0 374h0m1-109h0m5-354h0m5 351h0m1 15h0m3-331h0m1 40h0m1 467h0m0-113h0m1-318h0m2-195h0m0 92h0m0 299h0m1-278h0m4 313h0m0-257h0m0-54h0m0 8h0m1 53h0m3-11h0m6 274h0m1 8h0m1-27h0m7-54h0m2 91h0m0-455h0m0 418h0m1 46h0m0-333h0m0-20h0m0 47h0m0 278h0m0-299h0m0-82h0m0-12h0m1 52h0m1-33h0m0 475h0m0-134h0m0-520h0m3 194h0m1 128h0m0 228h0m1-28h0m3 10h0m1-15h0m1 117h0m1-494h0m0 120h0m0 296h0m1 24h0m2 83h0m3-372h0m3 321h0m2-441h0m1 38h0m0 499h0m1-560h0m0 407h0m1 134h0m1-467h0m2 57h0m2 419h0m0-111h0m1-309h0m1 31h0m2 286h0m1-426h0m0 460h0m2-331h0m4 23h0m1 190h0m0-270h0m0-149h0m4 555h0m3-411h0m1 338h0m1-11h0m0-264h0m1-53h0m0 34h0m0-70h0m0 43h0m1-121h0m0 166h0m1-27h0m0 20h0m4 239h0m1 83h0m4-76h0m2 156h0m0-52h0m0 85h0m1-483h0m0-49h0m1 73h0m0 478h0m1-447h0m1 266h0m0-484h0m1 195h0m1-13h0m2-8h0m1 30h0m0-179h0m0 164h0m0-26h0m2-168h0m4 473h0m0-236h0" stroke="#46E6D2"/><path d="M1372 1055h0m1-44h0m3 120h0m2 234h0m0 121h0m1-525h0m1 174h0m0 15h0m0 24h0m1 240h0m2-364h0m1 321h0m6-251h0m4 0h0m0 346h0m2-77h0m2 128h0m0-339h0m0-28h0m9-54h0m1 329h0m0-409h0m1 367h0m0 28h0m6-41h0m0-219h0m2 318h0m0-66h0m4-327h0m4-244h0m1 279h0m2-39h0m1 432h0m1-469h0m1 51h0m1 507h0m1-532h0m1-135h0m2 488h0m0-355h0m3 62h0m1 285h0m3-398h0m1 76h0m3-5h0m1 400h0m0-40h0m1 14h0m0 3h0m1 37h0m1-426h0m0 302h0m1-243h0m0-29h0m1 37h0m5-57h0m1-122h0m2 186h0m2 309h0m1-24h0m2 39h0m2-66h0m0-269h0m3 0h0m1 352h0m0-364h0m1-177h0m4 225h0m1-350h0m2 234h0m1-174h0m1 489h0m2-375h0m3 86h0m4 432h0m2-341h0m1 279h0m2-333h0m0 36h0m2-186h0m1 387h0m1-402h0m2-168h0m7 644h0m1-319h0m1 269h0m0-314h0m3 67h0m2 405h0m0-498h0m3 375h0m0-22h0m1-337h0m0 7h0m0 494h0m0-480h0m2-69h0m0 537h0m0-407h0m0 233h0m0-213h0m1 203h0m0-268h0m1 394h0m1-527h0m3 427h0m4 21h0m1-336h0m1-23h0m0 396h0m0-43h0m2-342h0m1 359h0m0-342h0m0 306h0m2-313h0m2 323h0m1 73h0m0-1h0m0-484h0m2 376h0m0-299h0m1 51h0m1 297h0m1-26h0m2-245h0m1-16h0m0 389h0m1-383h0m1 337h0m1-67h0m0-393h0m0 82h0m9 403h0m0-75h0m1-352h0m1 334h0m1-274h0m0 352h0m2-310h0m0-156h0m1 349h0m0 67h0m1-419h0m1 411h0m0-413h0m1 126h0m0 300h0m1-39h0m2-303h0m0 491h0m0-421h0m0 251h0m2-479h0m2 524h0m2-408h0m1 378h0m0-281h0m1 251h0m1 28h0m0 71h0m1 52h0m1-386h0m2-49h0m3-137h0m1 471h0m1-459h0m1 79h0m1 46h0m1 476h0m0-446h0m0 448h0m2-485h0m0 423h0m3-558h0m0 460h0m0-279h0m3 39h0m0 237h0m3-296h0m4 337h0m0-345h0m1 428h0m1-450h0m2 11h0m2-56h0m3 348h0m2 144h0m2-77h0m1-79h0m0-271h0m0 20h0m1 301h0m0-11h0m1-43h0m1 17h0m1-311h0m0 424h0m0-365h0m4 247h0m0 5h0m1 22h0m1-357h0m2 424h0m1-504h0m1 578h0m0-503h0m1 21h0m2 333h0m1-318h0m2 398h0m1-343h0m0-87h0m1-76h0m0 59h0m2-42h0m0 129h0m1-4h0m1-56h0m0 342h0m0-27h0m0-287h0m0 46h0m1-83h0m0 18h0m0 327h0m1 63h0" stroke="#46E6D2"/><path d="M1374 999h0m2 130h0m0-25h0m0-271h0m1 240h0m0 319h0m0-280h0m1 288h0m4-307h0m3-120h0m1-69h0m2 548h0m6-34h0m0 26h0m1 14h0m3-303h0m0 251h0m6-382h0m1 117h0m1 220h0m4-288h0m0 48h0m6 11h0m1 313h0m0-396h0m1 103h0m1-308h0m3 599h0m0 8h0m2-316h0m0-17h0m2-53h0m1 68h0m0-107h0m3 348h0m0 48h0m1-376h0m0 539h0m1-53h0m0 9h0m1-394h0m1-112h0m0-69h0m2 10h0m0 394h0m1 101h0m1-329h0m1-54h0m1-6h0m1-231h0m5 300h0m0-107h0m0 94h0m1 259h0m1-368h0m1 6h0m0 407h0m1-327h0m0 497h0m0-66h0m1-573h0m0 118h0m1 400h0m0-96h0m6 21h0m1-446h0m0 429h0m1 35h0m1-321h0m5 253h0m0-261h0m0 275h0m1-253h0m1 218h0m0 44h0m2 37h0m2 60h0m1-102h0m0-241h0m3 317h0m2 28h0m0-490h0m2-83h0m0 561h0m1-469h0m2 444h0m1-26h0m2 62h0m1-555h0m4 233h0m0 290h0m5-455h0m0 350h0m3 64h0m1 140h0m2-193h0m1 52h0m2-7h0m1-237h0m1 228h0m1-338h0m4 298h0m2 7h0m2-283h0m0 388h0m2-16h0m0-344h0m0 272h0m0 79h0m1-60h0m1-25h0m1 86h0m0 30h0m0-321h0m0-71h0m0 429h0m0-101h0m0-309h0m0 389h0m1-329h0m0-60h0m0-35h0m0-28h0m1 69h0m0 360h0m0-541h0m1 98h0m0 79h0m1-52h0m0 367h0m4-68h0m0 102h0m1-23h0m7-353h0m1 373h0m1-62h0m1 50h0m2-338h0m0 369h0m0-331h0m1-57h0m0 286h0m0-273h0m1 348h0m1-69h0m1-390h0m3 443h0m0 21h0m1-82h0m2-224h0m4-21h0m3-20h0m2 341h0m6-362h0m0 14h0m0 457h0m1-430h0m0-82h0m0 338h0m3-365h0m0 431h0m1-402h0m0 9h0m1 120h0m3-133h0m3-102h0m0 514h0m1-59h0m0 26h0m0-310h0m1-13h0m0 408h0m2-501h0m1-53h0m4 50h0m0 88h0m1 324h0m2-520h0m1 493h0m1-264h0m3 296h0m1-26h0m2-278h0m1 270h0m1 60h0m0-322h0m1 440h0m4-170h0m3-9h0m1 28h0m4-248h0m2-149h0m0-39h0m0 473h0m2-39h0m3-395h0m1 49h0m2 416h0m2-374h0m0-25h0m1 391h0m0-73h0m0-32h0m3 52h0m1 50h0m1-68h0m2 62h0m2-329h0m5 235h0m1 118h0m3-366h0m2-85h0m0 34h0m1 356h0m0-68h0m3 81h0m0-456h0m0-68h0m0 492h0m2 37h0" stroke="#46E6D2"/><path d="M1372 871h0m0 521h0m5-360h0m0 387h0m1 13h0m0 60h0m1-79h0m2-25h0m1-278h0m0-26h0m0 310h0m0 158h0m1-115h0m0 87h0m2-392h0m0 398h0m7-132h0m0 79h0m3-357h0m1 340h0m1-50h0m1-293h0m5 303h0m1-284h0m1-126h0m0 393h0m3 84h0m1-357h0m2-19h0m0 324h0m5-452h0m1 476h0m1-318h0m1-43h0m0 413h0m0-136h0m3-439h0m0 124h0m2 439h0m1 44h0m4-432h0m0 382h0m1-72h0m1-388h0m0 487h0m0-581h0m0 606h0m1-418h0m0 265h0m2 43h0m0-560h0m0 571h0m1 16h0m1-481h0m4 48h0m0 366h0m1-15h0m1 83h0m1-428h0m1 503h0m1-684h0m1 163h0m1-67h0m2-7h0m0 542h0m1 117h0m2-683h0m3 520h0m2-35h0m0 58h0m1 81h0m1-52h0m0-456h0m3 96h0m1-207h0m0 244h0m1-110h0m2-63h0m4-73h0m0 524h0m0-361h0m1 373h0m0-438h0m0 87h0m1 45h0m1 264h0m3-266h0m0-58h0m1 318h0m0-57h0m1-275h0m0 343h0m1-297h0m3 10h0m2-18h0m0-21h0m14 23h0m0 256h0m0-306h0m0 290h0m1 84h0m1-464h0m3-22h0m5 187h0m2-179h0m0 404h0m3-226h0m1-56h0m0 367h0m1-22h0m0-22h0m0 62h0m1-43h0m4 13h0m0-403h0m1-150h0m0 551h0m0-21h0m1 107h0m1-617h0m1 577h0m1-314h0m3-54h0m1-48h0m1-8h0m1 313h0m2-366h0m2 450h0m1-16h0m2 140h0m1-101h0m0-66h0m0-470h0m3 489h0m0-27h0m2-62h0m0-243h0m0-18h0m0 473h0m1-109h0m3-521h0m0 204h0m3-65h0m1 329h0m5-349h0m4 474h0m2-424h0m0 8h0m1 273h0m5-208h0m0-130h0m0 359h0m0-264h0m1-1h0m1-32h0m0 389h0m1-495h0m1-23h0m1 185h0m2-17h0m1 349h0m1-127h0m3-263h0m0-69h0m1 420h0m3-81h0m4 22h0m1 71h0m0-408h0m8 308h0m0 33h0m0-394h0m4-26h0m0 111h0m0-127h0m6 94h0m3 426h0m1-42h0m0-440h0m1 415h0m2 111h0m2-651h0m4 650h0m1-132h0m0-274h0m2 3h0m0-53h0m1 97h0m2-91h0m1 346h0m1-14h0m2-58h0m2-210h0m1-25h0m2-26h0m0 16h0m2-93h0m2 147h0m4-232h0m0 183h0m2-128h0m0 90h0m1-47h0m3 53h0m1 407h0m0-361h0m1-85h0m0-46h0m0 443h0m1-58h0" stroke="#46E6D2"/><path d="M1372 1048h0m0 309h0m6 110h0m0-4h0m2-33h0m1 40h0m2-401h0m1-46h0m0 406h0m0 49h0m10-40h0m1-290h0m1-105h0m7-1h0m2 335h0m1-248h0m1-130h0m0 464h0m1 64h0m1-388h0m1 237h0m0 6h0m1 78h0m1-482h0m6 409h0m0-286h0m2-187h0m1 170h0m0 8h0m0 58h0m1-91h0m1 320h0m4 62h0m1-370h0m2-30h0m0 335h0m1 147h0m0-461h0m1 62h0m1-41h0m0-88h0m5 365h0m1-283h0m0-20h0m5 323h0m0-260h0m1 254h0m0-16h0m0 9h0m1 77h0m1-16h0m0 103h0m5-103h0m0-343h0m2-100h0m1 475h0m0 87h0m1-134h0m0-383h0m0 346h0m1-463h0m1 568h0m1-515h0m1 92h0m0 395h0m0-402h0m4 374h0m3-64h0m1 119h0m0-68h0m1-10h0m0-521h0m2 188h0m1-17h0m2 357h0m0-279h0m2-198h0m1 506h0m2-21h0m0-272h0m1-9h0m3 375h0m7-90h0m0-445h0m2 419h0m2 68h0m1-343h0m1-20h0m0 308h0m1-372h0m0 460h0m1-92h0m0-318h0m0-119h0m1 128h0m0-9h0m1-182h0m0 180h0m0-96h0m1 93h0m0 29h0m1-68h0m1-18h0m0 443h0m1-462h0m3 356h0m3-337h0m0 389h0m2 48h0m1-21h0m4-466h0m0 142h0m0-77h0m1 409h0m1-415h0m1 378h0m0-25h0m1-8h0m1 45h0m0 49h0m1-375h0m3-14h0m3 19h0m2-13h0m3 375h0m1-108h0m0 156h0m1-486h0m1 384h0m2-270h0m3-80h0m0 51h0m1 29h0m1-127h0m1 500h0m1-401h0m1 305h0m1 19h0m1-79h0m1-187h0m1 312h0m1-97h0m0 91h0m0-56h0m3-307h0m2 17h0m3-132h0m1 16h0m0 52h0m1 309h0m5-233h0m2-243h0m0 250h0m1 339h0m0-76h0m0-303h0m1 399h0m2-395h0m1 341h0m0-325h0m0 317h0m1 114h0m3-597h0m1 430h0m1-254h0m1-20h0m1-113h0m2 81h0m1 327h0m2-387h0m4 37h0m0 394h0m1 20h0m1-341h0m0-8h0m1-4h0m1 304h0m2-292h0m3 232h0m0-297h0m0 358h0m1-9h0m0-377h0m1 365h0m5 4h0m6-300h0m0-54h0m3 323h0m2 178h0m1-583h0m3 475h0m1-295h0m2 246h0m0-346h0m1 379h0m0-461h0m0 63h0m1 476h0m1-547h0m2 108h0m1-60h0m1-101h0m3 107h0m1 381h0m1 47h0m0-560h0m2 483h0m1 113h0m7-25h0m3-324h0m1-89h0m1 307h0m0 132h0m0-592h0" stroke="#46E6D2"/><path d="M1380 1423h0m2 146h0m0-695h0m1 95h0m1 468h0m0-376h0m6 109h0m1-35h0m3-21h0m1 49h0m6 305h0m5-353h0m0-12h0m2-178h0m0 549h0m1-529h0m0 441h0m0-382h0m3 416h0m3 15h0m2-9h0m1-18h0m2 12h0m1-259h0m0-10h0m2-108h0m3-25h0m2 397h0m1-392h0m1 128h0m1-36h0m1-23h0m1 272h0m1 78h0m2-327h0m1 390h0m2-534h0m0 415h0m0-574h0m0 235h0m1 363h0m1-620h0m2 282h0m0-190h0m3 168h0m2-7h0m0 374h0m0-19h0m1-408h0m1 128h0m1 247h0m1 102h0m2-326h0m0 276h0m0-312h0m0 299h0m3-252h0m3 229h0m2 146h0m2-441h0m4 378h0m0-556h0m0 491h0m2-300h0m0 312h0m1-346h0m1 387h0m0-505h0m1 116h0m1 312h0m1 135h0m0-396h0m1 433h0m1-423h0m1-18h0m0 290h0m2 39h0m1-490h0m0 132h0m0-57h0m1 362h0m2 51h0m0 26h0m5-34h0m2-34h0m4 57h0m1 26h0m1-378h0m0-102h0m0 159h0m2 270h0m0-23h0m0-276h0m0 335h0m1 71h0m0-458h0m0 420h0m1-487h0m0 543h0m1-123h0m1-384h0m2 330h0m2-245h0m1 269h0m2 114h0m0-132h0m4-231h0m1 211h0m1-226h0m0-30h0m1 323h0m1 78h0m0-58h0m1-295h0m0-73h0m1 317h0m1-323h0m0 74h0m1-57h0m1 22h0m2-186h0m1 108h0m4-40h0m0 116h0m4 25h0m0-18h0m2-8h0m0 13h0m1 355h0m0 134h0m1-503h0m0-129h0m1 57h0m0 394h0m1 79h0m0-547h0m4 587h0m1-145h0m0-387h0m0 447h0m2-83h0m1-228h0m1 262h0m0-264h0m0-73h0m1 49h0m2-82h0m2 79h0m4 363h0m4-498h0m1 138h0m3 359h0m2-86h0m0-309h0m1 349h0m1-341h0m0-24h0m2 34h0m1-15h0m3 317h0m3-329h0m0 424h0m1-393h0m2 313h0m0-362h0m0 335h0m1-270h0m0-4h0m3 347h0m0-16h0m4-323h0m1-72h0m0-62h0m3 422h0m1-270h0m0 292h0m1-508h0m1 454h0m0-272h0m5-62h0m0 117h0m1 265h0m5-389h0m0 504h0m5-696h0m1 270h0m1 2h0m0 285h0m1-6h0m1-251h0m3 254h0m0-222h0m0 283h0m2-329h0m0 371h0m1-81h0m0-63h0m0 82h0m0 27h0m1-448h0m0 469h0m0-97h0m0-263h0m0 395h0m0-401h0m3 289h0m0 3h0m0-327h0m1-56h0m7 473h0m1-542h0m0 157h0m2-21h0m0-106h0m0 130h0m1 289h0m0 55h0m1-339h0m1 276h0m3 38h0m1-23h0" stroke="#46E6D2"/><path d="M1372 1463h0m1-574h0m3 115h0m0 444h0m4-305h0m0-157h0m2 113h0m1-25h0m1 382h0m3 11h0m1-61h0m1-277h0m5-173h0m1 546h0m2-48h0m1-371h0m5-4h0m1 366h0m1-61h0m1 3h0m4 94h0m1-414h0m2 348h0m2-289h0m0-10h0m0-4h0m1 34h0m1-33h0m0 300h0m4-16h0m2-298h0m0 307h0m1-18h0m0-300h0m1 317h0m1-298h0m2-158h0m0 528h0m1-69h0m0 8h0m0-341h0m0 329h0m1-16h0m0-494h0m1 88h0m1 84h0m1 361h0m0-543h0m0 167h0m2 447h0m2-695h0m0 270h0m3-38h0m0 345h0m0-287h0m0 335h0m1 13h0m2-485h0m3-42h0m1-66h0m1 598h0m0 56h0m1-451h0m0 436h0m0-95h0m1-10h0m1-487h0m1 657h0m1-588h0m1 210h0m2 218h0m1-310h0m1 82h0m0 265h0m3-283h0m0 268h0m1-26h0m0 146h0m2-140h0m1-476h0m1 162h0m0 357h0m4-406h0m0 43h0m1-86h0m5 110h0m6 38h0m0 322h0m0-389h0m2 34h0m0-94h0m12-110h0m0 72h0m2 407h0m2-321h0m2 464h0m3-544h0m3 49h0m1 401h0m2-328h0m4 356h0m1-325h0m0-143h0m0 92h0m1 388h0m0-68h0m1-255h0m2-123h0m0 37h0m1 67h0m0 303h0m0-320h0m0 309h0m1-355h0m1 299h0m4-257h0m0 9h0m2-169h0m1 539h0m0-134h0m3 156h0m2-499h0m5 134h0m2 439h0m0-166h0m0 62h0m0-339h0m2-101h0m2 462h0m0-508h0m1 489h0m2-315h0m1-213h0m3 500h0m4-680h0m2 350h0m4 327h0m5-407h0m0 376h0m0 131h0m1-631h0m0 13h0m1 535h0m0-484h0m2 449h0m0-277h0m4 231h0m0-294h0m0 363h0m0-284h0m2-75h0m1 445h0m3-94h0m7-279h0m5 275h0m1 6h0m2-8h0m1-394h0m0 371h0m1-350h0m0 14h0m0-56h0m2 130h0m1 251h0m1-295h0m1 54h0m3 308h0m2-542h0m2 167h0m3 316h0m1-386h0m1 390h0m1-465h0m4 548h0m0-333h0m2 207h0m1-262h0m1 462h0m5-531h0m1 11h0m0 359h0m3-55h0m2 74h0m1-405h0m0 401h0m1 37h0m1-460h0m1-30h0m0 572h0m1-395h0m1 351h0m2-336h0m2 293h0m2-345h0m3 311h0" stroke="#46E6D2"/><path d="M1376 1397h0m2-359h0m1 388h0m2-320h0m1 335h0m0-319h0m0 274h0m2-280h0m3-328h0m1 270h0m4 341h0m2-376h0m0 389h0m4 83h0m1-96h0m1-287h0m0 302h0m5-320h0m3 272h0m0-8h0m0-303h0m1-19h0m0 398h0m0-25h0m0-358h0m3-67h0m8 393h0m1-221h0m0-35h0m1-142h0m3 393h0m1 27h0m1 38h0m3-482h0m0 512h0m0 28h0m0-686h0m1 645h0m0-56h0m1 60h0m0-356h0m0-72h0m1 409h0m4 51h0m1-119h0m1-480h0m0 208h0m2-90h0m1 448h0m1-36h0m0-307h0m1 273h0m1-250h0m0 263h0m0 162h0m1-36h0m2-529h0m0 16h0m1 94h0m1 327h0m2 28h0m0-408h0m2 511h0m1-565h0m0 474h0m1 86h0m2-430h0m0 13h0m1 266h0m0-313h0m4-16h0m5-106h0m0 418h0m2-22h0m1-409h0m2 190h0m0-26h0m2-36h0m1-48h0m0 386h0m1-312h0m2-44h0m1-67h0m0 355h0m4 12h0m1-340h0m3 26h0m8 56h0m0 366h0m1-11h0m0-16h0m1-61h0m0-327h0m1-63h0m1-62h0m1 478h0m4 29h0m2-520h0m1 190h0m0-52h0m0-18h0m2 66h0m3-98h0m2 136h0m0 378h0m1-436h0m1 327h0m2 60h0m0-330h0m0-37h0m1 2h0m1-11h0m0 271h0m0 31h0m0-389h0m0 67h0m0 81h0m1 290h0m0-298h0m1-28h0m3 9h0m3 242h0m0-507h0m1 209h0m0 341h0m1 13h0m3-365h0m2-264h0m2 98h0m1 111h0m2 487h0m0-592h0m1 480h0m1 8h0m1-252h0m0-76h0m1 418h0m1-335h0m0 17h0m2 216h0m1 87h0m2-555h0m0 554h0m1-371h0m2 344h0m1-315h0m1 296h0m2-371h0m0 27h0m2-25h0m1 94h0m0-37h0m3-94h0m2 121h0m2 237h0m0 64h0m0-31h0m2-18h0m0-264h0m1-9h0m0 352h0m0-26h0m1-362h0m0-272h0m0 242h0m1-207h0m1 573h0m0 80h0m1-346h0m0 279h0m2-58h0m0 91h0m2-547h0m0 207h0m1 420h0m1-125h0m1-424h0m2 78h0m0-64h0m0 147h0m1 26h0m0-33h0m4 337h0m0-71h0m0-383h0m4 45h0m2-54h0m2 63h0m2-10h0m1 413h0m2-393h0m1 13h0m1 305h0m0-34h0m4-432h0m7 232h0m0-121h0m1 71h0m0 245h0m0-298h0m3 63h0m3-174h0m2 83h0m7 13h0m3-160h0m2 162h0m2 370h0m0 7h0m0-22h0m0 84h0m1 11h0m2 57h0m4-186h0m7-272h0" stroke="#46E6D2"/><path d="M1657 1433h0m0 42h0m0 47h0m3-507h0m1 372h0m1-416h0m0 18h0m0 524h0m0-34h0m1 5h0m2-556h0m1 141h0m4 391h0m1-438h0m0 449h0m1-85h0m5 53h0m2-375h0m2-5h0m0 355h0m0 7h0m0 13h0m1-438h0m3 423h0m1-392h0m4 31h0m1 23h0m0-106h0m1 489h0m3-34h0m1 83h0m1-96h0m3-380h0m1-14h0m1 472h0m1-544h0m4-47h0m1 106h0m11-1h0m2-51h0m5 505h0m1-409h0m2 469h0m3-58h0m2 8h0m1-463h0m4 405h0m0-389h0m1 436h0m0-85h0m0-354h0m1-12h0m2 455h0m0 19h0m1-58h0m2-392h0m1 401h0m1-427h0m0 13h0m0 399h0m1 28h0m1-475h0m5 425h0m1 148h0m1-83h0m3-13h0m4 82h0m1-503h0m4 394h0m0-447h0m1 61h0m1 442h0m0-48h0m0 53h0m0-20h0m2 23h0m2-548h0m1 120h0m1-20h0m0 560h0m1-678h0m0 97h0m2 442h0m0-22h0m0-471h0m1 47h0m0 515h0m1-449h0m0-54h0m1-57h0m0 25h0m0 50h0m0 394h0m0 8h0m0 21h0" stroke="#0A6E1E"/><path d="M1657 1080h0m4 410h0m0 43h0m3-431h0m0 311h0m1 11h0m0 26h0m2-466h0m0 92h0m2-58h0m0-4h0m1 3h0m0 505h0m0-586h0m1 540h0m1-495h0m6 470h0m1-453h0m0 406h0m2-455h0m0 515h0m1-39h0m2 64h0m2-127h0m4 62h0m1-408h0m2 474h0m3-24h0m0 109h0m2-601h0m2-77h0m0 177h0m1-165h0m0 621h0m0-16h0m1-458h0m2 402h0m3-437h0m1 22h0m0 368h0m1-418h0m1 24h0m2 448h0m2-426h0m0 442h0m2-493h0m4 505h0m8-452h0m1 354h0m0 30h0m1 58h0m0-408h0m0-109h0m1 552h0m4-115h0m0-545h0m3 558h0m0-371h0m1-45h0m0-55h0m0 516h0m0-64h0m1-407h0m4 554h0m1-518h0m0 476h0m2-442h0m0 327h0m0 15h0m4-393h0m0 420h0m0-610h0m1 185h0m1-12h0m0 6h0m2 490h0m0-606h0m1 145h0m0-14h0m1-18h0m1 480h0m1 9h0m3-408h0m0-101h0m1 509h0m2-496h0m0 528h0m2-55h0m0-470h0m0-13h0m1-61h0m1 535h0m1-43h0m0-343h0m3 350h0m2-411h0m0 418h0m4 53h0m0-385h0m0-101h0m0 464h0m1-22h0m2 41h0m1-538h0m0 82h0m0 442h0" stroke="#0A6E1E"/><path d="M1657 1558h0m2-148h0m0-12h0m0 31h0m2-471h0m1 525h0m0-463h0m0 516h0m1-33h0m1-65h0m0-331h0m1 488h0m1-111h0m2-446h0m1-95h0m0 465h0m0-548h0m0 226h0m1 363h0m0 32h0m0-494h0m1-68h0m2 144h0m2 397h0m0-408h0m1-85h0m1 479h0m2-4h0m0-421h0m0 366h0m2 22h0m1 57h0m1-459h0m3 405h0m0-435h0m1 454h0m1-425h0m0 489h0m0 52h0m0-75h0m1 36h0m0 10h0m4 34h0m1-110h0m0-14h0m1-440h0m0 39h0m3 20h0m2 441h0m1-680h0m0 697h0m0-89h0m1 21h0m0-509h0m1 107h0m1 409h0m7-447h0m0 462h0m1-486h0m3 433h0m4-3h0m5 90h0m4 0h0m0-27h0m1 34h0m1-11h0m1 42h0m2-494h0m2 453h0m1-14h0m1-430h0m0-67h0m0 21h0m1-16h0m0 467h0m1-477h0m0-22h0m0-67h0m3 535h0m0-32h0m3 48h0m4-420h0m2 358h0m0-370h0m1 364h0m1-330h0m1 408h0m1-503h0m0 7h0m8 524h0m1-548h0m0 565h0m2-109h0m1 144h0m0-542h0m1 44h0m0-22h0m0 462h0m0-436h0m1 397h0m1 95h0m0-504h0m3 512h0m0-49h0m1 37h0m3-469h0m0-100h0m1 23h0m0 99h0m0 353h0m0 31h0m2-407h0m1 30h0m1-16h0m1 357h0m0 42h0m0 24h0m0 30h0m0 16h0" stroke="#0A6E1E"/><path d="M1657 1432h0m0 74h0m0 10h0m2 44h0m0-124h0m1-398h0m1 485h0m0-118h0m0-401h0m1 68h0m1-188h0m1 565h0m1-57h0m4 103h0m0 0h0m0-440h0m0 365h0m1-468h0m0 512h0m0-537h0m0 513h0m2 72h0m1-502h0m0 470h0m3-406h0m3-224h0m1 73h0m0 505h0m0-401h0m2 397h0m1-423h0m0 492h0m2-456h0m2 9h0m0 49h0m2-99h0m3 45h0m0 493h0m2-7h0m1 6h0m0-534h0m1 472h0m4-506h0m1 119h0m2-218h0m2 664h0m0-58h0m0-488h0m1 424h0m2-419h0m0 394h0m2 32h0m1-454h0m3 459h0m2 133h0m1-75h0m2 55h0m0-71h0m4-28h0m2-420h0m3-20h0m0 43h0m1-23h0m1 410h0m1-419h0m2 441h0m1 40h0m3-57h0m1-398h0m1-63h0m1-70h0m2 456h0m0-321h0m4-16h0m4 374h0m4-413h0m0-24h0m0-50h0m1 104h0m0 405h0m2-12h0m5-344h0m0-146h0m2 595h0m1-116h0m0 59h0m1 29h0m0-458h0m3 6h0m0 508h0m0-554h0m1-55h0m0 526h0m1-36h0m0-505h0m2 596h0m0-539h0m3 81h0m0 484h0m2-588h0m0 503h0m0-418h0m1 390h0m0 70h0m1 60h0m1-104h0m0-498h0m0 66h0m0 9h0m2-86h0m0 4h0m0 53h0m0 421h0m0 93h0m0 5h0" stroke="#0A6E1E"/><path d="M1657 955h0m0 504h0m1-61h0m0 70h0m2-20h0m1-368h0m0-14h0m0 384h0m1-337h0m0-105h0m1 554h0m0-530h0m0 509h0m0-48h0m1 3h0m1-444h0m2 444h0m2-537h0m1 10h0m1 490h0m1 79h0m1-558h0m0 400h0m0 84h0m0-398h0m2 443h0m2-90h0m1-475h0m0 52h0m0 32h0m1 3h0m0 7h0m0 461h0m2-22h0m0 13h0m1-440h0m3-117h0m2 609h0m0-39h0m0-147h0m0 119h0m1-450h0m0-48h0m2 464h0m2-335h0m2 319h0m1-415h0m5 441h0m1-339h0m0-102h0m0-18h0m0 440h0m0-422h0m1 414h0m1-39h0m0 81h0m1-440h0m0 454h0m0 94h0m0-71h0m5-75h0m6-18h0m2 48h0m4-523h0m5 514h0m0-30h0m2 18h0m1-422h0m1 64h0m3 378h0m5-470h0m0 481h0m1-87h0m0 53h0m1 109h0m1-106h0m0-373h0m3 4h0m1-76h0m1-18h0m2 549h0m4-101h0m3 134h0m0-562h0m1 23h0m0 426h0m0-398h0m1-56h0m3 74h0m1-121h0m2 517h0m1-457h0m1 55h0m2-44h0m1 478h0m2-447h0m3-16h0m2 436h0m0 27h0m1-488h0m1-24h0m0 41h0m1 77h0m0-66h0m0 46h0m1-39h0m1-28h0m0 401h0m1-423h0m0 514h0m0-569h0m1 125h0m1-107h0m0 53h0m0 518h0" stroke="#0A6E1E"/><path d="M1657 1019h0m1 49h0m2 522h0m2-536h0m0 463h0m1-574h0m0 156h0m1 327h0m0-361h0m0 355h0m0-330h0m1-52h0m2-68h0m1 57h0m1 407h0m1-385h0m0 449h0m0 22h0m1-475h0m0-121h0m0 474h0m1-422h0m0 63h0m0 365h0m1-371h0m3 444h0m0-524h0m0 132h0m0 388h0m1-385h0m2-133h0m1 525h0m0 45h0m0-24h0m1-483h0m0 400h0m1 68h0m1-431h0m0 323h0m1-322h0m2 409h0m1-10h0m1 45h0m4-556h0m2 549h0m1-551h0m1-17h0m1 77h0m1 560h0m0-33h0m3-9h0m0-71h0m1-465h0m0 594h0m3-674h0m1 560h0m2-459h0m3 520h0m1-601h0m2 61h0m1 61h0m0-11h0m5-21h0m4 512h0m0-472h0m4 392h0m2 136h0m1-627h0m5 69h0m0 31h0m3 457h0m1-577h0m0 560h0m3-83h0m3 50h0m0-11h0m2 51h0m3-486h0m2-2h0m2 402h0m3 6h0m0 19h0m1 58h0m1 11h0m5-442h0m0 419h0m1-53h0m9 6h0m3-351h0m1 304h0m0 92h0m2-577h0m1 576h0m0-40h0m0-368h0m1-156h0m0 60h0m0 25h0m0 487h0" stroke="#0A6E1E"/><path d="M1659 1043h0m2 485h0m0-87h0m0-385h0m1 450h0m1-530h0m0 64h0m0 6h0m1-17h0m4 43h0m0 346h0m0-425h0m1 459h0m1-455h0m2 470h0m1 19h0m4-620h0m1 136h0m1 6h0m0-30h0m1 8h0m0 37h0m0 489h0m0 14h0m1-544h0m2-89h0m2 493h0m1-463h0m1 510h0m4 124h0m1 19h0m1-27h0m1-474h0m0 507h0m4-594h0m3 53h0m0 357h0m1 75h0m1 11h0m0-508h0m0-15h0m2 28h0m6 480h0m2-23h0m2-569h0m1 601h0m0 67h0m1-80h0m1-465h0m2 552h0m0-129h0m6-464h0m1 507h0m3 13h0m0-451h0m4 30h0m1 8h0m1-26h0m2 511h0m5-551h0m0-86h0m4 121h0m1 339h0m3 23h0m1-439h0m2 431h0m0 98h0m2 39h0m0-100h0m1-481h0m0 507h0m0-380h0m1 318h0m1 44h0m1 6h0m0-504h0m1 88h0m1 385h0m4 134h0m0-439h0m0 296h0m2-385h0m2 573h0m1-146h0m0-56h0m1 119h0m4-436h0m1-109h0m0 529h0m0 28h0m2-443h0m1 467h0m1-74h0m1-432h0m0 9h0m0 358h0m1-3h0m0 72h0" stroke="#0A6E1E"/><path d="M1657 1428h0m1 20h0m1-429h0m1 456h0m0-3h0m0-508h0m0 499h0m1-5h0m4-73h0m5-380h0m1 438h0m0-16h0m0 41h0m0-103h0m0-337h0m0 497h0m0-113h0m2-367h0m1 5h0m0 399h0m1-390h0m4 400h0m0-68h0m1 56h0m1-414h0m0-22h0m2 357h0m2 115h0m2-404h0m0 402h0m0 31h0m0-561h0m1 497h0m0 3h0m2-400h0m1-69h0m0 83h0m0-27h0m2 427h0m1-494h0m0 73h0m0 475h0m1-420h0m0 399h0m0-412h0m1-82h0m0 403h0m3 23h0m1-432h0m1-67h0m0 549h0m1-4h0m0-81h0m1-423h0m1 45h0m2-68h0m5 503h0m0-401h0m1-85h0m5 439h0m1-389h0m2 68h0m2-120h0m1 455h0m3 17h0m0-448h0m1 508h0m2-526h0m0 26h0m0 38h0m4 418h0m0-403h0m4 411h0m1-55h0m0-447h0m1 467h0m3-316h0m2 399h0m6-81h0m2 73h0m1-556h0m6 140h0m2 383h0m7-512h0m2 69h0m2 414h0m1-430h0m1 487h0m0-431h0m3 479h0m1-521h0m0 35h0m0-96h0m1 37h0m2 33h0m0 482h0m0-16h0m2-513h0m0 426h0m0 41h0" stroke="#0A6E1E"/><path d="M1787 893h0m0 484h0m0 9h0m1 20h0m0-493h0m1 56h0m1-63h0m3 117h0m2-34h0m6 401h0m1-586h0m1 165h0m0-71h0m3 474h0m3-402h0m4 339h0m1 43h0m2-418h0m2-33h0m2 58h0m1 470h0m0-456h0m0-34h0m2-24h0m0 476h0m2-86h0m0 51h0m0-31h0m1-336h0m0 50h0m1-95h0m0-99h0m2 158h0m1-30h0m5 355h0m2-347h0m9 394h0m2-423h0m2 485h0m2-79h0m1-16h0m1 30h0m2-441h0m2 387h0m3-383h0m0-24h0m0 486h0m7-430h0m2 352h0m1 47h0m4-387h0m1-137h0m2 69h0m0 45h0m2 323h0m1-345h0m1 389h0m0-375h0m3 351h0m1-304h0m3 398h0m1-462h0m0-202h0m1 119h0m0 177h0m0-25h0m1-94h0m1-149h0m1 204h0m1-102h0m7 120h0m4-81h0m1 65h0m4-13h0m0 54h0m1-77h0m1-19h0m0-123h0m1 167h0m2-15h0m2-229h0m0 202h0m0 24h0m1 19h0m4 8h0m8 349h0m10 41h0m3-434h0m1 54h0m0 16h0m2 403h0" stroke="#0A6E1E"/><path d="M1794 1007h0m4 394h0m3-24h0m4-412h0m1-34h0m3-96h0m1-26h0m2 146h0m5-86h0m0 27h0m6-83h0m1 519h0m0 34h0m1-437h0m2 391h0m0-344h0m2 49h0m1-90h0m2 83h0m0-117h0m1 66h0m0-17h0m0 463h0m1-452h0m0-28h0m1 435h0m3-483h0m0 127h0m0 332h0m4-333h0m4-29h0m0 468h0m4-34h0m1-482h0m1 402h0m3 9h0m4-45h0m1 71h0m1-419h0m1-22h0m1 4h0m0 412h0m1 13h0m2-37h0m1-416h0m2-35h0m3 506h0m4-67h0m0-472h0m0-10h0m1 523h0m1-427h0m0 348h0m0-306h0m1-82h0m0 402h0m0 82h0m3-425h0m5 394h0m0 29h0m2-689h0m1 641h0m1-397h0m3 59h0m4-224h0m0 122h0m2 418h0m1 77h0m1-503h0m4 466h0m5-377h0m0 438h0m2-469h0m2-95h0m1 492h0m1-453h0m0-142h0m7 223h0m1 37h0m1-22h0m1-14h0m4 423h0m7-387h0m5 327h0" stroke="#0A6E1E"/><path d="M1787 1347h0m1-20h0m2-293h0m2-102h0m9 4h0m0 418h0m1-470h0m0 536h0m2-426h0m0 10h0m1 359h0m1-464h0m3-11h0m1 432h0m0-314h0m0-57h0m2 343h0m2 51h0m5-449h0m2-174h0m2 580h0m1-357h0m3 56h0m2 474h0m3 7h0m0-523h0m2 441h0m1-358h0m0-57h0m1 362h0m0-387h0m6 381h0m2-394h0m0-23h0m6-11h0m0 471h0m1-21h0m0-436h0m1 469h0m2-468h0m8-49h0m1-158h0m4 636h0m2-375h0m1-55h0m1-7h0m1-50h0m3 112h0m1-91h0m2-92h0m1 59h0m3 89h0m2 47h0m1-127h0m3 585h0m3-94h0m1-360h0m0-2h0m0 25h0m1 5h0m7-166h0m0 503h0m8-526h0m0-8h0m2 480h0m1-4h0m0 19h0m2 64h0m0-50h0m1 9h0m0-427h0m1 441h0m2 4h0m1-474h0m1 14h0m0-120h0m0 582h0m2-18h0m0-359h0m9 6h0m2-5h0m4-108h0m4 66h0m5 14h0" stroke="#0A6E1E"/><path d="M1789 929h0m6 430h0m5 6h0m1-486h0m2 4h0m1 456h0m0-341h0m0-11h0m1 347h0m0-566h0m1 214h0m2 327h0m1 29h0m7-393h0m2-40h0m0 62h0m1 437h0m5-470h0m0 429h0m0-399h0m0 348h0m1-352h0m0-58h0m1-133h0m1 617h0m3-28h0m2-11h0m0-296h0m4-42h0m2-145h0m2 103h0m0 375h0m4-21h0m2-358h0m0-6h0m1-90h0m1 496h0m2-361h0m1 321h0m0-378h0m1-71h0m22 33h0m0 45h0m6 426h0m1-394h0m2-18h0m1 48h0m2 393h0m4-488h0m4-212h0m1 633h0m6-354h0m4-106h0m1-59h0m1 88h0m1 21h0m0 23h0m6-30h0m1 445h0m0-556h0m3-95h0m1 249h0m2-111h0m0-31h0m1 517h0m0-373h0m2 453h0m5-86h0m8 1h0m5 11h0m1 20h0m0-395h0" stroke="#0A6E1E"/><path d="M1787 1019h0m1 400h0m2-429h0m0-250h0m2 613h0m7-446h0m1 55h0m0-21h0m0 31h0m1-42h0m1 46h0m1-113h0m1 464h0m1-14h0m0-455h0m0 66h0m1 434h0m0-15h0m3-504h0m2 132h0m0-33h0m2 359h0m1-338h0m0-14h0m2 341h0m2-446h0m3 74h0m1 431h0m2-462h0m0 434h0m0 24h0m0-468h0m1 96h0m3-42h0m2 76h0m0 8h0m3-171h0m0 549h0m2-425h0m2-44h0m3-66h0m0 494h0m2 51h0m3-51h0m0-411h0m6 483h0m2-460h0m1 482h0m0-121h0m2-3h0m1-389h0m4-103h0m0 461h0m1 79h0m1-388h0m2 20h0m2-95h0m0 414h0m8-356h0m1 342h0m0-407h0m1-32h0m0 122h0m3 396h0m1-565h0m7 159h0m0 405h0m2 59h0m0-106h0m1-328h0m1-35h0m4-123h0m1-48h0m2 98h0m2 44h0m2 371h0m1-357h0m5-74h0m1-17h0m2 0h0m0 512h0m0-45h0m1-397h0m0 4h0m2-26h0m1-66h0m1 100h0m10 395h0m1-574h0m2 167h0m5-123h0m2 39h0m3 505h0m2-14h0m0-37h0m2-376h0" stroke="#0A6E1E"/><path d="M1787 954h0m0 55h0m0-122h0m1 74h0m3 414h0m6-46h0m1 1h0m0 5h0m1-324h0m0 387h0m1-13h0m0-450h0m1 380h0m0-363h0m2 27h0m0-33h0m1 12h0m2 365h0m0-310h0m3 319h0m2-2h0m2 17h0m6 26h0m0-447h0m2 82h0m0-152h0m1 455h0m0-414h0m0-11h0m0 112h0m1 378h0m0-399h0m0 341h0m1 121h0m0-516h0m2 430h0m2-438h0m1 64h0m2 457h0m0-413h0m2 7h0m4 331h0m9-463h0m4 68h0m3-30h0m0-97h0m4 29h0m7 484h0m0-345h0m3 289h0m0 117h0m1-464h0m1-59h0m4 461h0m0-554h0m2 169h0m2-37h0m1-193h0m0 182h0m1 404h0m1-379h0m3 419h0m0-23h0m3-379h0m2-22h0m3 28h0m1-70h0m3 67h0m5 404h0m1-448h0m0 79h0m1-85h0m6 52h0m2 460h0m2-79h0m0-23h0m0-342h0m1 476h0m1-508h0m1-4h0m1 407h0m1-20h0m2-337h0m1 364h0m3-454h0m0 15h0m5 61h0m1-105h0m1 496h0m0-349h0m1-63h0m1 429h0m2 3h0m4-515h0m1 490h0m1-388h0m4-25h0m0-65h0m0-20h0m4 455h0" stroke="#0A6E1E"/><path d="M1787 1363h0m4-493h0m7 127h0m2-14h0m0-27h0m0-116h0m1 72h0m1 411h0m0-429h0m2 35h0m2-9h0m0 32h0m0 401h0m0-6h0m1-528h0m0 603h0m3-431h0m3 346h0m1-506h0m3 564h0m1-455h0m2 0h0m0 459h0m4-91h0m0-355h0m2 384h0m0-398h0m1 426h0m2-375h0m2-179h0m1 552h0m3-477h0m1-11h0m1 464h0m1-347h0m12 339h0m2 22h0m4-470h0m2 408h0m2 47h0m3-479h0m0 65h0m2-75h0m5-46h0m5 128h0m0 359h0m3 19h0m0-359h0m0-10h0m3 517h0m2-107h0m3-15h0m3 26h0m9-473h0m1 86h0m6-177h0m3 683h0m1-565h0m2 49h0m1 24h0m0-11h0m2-100h0m10 558h0m3-119h0m4-380h0m2 513h0m4-462h0m7 315h0" stroke="#0A6E1E"/><path d="M1787 904h0m0 80h0m3-101h0m0-56h0m2 168h0m3 395h0m3-471h0m1 426h0m5-458h0m1 428h0m1-341h0m0-36h0m0 8h0m1 21h0m1 340h0m7 13h0m0-336h0m1-323h0m0 669h0m4-384h0m2 6h0m0 25h0m2-71h0m2 489h0m1-414h0m1 457h0m2-450h0m1 24h0m2-148h0m2 110h0m2 4h0m1 399h0m7-566h0m1 105h0m0-99h0m1 111h0m1 452h0m0-473h0m1-75h0m0 486h0m2 26h0m1-356h0m4-73h0m0 4h0m4 458h0m3-494h0m0 445h0m1 7h0m0-551h0m1 205h0m0-185h0m1 166h0m1 353h0m2 17h0m1-403h0m0-7h0m3-30h0m3-5h0m1-46h0m2 122h0m1-255h0m1 672h0m0-424h0m3 15h0m1-135h0m2 502h0m0 7h0m2 78h0m1-474h0m1 395h0m0-498h0m1 74h0m0 60h0m1-137h0m1 85h0m6 372h0m5-417h0m1 29h0m0-69h0m2 73h0m0 420h0m1 96h0m1-422h0m3 394h0m0-86h0m0 25h0m0-377h0m2 373h0m8-491h0m1 84h0m1 32h0m4 30h0m1-28h0m4 55h0m1 340h0m0-49h0m2-344h0m3-89h0m6 565h0" stroke="#0A6E1E"/><path d="M1952 516h0m0 178h0m0 463h0m0 172h0m1-697h0m1 597h0m0-431h0m5 418h0m2-805h0m0 763h0m1-485h0m3 408h0m0-317h0m0 612h0m0-850h0m1 76h0m0-83h0m1 663h0m1-609h0m3 161h0m0-211h0m0 174h0m0 44h0m0 438h0m3-465h0m2 442h0m1-70h0m3-585h0m0 72h0m4-139h0m0 282h0m2 385h0m1 224h0m0-124h0m1 32h0m0-632h0m0 154h0m0 515h0m0-185h0m0 121h0m1-530h0m0-40h0m0-4h0m2 52h0m3 4h0m0 515h0m1-456h0m0-166h0m1 62h0m0 19h0m1 476h0m1-467h0m1 604h0m0-173h0m1 8h0m0 63h0m0-505h0m1 544h0m1-429h0m0-76h0m0 529h0m1-524h0m1-79h0m5 697h0m1-217h0m7 219h0m0-62h0m2-783h0m0 854h0m0-696h0m1 457h0m2-380h0m1-223h0m1 171h0m2 45h0m1 537h0m0-546h0m5-34h0m2 529h0m1-438h0m2 434h0m0-597h0m1-7h0m0-11h0m2 90h0m1 15h0m0-190h0m1 119h0m3 558h0m0-51h0m1-18h0m1 209h0m0-24h0m0-604h0m1 31h0m0-4h0m1 70h0m1-150h0m1 12h0m0 92h0m0 413h0m0-553h0m1 189h0m0-155h0m1 508h0m0-20h0m0 134h0m1-660h0m4 684h0m1-132h0m2-354h0m1-126h0m0-208h0m2 833h0m1-189h0m0-328h0m1-252h0m2 134h0m0 18h0m3-165h0m1 639h0m4-472h0m1 738h0m1-244h0m3-456h0m0-31h0m1 641h0m2-189h0m0-709h0m1 728h0m0-463h0m0-214h0m0 351h0m5 360h0m0-513h0m0-236h0m1 879h0m1-126h0m0 14h0m5-28h0m2 36h0m2-95h0m0-381h0m1-99h0m0-53h0m2 89h0m0 452h0m0 144h0m2-475h0m1-54h0m2-86h0m2 691h0m0-725h0m1-5h0m0 36h0m0-16h0m1 144h0m0-218h0m0 69h0m1 98h0m0 391h0m1 195h0m1-583h0m1 495h0m3-548h0m1 602h0m2-813h0m0 722h0m0-79h0m0-435h0m1 35h0m2 540h0m0 42h0m1-119h0m0-99h0m1 222h0m0-165h0m0-602h0m0 198h0m4-291h0m0 922h0m1-664h0m1 61h0m2 464h0m0-64h0m2-7h0m1-403h0m0 386h0m1-461h0m2-73h0m0-89h0m1 146h0m1 33h0m0 40h0m0 388h0m0 89h0m1-494h0m1 100h0m1 371h0m1-499h0m1 69h0m0-358h0m0 930h0m3-645h0m1-29h0m1 508h0m0 113h0m6-128h0m2 56h0m0-640h0m0-76h0m0 623h0m1-418h0m2 496h0m0 8h0m1-427h0m1 550h0m1-625h0m1-203h0m0 636h0m1-385h0m0-75h0m1 726h0m1-666h0m0 675h0m0-211h0m1-637h0m1 608h0m2-541h0m1 35h0m0 455h0m1 62h0m0-30h0m1-492h0m0 470h0m2-536h0m2 521h0m1-461h0m1 4h0m0 405h0m0 57h0m0-663h0m2 883h0m1-749h0m3 87h0m0 642h0m1-595h0m0-26h0m3-85h0m1 16h0m0 511h0m2 109h0m2-125h0m0-598h0m3 64h0m1 603h0m0 7h0m1 103h0m0-680h0m1 517h0m1-486h0m0-225h0m1 109h0m0 62h0m0 655h0" stroke="#64D23C"/><path d="M1952 743h0m1-213h0m0 843h0m1 10h0m0-253h0m2 311h0m1-261h0m3-39h0m0-496h0m1 61h0m1 609h0m0-77h0m0 83h0m2-796h0m0 199h0m0-30h0m3-91h0m0 608h0m0-106h0m0 19h0m1-382h0m0 743h0m4-383h0m3 106h0m0-490h0m1 469h0m0-374h0m2-112h0m0 64h0m1-143h0m1 622h0m2-496h0m0-218h0m1 36h0m1 164h0m0-259h0m0 882h0m2-728h0m1 488h0m2-409h0m0-38h0m1 604h0m1-33h0m0-94h0m0 169h0m5-814h0m0 744h0m0-65h0m0-545h0m0 626h0m0-473h0m0 512h0m0 38h0m1-610h0m0 89h0m0 649h0m0-189h0m0-484h0m1-127h0m0 465h0m0 120h0m1-562h0m1 667h0m0-170h0m0 0h0m0-445h0m1 440h0m0 110h0m4-831h0m1 248h0m4 18h0m0 461h0m6 80h0m1-44h0m0-507h0m6-193h0m0 185h0m1 89h0m11 394h0m1-1h0m0-776h0m0 433h0m1 385h0m0 301h0m1-211h0m0-174h0m0 16h0m1 56h0m1-453h0m0 438h0m3-462h0m2 433h0m1-5h0m1-368h0m1-133h0m0 481h0m0 114h0m0-131h0m2-442h0m0 504h0m0-518h0m0 685h0m1-199h0m0-39h0m1-345h0m2-159h0m2 85h0m1 496h0m4-64h0m1 228h0m3-208h0m2 140h0m0-595h0m2-96h0m1 563h0m0-637h0m1-90h0m1 334h0m1 407h0m1-515h0m1 592h0m0-521h0m2 13h0m0 32h0m2 395h0m0 122h0m1 163h0m0-809h0m0-7h0m3 149h0m0-106h0m1 504h0m0-18h0m0-454h0m1-28h0m4 80h0m1-166h0m4 542h0m0-483h0m1 440h0m0 34h0m4-369h0m2 480h0m1 126h0m1-234h0m2-369h0m5 445h0m0-491h0m0 496h0m1 24h0m0-33h0m0-536h0m0 742h0m1-170h0m1-20h0m0-51h0m0-521h0m1 548h0m0-59h0m0-554h0m0 603h0m0 44h0m1-448h0m0-20h0m0-149h0m1 552h0m0-480h0m0 474h0m2-731h0m1 248h0m0 17h0m0 118h0m3-334h0m0 220h0m1-20h0m1 122h0m1 735h0m1-802h0m3-9h0m0-13h0m1 419h0m0-508h0m1 517h0m0 171h0m1-536h0m1 612h0m1-73h0m1-824h0m1 142h0m1-87h0m1 622h0m1-604h0m1 825h0m1-579h0m1 358h0m0-612h0m0 156h0m2-28h0m1 111h0m0 363h0m0-14h0m1-356h0m0 15h0m0-69h0m1-69h0m0 133h0m1-29h0m2 508h0m2-132h0m0 92h0m2-527h0m1 420h0m1-498h0m0-87h0m1 225h0m4 698h0m1-360h0m1 74h0m0-413h0m1-92h0m1 52h0m0-69h0m6 0h0m0 808h0m1-193h0m0-105h0m1-528h0m0 751h0m0-628h0m0 580h0m1-701h0m0 674h0m0-551h0m1 421h0m0 23h0m1-548h0m0 535h0m1-645h0m0 612h0m1-495h0m4 624h0m1-142h0m4-10h0m3 3h0m0-20h0m5-439h0m1-96h0m0 100h0m1 23h0m1-120h0m1 641h0m0-110h0m1-545h0m1 617h0m1-481h0m1-190h0m2 939h0m1-688h0m1 441h0m0-88h0m0-585h0m1-25h0m0 143h0m0 9h0m0 30h0m0 26h0m0 419h0m0 6h0m0 15h0" stroke="#64D23C"/><path d="M1952 462h0m0 60h0m0 161h0m0 66h0m0 551h0m0 78h0m0 129h0m2-306h0m2-13h0m3-661h0m3 582h0m0-434h0m2 425h0m0-363h0m0-75h0m1 466h0m0-451h0m1 82h0m1-109h0m3 609h0m1-628h0m4 63h0m2 21h0m1-157h0m2 916h0m1-833h0m0 102h0m1-275h0m0 248h0m1 447h0m0-509h0m1 146h0m0 358h0m0-458h0m1 104h0m0 370h0m3 216h0m0-299h0m0-404h0m0 37h0m1-193h0m0 53h0m1 539h0m3-525h0m0-32h0m2 583h0m1-563h0m1 142h0m2-54h0m1 113h0m0 352h0m0 51h0m1 206h0m1-647h0m1 385h0m0-632h0m0 192h0m1 138h0m0-83h0m1 460h0m1-55h0m1 114h0m0-693h0m1 553h0m0 174h0m1-156h0m1-455h0m1 468h0m0 170h0m1-646h0m1 475h0m0-583h0m1 561h0m0 63h0m0 30h0m1-20h0m4-442h0m1 425h0m1-377h0m3 423h0m1-109h0m0 81h0m4-86h0m0-468h0m2 495h0m1 101h0m1-101h0m3-637h0m1 179h0m0 549h0m0 16h0m1-505h0m0-197h0m1 206h0m0 392h0m0-352h0m5 433h0m1-77h0m0 68h0m0 112h0m1-65h0m1-560h0m0 682h0m2-12h0m0-623h0m2 478h0m1-408h0m0 456h0m1-54h0m0-471h0m5-87h0m1 47h0m2-118h0m0 629h0m1-598h0m2-43h0m0 366h0m2 288h0m1-630h0m0 558h0m1-695h0m0 747h0m1-704h0m0 200h0m2 513h0m1-657h0m1 181h0m0-34h0m2-81h0m1 484h0m1 193h0m1-100h0m1-548h0m0-11h0m2-165h0m1 644h0m0 149h0m2-629h0m1 51h0m2-72h0m2 97h0m0 497h0m3-36h0m3 122h0m4-758h0m1 562h0m0-333h0m1 427h0m1-493h0m1 453h0m0-496h0m0 58h0m0-77h0m4 451h0m1 59h0m1 11h0m0-475h0m0-71h0m0-119h0m1 99h0m0 12h0m0 111h0m0-191h0m0 3h0m1 585h0m1 341h0m1-13h0m0-121h0m1-610h0m0-213h0m0 15h0m1 651h0m0 92h0m0-524h0m0 515h0m1-173h0m0-468h0m4 586h0m0-480h0m2 632h0m1-243h0m0-440h0m0-114h0m1 153h0m0-245h0m1 191h0m0-28h0m0 709h0m1-222h0m1 46h0m2-553h0m0 103h0m1-7h0m1-130h0m0 208h0m3 423h0m2-514h0m1-69h0m2 120h0m0-18h0m1 418h0m2 21h0m0-51h0m0 198h0m1-830h0m0 68h0m1 140h0m0 70h0m0-242h0m0 108h0m1-56h0m0 28h0m0 704h0m0-525h0m0 332h0m1-440h0m0-60h0m0 145h0m1 390h0m1 28h0m0-41h0m0-46h0m0 36h0m3 119h0m0-543h0m3 31h0m0 495h0m1-558h0m3 448h0m1-419h0m1-140h0m0 153h0m1-24h0m0 729h0m0-635h0m2-179h0m0 538h0m1-561h0m0 98h0m0 687h0m0-156h0m1 152h0m1-205h0m1 88h0m0 100h0m1-157h0m1-362h0m0-399h0m0 819h0m1-702h0m0 120h0m1-108h0m0-107h0m0 781h0m0-402h0m0 376h0m2-499h0m0 668h0m0-194h0m0-604h0m0 652h0m1-688h0m0 599h0m0-347h0m2-107h0m0 548h0m1-556h0m0 414h0m0 91h0m1-539h0m1 75h0m0-301h0m1 964h0m0-783h0m2-18h0m1-39h0m1 159h0m1-102h0m1 743h0m1-704h0m8-14h0m1 197h0m0 544h0m1-141h0m1-71h0m3 12h0m1-374h0m0-273h0m1 223h0m3-185h0m0 186h0m0 401h0m2-422h0" stroke="#64D23C"/><path d="M1953 732h0m0 411h0m2 3h0m1-742h0m0 1041h0m4-811h0m2 489h0m3-473h0m0 20h0m4-107h0m1 142h0m0 453h0m5-42h0m0 25h0m3 193h0m3-719h0m0 138h0m1 501h0m2-570h0m2-25h0m0 52h0m0-255h0m1 948h0m1-243h0m0-418h0m1 488h0m0-83h0m0-505h0m1 488h0m0-17h0m1 115h0m0-112h0m1-624h0m3 248h0m1-254h0m2 272h0m0 441h0m0-675h0m1 671h0m1-456h0m1 592h0m0-949h0m1 924h0m0-727h0m0 71h0m1 579h0m0-73h0m0 60h0m1-501h0m2 415h0m2 190h0m3-693h0m0 685h0m1-567h0m0 56h0m1-86h0m1 18h0m0 592h0m0-790h0m0 105h0m0 553h0m1-478h0m1 36h0m1-60h0m3 584h0m5-110h0m4-431h0m2 629h0m2-170h0m1-93h0m1 312h0m2-266h0m0-32h0m0 16h0m0-446h0m1 415h0m0-460h0m1 145h0m2-160h0m0 559h0m2-506h0m1-50h0m1 15h0m1 471h0m0 179h0m2-76h0m0-511h0m1 605h0m1-588h0m0 12h0m1-148h0m0 595h0m1-436h0m1-62h0m1 32h0m5-123h0m0-76h0m1 609h0m1-416h0m0-60h0m0 510h0m2-477h0m0-240h0m1 697h0m3-446h0m1-14h0m4 451h0m0-535h0m0 121h0m2-163h0m3 88h0m0 702h0m1-626h0m4 423h0m1-545h0m3 639h0m1-620h0m1 837h0m0-302h0m5-574h0m1 114h0m5 599h0m2-520h0m0 472h0m1-441h0m1-92h0m0-95h0m1 192h0m0 330h0m1-391h0m3-167h0m3-119h0m0 244h0m1 459h0m0-539h0m1 53h0m0 507h0m0-470h0m0-51h0m1 19h0m1 13h0m0 88h0m0 361h0m0 77h0m1-93h0m1-541h0m2 680h0m1-615h0m1 490h0m0-698h0m1 716h0m0-517h0m1 713h0m1-77h0m0-712h0m2 181h0m0 534h0m1-592h0m0 23h0m1-200h0m1 256h0m4 329h0m0 143h0m1-496h0m3 528h0m1-129h0m1-409h0m3 400h0m2 135h0m1-552h0m0-30h0m0 709h0m1-688h0m1-253h0m0 747h0m0 60h0m1-627h0m1 620h0m0 36h0m0-530h0m2 57h0m0-47h0m1 440h0m1-542h0m1-134h0m2 254h0m2-94h0m0 442h0m1 102h0m0-96h0m0-304h0m1-174h0m2 495h0m0-372h0m1-205h0m1 133h0m0-287h0m0 836h0m1-635h0m0 558h0m0-534h0m1-62h0m0 579h0m0-420h0m3 513h0m1 49h0m1-576h0m1-30h0m1 512h0m0 163h0m0-92h0m1-487h0m0-99h0m0 51h0m0 517h0m1 7h0m0-540h0m0 431h0m1-4h0m0-36h0m1 53h0m0-753h0m1 212h0m0 114h0m0 415h0m0-542h0m1 512h0m1-566h0m1 122h0m1-267h0m4 206h0m1 60h0m1-64h0m0 86h0m0 510h0m5-420h0m0-91h0m1-138h0m2 81h0m1 598h0m0-84h0m1-503h0m2 74h0m1-231h0m2 771h0m3 102h0m0-269h0m2-489h0m0 67h0m0 512h0m0 66h0" stroke="#64D23C"/><path d="M1952 611h0m0 59h0m0 466h0m1-413h0m1 423h0m1 17h0m0 41h0m2-503h0m3 558h0m2-169h0m2 164h0m1-581h0m0 8h0m1 429h0m1-409h0m1 67h0m0-122h0m0-124h0m0 176h0m0 486h0m1-486h0m1 31h0m5 642h0m3-595h0m1 532h0m2-749h0m4 725h0m1-573h0m3 501h0m1-598h0m0-88h0m0 653h0m3-481h0m2 732h0m0-286h0m0-491h0m1 666h0m0-438h0m0 342h0m1-480h0m0-39h0m0-66h0m0 52h0m1-70h0m0-234h0m1 806h0m0 221h0m1-216h0m0 49h0m0-34h0m1-685h0m0 170h0m0 84h0m3-313h0m1 366h0m2-201h0m2 23h0m0 606h0m0-580h0m2 548h0m2-571h0m0 489h0m0-512h0m1-175h0m0 387h0m1 377h0m1-640h0m1 546h0m1-493h0m0-96h0m2 742h0m2-543h0m2-102h0m3 630h0m2-480h0m3 522h0m1-148h0m5-424h0m0-215h0m0 55h0m2 603h0m0-6h0m6-33h0m1-446h0m1-5h0m0-39h0m1-200h0m0 131h0m1-37h0m1 691h0m0-579h0m1 766h0m0-840h0m0 131h0m0 413h0m3-382h0m6 400h0m0-430h0m2 573h0m1-549h0m1 56h0m0-438h0m1 793h0m2 73h0m0 176h0m1-920h0m1 186h0m1 633h0m1 6h0m0-806h0m2 134h0m1 131h0m1-199h0m0 770h0m1-646h0m0 92h0m0 399h0m1-483h0m0-184h0m1 687h0m1-531h0m2-102h0m0 65h0m1 792h0m1-662h0m0 367h0m1-387h0m1-192h0m1 197h0m1 401h0m1 124h0m2-148h0m1 86h0m1-520h0m2 630h0m2-590h0m2 609h0m0 119h0m0-197h0m0-63h0m1-512h0m1-47h0m2 4h0m2 760h0m2-789h0m2 488h0m0 43h0m1-385h0m0-96h0m1 617h0m0-149h0m1-550h0m0 154h0m0-13h0m0 400h0m0 38h0m1-507h0m0 493h0m1-447h0m0 795h0m0-743h0m0 72h0m1 474h0m0-696h0m0-38h0m1 543h0m0-421h0m0 38h0m0 479h0m4-585h0m0 84h0m1 40h0m0 423h0m0-536h0m3 88h0m1 588h0m2-128h0m0-422h0m1 653h0m0-257h0m1 63h0m6-423h0m1 399h0m1 138h0m2-131h0m2-554h0m1-204h0m0 699h0m0 265h0m1-212h0m0-20h0m1-477h0m0 500h0m1 18h0m0-721h0m1 735h0m0-431h0m1 444h0m2-587h0m0 126h0m1-133h0m6 898h0m4-38h0m2-753h0m0 9h0m1 416h0m0-505h0m1-14h0m0 456h0m2-393h0m0-126h0m2 681h0m0-583h0m0 61h0m1 33h0m2-232h0m0 926h0m0-255h0m1-512h0m0 527h0m0-424h0m1 396h0m0-519h0m0 30h0m0 439h0m0 128h0m0-498h0m1 455h0m1-27h0m1-526h0m1 497h0m0 162h0m1-877h0m0 636h0m0 201h0m3-590h0m0 0h0m0 554h0m1 0h0m1-584h0m0 517h0m4-125h0m3-363h0m0 23h0m4 541h0m1-157h0m1 232h0m3-33h0m2-607h0m1 413h0m0-384h0m1 405h0m0-412h0m0-101h0m1 556h0m1-43h0m3-486h0m0 84h0m0 439h0" stroke="#64D23C"/><path d="M1952 708h0m0-203h0m1 205h0m1-297h0m0 172h0m2 555h0m2-536h0m1 663h0m1-696h0m2 746h0m0-548h0m1-46h0m0 6h0m1 482h0m2-461h0m1-20h0m0-226h0m1 650h0m9 192h0m1-83h0m1-164h0m2 152h0m1-728h0m5 862h0m0-39h0m1-802h0m0 210h0m1 62h0m1-135h0m0 639h0m2-645h0m1 484h0m1 80h0m1-93h0m0 175h0m0-220h0m0-421h0m1 15h0m0 437h0m0-420h0m1-121h0m1-152h0m0 704h0m1-542h0m1 133h0m0 428h0m0 118h0m2-548h0m0-67h0m2 93h0m2 798h0m0-320h0m2-630h0m3-118h0m1 171h0m1 15h0m1-58h0m0 760h0m0-697h0m1-6h0m0 504h0m0-454h0m0 819h0m0-387h0m1-29h0m1 210h0m3-241h0m0-361h0m5-55h0m1 501h0m1-24h0m2 247h0m4-695h0m0 386h0m2-417h0m1-258h0m1 163h0m1 555h0m0-727h0m1 709h0m0-420h0m0 6h0m0-48h0m2-133h0m1 608h0m1-550h0m1 14h0m0 707h0m2-140h0m2-55h0m0-391h0m1 492h0m2-692h0m0 619h0m1 228h0m2-48h0m0-713h0m7 828h0m0-824h0m1-58h0m1 844h0m1-254h0m0 199h0m2-639h0m0-184h0m0 210h0m0 485h0m1-663h0m2 580h0m1 104h0m0-86h0m0 67h0m1 113h0m1-780h0m2 594h0m1-395h0m2 370h0m0-603h0m1 199h0m1-40h0m4 528h0m0 33h0m1-75h0m1 122h0m1-604h0m0 582h0m2-588h0m0-77h0m0 139h0m0 633h0m2-700h0m2 41h0m3 426h0m1 44h0m1-606h0m2 213h0m2 382h0m1 235h0m0-765h0m0 84h0m1 31h0m1-19h0m1-110h0m2-139h0m3 639h0m0 167h0m0-605h0m2 473h0m0-541h0m0 635h0m0-552h0m0 717h0m0-222h0m1-576h0m0 115h0m0-54h0m0 476h0m1 155h0m0-152h0m1-435h0m0 399h0m1-655h0m2 710h0m0-447h0m0 605h0m0-460h0m1 408h0m1-114h0m1-739h0m1 873h0m0 204h0m2-266h0m0-87h0m0-603h0m0 216h0m0 19h0m1 435h0m1-597h0m2 18h0m0 579h0m0-493h0m0 509h0m7-730h0m1 616h0m0 25h0m2-345h0m1 388h0m0-442h0m1 455h0m1 107h0m1-605h0m1 452h0m1 15h0m1-515h0m0 446h0m0 14h0m0-556h0m1 672h0m0-564h0m0 494h0m0-407h0m1-35h0m2 15h0m1 17h0m1 416h0m3-550h0m1 646h0m2 15h0m0-674h0m2 542h0m0-623h0m3 699h0m1-581h0m1 668h0m0-600h0m0 113h0m0-145h0m0 496h0m1 25h0m1-576h0m1-145h0m0 804h0m1-692h0m0 662h0m1-467h0m0-152h0m1 501h0m0-416h0m0 69h0m1 470h0m1-97h0m0-515h0m0 16h0m0 492h0m1-407h0m0 401h0m0 123h0m0 230h0m0-176h0m0-511h0m1-100h0m0 491h0m2-551h0m0 82h0m0-135h0m1 766h0m0 26h0m0-836h0m1 49h0m2 604h0m0-834h0m0 410h0m1-152h0m1 469h0m2 22h0m6-403h0m2 37h0m2 421h0m0-636h0m1 193h0m1 425h0m2 86h0m2-725h0m0 665h0m1-16h0m1-44h0m3 163h0m0-530h0m0-136h0m0 568h0m1-458h0m1 21h0m0 32h0m1-189h0m0 226h0m0 309h0m0 227h0" stroke="#64D23C"/><path d="M1952 580h0m0 665h0m0-466h0m0-163h0m2 25h0m2 144h0m2-363h0m0-57h0m0 780h0m3-366h0m0 511h0m1-96h0m4-6h0m1-529h0m1 479h0m1 28h0m4-583h0m4 154h0m1-10h0m2 657h0m1-598h0m2 397h0m0-16h0m1 141h0m0-685h0m2 617h0m0-523h0m0-8h0m2-182h0m0 65h0m0 605h0m1-462h0m0 563h0m0-561h0m1 414h0m1-22h0m1 320h0m3-734h0m1 502h0m1 47h0m0-509h0m0 586h0m1-932h0m0 765h0m1-6h0m0-521h0m0 518h0m0-536h0m1 602h0m1 38h0m1-638h0m1 541h0m0-604h0m3 78h0m7 491h0m1 24h0m0 114h0m1-645h0m0 539h0m0 150h0m4-832h0m3 624h0m1-4h0m0 221h0m1-853h0m0 260h0m4 2h0m7-13h0m0 391h0m1-543h0m2 535h0m2 63h0m0 22h0m0-372h0m1 306h0m2-443h0m1 111h0m1-63h0m0 611h0m1-605h0m2-98h0m0 708h0m0-170h0m1-470h0m0 448h0m4-464h0m1 68h0m5-22h0m1 406h0m2-441h0m1-23h0m0 645h0m0-203h0m0-461h0m1 454h0m0 55h0m1 165h0m0-621h0m1 477h0m0-41h0m0-555h0m3 104h0m1 65h0m1 437h0m1-481h0m1 27h0m0 520h0m1-112h0m1 181h0m0-5h0m1-789h0m1 215h0m1-10h0m2 510h0m1-751h0m1 701h0m1-399h0m0-145h0m0 506h0m0-514h0m1-223h0m0 781h0m2-737h0m1 146h0m1 593h0m7-575h0m1 541h0m1-17h0m2-516h0m1 654h0m2-688h0m1-6h0m0 564h0m2 53h0m0-505h0m1-11h0m4-223h0m0 695h0m1-76h0m0-494h0m1-151h0m1 709h0m1 157h0m0-782h0m0 678h0m1-722h0m0 895h0m0-167h0m1-33h0m0-605h0m2 550h0m1-565h0m0 724h0m2-630h0m0-141h0m0 222h0m0 422h0m0-10h0m0 24h0m1 2h0m0-61h0m1-521h0m0-102h0m1 230h0m0 423h0m1 48h0m1-427h0m1-180h0m1 587h0m0 9h0m1 153h0m0-693h0m1 650h0m2-714h0m1 61h0m0-91h0m0 557h0m1 223h0m1-868h0m0 240h0m0-257h0m0 215h0m7-110h0m1 904h0m0-915h0m0 47h0m1 555h0m1 173h0m0-67h0m2 159h0m1-198h0m1 59h0m0-136h0m0-700h0m1 99h0m0 676h0m0 32h0m2-36h0m0 88h0m1-603h0m0 65h0m4-311h0m0 188h0m0-191h0m4 263h0m0 35h0m1-11h0m0 6h0m1 434h0m0 10h0m0-41h0m0-368h0m0 360h0m1 168h0m0-603h0m1 34h0m0 508h0m1-623h0m0 722h0m1-966h0m1 330h0m1 553h0m1-489h0m1 433h0m0-375h0m1-45h0m0-76h0m0-34h0m1 588h0m0-571h0m0 522h0m0-449h0m1 46h0m0-50h0m1-199h0m0 628h0m0-430h0m2-65h0m0 111h0m0 374h0m1-502h0m2-48h0m1 700h0m0-61h0m2-107h0m3-8h0m1-56h0m6 167h0m0-535h0m1-63h0m0-160h0m2 137h0m1-68h0m2 878h0m0-243h0m0 170h0m0-879h0m4 664h0m1-469h0m1 22h0m0-156h0m1 153h0m2-268h0m0 102h0m0 636h0" stroke="#64D23C"/><path d="M1952 649h0m0 30h0m0 18h0m0 6h0m0 24h0m0 590h0m0-745h0m0 773h0m3-179h0m0 71h0m0-673h0m1-174h0m0 766h0m1 152h0m0 171h0m1-238h0m1-128h0m1-394h0m0 51h0m1-226h0m4 173h0m1 424h0m0-6h0m1-45h0m0 57h0m3-30h0m0-698h0m1 257h0m2 123h0m2-99h0m1-103h0m5 538h0m0-414h0m0 397h0m2-373h0m2-361h0m0 364h0m1 42h0m1-222h0m1-23h0m0 137h0m1 64h0m2-75h0m0-184h0m1 700h0m0 306h0m1-1118h0m1 336h0m1-41h0m0-14h0m0-15h0m2 68h0m1 446h0m0-485h0m1 540h0m1-390h0m0-310h0m0-58h0m0 226h0m1 99h0m0 375h0m0-456h0m1 12h0m0 36h0m0 563h0m0-500h0m1-164h0m1-66h0m1 680h0m0-53h0m3-475h0m1 387h0m1-306h0m2-110h0m2-15h0m0 41h0m1 17h0m9 2h0m0-125h0m3 495h0m1-13h0m4 184h0m0-539h0m3-20h0m1-63h0m1 572h0m0-494h0m1 435h0m2-512h0m0-185h0m3 731h0m1-528h0m0 5h0m1-72h0m1-158h0m2 24h0m3 258h0m0 43h0m1 473h0m0-545h0m2 90h0m1 348h0m4-728h0m1 997h0m1-671h0m3 18h0m2-55h0m0 424h0m1 36h0m1-463h0m1-3h0m0 22h0m1-54h0m0-255h0m0 325h0m1 29h0m0 403h0m0-559h0m4-34h0m3 121h0m2-9h0m1 21h0m1 99h0m2-94h0m0 606h0m0-103h0m1-463h0m5 422h0m0-44h0m2-369h0m0-181h0m4 181h0m1 332h0m2-360h0m2 16h0m1 445h0m1-469h0m0 445h0m2 79h0m1-566h0m1 47h0m2-264h0m1 340h0m1-54h0m0 476h0m1-520h0m1 461h0m0-62h0m0-310h0m1 457h0m1-587h0m0 31h0m0-60h0m1 569h0m0-444h0m1-74h0m0 591h0m0-144h0m0-429h0m1-17h0m2 655h0m0-147h0m2-25h0m0-656h0m1 606h0m1-504h0m1 52h0m2 442h0m0-422h0m0-39h0m1 615h0m1-108h0m0-733h0m2 826h0m2-550h0m1 521h0m0-500h0m2-131h0m0-62h0m1 571h0m1 98h0m1 69h0m0-494h0m1 466h0m0-678h0m0 148h0m3 13h0m0-69h0m0 70h0m1 528h0m0-18h0m0-148h0m1-381h0m1 37h0m0-125h0m0 525h0m0 41h0m0 19h0m1-72h0m1-11h0m0-387h0m0-124h0m2 817h0m1-237h0m2-473h0m0 436h0m3-493h0m3 691h0m0-604h0m1 435h0m0-516h0m1 500h0m0-442h0m0-172h0m0 735h0m1-40h0m1-97h0m1-51h0m0 217h0m2-772h0m0 695h0m1-548h0m2-156h0m0 65h0m0 143h0m2 570h0m0-686h0m1-97h0m0 806h0m1-601h0m1-85h0m0 95h0m1-202h0m0 920h0m0-632h0m1 357h0m0-469h0m1 576h0m0-567h0m2 13h0m0-27h0m2 412h0m1-383h0m0-281h0m1 322h0m0-343h0m1 667h0m2 55h0m1-531h0m1 495h0m3-371h0m0 377h0m1-577h0m1-16h0m1-32h0m3 157h0m1-44h0m1 622h0m2-536h0m0 92h0m1 4h0m0-248h0m1 113h0m1-118h0m0-137h0m1 701h0m0-629h0m1 99h0m1 636h0m0-571h0m1 563h0m0-29h0m0-485h0m0 32h0m0 529h0" stroke="#64D23C"/><path d="M2212 1428h0m0-377h0m1-12h0m1 397h0m0 125h0m2-165h0m2 54h0m7-426h0m4 370h0m2-331h0m0 354h0m4-473h0m4 149h0m3 339h0m1-316h0m1 345h0m1-393h0m0-98h0m3 463h0m3-304h0m1 368h0m1-385h0m0 392h0m1 23h0m1-90h0m2 38h0m0-500h0m5 107h0m0-145h0m11 106h0m1 467h0m1 73h0m3-154h0m0 64h0m0-71h0m2 44h0m4-8h0m0-372h0m1-15h0m2-33h0m0-57h0m1 16h0m2 110h0m1 362h0m0-547h0m2 551h0m2-443h0m0-8h0m2 92h0m5-237h0m1 558h0m3-567h0m1 551h0m3-16h0m1-484h0m0 493h0m1-420h0m0-122h0m1 99h0m1 51h0m0 42h0m6 355h0m5-354h0m0-111h0m2 465h0m2 26h0m1-329h0m0-49h0m2-129h0m2 637h0m2-66h0m2-42h0m1-486h0m4 93h0m1 351h0m6 19h0m0-354h0m1 13h0m1-170h0m1-59h0m1 641h0m1-96h0m1-433h0m1 78h0m6-81h0m2-17h0m0 43h0m3 463h0m7 39h0m0-24h0m1-57h0m0 3h0m1 56h0m2 96h0m0-584h0m0 79h0m1-51h0m1 423h0m5-42h0m0 76h0m5-376h0m10 352h0m1-406h0m0 17h0m4 348h0m1-374h0m0 447h0m9-413h0m6 13h0m1 8h0m2 26h0m1-106h0m1 453h0m3-383h0m1 360h0m1-471h0m1 85h0m0 464h0m1-614h0m1 135h0m1 394h0m0-6h0m1-530h0m0 126h0m0 580h0m1-564h0m2 326h0m1-389h0m1 55h0m0-27h0m1 23h0m1 373h0m0-387h0m0 417h0m1-585h0m3 177h0m1 392h0m3-365h0m0 442h0m1 9h0m2-588h0m1 100h0m1 372h0m2 45h0m0-387h0m0 421h0m1-424h0m0 474h0m5-448h0m0-156h0m1 479h0m1-351h0m2 370h0m0-523h0m1 693h0m3-191h0m0-341h0m0 42h0m1 4h0m2-141h0m1 150h0m0 483h0m0 3h0m4-114h0m0-469h0m1-39h0m0 9h0m1 58h0m3-66h0m4 412h0m2-465h0m3 476h0m5-471h0m4 79h0m0 48h0m0 334h0m1 46h0m1-352h0m0-86h0m0 613h0m1-511h0m6-184h0m0 52h0m0 137h0" stroke="#B95AF5"/><path d="M2212 914h0m0 96h0m0 458h0m0 3h0m1-456h0m0 28h0m0-59h0m2 433h0m1-451h0m0 598h0m1-131h0m0-394h0m1-114h0m1 149h0m1 392h0m0-30h0m1-323h0m2-150h0m3 536h0m1-382h0m2-124h0m0 546h0m1-469h0m1 8h0m1 483h0m3-504h0m1 405h0m0-408h0m0 537h0m1-113h0m2-438h0m0 387h0m1-430h0m0 483h0m1-419h0m1 53h0m0 314h0m5 65h0m0-400h0m1-162h0m4 84h0m0 420h0m0-6h0m1-407h0m1 441h0m2 81h0m5-550h0m1 560h0m1-112h0m0-458h0m2 433h0m3-345h0m1-137h0m2 592h0m4-30h0m1-654h0m3 125h0m0 41h0m3 30h0m1 490h0m0 31h0m1-545h0m1 13h0m1 74h0m0-24h0m1-110h0m0 39h0m1 18h0m0 358h0m0 106h0m1 38h0m4-409h0m2-48h0m2 391h0m2-433h0m7-43h0m1-29h0m0-108h0m2 622h0m1 21h0m5-459h0m0 399h0m4-398h0m1 528h0m1-455h0m1 336h0m3 18h0m1-15h0m2-520h0m1 583h0m2-86h0m0 29h0m0-39h0m0-329h0m3-33h0m3-11h0m1 388h0m0-41h0m2 107h0m3-533h0m0 104h0m0-98h0m1 103h0m2-22h0m2 372h0m3-364h0m0 366h0m2-371h0m7 48h0m0-85h0m2-84h0m5 510h0m0 14h0m1-414h0m0 2h0m1 340h0m0-361h0m3 105h0m1 388h0m0-429h0m2-7h0m1-9h0m6 369h0m3-409h0m4 395h0m3-319h0m2-65h0m3 444h0m1-37h0m1-385h0m1 381h0m0-32h0m1 43h0m0-18h0m0-405h0m2 392h0m0-393h0m1 73h0m0 339h0m0-323h0m4-108h0m8 61h0m3 10h0m1 417h0m2-5h0m2-385h0m1 373h0m3 144h0m1-603h0m0 48h0m0 590h0m1-165h0m2-567h0m1 123h0m1 416h0m2-385h0m1 432h0m0-42h0m2-385h0m2 294h0m1-303h0m0 333h0m0-381h0m1 35h0m0 296h0m1-353h0m0 451h0m0-73h0m1-330h0m4 354h0m0-358h0m4 35h0m0-34h0m1 355h0m2 9h0m1-546h0m1 558h0m2-430h0m1 86h0m1-45h0m1 355h0m2 17h0m1 23h0m1-672h0m1 702h0m1-10h0m4-381h0m2-54h0m1-21h0m0 116h0m5-23h0m0 293h0m0-474h0m3 138h0m0 318h0m3-309h0m2 386h0m0-503h0m5 81h0m2 452h0m0-408h0m0-40h0m1 403h0m3 162h0m1-612h0m2 481h0m1-396h0m0 453h0m2-94h0m0-397h0m1-4h0m0-2h0m2-23h0m1 487h0m0-480h0m0 496h0m2-444h0m1 28h0m0-80h0m0 56h0" stroke="#B95AF5"/><path d="M2214 1536h0m1-480h0m1 21h0m3 376h0m2-27h0m4 90h0m0-455h0m0 387h0m2-532h0m1 130h0m1 418h0m1-7h0m1-367h0m0-57h0m1 438h0m0-390h0m9-51h0m3 411h0m4-379h0m1-44h0m0 85h0m1-71h0m1 453h0m0-389h0m1-28h0m1 380h0m5-392h0m4-60h0m0 42h0m9 12h0m0 30h0m1-25h0m1 9h0m1 17h0m1-117h0m2 573h0m5-97h0m1-357h0m6-17h0m0-113h0m1 468h0m1-571h0m0 170h0m2 587h0m4-509h0m0-11h0m0-127h0m2 485h0m0 79h0m1-81h0m0-14h0m7-586h0m1 212h0m0 454h0m2-458h0m0-128h0m1 575h0m1 42h0m0-161h0m1-397h0m0 29h0m0 511h0m3-465h0m1 392h0m4-583h0m5 158h0m3 415h0m1-444h0m0 24h0m2 401h0m0-355h0m3-10h0m0 41h0m1 413h0m1-419h0m3 320h0m1-353h0m1-29h0m0 422h0m0 7h0m2-565h0m0 141h0m0 452h0m3-71h0m2-480h0m1 447h0m1 67h0m0-60h0m3-395h0m1 459h0m1 127h0m0-44h0m1-477h0m1 394h0m1 24h0m3-79h0m0-331h0m4 19h0m1 333h0m0-17h0m1 228h0m0-190h0m3-48h0m0 33h0m3 59h0m0-586h0m1 13h0m0 496h0m1-304h0m3-17h0m1 345h0m6 19h0m1-331h0m2 302h0m0-403h0m3 444h0m0 25h0m1-475h0m0 433h0m1 56h0m4 70h0m1-526h0m1 55h0m0-79h0m1 462h0m1-68h0m1-426h0m0 466h0m3-72h0m0-300h0m4 422h0m3-504h0m2 431h0m1 114h0m1-68h0m0-630h0m2 625h0m3-431h0m1-51h0m1 458h0m0-581h0m1 159h0m0 40h0m3 339h0m2-368h0m0 458h0m1-8h0m0 15h0m0-26h0m0-382h0m1 438h0m0-698h0m1 603h0m1-427h0m1 58h0m1-212h0m1 603h0m1-63h0m0-380h0m0 398h0m3-445h0m0 34h0m1-75h0m0 474h0m1-363h0m0 391h0m0-13h0m1-404h0m1 398h0m2-333h0m3-31h0m3-60h0m1 59h0m1 476h0m1-512h0m4-24h0m2 476h0m2-468h0m0-7h0m1 437h0m5 5h0m2-426h0m1 85h0m0-138h0m1 77h0m1 442h0m0-36h0m1 10h0m1-4h0m3 16h0m1-376h0m0 42h0m0 285h0m1 14h0m0-44h0m0-371h0m2 19h0m0 82h0m4 342h0m0-33h0m0-328h0m0 474h0m4-516h0m0-64h0m1 421h0m0 14h0m0 17h0m1 68h0m4-484h0m2 68h0m4-118h0m0 26h0m2 444h0m0-362h0m1 381h0m0-353h0m3-80h0m1 34h0m0 368h0m2 6h0m0 36h0m0-592h0m0 145h0m0 27h0m0 373h0m0 74h0m0 6h0m0 42h0" stroke="#B95AF5"/><path d="M2212 809h0m0 100h0m0 62h0m0 93h0m0 350h0m0 93h0m3-551h0m0 449h0m1 35h0m1 103h0m7-455h0m0-240h0m2 595h0m1 89h0m1-95h0m1 38h0m3-621h0m0 233h0m2 341h0m0-369h0m2 402h0m2-381h0m0 360h0m4 7h0m1 89h0m7-490h0m1 41h0m1 387h0m0-382h0m1 368h0m1-396h0m1 14h0m6-291h0m8 186h0m4 464h0m6 106h0m0-499h0m2 410h0m3-431h0m1-81h0m0 520h0m3 18h0m1-383h0m0 302h0m0-409h0m1-45h0m2 496h0m6-508h0m0 174h0m1-126h0m2 27h0m6 34h0m2 27h0m1 406h0m1-28h0m1-449h0m0 481h0m0-62h0m0 26h0m3-505h0m3 13h0m1 8h0m0 470h0m2-437h0m2 545h0m0-24h0m1-121h0m1-334h0m2-166h0m2 557h0m0-491h0m0 446h0m1-403h0m2 518h0m2 22h0m0-65h0m1-454h0m4 522h0m1-677h0m1 202h0m1 35h0m1-64h0m1-110h0m1 119h0m2-111h0m2 128h0m1 420h0m1-610h0m0 53h0m1 29h0m1 89h0m2 35h0m1-83h0m1 530h0m0-474h0m4-55h0m3-8h0m1 496h0m0-82h0m0-549h0m2 662h0m2-77h0m5 49h0m1-418h0m2 20h0m0 349h0m1-44h0m0 63h0m2-408h0m1 405h0m2 1h0m6-329h0m2 279h0m1-344h0m2-12h0m1 414h0m0 26h0m2-65h0m3-366h0m0-146h0m2 56h0m2 532h0m1-532h0m0 79h0m0 360h0m1-331h0m3 458h0m7-494h0m3-58h0m1 612h0m4-139h0m0-489h0m2 711h0m1-705h0m1 105h0m0 33h0m1-165h0m0 515h0m1-27h0m2-444h0m2 424h0m3 58h0m0-412h0m1-24h0m1 29h0m1-37h0m2 399h0m1-9h0m0 27h0m2-364h0m0 353h0m2-482h0m1 119h0m0-74h0m4 504h0m2-63h0m0-622h0m1 674h0m0-59h0m1 26h0m1-513h0m0 481h0m1-3h0m1-353h0m0-66h0m0-183h0m1 595h0m1-341h0m2 365h0m0-52h0m0 27h0m0-37h0m1-492h0m3 125h0m1 465h0m2-73h0m0-364h0m1 419h0m0-423h0m0 40h0m1-124h0m2 474h0m2-45h0m0-349h0m0 12h0m3-75h0m1 417h0m0 187h0m0-536h0m3-120h0m1 115h0m2-105h0m5 501h0m0 28h0m4-402h0m1 432h0m0-539h0m1 459h0m0-362h0m2-190h0m4 557h0m0-566h0m1 595h0m0 24h0m1-481h0m2 92h0m0-157h0m0 576h0m1-16h0m2-49h0m3-34h0m0 60h0m0 49h0" stroke="#B95AF5"/><path d="M2212 944h0m0 510h0m2-22h0m2-411h0m2-152h0m1 56h0m0 598h0m1-86h0m2-27h0m2 71h0m0-3h0m1-451h0m1-88h0m3 474h0m0-31h0m0-311h0m0-152h0m1 90h0m1-34h0m0 539h0m1-514h0m5 45h0m0 388h0m3 14h0m1-607h0m2 178h0m2 471h0m3-44h0m2-315h0m1 321h0m2-495h0m1 80h0m0 405h0m6-25h0m2-327h0m0 422h0m7-509h0m2 425h0m1 70h0m3-431h0m5-71h0m5 518h0m1-463h0m1 399h0m2 83h0m1-94h0m1-393h0m1-164h0m1 671h0m5-12h0m3-576h0m2 2h0m1 57h0m2 5h0m0 487h0m0-476h0m1-50h0m1 467h0m3-547h0m5 514h0m2-400h0m0 388h0m1 41h0m1-564h0m1 203h0m0 349h0m1-451h0m1 45h0m0-87h0m0-71h0m0 536h0m1-7h0m0 92h0m1-9h0m1-99h0m0-574h0m0 636h0m1-55h0m2-2h0m0-308h0m0-121h0m2 169h0m0 447h0m1-98h0m6-488h0m2 89h0m0-13h0m3-245h0m0 644h0m0-433h0m3-11h0m1 408h0m2-349h0m1-86h0m1 77h0m0 465h0m0-123h0m2-437h0m0 102h0m0-222h0m1 619h0m4-30h0m1-342h0m1-201h0m1 144h0m1 364h0m2-365h0m1 7h0m1 22h0m3 379h0m1-506h0m1 129h0m0 17h0m1-22h0m3 395h0m1 7h0m2-509h0m3 32h0m1 480h0m1-459h0m4 45h0m1 538h0m2-625h0m2 103h0m0 357h0m6-396h0m2 13h0m2 487h0m0-140h0m1-464h0m0 59h0m1 459h0m1-60h0m8-305h0m1 400h0m1-11h0m0 49h0m6-413h0m1-110h0m1 457h0m2-579h0m1 633h0m0-441h0m0-143h0m0 126h0m3 469h0m1-7h0m1-460h0m1 420h0m0-6h0m0-438h0m2-82h0m1 486h0m0-376h0m0 417h0m1-443h0m0-116h0m1 527h0m0-54h0m0-21h0m7 58h0m0 32h0m1-514h0m2-4h0m0-53h0m2 123h0m1 55h0m1-41h0m1-30h0m3-7h0m1 522h0m1-449h0m0-132h0m0 23h0m1-72h0m7 542h0m3 9h0m1-359h0m1-156h0m0 550h0m2-602h0m1 527h0m1 145h0m3-508h0m1-91h0m0 554h0m0-433h0m1 34h0m2-148h0m4 482h0m7-342h0m2 350h0m3-366h0m1 429h0m0-642h0m6 672h0m1-65h0m0-457h0m0-34h0m1-55h0m1 133h0m1 7h0m1-13h0m0-25h0m4-175h0m0 25h0m0 10h0m0 140h0m0 9h0m0 7h0m0 385h0m0 25h0m0 66h0" stroke="#B95AF5"/><path d="M2212 1000h0m2-52h0m1 125h0m0 334h0m2 147h0m1-579h0m6 76h0m2-61h0m1 585h0m0-150h0m1-370h0m1 331h0m1-267h0m1 351h0m3-33h0m4 21h0m1 49h0m2-49h0m0-397h0m3-112h0m3 478h0m4-319h0m1-160h0m1 23h0m2 597h0m1-93h0m1 12h0m14 29h0m1-530h0m3 502h0m4-7h0m0-634h0m1 109h0m3 598h0m2-79h0m1-458h0m1 425h0m1-388h0m5-126h0m2 556h0m2 19h0m2 154h0m4-705h0m1 465h0m3 4h0m2-575h0m1 563h0m1-334h0m0-39h0m1 387h0m4-23h0m2-326h0m0 387h0m0-503h0m2 82h0m5 409h0m0-438h0m3 51h0m1 494h0m0-525h0m1 24h0m0 372h0m2 71h0m2-499h0m1 504h0m2-100h0m0-393h0m1 55h0m3-64h0m4 124h0m2 325h0m0-373h0m2-39h0m0-6h0m2 423h0m0-23h0m2-26h0m2-434h0m2-163h0m0 729h0m0-66h0m0-484h0m1 78h0m1-71h0m2 497h0m4-1h0m1-389h0m1-71h0m0-87h0m2 149h0m1 458h0m1-459h0m0-47h0m4 7h0m2 371h0m8-338h0m2-230h0m6 597h0m1-403h0m6 59h0m0-115h0m0-49h0m0 584h0m1-500h0m0 443h0m1-6h0m0-509h0m0 461h0m2-449h0m1 454h0m1-382h0m0 445h0m1-529h0m2 450h0m3-524h0m0 526h0m4-349h0m0 44h0m7-52h0m0-37h0m0-115h0m1 122h0m0 456h0m1-373h0m1-64h0m1-54h0m4 382h0m4 129h0m5 7h0m1-653h0m0 168h0m1 358h0m0-27h0m0 211h0m1 11h0m0-6h0m1-115h0m0-21h0m6 20h0m3-36h0m0-420h0m0 474h0m1-6h0m0-58h0m2-443h0m0 566h0m1-74h0m0-609h0m2 638h0m3-431h0m0-104h0m1 127h0m2-93h0m1 83h0m1-90h0m0-40h0m1 516h0m0-415h0m0-3h0m1 485h0m1-471h0m0 340h0m0-410h0m2-67h0m1 95h0m1 475h0m1-567h0m1 133h0m4 81h0m1 295h0m0-393h0m0 479h0m0-112h0m0-398h0m1-109h0m2 504h0m0-403h0m0 3h0m5 416h0m1 169h0m5-638h0m5 573h0m1-539h0m1 605h0m1-150h0m2-25h0m2-457h0m1 84h0m0 482h0m2-418h0m0-2h0m1 348h0m1-370h0m1-16h0" stroke="#B95AF5"/><path d="M2213 1459h0m1-61h0m1 27h0m0-393h0m2 477h0m1-491h0m3 441h0m6-25h0m1-461h0m0-151h0m1 642h0m2-446h0m0 468h0m0-382h0m1 413h0m2-483h0m1-78h0m0 5h0m1 493h0m1-575h0m1 668h0m1-92h0m1-21h0m0-535h0m1 180h0m1 518h0m0-607h0m2 9h0m5 104h0m0-182h0m2 178h0m0-45h0m1-29h0m0-37h0m2 26h0m6 79h0m9-22h0m2-33h0m0 62h0m1 366h0m0-411h0m0 449h0m1-558h0m1 13h0m0 657h0m3-625h0m1 67h0m2 439h0m0 20h0m1-469h0m0 358h0m1 23h0m4-351h0m1-48h0m0 42h0m1-23h0m1 380h0m0-440h0m4 11h0m1-3h0m2-5h0m2 541h0m0-464h0m11-96h0m1 462h0m0-464h0m1 428h0m0-374h0m0 407h0m2-403h0m1 409h0m4-493h0m1 506h0m1-369h0m4 410h0m0-84h0m1 66h0m5-571h0m0 85h0m0 98h0m2 445h0m1 130h0m0-630h0m1-65h0m3 101h0m0-41h0m1 19h0m1 380h0m1 124h0m1-616h0m1-10h0m1 95h0m0 69h0m1 375h0m1-388h0m0 442h0m1-447h0m2 356h0m1-31h0m1 34h0m0-33h0m0-353h0m1-25h0m8-37h0m1-12h0m1 8h0m1 84h0m1-11h0m2 419h0m1-408h0m0 369h0m1-336h0m2 305h0m1-342h0m0-121h0m3 499h0m1-475h0m1 28h0m5 614h0m1-567h0m5-25h0m0 43h0m3 50h0m2 456h0m3-152h0m2-334h0m0 397h0m3 22h0m1 5h0m0-69h0m0-344h0m1-45h0m0 41h0m1-170h0m0 95h0m1 513h0m2-55h0m0-579h0m0 587h0m7-581h0m1 196h0m0 32h0m4-3h0m2-33h0m3-141h0m1 583h0m1 69h0m4-516h0m1-84h0m0 27h0m0 407h0m3-342h0m0-55h0m1 428h0m0-516h0m1 460h0m2 17h0m0 109h0m0-747h0m1 250h0m1-47h0m1-47h0m0-95h0m0 563h0m2 172h0m0-528h0m1 346h0m2 21h0m2-364h0m2 17h0m1-38h0m1 433h0m1 35h0m2-421h0m0-124h0m0 534h0m1-444h0m1 20h0m0-177h0m0 140h0m1 457h0m0-35h0m1-429h0m0-56h0m0 511h0m0-97h0m1 98h0m4 86h0m0-102h0m0-422h0m0 417h0m1-387h0m2-58h0m0-25h0m1 542h0m0-466h0m1-10h0m1-181h0m1 122h0m1 500h0m1 32h0m2-68h0m1-471h0m0 529h0m1 39h0m1-126h0m0-346h0m5 322h0m4 151h0m1-451h0m2-76h0m0 25h0m4-176h0m0 210h0m0 363h0m1-478h0m7 506h0m3-470h0m1 67h0m2 375h0m1-362h0m0-20h0m1 513h0m3-683h0m2-46h0m0 563h0" stroke="#B95AF5"/><path d="M2212 986h0m0 438h0m1-348h0m0-48h0m0 17h0m0 21h0m3-75h0m0 566h0m1-163h0m2-333h0m1-36h0m1 460h0m1-455h0m2-35h0m1 85h0m0 315h0m0-376h0m1 30h0m5 389h0m0-415h0m8 421h0m0 50h0m2-394h0m4-52h0m0 472h0m3-589h0m1 128h0m4 355h0m0-508h0m2 575h0m1 31h0m4-90h0m0-500h0m1 595h0m0-105h0m3-565h0m5 628h0m2-462h0m1 489h0m1-575h0m0-101h0m10 192h0m1 393h0m3-348h0m1 341h0m0-496h0m8 516h0m1-371h0m0 516h0m4-741h0m5 256h0m3 419h0m1-461h0m0-132h0m0 562h0m1-381h0m1-45h0m6 3h0m1-218h0m3-6h0m2 210h0m0-33h0m1 82h0m0-120h0m1-91h0m3 172h0m1-50h0m0 495h0m1-452h0m1 37h0m6 319h0m3-398h0m1 444h0m1-432h0m0-107h0m0 120h0m1 447h0m0-71h0m1-13h0m2-438h0m1 468h0m0-372h0m0 17h0m1 24h0m1 372h0m0-53h0m0 2h0m1-367h0m0 26h0m0 8h0m2 413h0m0-47h0m0-415h0m4 64h0m1 301h0m0 77h0m1-518h0m0 18h0m1 525h0m0-539h0m0 68h0m1-46h0m2 477h0m2 3h0m0-459h0m1 398h0m1-481h0m0 120h0m1 12h0m0-20h0m0 50h0m3 396h0m1-52h0m0 25h0m1 56h0m0-44h0m0-344h0m0-21h0m2-29h0m3 4h0m1 384h0m1-8h0m0-538h0m1 191h0m5-20h0m1-236h0m2 656h0m6-577h0m1 109h0m3 25h0m1-38h0m0 58h0m3 362h0m0-40h0m1-385h0m0 382h0m1 99h0m0 24h0m1-36h0m8-37h0m6 144h0m1-508h0m2-120h0m1 160h0m0-54h0m3 353h0m0-311h0m1-135h0m0 10h0m1 480h0m1-50h0m2 46h0m0 41h0m1-452h0m1 562h0m0-181h0m1-427h0m0 389h0m1-417h0m0 50h0m0-68h0m1 137h0m1-95h0m1 543h0m1-537h0m1 459h0m1-540h0m0 524h0m0-470h0m0 496h0m1-515h0m0-64h0m0 171h0m1 465h0m0-549h0m3 429h0m1-381h0m4 69h0m2 464h0m2-517h0m0-178h0m1 669h0m1-485h0m1 343h0m0-304h0m3 330h0m0 53h0m3-380h0m0 422h0m2-520h0m0 590h0m1-500h0m0-59h0m0-160h0m0 583h0m1 56h0m2-11h0m1-563h0m1 614h0m0-509h0m1 386h0m0-342h0m1 361h0m3 96h0m2-474h0m1-33h0m0 27h0m1-34h0m1 420h0m0 89h0m1-581h0m1 465h0m1-471h0m2 50h0m3-146h0m2 609h0m1-497h0m0-118h0m2 623h0m1-491h0m0 442h0m2 74h0m6-3h0m1-564h0m1 481h0m1 160h0m0-109h0m0-375h0m1-6h0m0 39h0m0-147h0m1 467h0m1 205h0m1-211h0m0 152h0m1-498h0m0 396h0" stroke="#B95AF5"/><path d="M2518 1025h0m12 307h0m2-313h0m1-77h0m0-49h0m1 466h0m3-375h0m5 378h0m3-327h0m5-29h0m1 13h0m2 299h0m0-355h0m0 387h0m1-381h0m0 56h0m1 348h0m1-35h0m1 26h0m1 20h0m1-376h0m1-132h0m0 125h0m1 426h0m0-588h0m2 517h0m1-394h0m1 84h0m2 336h0m1 85h0m5-118h0m2-380h0m4 380h0m0-358h0m2 7h0m0 3h0m0 323h0m6 136h0m2-547h0m1 454h0m1 4h0m1-9h0m1-362h0m2 344h0m2-341h0m2-28h0m2 378h0m3 29h0m0 4h0m4-426h0m4 39h0m2 17h0m0 340h0m2-344h0m0 419h0m1-423h0m0 503h0m9-594h0m4 91h0m2 64h0m6 285h0m5-395h0m9 421h0m3-21h0m4-313h0m0 282h0m1 14h0m2-410h0m1-16h0m1 54h0m1-30h0m1 33h0m0 18h0m4 364h0m2-4h0m1 120h0m2-452h0m4 8h0m2 337h0m0 23h0m0 30h0m1-483h0m0 29h0m0 471h0m3-13h0m0-515h0m0 125h0m1 348h0m1 5h0m0-376h0m0 331h0m0-398h0m1 35h0m0 457h0m0-449h0m2 432h0m2-445h0m1 358h0m3 53h0m1 30h0m3-434h0m3 366h0m5-424h0m1 463h0m1-25h0m1-4h0m0 25h0m1-404h0m0 54h0m5-18h0m0 382h0m0-401h0m1-8h0m1 401h0m0-6h0m1-410h0m0-15h0m0 444h0m1-385h0m0 15h0m1-44h0m5 14h0m4 368h0m2-359h0m9-47h0m1 12h0m5-41h0m3 435h0m3 6h0m2-328h0m3 341h0m0 66h0m1-45h0m5-3h0m2-415h0m2 33h0m1 382h0m2 105h0m3-562h0m2 17h0m1 17h0m6 408h0m2-397h0m1 384h0m2 65h0m6-444h0m0 395h0m2-5h0m0-10h0m0-392h0m1 366h0m0 53h0m0 7h0" stroke="#FDACE9"/><path d="M2517 921h0m0 102h0m0 469h0m1-120h0m4-454h0m2 13h0m0 395h0m5 64h0m1-25h0m1-451h0m0 48h0m2 380h0m2-457h0m3 454h0m0-394h0m0 383h0m2-399h0m2 468h0m8-346h0m1 283h0m0 17h0m5-365h0m2 27h0m2 8h0m0 347h0m0-373h0m1 408h0m0-41h0m0 32h0m1-410h0m0 531h0m0-156h0m1 74h0m1-422h0m0 539h0m1-506h0m1-14h0m2-42h0m2 498h0m2-88h0m3-20h0m0-360h0m0 39h0m1-43h0m6-77h0m5 42h0m2-47h0m0 55h0m3 347h0m4-372h0m0-8h0m1 455h0m2-13h0m1-371h0m2 404h0m4-509h0m4 71h0m0-65h0m2 451h0m1-1h0m13-28h0m1 94h0m0-412h0m2 313h0m2-347h0m1-79h0m1 24h0m1 107h0m0-46h0m7 20h0m1 421h0m8-51h0m1-67h0m3 86h0m1-436h0m3 385h0m1-17h0m7 97h0m2-8h0m2-68h0m1-361h0m4 481h0m1-634h0m1 210h0m4 278h0m0-410h0m0 91h0m6-22h0m1 424h0m0-363h0m1-33h0m1 383h0m1-58h0m1-381h0m2-29h0m5 5h0m0 402h0m1 32h0m1 79h0m0-410h0m1 308h0m2 28h0m4 72h0m2-470h0m1 412h0m0 66h0m4-396h0m1 300h0m2-376h0m2 371h0m2 102h0m3-479h0m1 400h0m2-367h0m0-95h0m0 484h0m2 21h0m1 25h0m1-404h0m2-98h0m6 35h0m2 407h0m0 49h0m1-392h0m0 374h0m0-457h0m1 398h0m1 6h0m0-431h0m0 83h0m2 19h0m0 21h0m0 321h0m5 50h0m5-446h0m2 67h0m7-119h0m4 445h0m0-421h0m4 53h0m2 395h0m1-433h0m0 378h0m2-326h0m2 398h0m2-69h0m4 5h0m1-421h0m0 63h0m1-34h0m3 76h0m3-114h0m0 407h0m1-335h0m0-151h0m0 87h0" stroke="#FDACE9"/><path d="M2521 1364h0m1-390h0m1 349h0m6-307h0m1 323h0m5-318h0m0 429h0m0-488h0m3 459h0m1-85h0m0 42h0m2 30h0m2-458h0m9 93h0m1-69h0m1 438h0m3-90h0m2-430h0m1 44h0m2 435h0m1 8h0m1-400h0m3 493h0m1 33h0m5-496h0m3 324h0m1-506h0m1 516h0m1-327h0m0-127h0m0 558h0m1-62h0m0-454h0m1 444h0m0 5h0m0-40h0m6 114h0m1-444h0m1 334h0m4 139h0m4-489h0m4 411h0m1-386h0m3 16h0m6 1h0m1-47h0m1 374h0m0 26h0m1-457h0m1-36h0m1 151h0m3-8h0m1-16h0m0 369h0m1-396h0m0 442h0m8-40h0m0 92h0m0 7h0m0-83h0m1-46h0m1-367h0m0 386h0m3-435h0m0-21h0m1 446h0m0 12h0m8-461h0m0 99h0m6 500h0m7-534h0m0 36h0m1 352h0m1 12h0m3-388h0m2-93h0m1 464h0m3 39h0m1-341h0m0-134h0m0 22h0m0-83h0m2 53h0m3 49h0m4 26h0m0 21h0m0 13h0m0 20h0m1-70h0m1 24h0m1 419h0m0-487h0m1 2h0m0 103h0m1 307h0m0 83h0m2-89h0m2-397h0m0 431h0m1-38h0m5-401h0m9 390h0m1-414h0m1 75h0m2 392h0m4-374h0m1-33h0m0 46h0m0-25h0m0 22h0m1 320h0m0-459h0m1 194h0m2 265h0m3-11h0m1-322h0m1 417h0m1-402h0m1-75h0m1 85h0m7 325h0m3 78h0m1-534h0m3 454h0m2-446h0m3-14h0m0 515h0m1-51h0m0-14h0m1 108h0m1-125h0m2-325h0m0 332h0m1-385h0m1 350h0m1 69h0m3-56h0m0 71h0m1-389h0m1-68h0m0 47h0m1-109h0m1 80h0m0-92h0m2 101h0m5 499h0m0-496h0m8 89h0m4-28h0m2 342h0m1-352h0m0-23h0m3 387h0m1-421h0m4 385h0m0 63h0m1-440h0m1 94h0m0 418h0m3-493h0m3 64h0m0 315h0m1-347h0m1 20h0m1-61h0m0 453h0m0-62h0m1-438h0m0 32h0m0 408h0" stroke="#FDACE9"/><path d="M2517 1011h0m0 348h0m5-372h0m1-42h0m1-40h0m3 147h0m1-61h0m1 396h0m1-386h0m1 382h0m2-32h0m0-312h0m3-21h0m1-25h0m4-140h0m11 582h0m3-50h0m1 24h0m1-50h0m3-338h0m0-12h0m2 404h0m0-553h0m0 524h0m8 18h0m2-426h0m2-11h0m3 419h0m1-425h0m0 368h0m1 59h0m1-461h0m1 47h0m3 382h0m3-370h0m1-72h0m2-30h0m0 137h0m1 468h0m2-449h0m2 476h0m0-598h0m1 576h0m2-536h0m0 478h0m0-641h0m2 563h0m3-383h0m0 401h0m7 72h0m1-45h0m2-12h0m3-336h0m3 410h0m1-85h0m3 66h0m1-105h0m3 46h0m2-394h0m0 362h0m1 3h0m1-24h0m0-345h0m1 353h0m3 35h0m2-19h0m14-14h0m8-284h0m1-5h0m2-44h0m3-47h0m0 429h0m3-412h0m3 390h0m0-458h0m4-40h0m0 82h0m1 444h0m1 64h0m0 39h0m4-116h0m1-384h0m0 391h0m2-14h0m2-374h0m2-39h0m0 394h0m5-397h0m1 380h0m2 24h0m1 102h0m4-426h0m0-88h0m1 36h0m0-33h0m1 462h0m1-449h0m2 417h0m0-326h0m1-165h0m1 113h0m0-52h0m1-84h0m5 496h0m0 25h0m2-372h0m1-6h0m1 440h0m2-39h0m0-82h0m1-370h0m1 34h0m6 328h0m0 48h0m1-365h0m0 351h0m1-330h0m1-38h0m3 364h0m0 89h0m1-465h0m5-22h0m2 77h0m0-64h0m1 508h0m2-64h0m8-404h0m2 379h0m1-395h0m0 59h0m2 309h0m1-12h0m1 20h0m0-359h0m0 51h0m4-54h0m2 376h0m2-9h0m1-372h0m0 353h0m1-412h0m3 52h0m1 54h0m1-164h0m0 478h0m0-9h0m1-418h0m2 99h0m1-39h0m0 10h0m3 43h0m4-119h0m1 57h0m0 393h0m2 12h0m3-496h0m2 41h0m1 129h0m1 277h0m0 15h0m0 61h0m0-37h0m2-370h0" stroke="#FDACE9"/><path d="M2519 940h0m3 470h0m6-443h0m1-77h0m1 119h0m1 428h0m1-70h0m1 4h0m2-324h0m4 312h0m3-370h0m5 39h0m1-39h0m3 352h0m3-345h0m1-12h0m1 350h0m0 35h0m4-337h0m1-146h0m1 82h0m0 368h0m1-345h0m0-76h0m1 75h0m4 12h0m5-29h0m4 428h0m1-10h0m0-448h0m3 27h0m1-17h0m0 116h0m4 309h0m4-38h0m1-434h0m1 462h0m0 4h0m1 119h0m1-534h0m0 42h0m0-69h0m1 404h0m3-400h0m0 404h0m0 38h0m2-4h0m1-434h0m2 424h0m1-514h0m5 516h0m2-383h0m0 50h0m1-23h0m1 19h0m2-125h0m0 451h0m0 39h0m2 28h0m0-10h0m1-413h0m1 472h0m2-449h0m1 42h0m1 389h0m1-80h0m0-344h0m1-59h0m2 54h0m1 407h0m1-393h0m2 478h0m0-611h0m1 527h0m1-454h0m1 23h0m0-19h0m0 84h0m1 335h0m10-36h0m1-300h0m2-160h0m8 463h0m1-341h0m0-69h0m6 65h0m3 341h0m3-438h0m1 68h0m1 42h0m2 5h0m1 376h0m1-377h0m4 357h0m2 71h0m2-93h0m0-39h0m0 67h0m1-436h0m1 64h0m2 304h0m1-375h0m1 17h0m0 351h0m1 70h0m1 80h0m2-550h0m1 500h0m1 44h0m2-516h0m2 479h0m2-463h0m2 502h0m3-111h0m3-287h0m0-79h0m1 1h0m2-45h0m1 87h0m0 294h0m1-321h0m4 394h0m0 17h0m1 55h0m1-550h0m0 396h0m2 43h0m1-357h0m3 330h0m1-295h0m2 300h0m6-2h0m3-379h0m2-106h0m1 141h0m2 14h0m1 31h0m2-37h0m1-105h0m3 40h0m0 408h0m2-282h0m1 257h0m0 3h0m3 33h0m4 3h0m10 6h0m0-330h0m5-132h0m1 474h0m4-336h0m2-28h0m3 402h0m2-51h0m1-404h0m0 34h0m2-46h0m4 83h0m1 315h0m0-357h0" stroke="#FDACE9"/><path d="M2518 1354h0m10-383h0m0-133h0m3 32h0m0 458h0m0 14h0m0-343h0m2 10h0m2 315h0m4 117h0m12-79h0m0-341h0m2 12h0m1-42h0m1 435h0m1-576h0m2 573h0m1-541h0m1 639h0m1-115h0m0-18h0m2 83h0m2-122h0m1-426h0m1 73h0m1 417h0m1-421h0m7 42h0m0 319h0m1-300h0m2-46h0m1 353h0m1-346h0m0-31h0m7 49h0m1-23h0m1 346h0m1 25h0m1-412h0m1-3h0m0 17h0m2-204h0m0 683h0m0-525h0m1 38h0m0 494h0m1-16h0m2-83h0m1-38h0m0-289h0m0-60h0m1 371h0m10-375h0m2 395h0m3 62h0m2-53h0m2-33h0m1 19h0m2 37h0m2-18h0m0-44h0m3 63h0m4-75h0m0-316h0m1-23h0m0 352h0m10-401h0m4-35h0m0 87h0m7 391h0m1-344h0m5 318h0m0-363h0m0-22h0m2 431h0m0-423h0m0-8h0m3 411h0m4 131h0m5-63h0m5-94h0m0 39h0m8-453h0m2-44h0m1 450h0m0-337h0m2 309h0m1 78h0m1-12h0m0-406h0m2-63h0m3 491h0m3-42h0m0-349h0m3 353h0m3-45h0m1 45h0m1 27h0m4-378h0m0-88h0m0 478h0m1-368h0m2-141h0m1 31h0m1 464h0m0-420h0m2 396h0m0-5h0m2-356h0m0 33h0m1-136h0m3 438h0m1 5h0m1-359h0m1-25h0m3 58h0m1-86h0m1 429h0m4-10h0m3-16h0m2 100h0m3-40h0m2-425h0m1 350h0m1-436h0m3 56h0m1 425h0m1-396h0m13 79h0m1 277h0m8-444h0m0 624h0m1-169h0m1-344h0m1 393h0m1-369h0m1-55h0m4 374h0m0 10h0m2-344h0m3-72h0m1 84h0m4-55h0m0 391h0m1-375h0" stroke="#FDACE9"/><path d="M2519 999h0m8 401h0m3-421h0m2-39h0m1-1h0m4 38h0m0 373h0m1-322h0m1-11h0m1-41h0m12 78h0m4-36h0m1 21h0m1 392h0m3-415h0m0-16h0m0 399h0m0 94h0m1-563h0m0 445h0m1-405h0m2 57h0m8-81h0m3 393h0m3 17h0m2 56h0m1-407h0m0 401h0m6-85h0m1-359h0m0 435h0m2-352h0m1 350h0m4 9h0m0-395h0m4-88h0m1 446h0m1-504h0m2 79h0m1 424h0m2 114h0m1-130h0m0 43h0m2-351h0m0-98h0m1 487h0m1-35h0m3-332h0m0-182h0m1 119h0m2 37h0m2 342h0m0-356h0m1 408h0m1-63h0m1-401h0m4-12h0m2 467h0m0-48h0m1-332h0m0 15h0m2-17h0m1-29h0m0 427h0m2-427h0m1 343h0m3-396h0m6-43h0m1 522h0m7-42h0m1-20h0m2-422h0m1 35h0m0-6h0m1 328h0m5 61h0m1 27h0m0-362h0m2 385h0m1-495h0m0 73h0m4 384h0m4 30h0m2-14h0m5 8h0m1-421h0m4-61h0m0 515h0m2-591h0m0 158h0m0 387h0m1-562h0m1 68h0m0 76h0m0 360h0m2 37h0m1-8h0m1-343h0m1-151h0m5 168h0m0-128h0m3 110h0m0 331h0m1 42h0m1 10h0m1-536h0m4 199h0m3-20h0m0-58h0m4-36h0m1 396h0m0 100h0m1-60h0m1-327h0m0-12h0m1-48h0m1 57h0m1 282h0m5-9h0m0-308h0m0 24h0m1-17h0m1-53h0m2 23h0m0-14h0m0 36h0m1 372h0m9-391h0m5 26h0m3-80h0m3 484h0m2-379h0m0 453h0m1-108h0m1-444h0m0-145h0m1 648h0m2 64h0m6-128h0m0-455h0m2 42h0m2 66h0m1 16h0m0 362h0m2-90h0m1-299h0m4-88h0m0 64h0m3 347h0m2-330h0m3 22h0m0-16h0m2 289h0m1-296h0m4-53h0m2 86h0m2-57h0m0 36h0" stroke="#FDACE9"/><path d="M2518 1392h0m5-402h0m5-121h0m1 534h0m3-97h0m2 97h0m1-452h0m2 19h0m2-21h0m2 372h0m0-328h0m3 63h0m0-52h0m5-1h0m0 369h0m6 50h0m3-26h0m0-41h0m1 20h0m1 73h0m1-543h0m3 22h0m4 559h0m3-114h0m6 67h0m0-71h0m3-34h0m1 59h0m0-476h0m2 73h0m1 365h0m3 53h0m1-408h0m0 348h0m0-391h0m1 361h0m0 111h0m2-42h0m2 9h0m1-36h0m1-371h0m3-3h0m0 377h0m1-19h0m0-418h0m2 456h0m0-374h0m1 16h0m1 316h0m0-6h0m1-345h0m1-131h0m1 147h0m1-21h0m0 29h0m0 361h0m3-314h0m1 272h0m1-382h0m1 27h0m1 442h0m1-461h0m3 31h0m3 67h0m0 361h0m2-6h0m0-482h0m6 22h0m0 11h0m1 20h0m2-47h0m0 497h0m3-551h0m0 503h0m1-535h0m1 516h0m6 31h0m1-45h0m2-359h0m0-8h0m9 414h0m1-545h0m1 157h0m0 310h0m1-387h0m5 84h0m0-130h0m2 481h0m11 55h0m2-415h0m1 16h0m0 21h0m2 298h0m2-334h0m1 404h0m0-470h0m0 37h0m3-121h0m0 570h0m0-527h0m2 34h0m1 533h0m1-476h0m2-77h0m0 36h0m1 14h0m8 365h0m0-322h0m3 69h0m1-133h0m1 423h0m0 67h0m1-82h0m0 27h0m1 91h0m2-29h0m3-66h0m1-32h0m2-388h0m0 5h0m1 14h0m1 368h0m0 127h0m0-397h0m1 264h0m1 26h0m1-3h0m0-11h0m6-432h0m2 64h0m0 353h0m2 57h0m1-453h0m1 73h0m0 339h0m0-365h0m5 26h0m2-61h0m1 13h0m2 510h0m1-117h0m3-9h0m0-307h0m2 351h0m1-428h0m1 54h0m2-27h0m1 402h0m0-358h0m0-13h0m0-2h0m2-86h0m2 545h0m5-65h0m0-533h0m1 538h0m1-46h0m2-346h0m1-8h0m0 353h0m2-386h0m3 468h0m2-448h0m0 367h0m1-384h0m2 370h0m0 147h0m3-589h0m2 416h0m2-313h0m1-91h0m0 81h0m0 37h0m2-68h0m0-65h0m1 459h0m4-344h0m1-127h0m1 420h0m0 12h0m0-421h0m1 63h0m1-80h0m0 451h0m0 26h0" stroke="#FDACE9"/><path d="M2802 1392h0m2-439h0m1 44h0m1 412h0m1 14h0m0-542h0m0 61h0m11-34h0m0 98h0m0-78h0m1-34h0m0 157h0m1-54h0m10-103h0m0 72h0m4 22h0m2 340h0m1 76h0m0-73h0m1-364h0m0 397h0m0 25h0m4 30h0m1-392h0m1-96h0m2 127h0m1 2h0m6-86h0m3 464h0m1-449h0m0 35h0m0-13h0m1 324h0m2-327h0m4 363h0m2 36h0m2-66h0m2 27h0m0-350h0m2 411h0m3-513h0m1 104h0m4-37h0m0 364h0m2 29h0m0-395h0m0 376h0m0-322h0m1-55h0m0 34h0m0 354h0m1 48h0m1-444h0m1 10h0m2-65h0m1 447h0m1 146h0m0-576h0m4 428h0m4 41h0m2-415h0m9 350h0m1 102h0m1-22h0m1-483h0m1 54h0m0 14h0m4 350h0m2-403h0m2 78h0m2 534h0m1-604h0m2 417h0m0 28h0m0 7h0m0 38h0m1-414h0m1 357h0m0-472h0m2 100h0m4-77h0m2 552h0m0-132h0m0-12h0m1-338h0m2 350h0m6-349h0m1 387h0m0-2h0m2-401h0m1 388h0m1 22h0m8-17h0m0 11h0m3-35h0m0-346h0m6-99h0m1 4h0m3 449h0m1-350h0m1-59h0m3 103h0m1-261h0m1 560h0m0-470h0m0 63h0m0 80h0m1 31h0m1-81h0m4-125h0m1 165h0m0 541h0m5-556h0m1 8h0" stroke="#E8D69E"/><path d="M2806 1372h0m1-309h0m3-105h0m1 97h0m5-157h0m1-39h0m0 109h0m4 397h0m3-18h0m3 51h0m1 97h0m4-96h0m3-448h0m4 6h0m1 511h0m0 51h0m0-159h0m0-353h0m1-88h0m2 610h0m2-53h0m2-38h0m2-457h0m1 1h0m1 375h0m6-479h0m0 539h0m4-416h0m0-14h0m1-38h0m0-43h0m2 562h0m1-452h0m0 48h0m2 358h0m1-473h0m2 121h0m0 282h0m2-347h0m1 432h0m0-54h0m0 37h0m1-609h0m8 631h0m1-505h0m1 418h0m1 96h0m0-483h0m0-111h0m4 174h0m13-61h0m4 413h0m6-393h0m1-98h0m1 433h0m0-340h0m1-20h0m5 366h0m1-295h0m1 344h0m2 111h0m1 53h0m0-160h0m0-7h0m1-362h0m0 333h0m1-344h0m0 395h0m1 37h0m1-394h0m0 339h0m3-341h0m1-110h0m0 126h0m2-70h0m0 5h0m0 392h0m2-341h0m0-160h0m9 12h0m2 171h0m3-21h0m0 382h0m0-436h0m0-167h0m0 599h0m1 99h0m1-74h0m0 11h0m1-101h0m0-368h0m1 362h0m1 10h0m3-398h0m3 385h0m2 91h0m4-94h0m1 45h0m4-344h0m1 367h0m1 17h0m2 72h0m0 10h0m0-129h0m2-364h0m0-117h0m1 176h0m1-67h0m1 4h0m3 422h0m4-54h0" stroke="#E8D69E"/><path d="M2802 987h0m1 481h0m0-486h0m2 355h0m2 113h0m2-427h0m8-75h0m3 9h0m2 24h0m2 7h0m1-84h0m0 41h0m1 64h0m3 341h0m0 21h0m3-334h0m1 328h0m0-391h0m2 46h0m0-24h0m2-179h0m0 34h0m1 566h0m0-20h0m1-386h0m0-40h0m2 81h0m0-241h0m0 597h0m0-464h0m1 24h0m1 14h0m1 377h0m0 66h0m2-462h0m2 459h0m3-36h0m0 16h0m0-391h0m1 444h0m1 31h0m2-421h0m2-104h0m1 49h0m4 45h0m2-39h0m1-115h0m1 454h0m0-444h0m5 448h0m0 12h0m2-373h0m0 20h0m3 44h0m0 359h0m6-406h0m0 372h0m1-399h0m2-96h0m0 444h0m0-455h0m4 144h0m0 372h0m4-394h0m0-99h0m4 544h0m0-87h0m1 70h0m0-473h0m4 45h0m1 377h0m6-526h0m2 35h0m6 15h0m2 97h0m3-62h0m1-20h0m0 103h0m1-88h0m1 47h0m0 366h0m0 8h0m1 10h0m6-7h0m1 4h0m2-350h0m0-43h0m2 50h0m1 374h0m1-446h0m2 24h0m2 601h0m1-207h0m2 86h0m1-486h0m2 391h0m1 89h0m2 95h0m3-201h0m1-346h0m1 450h0m6-385h0m4-71h0m1-32h0m6 421h0m3 13h0m0 143h0m0-95h0m0-403h0m0 392h0m1 93h0m0-476h0m1 347h0m0 18h0m1 57h0m7-580h0m1 486h0m3-445h0" stroke="#E8D69E"/><path d="M2803 1424h0m1 38h0m1-522h0m1 391h0m0-326h0m0 384h0m1-413h0m1-68h0m0 83h0m2 10h0m7 422h0m4-424h0m4 449h0m2-514h0m3-92h0m1 646h0m2 31h0m0-618h0m3 525h0m2-438h0m0 9h0m1 35h0m0-50h0m1-72h0m0 163h0m1-165h0m1 570h0m0-54h0m3-499h0m0 38h0m1-28h0m2 496h0m0-496h0m0 78h0m2-119h0m4 498h0m3-11h0m1-24h0m3 49h0m4-409h0m3 350h0m5 29h0m1-25h0m1 6h0m0 36h0m7-335h0m1-123h0m2 478h0m0-13h0m1-60h0m0-349h0m2 403h0m1 65h0m1-34h0m0-405h0m2 329h0m0 81h0m7-76h0m14 9h0m0-557h0m1 546h0m2-13h0m2 112h0m1-409h0m2 33h0m1 276h0m0-306h0m3 8h0m0 344h0m3-515h0m2 532h0m2 22h0m1-414h0m0 9h0m2 321h0m2 143h0m1-511h0m6 406h0m0 27h0m1-450h0m0-13h0m0-18h0m0 578h0m2-106h0m0-20h0m1-26h0m0 4h0m0-363h0m1 16h0m2-7h0m1 379h0m2-419h0m1 31h0m0 30h0m5-28h0m4-26h0m2 50h0m1-56h0m1 45h0m1-111h0m1 149h0m1-24h0m1 401h0m2-376h0m2 342h0m2 34h0m0-30h0m1-461h0m0 7h0m2 48h0m0-2h0m3-35h0m1 503h0m1-568h0m2 108h0" stroke="#E8D69E"/><path d="M2802 1344h0m0-388h0m4 28h0m3-94h0m6 29h0m4-123h0m4 197h0m0-65h0m4 104h0m1 368h0m2-399h0m1-23h0m3 355h0m0-385h0m1 78h0m1 14h0m1 337h0m0-514h0m0 88h0m1 458h0m0-19h0m0-502h0m1-19h0m2 161h0m0 467h0m0-590h0m1 476h0m0-377h0m0-123h0m0-46h0m0 164h0m1-173h0m0 130h0m3 471h0m1 16h0m4-475h0m1 31h0m4-56h0m0 94h0m8-61h0m4 27h0m1 437h0m0-520h0m3 118h0m0 329h0m2-498h0m0 132h0m0 33h0m0 336h0m0 27h0m6-413h0m1 64h0m0-236h0m2 193h0m0 391h0m0-536h0m1 498h0m1-505h0m1 148h0m1 20h0m0-21h0m0-74h0m0 45h0m1 365h0m9-354h0m4 347h0m1 23h0m5-365h0m3-59h0m1 62h0m2 46h0m0 355h0m2-375h0m1 362h0m0-456h0m0 421h0m2-390h0m1 436h0m1 14h0m1-420h0m2 8h0m1 4h0m1 461h0m3-24h0m2-486h0m2 454h0m0-435h0m1 423h0m2-427h0m2 453h0m9-483h0m0 124h0m1-112h0m3 473h0m0-412h0m1 393h0m0-373h0m1 325h0m1 23h0m3 90h0m1-137h0m2 85h0m2-433h0m2-47h0m4 468h0m0 41h0m2-386h0m0 332h0m3-379h0m0-4h0m1 387h0m2 51h0m1-473h0m2-33h0m1 47h0m3 40h0m4-25h0m0 431h0m1-426h0m6 390h0" stroke="#E8D69E"/><path d="M2802 940h0m0 29h0m0 22h0m0 362h0m1 54h0m1-538h0m0 500h0m0-398h0m8 390h0m3-16h0m1-424h0m0 140h0m7 283h0m6 159h0m1-453h0m6 294h0m0-320h0m1 311h0m1 12h0m1-408h0m1 460h0m0-423h0m2-30h0m0 422h0m0 9h0m2-465h0m1 459h0m2-450h0m2 564h0m0-447h0m1-79h0m3-29h0m3 505h0m1-39h0m1-455h0m2 441h0m0-397h0m11 483h0m0-57h0m0-426h0m0-15h0m1 391h0m0-381h0m1 63h0m1-148h0m1 29h0m0 424h0m7-301h0m1 386h0m1 33h0m1-94h0m0-27h0m2-387h0m0-54h0m0 115h0m1 369h0m0-389h0m0-21h0m1 7h0m3 26h0m4 15h0m7-17h0m4-64h0m4-54h0m2 86h0m1-8h0m0 429h0m0-398h0m3 433h0m3-64h0m0-455h0m0 483h0m2-331h0m1-153h0m0 531h0m2 55h0m0-113h0m2-401h0m0 41h0m1-106h0m0 79h0m0-31h0m2 460h0m0 18h0m2-461h0m3 440h0m4 15h0m0-504h0m3 115h0m2 376h0m2-2h0m1-68h0m2 93h0m3-449h0m1-192h0m1 215h0m2 343h0m0 116h0m0-475h0m1 8h0m1-17h0m8 13h0m1-25h0m3 44h0m4 39h0m0-64h0m1-168h0m2 577h0m1-368h0m0 326h0m1 109h0m1-452h0m0 426h0m0 37h0m1-553h0m8 472h0m2-9h0" stroke="#E8D69E"/><path d="M2802 1024h0m0 311h0m0 80h0m3-37h0m1-37h0m1 54h0m1 17h0m3 46h0m0-92h0m1 68h0m1-394h0m3-64h0m3 27h0m1 450h0m1-48h0m3-403h0m3 364h0m1 91h0m1-69h0m1-450h0m1 34h0m0 20h0m4-168h0m0 184h0m1-3h0m0 349h0m1 60h0m0-44h0m1-5h0m1-404h0m1 54h0m4 368h0m3-330h0m1 356h0m2-10h0m0 33h0m2 37h0m3-408h0m1-32h0m10 410h0m5-513h0m5 479h0m6-441h0m0 26h0m0 402h0m1-72h0m0-403h0m1 417h0m0-411h0m0 460h0m0-387h0m0 33h0m1 415h0m0-39h0m0-31h0m1-380h0m0 413h0m1-397h0m2 373h0m0-417h0m4 39h0m1 371h0m2-317h0m0-116h0m5 37h0m1 487h0m2-465h0m2 34h0m2 324h0m7-463h0m1 133h0m1 335h0m2-508h0m4 122h0m0 433h0m2-510h0m1 67h0m1 483h0m1-109h0m3-344h0m1-40h0m4 15h0m0 494h0m4-426h0m0 336h0m5 91h0m0-90h0m1-338h0m0-66h0m1 487h0m1-448h0m1-83h0m0-5h0m1 54h0m1 36h0m2-190h0m2 189h0m0-79h0m1 100h0m0 349h0m0-436h0m0 26h0m1-16h0m2-32h0m0 100h0m4-29h0m1 403h0m0-432h0m1 377h0m3-413h0m2-25h0m6 7h0m1 64h0m1 45h0m4 472h0m2-122h0m3 34h0m2-377h0m2-22h0" stroke="#E8D69E"/><path d="M2805 1398h0m1-29h0m1 137h0m5-481h0m1 332h0m2 28h0m2-395h0m0 471h0m3-13h0m5-619h0m4 6h0m0 160h0m2 445h0m2-2h0m3 24h0m0-517h0m1-15h0m1 120h0m1-12h0m1-157h0m0 111h0m0 370h0m1-335h0m0 21h0m0-38h0m0 425h0m1-10h0m1-35h0m3-368h0m4 432h0m6-445h0m2-14h0m3 43h0m2 3h0m2-33h0m2 393h0m2-360h0m2-8h0m0 400h0m2-50h0m1-371h0m2-31h0m3-31h0m1 425h0m0 65h0m2 14h0m0 6h0m6-596h0m0 24h0m2 586h0m4-105h0m3-361h0m2 13h0m0 336h0m2-437h0m2 489h0m2-82h0m3 58h0m6-365h0m5 386h0m1-22h0m0-402h0m0 362h0m1-334h0m2-101h0m0 452h0m0 65h0m1-410h0m0 349h0m0-416h0m0 451h0m1-428h0m0-121h0m1 103h0m0 459h0m2-437h0m3 32h0m2-36h0m0 402h0m2 46h0m1-384h0m1 353h0m0-17h0m1-347h0m3 348h0m0 12h0m3-412h0m1 51h0m1-36h0m1 423h0m0-404h0m1-13h0m0 43h0m4-43h0m1 387h0m2 120h0m2-96h0m1-79h0m2-383h0m2 61h0m2 349h0m0-455h0m1 460h0m2-36h0m1 33h0m1 49h0m7-401h0m1 409h0m0-479h0m1 490h0m0 29h0m4-25h0m1-376h0m2 366h0m1-462h0m0 497h0m1 25h0m0-85h0m3-387h0" stroke="#E8D69E"/><path d="M2997 1345h0m0 36h0m0 51h0m0-444h0m0-31h0m1-14h0m3-3h0m1-13h0m3 76h0m1-51h0m1 434h0m1-61h0m2 137h0m2-85h0m1-444h0m1 421h0m1-566h0m0 196h0m0-22h0m2-210h0m0 77h0m1 559h0m1-36h0m1-421h0m0 396h0m4-33h0m1 64h0m2 40h0m3-23h0m3 46h0m2-450h0m3 12h0m3-90h0m1 439h0m2 66h0m2-21h0m14-54h0m0 50h0m4 45h0m2-497h0m1 513h0m2-589h0m3-225h0m3 851h0m0-100h0m1-12h0m2-344h0m0-236h0m1 224h0m2 300h0m0-319h0m3 360h0m0 55h0m1-17h0m1 46h0m0-28h0m4-46h0m1-32h0m1-390h0" stroke="#F08C1E"/><path d="M2997 1319h0m0-352h0m0-21h0m0-88h0m1 483h0m0-1h0m0-432h0m1 89h0m4-137h0m2 625h0m1-144h0m0-369h0m4-52h0m4 434h0m2-693h0m1 263h0m1 444h0m3-467h0m3 451h0m2 18h0m4-479h0m1 491h0m1-26h0m2 127h0m1-493h0m4 391h0m3 55h0m1-466h0m1 308h0m1 137h0m1-127h0m0-358h0m0-25h0m2 64h0m0 368h0m2 11h0m2-82h0m3-511h0m0 664h0m6 29h0m5 86h0m2-175h0m3-25h0m2 128h0m1-111h0m2-456h0m0 104h0m1-48h0m2 464h0m2-450h0m1-120h0m1 515h0m0 171h0m8-62h0m1-461h0m0 272h0" stroke="#F08C1E"/><path d="M2997 875h0m0 459h0m1 31h0m5 35h0m1-92h0m1-410h0m1 71h0m2 11h0m6-100h0m1 39h0m0-53h0m0-20h0m1 52h0m0 452h0m1-379h0m0-44h0m0 450h0m0-431h0m0 380h0m2-60h0m2-324h0m7 495h0m1-495h0m1-2h0m1-34h0m1 80h0m2 341h0m2 221h0m3-215h0m1-26h0m5-365h0m0 419h0m1-31h0m2-407h0m1 388h0m2-48h0m1-382h0m3-86h0m3 153h0m1 507h0m0-486h0m3 412h0m1 1h0m0-379h0m1-30h0m4 426h0m5 8h0m1-45h0m4 20h0m1-8h0m2-556h0m2-97h0m1 696h0m1-495h0m3 85h0m3-52h0" stroke="#F08C1E"/><path d="M2997 1327h0m0 77h0m1-392h0m0 361h0m0-479h0m0 17h0m0 92h0m0 350h0m2-604h0m2 699h0m2-32h0m0-373h0m1 332h0m1-417h0m2 402h0m1-432h0m2 14h0m3 374h0m0-361h0m6 33h0m4 376h0m0-441h0m1 38h0m2-41h0m0 451h0m2-413h0m0-131h0m1 71h0m5 504h0m1-85h0m1 100h0m5-589h0m0 144h0m0 320h0m1-8h0m2 193h0m0-543h0m0 72h0m0 392h0m0-427h0m0 16h0m2 294h0m1 22h0m3-370h0m1-21h0m5-4h0m1-79h0m9 0h0m0-36h0m1 625h0m1-71h0m0 117h0m1-534h0m1 460h0m0-419h0m1 11h0m1-70h0m1 519h0m1-15h0m3-111h0m3-454h0m0 522h0m1-345h0m2-247h0m1 118h0m0 525h0m2-84h0m4-396h0m2-53h0" stroke="#F08C1E"/><path d="M2997 1298h0m0-554h0m0 550h0m1-324h0m1 315h0m0 173h0m0-536h0m4 41h0m3 30h0m0-6h0m1 438h0m1-494h0m0-48h0m1 458h0m0 153h0m3-181h0m2-336h0m1-76h0m1 394h0m0-284h0m0-57h0m1 35h0m0 28h0m2 412h0m0-31h0m1-443h0m1 320h0m3 7h0m0 221h0m3-619h0m0 551h0m2-464h0m3 418h0m1-412h0m0-90h0m1 465h0m0-406h0m1 396h0m7-543h0m2 184h0m3-167h0m0 490h0m2-400h0m1 51h0m1 10h0m0 365h0m1-317h0m1-29h0m5 3h0m6 329h0m9-403h0m0 72h0m1 459h0m1-22h0m3-101h0m0-390h0m0 92h0m1 332h0m3-418h0m0 429h0m0-469h0m1 541h0m0-534h0m1 448h0m0 97h0m3 96h0m2-597h0m0-39h0m3 500h0m1-43h0" stroke="#F08C1E"/><path d="M2997 1360h0m0 65h0m0-553h0m1 434h0m0 168h0m1-453h0m3-48h0m1-87h0m4-132h0m0 107h0m0 476h0m3-17h0m1-608h0m3 626h0m2-34h0m1-410h0m3 498h0m0 70h0m0-166h0m2-401h0m6-8h0m0 456h0m1-20h0m0-21h0m1 99h0m0-69h0m2 124h0m4-439h0m2 360h0m1-86h0m3 110h0m3-590h0m1 509h0m2 37h0m1-95h0m0 20h0m0-3h0m5 45h0m0-410h0m1 84h0m7 397h0m2-7h0m0-379h0m2-127h0m1 420h0m3-401h0m0 105h0m1-121h0m1 452h0m0 33h0m1-401h0m0-20h0m3 430h0m1-420h0m0-57h0m1 504h0m1-115h0m3 39h0m1-397h0m3 361h0m2-435h0m1-29h0m1 600h0m0 84h0" stroke="#F08C1E"/><path d="M2997 958h0m0 15h0m0 341h0m0-387h0m1-31h0m0 84h0m0 452h0m1-441h0m1-80h0m2 515h0m5-405h0m4 299h0m0 116h0m0-495h0m1-78h0m0-52h0m4 49h0m2 584h0m1-580h0m2 575h0m4-552h0m2 613h0m1-477h0m1-33h0m1-153h0m1 108h0m1 353h0m3-397h0m1-47h0m1-8h0m1 142h0m6 483h0m0-546h0m2 482h0m0-533h0m1 391h0m0 159h0m1-567h0m0 101h0m0-56h0m1 60h0m2 427h0m1-10h0m2-393h0m2-59h0m3 87h0m0 361h0m2-33h0m3-363h0m5 384h0m2-66h0m0 29h0m6-357h0m0 359h0m0 7h0m0 65h0m1-708h0m2 715h0m0-38h0m0-37h0m0-341h0m1-22h0m0 24h0m1 447h0m1 7h0m1-579h0m1-7h0m2 139h0m1 307h0m3-386h0m1 396h0m1-411h0" stroke="#F08C1E"/><path d="M2997 903h0m0 49h0m0 9h0m0 56h0m0-39h0m0 4h0m1 374h0m1-474h0m1 438h0m2-430h0m3 425h0m1-289h0m0 327h0m1 11h0m1-365h0m0-108h0m1 72h0m0 28h0m1-102h0m2 485h0m1-584h0m0 592h0m5-69h0m1-389h0m1-39h0m2 433h0m0 26h0m0-385h0m1-11h0m3-15h0m1 381h0m1 151h0m8-573h0m1-101h0m1 566h0m6-36h0m2-342h0m0-250h0m1 660h0m0 4h0m1-119h0m0 66h0m1-448h0m0-2h0m0 29h0m1 472h0m1-120h0m1 25h0m0-426h0m0-10h0m1 64h0m4 410h0m1-363h0m0 389h0m1 45h0m6-510h0m2 452h0m1 45h0m0-48h0m1 10h0m1-448h0m3-75h0m0 573h0m2-464h0m0 417h0m1-453h0m0 22h0m2 389h0m5-366h0m1 31h0m1-222h0m1 647h0m0 55h0" stroke="#F08C1E"/><path d="M3097 1197h0m0 26h0m0 90h0m1-746h0m1 131h0m6 557h0m3-34h0m1-29h0m2-370h0m9-56h0m1 405h0m1 58h0m0-8h0m2 8h0m2 35h0m2 63h0m3-513h0m5 367h0m2 12h0m0 22h0m3-390h0m5 428h0m1-24h0m5-418h0m3 389h0m1 201h0m6-88h0m3-54h0m6-10h0m0-432h0m4 451h0m1-522h0m2 485h0m6-24h0m5-502h0m1 126h0m0-65h0m1 16h0m1 25h0m0-89h0m1 535h0m0-457h0m2 420h0m1-526h0m0 517h0m0 52h0m0-58h0m2 98h0m1-468h0m1-18h0" stroke="#F08C1E"/><path d="M3097 812h0m2 364h0m1 111h0m2-494h0m1-44h0m3 447h0m1 15h0m0-430h0m1 29h0m5 509h0m0 42h0m1-110h0m3-441h0m0 466h0m1-59h0m5-412h0m0 414h0m4 29h0m2 69h0m3-93h0m1-399h0m0-7h0m1 369h0m2 162h0m2-519h0m1 449h0m4-487h0m2 472h0m0-66h0m1-645h0m2 214h0m1 564h0m8-539h0m0 400h0m8-395h0m0 401h0m1 75h0m0-43h0m7-425h0m0-89h0m2 455h0m0-335h0m0 401h0m4 83h0m2-97h0m3-24h0m2 84h0m0 74h0m1-148h0m0-23h0m1-424h0m2-47h0m1 540h0m0 61h0m2-524h0m0-42h0m1 521h0m1-462h0m2 30h0m1 448h0m2-99h0" stroke="#F08C1E"/><path d="M3102 1333h0m3-76h0m2 4h0m1-501h0m11-125h0m4 94h0m2 85h0m4 5h0m1 353h0m1 42h0m4-569h0m0 134h0m1-97h0m0 27h0m0 112h0m0 434h0m1-48h0m5-358h0m1 580h0m3-211h0m1-421h0m3 12h0m3-48h0m0 448h0m1 82h0m0-82h0m10-31h0m3 140h0m1-27h0m3-92h0m2-403h0m2-26h0m0-99h0m4 186h0m0 386h0m1-441h0m0 451h0m1 42h0m3-108h0m0 186h0m2-147h0m2-455h0m3 461h0m1-565h0m1 523h0m1 4h0m0-434h0m1 547h0m1-461h0m2-72h0m3 21h0m0 396h0" stroke="#F08C1E"/><path d="M3097 1206h0m0 86h0m1-102h0m3 10h0m0 41h0m4-461h0m0 14h0m1 416h0m3-381h0m0 400h0m2 41h0m0-13h0m2-55h0m1 128h0m1-526h0m0 422h0m3 18h0m0-430h0m8 2h0m1 469h0m7 20h0m0-67h0m3-453h0m3-131h0m5 525h0m3 252h0m1-621h0m1-76h0m0-109h0m0 586h0m1-28h0m2 50h0m4 1h0m2-526h0m0 513h0m4-42h0m3 28h0m10 103h0m0-119h0m1-518h0m6 165h0m0-131h0m1 47h0m1 532h0m0-103h0m2 49h0m0-442h0m0 615h0m1-127h0m1 26h0m1-469h0m2 519h0m0-57h0m2-470h0m1 398h0m1 110h0m0-674h0m0 88h0m5 10h0m0 536h0m1 64h0m0-147h0" stroke="#F08C1E"/><path d="M3097 773h0m0 46h0m1-16h0m1 449h0m2 23h0m8-463h0m2 424h0m1-386h0m1-116h0m1 108h0m0-9h0m2 409h0m1-52h0m6-579h0m5 635h0m0 130h0m3-567h0m2 513h0m1-78h0m0-36h0m0-433h0m1 25h0m2 399h0m1 61h0m0-528h0m0 24h0m4 458h0m3 218h0m0-189h0m2 71h0m2-67h0m0-454h0m0 394h0m2 80h0m4-5h0m0-63h0m0-538h0m0 608h0m6-51h0m1-415h0m0 451h0m0-482h0m2 468h0m7 49h0m0 27h0m3-761h0m4 645h0m0-473h0m3 548h0m1-54h0m1-28h0m0-404h0m1 33h0m4 16h0m1 530h0m0-555h0m1 12h0m0-7h0m1-74h0m1 463h0m1-418h0m0 9h0m0 5h0m1-26h0" stroke="#F08C1E"/><path d="M3097 836h0m0 351h0m0 15h0m2-422h0m0 50h0m1 395h0m1 205h0m2-94h0m1-503h0m2-114h0m0 555h0m1-527h0m0 555h0m4-17h0m1-71h0m2 140h0m1-142h0m1-498h0m1 486h0m9-421h0m3 541h0m2-495h0m3 447h0m0-528h0m0 50h0m4 23h0m0-3h0m1-121h0m0 146h0m2-18h0m1 436h0m0-413h0m5 559h0m6-10h0m14-221h0m4-408h0m3 53h0m0 424h0m1-416h0m0 374h0m1-422h0m2 544h0m1-113h0m1 60h0m3-66h0m0 125h0m4-79h0m1-441h0m1-74h0m0 490h0m0-3h0m1-384h0m0 546h0m1-11h0m0-185h0m7-325h0m5 338h0" stroke="#F08C1E"/><path d="M3097 1247h0m0 13h0m1-434h0m2-36h0m1 32h0m2-175h0m1 162h0m2 435h0m1-425h0m2-22h0m0 0h0m1 36h0m5-50h0m1 421h0m10-12h0m9-390h0m1 435h0m0 53h0m1 20h0m1-90h0m1-43h0m1 248h0m1-173h0m1 32h0m5 110h0m5-566h0m0-11h0m0 500h0m0-142h0m4-387h0m0 509h0m5 130h0m3-136h0m0-102h0m0 12h0m0-396h0m0 426h0m1-61h0m4 24h0m3-429h0m1 29h0m1-118h0m0 510h0m2 7h0m2-470h0m0 549h0m1 105h0m0-147h0m2 119h0m0-583h0m2 504h0m1-503h0m1 46h0m0 399h0m1-489h0m1 517h0m4 163h0m1-158h0m1-32h0m0 214h0m0-167h0m5 43h0m2 97h0m2-176h0m0 129h0" stroke="#F08C1E"/><path d="M3097 796h0m1-8h0m1 422h0m5-30h0m2 53h0m2-30h0m2-390h0m0 381h0m2-20h0m0 159h0m4-535h0m5-132h0m0 570h0m2 8h0m1-500h0m8 7h0m1 559h0m5-81h0m1-41h0m1 193h0m5-160h0m3-38h0m4 9h0m3-452h0m1-91h0m6 591h0m3 38h0m0-485h0m2 35h0m3 384h0m4 238h0m3-148h0m6-472h0m2 500h0m4-16h0m2-13h0m2-126h0m1-320h0m1-38h0m1 394h0m1 25h0" stroke="#F08C1E"/><path d="M3207 1328h0m3-458h0m2-70h0m0-11h0m3 462h0m1-434h0m9 27h0m2-16h0m0 475h0m2-501h0m3 512h0m3-44h0m0-419h0m14-18h0m6 26h0m1-39h0m1 31h0m0 25h0m1 0h0m0-49h0m11 570h0m1-110h0m0 33h0m2-49h0m2-430h0m8-36h0m4-15h0m4 89h0m1 430h0m6-461h0m4 484h0m1-515h0m0 474h0m3-444h0m2 417h0m2 2h0m1-397h0m0 430h0m8-516h0m1 67h0m2 436h0m3 52h0m1-43h0m2 17h0m2-18h0m1-445h0m0 426h0m1-401h0m0 26h0m1-43h0m1 389h0m0-6h0m1 15h0m1-413h0m1-82h0m2 521h0m1-414h0m0-40h0m7 530h0m4-507h0m2-3h0m0-14h0m2-5h0m1-9h0m0-15h0m1 555h0m1-121h0m1 24h0m0-469h0m5 526h0m2-49h0m5 11h0m0-487h0m6 531h0m1-464h0m5-77h0m1 48h0m4 509h0m2-532h0m1-57h0m2 60h0m1 445h0m4-1h0m1-468h0" stroke="#EBEB14"/><path d="M3209 1266h0m2 17h0m12-497h0m3 510h0m0-461h0m5 493h0m1-517h0m10 500h0m5-43h0m1-467h0m7 556h0m1-483h0m0-59h0m0-27h0m0 492h0m1-1h0m0-438h0m0 553h0m0-135h0m3-424h0m11 441h0m2-499h0m2 73h0m6 8h0m7-20h0m8 423h0m3 36h0m3-490h0m4 474h0m1 0h0m5-451h0m0 21h0m1-13h0m3 531h0m5-7h0m1-34h0m3-42h0m2-433h0m4 24h0m0 378h0m1-408h0m0 514h0m1-545h0m1 36h0m0-21h0m0 467h0m1 60h0m3-90h0m1-27h0m1-431h0m3 571h0m2-110h0m2-421h0m3 517h0m1 32h0m0-125h0m1-8h0m7-14h0m0-420h0m13 469h0m1-16h0m2 38h0m3-426h0m0-61h0m4 546h0m1-40h0m2-522h0m1 437h0m0-437h0m2 434h0m3-7h0m1-405h0m5-30h0m1 40h0" stroke="#EBEB14"/><path d="M3207 846h0m1 501h0m1-533h0m7 25h0m8 523h0m5-69h0m6-63h0m0-380h0m1 405h0m4-394h0m2 431h0m0-448h0m3-6h0m11-11h0m0 526h0m1-509h0m0 467h0m0-44h0m1 108h0m4-540h0m2 438h0m5-435h0m10 479h0m1-31h0m15-472h0m3 454h0m1 12h0m5-398h0m7-89h0m0 38h0m2 449h0m3-517h0m3 528h0m0 88h0m4-533h0m0-56h0m3 50h0m0-12h0m2 15h0m3 38h0m0 500h0m2-57h0m0 24h0m2-510h0m3 3h0m6-31h0m5-21h0m4 43h0m1 18h0m1 551h0m2-134h0m7 10h0m0-413h0m5 386h0m2 111h0m3-611h0m0 137h0m1 502h0m2-72h0m3-38h0m1-18h0m0 143h0m0-113h0m1-455h0m1-37h0m2-7h0m2 453h0m0-493h0m3 86h0m2-4h0" stroke="#EBEB14"/><path d="M3219 1251h0m4-479h0m0 509h0m1 56h0m0-529h0m1-91h0m14 541h0m4-433h0m4 26h0m2 533h0m1-17h0m1-499h0m2 409h0m0-473h0m0 61h0m3 456h0m1-40h0m0-434h0m0 499h0m2-534h0m0-9h0m10 463h0m1-439h0m0 17h0m1 440h0m2-462h0m2 481h0m0-42h0m1 133h0m7-556h0m5 453h0m0-426h0m3 499h0m8-541h0m0 409h0m1-373h0m2 0h0m5 431h0m3-471h0m3 31h0m1 1h0m0 458h0m1 11h0m2 65h0m0-573h0m3 25h0m6-53h0m2 8h0m4 106h0m3-68h0m0 445h0m5 27h0m11-51h0m7 120h0m1-545h0m3 459h0m3-485h0m5 506h0m0-6h0m1-463h0m3-14h0m7 63h0m1 373h0m1 50h0m1-13h0m1-452h0m7-68h0m3 556h0m3-565h0" stroke="#EBEB14"/><path d="M3207 1309h0m2-20h0m0 2h0m15 54h0m2 81h0m1-571h0m1-76h0m0 20h0m1 599h0m6-572h0m7-89h0m10 32h0m3 652h0m0-117h0m1-6h0m0-11h0m1-26h0m0-7h0m1-493h0m4 88h0m3-44h0m4 602h0m2-111h0m0-479h0m1 496h0m1-478h0m1-95h0m1 31h0m1 60h0m3 497h0m2-77h0m10-486h0m10 82h0m9 501h0m4-469h0m0-63h0m1 30h0m2-13h0m4 436h0m9-36h0m4 120h0m1-483h0m2 454h0m3-46h0m5-466h0m7 23h0m2-29h0m6 491h0m0-41h0m8-9h0m3-468h0m1 99h0m1 490h0m1-560h0m0 22h0m2-61h0m3 121h0m4-77h0m1 474h0m0-479h0m4-53h0m2 98h0m2 582h0m2-647h0m4 59h0" stroke="#EBEB14"/><path d="M3210 1275h0m2-426h0m1 22h0m0 458h0m4-70h0m4-466h0m5-72h0m10 95h0m7-24h0m1 527h0m0-39h0m2 21h0m0-470h0m1 598h0m1-572h0m4-21h0m1 480h0m2-45h0m1 19h0m0-444h0m1 448h0m2 139h0m2-91h0m6-567h0m3 556h0m3-524h0m2 491h0m2-24h0m0-439h0m9 512h0m4-58h0m2 62h0m1-111h0m3-398h0m15 549h0m4-120h0m1 28h0m6 19h0m2-17h0m2 172h0m3-204h0m3 7h0m1 12h0m0-23h0m0-28h0m3 25h0m2-425h0m1-54h0m3 48h0m12 423h0m0 29h0m1 15h0m0-10h0m0-38h0m1 7h0m3 16h0m0-420h0m2-96h0m1 92h0m1 6h0m2-20h0m1 414h0m1-8h0m2-457h0m2 544h0m3-538h0m5 4h0m1 495h0m1 138h0m3-173h0m0-500h0m0 519h0m3 12h0m3-55h0m3 111h0" stroke="#EBEB14"/><path d="M3209 1262h0m7 46h0m2-498h0m5-38h0m0 506h0m1 5h0m1-551h0m2 718h0m7-90h0m7-560h0m0-28h0m0 513h0m2-3h0m4 30h0m5-461h0m0-42h0m2 477h0m1-422h0m1 17h0m0-41h0m0 27h0m1 476h0m0-484h0m0 473h0m0-443h0m1-19h0m1-18h0m8-21h0m4-24h0m2-20h0m1-44h0m1 119h0m3 397h0m0 11h0m1 15h0m10 15h0m5-511h0m0 69h0m2 394h0m5 37h0m7-18h0m5-409h0m4 417h0m1 48h0m5-478h0m4 18h0m1 12h0m2 438h0m1-24h0m1-406h0m1 367h0m0 19h0m1-406h0m1 16h0m2 432h0m2 95h0m0-583h0m8 11h0m6 7h0m1-10h0m2 479h0m0-456h0m5 405h0m3-417h0m3 386h0m5-386h0m1 512h0m10-82h0m0 39h0m3-465h0m0 430h0m4 105h0m1-666h0m0 120h0m1 452h0m2-472h0m3 6h0" stroke="#EBEB14"/><path d="M3207 1362h0m1-536h0m7 18h0m1-24h0m6 473h0m3-20h0m2-440h0m6 426h0m0-22h0m2-413h0m2 20h0m2 455h0m4-439h0m2 500h0m2-548h0m1 48h0m1 13h0m2-63h0m1 37h0m3 462h0m3-35h0m0 172h0m0-153h0m2-523h0m5 546h0m14 104h0m10-608h0m3 418h0m0 81h0m1-474h0m4 488h0m3-20h0m3 12h0m2-449h0m2 455h0m2 39h0m0-83h0m4 21h0m1-489h0m2-25h0m1 503h0m3 25h0m1 4h0m2-456h0m1 447h0m4 129h0m0-567h0m1 17h0m0 5h0m3-32h0m1 33h0m1-26h0m2-4h0m0-7h0m0-2h0m2-37h0m2 438h0m0-462h0m3 466h0m6-454h0m5 458h0m1-527h0m2 590h0m0-27h0m1-454h0m6 469h0m1-22h0m6-465h0m2 579h0m0-119h0m2 31h0m3-35h0m1-412h0m1-43h0m2-44h0m0 484h0m2-500h0m0 497h0m4 23h0m0 30h0m1-505h0m0 33h0m3-55h0m5 513h0" stroke="#EBEB14"/><path d="M3402 887h0m2 450h0m3-83h0m3-359h0m1 420h0m0-71h0m1-356h0m2 386h0m2 79h0m0 19h0m1-79h0m1-368h0m0-73h0m4 444h0m2 60h0m1-68h0m0 86h0m1-513h0m1 453h0m3-441h0m1-89h0m2 632h0m3-498h0m1-137h0m0 504h0m4-435h0m5 540h0m2-573h0m9 527h0m1-526h0m1 446h0m7 13h0m1 56h0m2-484h0m0 469h0m1 116h0m2-553h0m0 403h0m0 30h0m2 42h0m2 9h0m0-614h0m1 134h0m2-6h0m5 412h0m2 9h0m3-7h0m5-406h0m5 456h0m1-82h0m4 54h0m4-443h0m1-27h0m0 461h0m1-407h0m0-37h0m3 415h0m1-421h0m3 32h0m2 17h0m0-8h0m2-66h0m0-158h0m3 674h0m1-476h0m2-39h0m8 433h0m5 60h0m1-62h0m2-348h0m0 22h0m1-50h0m3 461h0m5-453h0m1 421h0m7-45h0m0 28h0m16-434h0m3 417h0m1-348h0m3 361h0m6-443h0m5 465h0m3-422h0m4 411h0m4-467h0m3 97h0m1-113h0m2 449h0m0-402h0m1 407h0m0-388h0m1 14h0m0-23h0m1 466h0m0-95h0m1-528h0m0 113h0m0 28h0m1 53h0m1-31h0m2-7h0m0-26h0m8 47h0m2-35h0m4-128h0m1 531h0m2-35h0m0 73h0m2 58h0m2-450h0m10 451h0m0-454h0m0-57h0m2 435h0m2-19h0m0 47h0m1 50h0m1-510h0m0 82h0m0 374h0m3 50h0m1-448h0m0 24h0m1-79h0m0 35h0m1 408h0m0-16h0m0-399h0m3-57h0m0 514h0m5-45h0m10-434h0m5 38h0m1 480h0m0-458h0m0-49h0m1 419h0m1-399h0m3 359h0m3-381h0m0 45h0m0 512h0m2-546h0m2 481h0m3-506h0m3 401h0m3 34h0m0 11h0m5-381h0m0 338h0m1 132h0m2-113h0m2-372h0m1 370h0m1-373h0m3-197h0m1 179h0m1 422h0m1-429h0m4-73h0m1 68h0m0-74h0m3 486h0m0-16h0m2 0h0m0 59h0m5-446h0m3 470h0m4-445h0m1-11h0m1 411h0m1-433h0m0 393h0m1-430h0m2-166h0m0 166h0m0 40h0" stroke="#642D46"/><path d="M3403 877h0m0-41h0m3 40h0m2 447h0m0-483h0m0 7h0m1 439h0m0-462h0m2 531h0m0 19h0m0-87h0m4-34h0m0 45h0m1-437h0m0 566h0m2-548h0m3 22h0m2-71h0m0 508h0m1 78h0m1-112h0m1-538h0m2 79h0m4-40h0m2 458h0m5-400h0m2-57h0m3 496h0m1-442h0m2 16h0m0-67h0m1 71h0m4 473h0m3-494h0m0 26h0m0 403h0m0 26h0m1-460h0m1 66h0m2 376h0m0 60h0m1-782h0m1 720h0m0-27h0m9-371h0m2 402h0m2 63h0m4-445h0m1 368h0m4-394h0m3-72h0m1 113h0m0-53h0m2 43h0m1-120h0m7 473h0m0-22h0m2-380h0m9 399h0m2-393h0m3 466h0m1-81h0m9 74h0m4-56h0m1 184h0m0-621h0m1 3h0m4-15h0m1 470h0m0 113h0m0-563h0m5 440h0m1 133h0m2-93h0m14-405h0m3-57h0m1-52h0m10 459h0m2-446h0m1 562h0m1-119h0m2-434h0m1 561h0m0-91h0m2 50h0m4-92h0m1-431h0m1 48h0m3 430h0m1-25h0m2-434h0m2 60h0m2 11h0m1 368h0m2-458h0m2 452h0m1 30h0m0-427h0m2-34h0m0 409h0m1 74h0m3-441h0m1-98h0m0 475h0m3-486h0m0 589h0m0-472h0m1-41h0m2 375h0m0-356h0m2 423h0m1-376h0m1 336h0m0 22h0m0-354h0m9 309h0m5 19h0m4-553h0m5 573h0m0-396h0m1 7h0m1-3h0m8 27h0m2-27h0m1-107h0m0 570h0m1-443h0m1 411h0m0 54h0m0-536h0m2 513h0m0-461h0m1 27h0m2 400h0m0-412h0m2-99h0m0 73h0m1-91h0m0-9h0m2 121h0m3 27h0m1-2h0m2-59h0m1 29h0m1-57h0m7 624h0m0-178h0m2-23h0m1 171h0m1-177h0m1 65h0m1-455h0m5 14h0m3 440h0m3 39h0m1-3h0m0-512h0m0 489h0m2-470h0m8 16h0m1 473h0m3-578h0m2 517h0m0-438h0m2 404h0m1 129h0m2-470h0m0 486h0m2-509h0m1-91h0m4 62h0m3-14h0m0-21h0m1 54h0m1-50h0m1 30h0m0 399h0m0 26h0m1 30h0m0-483h0m1 46h0m1-39h0m2 526h0m0-565h0m4 87h0m4 13h0m2-12h0m4-61h0m0 456h0m1-452h0" stroke="#642D46"/><path d="M3411 615h0m1 241h0m1-44h0m0 439h0m0 32h0m2-16h0m1-8h0m0-458h0m0 88h0m1-39h0m5 29h0m1-190h0m1 760h0m0-647h0m2 91h0m2-141h0m1 655h0m1-647h0m1 554h0m1-28h0m9-444h0m15-33h0m1 65h0m0 386h0m1 59h0m2-435h0m0-84h0m0 485h0m5-455h0m1 511h0m2-396h0m0-25h0m1-14h0m2 27h0m3 395h0m5-591h0m4 148h0m1 489h0m4-621h0m2 71h0m1 70h0m3 9h0m0 475h0m4-483h0m1 458h0m3 11h0m2 48h0m0-571h0m2 43h0m1-84h0m3 511h0m4-536h0m0 54h0m0 437h0m3-447h0m3 473h0m1 6h0m2-4h0m3-35h0m2-390h0m2 447h0m5-386h0m3-10h0m2 403h0m0-46h0m1-363h0m1-255h0m1 752h0m1-109h0m5 83h0m1-63h0m1-53h0m8-377h0m18-125h0m0 137h0m0-69h0m0-63h0m1 23h0m0 54h0m0 419h0m1 117h0m0-105h0m2-461h0m1 503h0m0-486h0m1 22h0m1 37h0m1 394h0m1 20h0m0-506h0m1 467h0m0 92h0m2-97h0m0 18h0m1-408h0m0 451h0m1 2h0m1-462h0m2 583h0m7-119h0m4-43h0m6 14h0m1-478h0m0 468h0m1-419h0m1 396h0m1-386h0m2 41h0m1 336h0m0 83h0m1-505h0m0 68h0m1 371h0m2 72h0m5 51h0m1-96h0m0-394h0m1 16h0m0 494h0m2-545h0m0 412h0m0-10h0m2-404h0m7 415h0m2 25h0m0-394h0m1 361h0m5-407h0m4 425h0m0-628h0m0 185h0m2 17h0m0 432h0m0-351h0m1 395h0m2-451h0m0-46h0m3 452h0m2-390h0m0-54h0m1 531h0m0-61h0m1 129h0m1-158h0m0 75h0m1-596h0m2 140h0m2-33h0m6 33h0m7 388h0m3-419h0m0 400h0m1-372h0m0 365h0m1-374h0m0-34h0m4 444h0m5-459h0m3 67h0m0-221h0m1 600h0m1 44h0m9-60h0m1-460h0m15-28h0m4 502h0m0-479h0m3 529h0m3-42h0m6-462h0m3 12h0m6 486h0m0-113h0m0-379h0m1 407h0" stroke="#642D46"/><path d="M3402 1315h0m5-451h0m1 383h0m1-385h0m0 44h0m0 394h0m0-39h0m4 65h0m1-458h0m1 399h0m2-424h0m0 14h0m1-112h0m6 581h0m0-545h0m1 125h0m2-141h0m0 87h0m1 511h0m3-95h0m3 92h0m4-480h0m1 447h0m0-405h0m3-13h0m0 325h0m2 8h0m12-346h0m1-46h0m1-42h0m0-53h0m1 541h0m3-10h0m2-522h0m2 98h0m2 494h0m1-557h0m3 477h0m1-382h0m1 383h0m1-377h0m2-43h0m4-197h0m0 647h0m1-16h0m2-414h0m2 411h0m1-433h0m2 510h0m8-499h0m0-39h0m7 555h0m1-584h0m3 110h0m1-5h0m5 497h0m12-107h0m1-394h0m4 377h0m1-387h0m1 477h0m2-50h0m0 36h0m2-451h0m4 29h0m0 329h0m0-375h0m1 369h0m2-409h0m0-21h0m2 62h0m3-14h0m1 63h0m0-201h0m0 184h0m2-31h0m1-144h0m1 166h0m2 427h0m3-427h0m0-80h0m1 60h0m2 6h0m7 426h0m4-4h0m1-418h0m3 427h0m1-650h0m2 624h0m1 91h0m1-468h0m0-32h0m1 12h0m0-31h0m2-43h0m2 456h0m3-19h0m3-349h0m0 468h0m2-502h0m0-6h0m2-28h0m0 6h0m6 456h0m2 11h0m1-68h0m2-331h0m1 6h0m1-28h0m0 412h0m1-500h0m6 92h0m0 11h0m1 516h0m0-507h0m1-6h0m0-49h0m2 75h0m1-52h0m1 396h0m0 98h0m7-520h0m4 24h0m0 445h0m1-94h0m1-475h0m2 96h0m0 377h0m2-360h0m1 419h0m7 44h0m1-445h0m0 366h0m4 153h0m1-548h0m0 569h0m1-138h0m0 35h0m1-433h0m1 549h0m1-83h0m3-457h0m0-36h0m0-26h0m0 447h0m2-11h0m1 3h0m0-421h0m0 509h0m0-497h0m0 396h0m3-13h0m0 17h0m18-423h0m1 33h0m7-69h0m2 524h0m1-438h0m5-13h0m0-222h0m0 197h0m2 389h0m1-374h0m13-2h0m5-12h0m2 450h0m4 134h0m1-585h0m0 454h0m0-480h0m1 466h0m10-34h0m2-19h0m2 77h0m1-551h0m6 491h0m2-19h0m0 17h0" stroke="#642D46"/><path d="M3412 1294h0m0-395h0m0 477h0m3-493h0m0-11h0m0 434h0m1 93h0m0-41h0m8-426h0m0 377h0m0-425h0m5 393h0m1-409h0m8 11h0m1 479h0m5-116h0m2-431h0m1 474h0m11-463h0m1 61h0m0 511h0m2-658h0m1 565h0m1-508h0m3 105h0m2-37h0m1 17h0m7 388h0m0 32h0m7-366h0m1-29h0m5 381h0m4 31h0m3-513h0m1-138h0m1 618h0m1-395h0m1 419h0m0-526h0m8 109h0m2 3h0m9 495h0m1-11h0m0-87h0m1-462h0m1 433h0m0-490h0m1 558h0m0-50h0m0 80h0m0 75h0m1-535h0m2 409h0m3 30h0m4-13h0m6-39h0m4-451h0m1 64h0m1 369h0m5-392h0m2 404h0m7-415h0m1 61h0m8 9h0m3-158h0m3 140h0m3 415h0m1-475h0m0 24h0m1-26h0m2 54h0m5-7h0m1 371h0m1 86h0m1-567h0m0 81h0m0 3h0m2-56h0m0 78h0m0 12h0m0-25h0m0-83h0m1 516h0m0-55h0m1 89h0m3-61h0m0-459h0m6-6h0m5 52h0m2 412h0m1-378h0m4 388h0m1 58h0m2-102h0m0 5h0m5-384h0m10 494h0m16-85h0m2-404h0m1-222h0m0 648h0m1 12h0m1-432h0m1-54h0m1 107h0m0-55h0m1 407h0m0-14h0m1-369h0m2 466h0m1-441h0m1 494h0m0-527h0m1-133h0m1 545h0m9-17h0m2-12h0m9-389h0m0 364h0m1 93h0m2-436h0m0-136h0m2 80h0m1 480h0m5-443h0m5-23h0m0 474h0m8-77h0m2 94h0m4-504h0m3 457h0m0-409h0m7-4h0m4-2h0m1 476h0m0-11h0m0-518h0m1-87h0m2-195h0m0 804h0m0-578h0m1-21h0m5 105h0m3 472h0m4-8h0m2-62h0m1-7h0m1 51h0m4-493h0m1 26h0m0-121h0m0 565h0" stroke="#642D46"/><path d="M3410 1274h0m2-397h0m0-12h0m2-35h0m1-95h0m0 172h0m0-127h0m1 31h0m1 449h0m2-427h0m3-99h0m0 669h0m2-561h0m0 431h0m1-406h0m0 4h0m1 412h0m1 11h0m5 6h0m1-442h0m0 23h0m1 19h0m2-44h0m1 437h0m3-406h0m0 425h0m0-441h0m1 401h0m1-371h0m0 370h0m4-14h0m6 33h0m4 37h0m1-458h0m2 480h0m3-78h0m5 11h0m1-387h0m0-5h0m0 453h0m1-16h0m1 44h0m0-596h0m1 593h0m2 69h0m8-507h0m1 369h0m1-550h0m2 147h0m1 431h0m0-84h0m8-393h0m0 13h0m2 395h0m1 51h0m1 4h0m4 59h0m1-451h0m3 469h0m0-600h0m1 533h0m0 16h0m4-457h0m2-60h0m6-102h0m0 611h0m6-527h0m1 585h0m3-55h0m0-28h0m3-7h0m8 46h0m1-454h0m1 463h0m0-36h0m1-46h0m1-397h0m0 410h0m1 16h0m5-460h0m1 433h0m1-455h0m1 108h0m2 424h0m3-72h0m0 115h0m0-480h0m0 421h0m2-403h0m11 355h0m2-467h0m3 426h0m1 26h0m1-378h0m1 454h0m0-435h0m0 407h0m0-516h0m1 128h0m0 368h0m1-379h0m1 365h0m1-340h0m2-53h0m0-24h0m1-36h0m0-114h0m2 198h0m1-29h0m4 447h0m3-430h0m0 448h0m1-15h0m1-427h0m2-10h0m2 9h0m1 386h0m0 35h0m1-511h0m1 16h0m3 55h0m1-59h0m8 454h0m1-357h0m1-48h0m1 31h0m1-210h0m0 190h0m1-45h0m4 436h0m3-32h0m2 32h0m3-379h0m7-180h0m1 127h0m2 43h0m3-53h0m1 459h0m3-35h0m1-359h0m0-89h0m1 105h0m1 385h0m1-482h0m1-50h0m3 549h0m1-15h0m1 145h0m2-592h0m1-19h0m2 454h0m0-424h0m1 401h0m16 4h0m4-387h0m1 444h0m3-71h0m4-398h0m5 468h0m4 27h0m1-79h0m10 90h0m1-102h0m2 86h0m2-88h0m6-336h0m1-115h0m3-1h0m2 30h0m3-5h0m2-252h0m1 284h0m4 581h0m4-578h0m1 384h0m3 18h0m3-21h0" stroke="#642D46"/><path d="M3408 857h0m1 404h0m1 78h0m2-427h0m0-28h0m1 365h0m2 37h0m2 116h0m1-601h0m2 507h0m3-454h0m0 440h0m1-455h0m0 434h0m1-455h0m1 100h0m3-160h0m1 528h0m1-27h0m1-335h0m0 369h0m1-550h0m1 634h0m2-100h0m1-382h0m1 422h0m0 4h0m1 112h0m1-532h0m0 442h0m1-413h0m4 414h0m0-687h0m3 612h0m6-491h0m0 598h0m1-99h0m0-450h0m0 6h0m0 61h0m1 438h0m0-38h0m0-434h0m0 406h0m0-565h0m1 60h0m0 542h0m5-466h0m2-23h0m1 32h0m3 477h0m3-14h0m1-447h0m1 411h0m1 64h0m1-449h0m4 462h0m7-49h0m1-360h0m5-72h0m2 409h0m1-2h0m1 23h0m1-51h0m0 18h0m3 34h0m5-41h0m2-363h0m0 26h0m6-68h0m2 392h0m1-376h0m3 37h0m2 397h0m1-456h0m0 559h0m2-530h0m4 29h0m2 468h0m2-566h0m3-17h0m0 51h0m2-26h0m2 40h0m0 476h0m0-48h0m3 22h0m0-457h0m1 54h0m6-46h0m0 478h0m1 8h0m3-610h0m7 148h0m9 35h0m5 392h0m1-510h0m2 75h0m1-49h0m0-84h0m1 149h0m1 41h0m1 410h0m1-25h0m1-489h0m1-4h0m1 489h0m1-413h0m4 402h0m1-525h0m0 152h0m0 380h0m2-11h0m2-403h0m0 410h0m1 10h0m4 131h0m2-105h0m5-57h0m1-20h0m0-396h0m1-48h0m3 16h0m2 438h0m2 137h0m1-501h0m1 340h0m1-357h0m1 379h0m0-372h0m2-2h0m2 29h0m2 338h0m5-379h0m0 4h0m0 407h0m1-413h0m2 421h0m1-457h0m2 52h0m1 441h0m1-474h0m2 16h0m1 410h0m1-31h0m3 12h0m0-426h0m5 429h0m1-345h0m0-17h0m3 369h0m1 192h0m0-164h0m3-405h0m1-22h0m0 416h0m2-7h0m3 40h0m2-443h0m5 438h0m3-40h0m3-6h0m2 0h0m0 13h0m5-421h0m4 20h0m1 2h0m3-75h0m0 449h0m2 35h0m5-38h0m1-364h0m0-4h0m3-6h0m1-39h0m2 60h0m3 389h0m8-452h0m4 592h0m6-165h0m4-422h0m1 30h0m1-148h0m1 694h0m3-147h0m1 41h0m7-496h0m3 497h0m3-83h0m1 61h0" stroke="#642D46"/><path d="M3402 1266h0m1-433h0m1 441h0m6-15h0m2-488h0m3 131h0m1-135h0m0 511h0m1-386h0m6 31h0m1-63h0m1 461h0m1-500h0m0 64h0m3-90h0m0 103h0m8 403h0m1-427h0m4 394h0m3 15h0m9-403h0m3 456h0m3-62h0m0-451h0m0-27h0m5-71h0m0 132h0m0 20h0m3 391h0m1-502h0m0 542h0m0-20h0m2-422h0m4 563h0m11-602h0m4 83h0m4-80h0m1-165h0m1 227h0m0 502h0m0-93h0m2 17h0m8-497h0m7 411h0m2-453h0m1 525h0m1-463h0m5 40h0m0 24h0m1 1h0m1 10h0m0 544h0m0-67h0m2-30h0m3-683h0m0 248h0m3 382h0m8-402h0m1-68h0m3 100h0m0 321h0m0-329h0m4 347h0m3-357h0m0 370h0m1 1h0m7 157h0m7-117h0m1-475h0m1-17h0m2 23h0m2 399h0m0-389h0m0-19h0m1 37h0m0-118h0m2 490h0m1-12h0m1-444h0m1 485h0m0-547h0m0 135h0m1-12h0m0 439h0m1-20h0m0-23h0m1-339h0m1-13h0m1 394h0m1-417h0m1-21h0m1 28h0m3-37h0m5 426h0m1 145h0m3-147h0m4-401h0m5 425h0m3-448h0m3-13h0m0 414h0m1-452h0m2 448h0m5 70h0m0-47h0m6-407h0m3 42h0m1-22h0m2 415h0m0-425h0m1-28h0m12 489h0m1-432h0m0 390h0m2 9h0m1-425h0m0-30h0m1-11h0m1-7h0m1 90h0m1 408h0m1-458h0m2 555h0m1-575h0m2 461h0m1-423h0m2 413h0m2-436h0m1 4h0m6-11h0m3 8h0m0-26h0m1 47h0m2 408h0m2 106h0m3-518h0m2 412h0m1 14h0m4-29h0m1-9h0m3-649h0m2 650h0m1-496h0m3 53h0m1-28h0m1 487h0m1-61h0m1-349h0m0-1h0m5 487h0m0-547h0m4-33h0m4 646h0m1-167h0m4 102h0m5-66h0m3-47h0m1 9h0m2 67h0m1 68h0m1-87h0m2-590h0m1 603h0m1-52h0m9-379h0m5-2h0" stroke="#642D46"/><path d="M3757 987h0m0 6h0m0 11h0m3 294h0m5-393h0m2 397h0m0-311h0m2 305h0m3-323h0m0 55h0m1-63h0m2-24h0m4 9h0m0 354h0m7 53h0m3-58h0m0-415h0m0 470h0m4-55h0m8 78h0m3-396h0m1-125h0m3 63h0m25-35h0m1-39h0m1 23h0m0 534h0m1-19h0m0-134h0m8 26h0m2-405h0m0 66h0m4 369h0m1-336h0m1-14h0m4 386h0m0-394h0m10 72h0m2 257h0m0-344h0m3-24h0m5 515h0m1-125h0m2-27h0m5 202h0m2-126h0m3 121h0m1-146h0m2-334h0m0-137h0m5 14h0m0 118h0m0-100h0m1 424h0m0-33h0m0 39h0m2-35h0m0-293h0m2-75h0m3 386h0m0-29h0m5-300h0m2 353h0m2-411h0m0 393h0m3-374h0m0-80h0m3 138h0m0-65h0m13 22h0m1 338h0m1 46h0m0-352h0m3-28h0m3-30h0m1 68h0m0 348h0m4 200h0m2-590h0m3 373h0m6 54h0m0 76h0m1-488h0m1-43h0m0 384h0m1-8h0m0-341h0m0-66h0m1 15h0m0 409h0m0 24h0m0-374h0m1-105h0m0 17h0m1 99h0m3 390h0m8-593h0m2 534h0m0-347h0m1 318h0m2-334h0m3 390h0m1 91h0m2-88h0m1-490h0m1 137h0m1 333h0m1-472h0m2 541h0m4-84h0m2-456h0m0 79h0m4-29h0m3 434h0m6-309h0m0-17h0m4-26h0m1 457h0m1-527h0m3 413h0m1-22h0m3-320h0m2-99h0m1 112h0m1-207h0m0 138h0m2 433h0m1-531h0m15 105h0m1 415h0m0-523h0m1 520h0m0-39h0" stroke="#D74150"/><path d="M3760 1285h0m0 100h0m0-25h0m2-379h0m1 377h0m2-42h0m0-4h0m1-30h0m1 98h0m5-49h0m3-361h0m5-31h0m1-70h0m1-6h0m2 45h0m6 453h0m1-436h0m1-42h0m5 437h0m0-385h0m0 370h0m1-301h0m1 349h0m3-32h0m2-59h0m0-401h0m2 96h0m7-43h0m0 68h0m1-19h0m3-35h0m2 36h0m10-7h0m3 483h0m1-117h0m0-355h0m1 421h0m0-490h0m0 395h0m0-332h0m1 1h0m0 316h0m1 29h0m0 26h0m3-369h0m2-44h0m4 58h0m1 291h0m0 24h0m1 107h0m1-442h0m2 369h0m1-36h0m1-379h0m2 477h0m2-481h0m0 78h0m0 317h0m1 92h0m1-437h0m5 416h0m1-374h0m0 348h0m3-57h0m1-5h0m1 15h0m0-297h0m2-37h0m3 357h0m2-360h0m1 15h0m2 429h0m0 39h0m3-106h0m4-36h0m2-365h0m2 13h0m3 460h0m2-133h0m0-405h0m2 35h0m2-33h0m0 9h0m1 380h0m0 36h0m0-419h0m2 60h0m3-38h0m1 37h0m8-20h0m0 414h0m1-386h0m2-108h0m0 436h0m0 46h0m1 11h0m1-60h0m1-337h0m1 329h0m1-286h0m5-14h0m1 371h0m0-13h0m0-422h0m2-70h0m5 473h0m2-434h0m1 31h0m0 77h0m6 314h0m1-380h0m2-31h0m2 422h0m0-338h0m9-199h0m0 105h0m0 75h0m0-81h0m1 433h0m1-396h0m0 62h0m1 317h0m1 18h0m0-344h0m1-145h0m1 160h0m0-75h0m10 394h0m6 98h0m1-433h0m2 325h0m2-487h0m2 560h0m0-490h0m2-4h0m4 34h0m4-82h0m2 459h0m11 73h0m1-339h0m0 286h0m0-302h0m2 348h0m5-340h0m0-74h0m0 400h0m7 0h0m2-519h0m0 200h0m2 326h0m8-381h0m7 328h0m0 35h0m1-400h0m1-22h0m4 110h0" stroke="#D74150"/><path d="M3759 1315h0m0-399h0m3 417h0m6 5h0m1-469h0m3 451h0m1-384h0m0 56h0m2-74h0m3 383h0m4-335h0m9 329h0m6-304h0m1 419h0m4-90h0m2-21h0m2-527h0m2 183h0m7 407h0m0-55h0m2 105h0m3-500h0m2 406h0m2-461h0m2 125h0m2 13h0m0-49h0m1 422h0m3-457h0m0 384h0m0-392h0m0-168h0m1 245h0m0 387h0m0-420h0m1 386h0m0 43h0m1-499h0m0 113h0m0 283h0m2 53h0m1-400h0m1 429h0m0-376h0m4-57h0m1 358h0m3-284h0m1-9h0m3-78h0m1 47h0m4 334h0m1-492h0m0 143h0m0 28h0m1 1h0m0-3h0m1-105h0m1 477h0m2-60h0m1-351h0m1 406h0m2-309h0m0 336h0m1-504h0m0 428h0m4-282h0m3-32h0m1 14h0m1-66h0m0 11h0m2-2h0m1-86h0m3 452h0m6-324h0m0-81h0m1 59h0m4 47h0m3-228h0m1 568h0m0 5h0m0-364h0m1-24h0m1 355h0m0-21h0m1-300h0m0-20h0m2-140h0m4 147h0m1 398h0m4-461h0m0-9h0m2 9h0m5 379h0m1-347h0m0-227h0m1 604h0m1-349h0m0-65h0m2 17h0m1 390h0m3-5h0m1-305h0m3-40h0m4-29h0m3 345h0m2-391h0m8 426h0m3-336h0m2 492h0m4-173h0m1-383h0m0 454h0m0-477h0m1-187h0m0 40h0m0 208h0m0 449h0m0-465h0m0 375h0m1-389h0m0-159h0m0 592h0m1-438h0m1-16h0m2 34h0m1 360h0m1 102h0m6-113h0m6-312h0m2 316h0m1-309h0m1 392h0m1-74h0m5 18h0m7-364h0m5 437h0m1-111h0m3-288h0m1-119h0m0 99h0m1-62h0m2 110h0m1 317h0m3-400h0m2 378h0m6 9h0m10-345h0m0-88h0m0 450h0m1-474h0m2 77h0m7 333h0m1-303h0m4 365h0m1-425h0m1 71h0m2 300h0m2-292h0" stroke="#D74150"/><path d="M3757 901h0m3-36h0m4 454h0m1-314h0m0-174h0m2 134h0m1 309h0m0 48h0m1-338h0m13-64h0m1 356h0m3 68h0m0-369h0m2-80h0m1 423h0m7 17h0m1-458h0m5 473h0m0 67h0m7-551h0m1 473h0m3 58h0m3-408h0m8-56h0m4 351h0m2-272h0m0 300h0m1-355h0m0-107h0m1 463h0m0-28h0m1-334h0m0-19h0m1 414h0m0-420h0m0-137h0m1 494h0m1-310h0m2 312h0m1-408h0m1 395h0m2-29h0m2-298h0m2-85h0m3 27h0m2 498h0m0-446h0m0 380h0m1-397h0m1 392h0m3-320h0m1 15h0m1 13h0m4-44h0m0 365h0m5-468h0m1 61h0m0 15h0m4 61h0m0 4h0m0 259h0m1 230h0m0-579h0m2-48h0m8 57h0m2 442h0m2-418h0m4-113h0m4 608h0m1-483h0m1-29h0m3-11h0m0 354h0m3 38h0m1 51h0m2-473h0m1 401h0m7-357h0m1 5h0m1 309h0m2-453h0m1 475h0m0-321h0m5-5h0m2-13h0m0 403h0m2-366h0m0-22h0m1 386h0m1-29h0m2-41h0m6-300h0m1-80h0m2 443h0m3-16h0m3 112h0m3-534h0m0 36h0m8 557h0m1-597h0m1-70h0m0 136h0m1-17h0m0 376h0m0 9h0m1-31h0m2-319h0m2-66h0m1-24h0m4 424h0m2-329h0m0-108h0m0 56h0m1-2h0m3 360h0m0-278h0m6 297h0m2-484h0m6-3h0m0 139h0m8-110h0m0 117h0m7 322h0m2-405h0m0 67h0m6-9h0m2 53h0m2-61h0m6-92h0m2 477h0m1-342h0m2-51h0m1-98h0m3 483h0m2-464h0m4 56h0m2 31h0m3 44h0m4 351h0m3 31h0" stroke="#D74150"/><path d="M3757 1024h0m3 280h0m0-324h0m2 313h0m2-351h0m2-174h0m0 602h0m2-419h0m1 11h0m0 440h0m1-494h0m2 82h0m0 378h0m0 76h0m1-448h0m3 291h0m4-372h0m0 349h0m10-286h0m1 403h0m2-50h0m0 25h0m0-384h0m0 355h0m1 62h0m2-69h0m1-336h0m1 35h0m0-30h0m8 350h0m0-502h0m0 104h0m3 31h0m2-150h0m0 174h0m2 317h0m3-413h0m1-1h0m1 121h0m1 280h0m6-9h0m5-6h0m1 79h0m0-369h0m2 307h0m0-394h0m1 420h0m0-325h0m2-51h0m0-29h0m0 524h0m1-192h0m4-415h0m0 41h0m2 66h0m1 21h0m2 342h0m2-557h0m1 596h0m0-367h0m1-21h0m0-17h0m1-93h0m0 455h0m2 36h0m2-29h0m2-313h0m2 305h0m7 70h0m0 18h0m0-445h0m1-43h0m0 388h0m2 42h0m3-39h0m0-331h0m0-35h0m1 359h0m0 12h0m1 26h0m0-519h0m1 116h0m2 53h0m0 42h0m2-108h0m0 345h0m3 145h0m0-130h0m2-273h0m2-15h0m1-62h0m7 72h0m0 437h0m2-480h0m1-109h0m0 463h0m0-359h0m1 461h0m0-469h0m0-39h0m0 65h0m1 365h0m2-370h0m1 18h0m1 302h0m0 10h0m2 96h0m10-111h0m1 82h0m3-422h0m5-79h0m0 54h0m1 373h0m1 81h0m2-370h0m1 369h0m2-407h0m2 44h0m5-50h0m3 21h0m6-24h0m6-44h0m0 8h0m1 436h0m4-424h0m0 370h0m0-408h0m1 96h0m1-123h0m0-18h0m1 475h0m0-495h0m1 106h0m0-16h0m0 77h0m0 311h0m3 11h0m1-25h0m3-294h0m4-113h0m0 427h0m5-335h0m4-83h0m1 80h0m0 30h0m2 1h0m5 338h0m1-11h0m1-371h0m5-69h0m3 82h0m5-69h0m3 434h0m0-371h0m1-11h0m2 364h0m0-291h0m9 299h0m0 15h0m1-376h0m6 6h0m5-30h0m1 14h0m4 298h0m4 57h0m3-424h0m0 490h0m0-430h0m2 54h0m0-23h0" stroke="#D74150"/><path d="M3757 1284h0m2 9h0m1-339h0m1-8h0m1 345h0m3-6h0m1-305h0m3-192h0m0 510h0m7-534h0m3 523h0m5-409h0m6 406h0m3-348h0m5 347h0m2 122h0m1-408h0m0-122h0m10 422h0m4-1h0m3-349h0m0 357h0m10 13h0m2-372h0m0 378h0m1-339h0m1 334h0m1-336h0m1 376h0m0 41h0m1-434h0m1 376h0m1-25h0m1-342h0m1 293h0m0-303h0m6 323h0m5-2h0m1-395h0m1 38h0m0 89h0m1 256h0m3-302h0m1 32h0m1 10h0m2-131h0m3 70h0m0 366h0m2-295h0m8-233h0m4 192h0m0 25h0m0 362h0m1-36h0m3-34h0m0 44h0m2-360h0m1-45h0m0 8h0m3 371h0m1-567h0m1 226h0m3 404h0m3-573h0m1 96h0m2 95h0m1-29h0m2-197h0m0 156h0m0 343h0m1-306h0m4 298h0m1 11h0m1-349h0m5 14h0m1-75h0m3 34h0m2 409h0m1-59h0m0-283h0m0-103h0m2 25h0m6 62h0m4 393h0m1-23h0m4-453h0m1 438h0m0-364h0m5 391h0m1 170h0m4-623h0m0 76h0m1-53h0m8 27h0m2-39h0m0 446h0m1 57h0m0-54h0m0-400h0m1-2h0m0 25h0m0-10h0m0 338h0m1-289h0m4-25h0m0-33h0m1 19h0m6-50h0m0 54h0m5-45h0m7 90h0m3 311h0m0 32h0m19-417h0m1 45h0m1 501h0m3-523h0m1 369h0m2-48h0m0-343h0m6 404h0m3-400h0m0 370h0m0-385h0m1 350h0m2-289h0m2 13h0m2 269h0m8-11h0m4-311h0m2 40h0m3 299h0m0-330h0m1-92h0m2 531h0" stroke="#D74150"/><path d="M3757 1009h0m0 294h0m0-344h0m2-3h0m1 26h0m2-84h0m0 499h0m3-492h0m0 40h0m2-61h0m1 48h0m1 77h0m0 404h0m1-570h0m1 52h0m0 431h0m3-41h0m1 26h0m1-41h0m10 151h0m3-458h0m2 355h0m7-318h0m1 12h0m6-28h0m5-93h0m0 103h0m0 315h0m0-301h0m6-102h0m1 52h0m1 332h0m2-3h0m10-455h0m1 461h0m1-355h0m0 363h0m0-386h0m1-42h0m2 102h0m1 362h0m1-30h0m1-4h0m0-411h0m3 392h0m0-370h0m0 399h0m10-36h0m0 10h0m5 21h0m11-299h0m1 359h0m1-422h0m4 363h0m3 10h0m0-361h0m2 14h0m5 307h0m0-289h0m1 361h0m1-382h0m4 370h0m3-50h0m3-358h0m0 79h0m1-5h0m0-88h0m1 70h0m2 355h0m1-417h0m0-18h0m0 406h0m1 32h0m0-29h0m2-420h0m3 388h0m0-30h0m0 23h0m5-286h0m6 280h0m3 95h0m0-389h0m2 342h0m1-349h0m1-5h0m1 386h0m2-509h0m0 82h0m1 377h0m1 21h0m0 183h0m5-600h0m2 450h0m0-391h0m1 301h0m0 25h0m0-17h0m1-281h0m1-41h0m1 466h0m2-564h0m1 19h0m5 425h0m0-510h0m3 228h0m1 310h0m4 2h0m3-525h0m0 571h0m0-462h0m0 453h0m0-18h0m1-400h0m1-70h0m1 481h0m0-410h0m2 388h0m1-375h0m1 10h0m0-68h0m1-30h0m1 425h0m0 101h0m2-539h0m2 89h0m2 379h0m1-567h0m0 554h0m3 4h0m2 73h0m0-68h0m2 22h0m2-420h0m1 59h0m1 326h0m6-349h0m4 328h0m4 37h0m4-7h0m1 23h0m1-51h0m0-396h0m4 94h0m1 414h0m0-379h0m0 277h0m3-315h0m1-6h0m1-147h0m5 22h0m0 139h0m2-92h0m3 63h0m2-61h0m1 418h0m5-81h0m5 48h0m7-7h0m2 28h0m0-320h0m3-145h0m0 501h0m0-370h0m0 37h0" stroke="#D74150"/><path d="M3757 968h0m0 10h0m0 374h0m0-381h0m2-6h0m3 374h0m0-541h0m0 173h0m1 358h0m5 26h0m0-493h0m2 52h0m1-67h0m0 131h0m1-218h0m4 645h0m8-23h0m4-449h0m2-22h0m3 84h0m2-119h0m1 53h0m4 50h0m4 352h0m4 37h0m1-406h0m4 382h0m11 11h0m7-375h0m0-86h0m1-85h0m1 198h0m2-17h0m0 425h0m1-443h0m2-15h0m9 396h0m0-82h0m3-483h0m1 211h0m2-74h0m0 75h0m1-24h0m2-147h0m0 134h0m1 370h0m3-339h0m1 334h0m0-347h0m2 16h0m2-60h0m0 372h0m0-328h0m2-19h0m2-90h0m1 455h0m0-427h0m7 368h0m1 34h0m1-276h0m1-92h0m3 394h0m8-421h0m3 68h0m1 422h0m0-441h0m0 335h0m1 30h0m0-40h0m0 87h0m0-49h0m1-363h0m1-6h0m0-18h0m1 365h0m0 98h0m0-470h0m0-98h0m1 119h0m0 26h0m2 325h0m1-406h0m2 29h0m0 374h0m1-317h0m4 340h0m4-426h0m1 88h0m4 286h0m1 26h0m0-342h0m2 427h0m2-374h0m1-31h0m2 329h0m2-377h0m1 371h0m3-358h0m4-30h0m0 412h0m2-32h0m1 63h0m2-370h0m1 416h0m2-22h0m2-12h0m0-377h0m2-119h0m6 476h0m1-16h0m1-488h0m1 7h0m1 435h0m1-353h0m0 395h0m0-11h0m1-369h0m0-11h0m0 46h0m3-139h0m10 162h0m2-50h0m4 44h0m1-87h0m1 16h0m1-9h0m2 59h0m0-144h0m1 550h0m1-491h0m0 90h0m2 333h0m0 39h0m7-361h0m6-39h0m2-23h0m0-34h0m4 51h0m1 374h0m2 7h0m3-391h0m0 42h0m0-60h0m1 384h0m2-455h0m0 489h0m4-37h0m2-327h0m0 36h0m1-117h0m2 471h0m1-71h0m15 32h0m4-439h0m0 93h0m2 348h0m2-6h0" stroke="#D74150"/><path d="M4057 844h0m3-15h0m4 442h0m0 51h0m1 88h0m2-106h0m2-502h0m0 448h0m2-388h0m1 36h0m3 9h0m1-34h0m4 20h0m1 466h0m2-619h0m0 579h0m1-460h0m0 432h0m0-367h0m1 360h0m1-515h0m0 34h0m3 465h0m1-346h0m0 383h0m4-688h0m7 743h0m1-411h0m1 350h0m1-585h0m0 595h0m1-574h0m0 582h0m1-413h0m0 4h0m0-151h0m0 184h0m0-18h0m1 373h0m0-434h0m0 440h0m1-594h0m0 139h0m0 40h0m0-8h0m1 489h0m0-54h0m5-445h0m3 372h0m6-482h0m2 129h0m1 470h0m3-471h0m2-194h0m1 153h0m2 41h0m1-10h0m9-57h0m2 542h0m2-87h0m3-541h0m0 129h0m2 494h0m0-72h0m1 44h0m1-484h0m0-37h0m1-64h0m0 87h0m1 435h0m1 48h0m4 137h0m0-744h0m1 10h0m0 171h0m1 417h0m0-425h0m1-107h0m1 532h0m3 3h0m2-38h0m3-377h0m1 373h0m1-8h0m0-605h0m4 192h0m1-189h0m0 94h0m2 83h0m3 108h0m2-35h0m1 531h0m1-97h0m2-608h0m0 616h0m1-430h0m1-146h0m0 520h0m1 12h0m1-563h0m2-124h0m1 175h0m2 90h0m1 13h0m0 12h0m1-195h0m2 545h0m4-431h0m0 425h0m1 9h0m0-390h0m1-232h0m0 663h0m1-458h0m1 464h0m2-374h0m1-86h0m2 507h0m1-538h0m0-47h0m3 93h0m0 25h0m6-109h0m5 55h0m3 558h0m0-526h0m2 21h0m1 496h0m0-510h0m1-220h0m0 596h0m1-7h0m1-567h0m1 581h0m5-522h0m2 609h0m1-538h0m0 92h0m1-74h0m2 79h0m1 4h0m0-154h0m4-43h0m2-58h0m3 150h0m3-70h0m0-58h0m2-15h0m1 620h0m1 31h0m0-483h0m2-9h0m0 75h0m0-176h0m3 58h0m0 25h0m1 76h0m0 4h0m2 405h0m1 15h0m2-364h0m0 378h0m1 184h0m0-690h0m0 457h0" stroke="#0A28FA"/><path d="M4057 760h0m1 99h0m0 19h0m0-105h0m1 487h0m1-379h0m5 15h0m5-123h0m1 535h0m0-407h0m1-23h0m1-8h0m0-116h0m0 42h0m1 0h0m0 108h0m1-23h0m1 441h0m2-41h0m0 48h0m2-465h0m3-147h0m0-108h0m1 230h0m0 7h0m0 24h0m1 13h0m0-94h0m1 496h0m1-352h0m0-19h0m3-248h0m2 111h0m2 509h0m0-426h0m1 49h0m2 405h0m4 105h0m0-714h0m0 150h0m2-88h0m1 8h0m0 514h0m0 14h0m1 6h0m1-450h0m0 22h0m1-10h0m0-6h0m0-10h0m0 469h0m0-25h0m1 30h0m0-16h0m0-493h0m0 74h0m1-12h0m0-110h0m1-89h0m2 614h0m6-393h0m1-67h0m1-57h0m2-95h0m4 228h0m0-85h0m3 423h0m0-353h0m1 385h0m0 51h0m0-74h0m1-491h0m0 21h0m0 116h0m1 354h0m2-11h0m0-362h0m1 403h0m0-422h0m1-47h0m0-43h0m6 117h0m3 593h0m1-784h0m0 643h0m6-619h0m0 48h0m2 137h0m0 378h0m1-618h0m0 741h0m3-554h0m2 417h0m5 17h0m2-625h0m0 752h0m3-554h0m2 469h0m0-426h0m1-76h0m2 44h0m4-41h0m3 468h0m3-437h0m3 464h0m2-574h0m0 530h0m1-366h0m1 430h0m0-537h0m0 548h0m1 52h0m1-510h0m0-106h0m1 31h0m2-12h0m6 12h0m1 443h0m1 34h0m0 77h0m0-469h0m2 412h0m1-463h0m2 421h0m0-450h0m0 25h0m1 483h0m0-512h0m0-3h0m2 54h0m2 409h0m0-422h0m0-150h0m0 184h0m2-50h0m2 653h0m2-130h0m0-109h0m1-466h0m5 98h0m6-116h0m1 117h0m1-26h0m2-36h0m1 526h0m0-500h0m1 649h0m1-871h0m2 42h0m4 182h0m3 9h0m3-172h0m0 129h0m2-10h0m1 451h0m1-429h0m2-18h0m2 438h0m0-504h0m2 79h0m2 5h0m1-133h0m0 10h0m1 707h0m1-172h0m2 123h0m2-507h0m0 428h0m2-622h0m2 63h0m0 136h0m2 444h0m0-432h0m0 425h0m2 92h0m1-66h0" stroke="#0A28FA"/><path d="M4057 803h0m0 491h0m0 2h0m1-11h0m0 40h0m1-635h0m0 628h0m2-404h0m0-37h0m2-7h0m3-149h0m0 138h0m4 431h0m4-2h0m1-585h0m0 564h0m0 102h0m1-501h0m0-97h0m3-80h0m2 590h0m0 34h0m1-508h0m0 35h0m1-64h0m0 50h0m2-149h0m3 95h0m1 563h0m0-498h0m1 457h0m2 10h0m1-40h0m3-386h0m0 15h0m2-143h0m3 52h0m1-135h0m0 664h0m1-440h0m1 30h0m1 455h0m1-459h0m0 597h0m0-593h0m1-103h0m0 474h0m0-633h0m0 192h0m0 487h0m0-413h0m1-24h0m1-47h0m0 432h0m0-377h0m1-51h0m7 434h0m0-440h0m1-90h0m1 69h0m4 3h0m1 36h0m0 401h0m3-406h0m1 440h0m1-431h0m5-15h0m0-7h0m1-120h0m7 169h0m2 360h0m1-463h0m1-17h0m1 495h0m1-415h0m0-54h0m0 31h0m2 465h0m1-504h0m0 58h0m1-48h0m0-113h0m1 18h0m0 559h0m0-489h0m1 473h0m2-360h0m1-229h0m3 78h0m3-134h0m1 245h0m1 15h0m4-15h0m1-215h0m1 645h0m2-668h0m2 251h0m2-56h0m1-12h0m2 478h0m1-411h0m6 42h0m1 501h0m1-539h0m2 421h0m1-542h0m1-38h0m0 98h0m3-11h0m1 538h0m2-497h0m0 17h0m1 10h0m1 391h0m1-493h0m2 523h0m0-503h0m2 57h0m4 397h0m0-433h0m0-99h0m0 580h0m1-495h0m1 18h0m0 486h0m2-14h0m0-563h0m1 162h0m2 532h0m1-512h0m0-133h0m0 149h0m1 555h0m1-667h0m1 7h0m1 80h0m0-158h0m3 135h0m7 534h0m1-617h0m0 522h0m2-647h0m1 772h0m0-579h0m1 26h0m0-101h0m0-54h0m1 146h0m1-34h0m1 80h0m0 383h0m1-410h0m1 511h0m0-169h0m0 80h0m2-479h0m3 423h0m1 25h0m0-497h0m0 76h0m0-76h0m1 570h0m0-492h0m0-29h0m2-55h0m0 615h0m0-82h0m1-47h0m1-395h0m1-173h0m4-24h0m3 144h0m0 24h0m1-102h0m2 98h0m0 453h0m1-558h0m4-83h0m0 681h0m1-524h0m1-76h0m0 737h0m1-116h0m0-473h0m0-79h0m1 470h0m0-372h0m1 4h0m1 365h0m2-461h0m0 586h0m0-508h0m5-69h0m1-97h0" stroke="#0A28FA"/><path d="M4057 897h0m1-181h0m3 592h0m3-403h0m0-125h0m3 158h0m2-120h0m0 544h0m1-509h0m1-32h0m3 437h0m3-646h0m0 230h0m4 67h0m1-182h0m2 636h0m3-481h0m2-94h0m1 513h0m9 97h0m2-592h0m0 102h0m1 462h0m0-48h0m2-406h0m1-78h0m1 53h0m0 480h0m1 42h0m0-718h0m0 237h0m1-56h0m1-58h0m0 69h0m1-141h0m4 29h0m3 592h0m1-622h0m0 114h0m7 442h0m4-453h0m1 488h0m0 2h0m4 13h0m1-63h0m1-394h0m1-192h0m2 117h0m2-169h0m6 237h0m2-69h0m2 53h0m3 377h0m0-410h0m3 471h0m7-514h0m0-161h0m1 123h0m1 558h0m0-431h0m0 457h0m2 65h0m2-617h0m2 109h0m0-280h0m1 230h0m2-70h0m2 497h0m2-575h0m1 21h0m0 192h0m1 390h0m0-22h0m3 9h0m2 34h0m2-550h0m1-46h0m1 625h0m0-606h0m1 90h0m0 498h0m3-56h0m1 87h0m0 118h0m0-840h0m7 66h0m3 568h0m3-461h0m0 51h0m0 401h0m1-615h0m1 658h0m1 124h0m0-588h0m0 611h0m1-574h0m1 423h0m0-542h0m0 559h0m1 28h0m0 61h0m0-23h0m1-755h0m6 57h0m1 174h0m4 419h0m3-408h0m4 397h0m3-441h0m0 69h0m2 506h0m2-561h0m1-61h0m1-56h0m3 36h0m5 115h0m1-167h0m2 530h0m0-337h0m0-64h0m1 47h0m3-248h0m1 176h0m6-20h0m1 463h0m4 36h0m0 39h0m2-82h0m2 8h0m3-362h0m1 436h0m1-27h0m5-397h0m0 439h0" stroke="#0A28FA"/><path d="M4057 889h0m0 23h0m0 355h0m0 72h0m1-532h0m0-169h0m1 236h0m0 18h0m2 34h0m2-225h0m2 135h0m1-144h0m9 648h0m0-535h0m1 23h0m2 49h0m1 460h0m3-631h0m1 654h0m1-542h0m1-53h0m1 502h0m1-396h0m2-3h0m0 414h0m1-8h0m8 27h0m1 103h0m2-527h0m0-161h0m1 5h0m2 189h0m0-63h0m0 97h0m1-116h0m0 34h0m1 50h0m0 435h0m0-84h0m2-610h0m0 625h0m0-4h0m0 10h0m1 48h0m1-492h0m3 651h0m3-677h0m1 65h0m1 400h0m0-415h0m0 472h0m1-391h0m7-295h0m2 211h0m0-146h0m1 120h0m0 407h0m3 106h0m2-53h0m4-482h0m0 62h0m4-36h0m2-105h0m1 625h0m2-60h0m1-9h0m0-621h0m3 211h0m0 383h0m4 9h0m1-358h0m0 413h0m4 41h0m3-50h0m1-21h0m1-534h0m0 498h0m0-442h0m0-14h0m2 475h0m0 3h0m0-377h0m1-122h0m1 90h0m2 401h0m8-565h0m2 115h0m0 433h0m0 18h0m3-597h0m4-8h0m1 186h0m0-49h0m4 524h0m0-398h0m0 377h0m1-505h0m1 500h0m1-59h0m1-445h0m2-33h0m0 483h0m1-525h0m1 63h0m1-147h0m1 620h0m1-402h0m1 435h0m2 49h0m2-639h0m1 564h0m2-454h0m1 479h0m1-417h0m0-16h0m0 16h0m1 380h0m0-450h0m3 111h0m2-259h0m10 261h0m3-200h0m0 177h0m2 14h0m1 384h0m0-472h0m1 515h0m1-586h0m1 581h0m1-48h0m1-30h0m2 23h0m1-418h0m4 489h0m2-549h0m1 447h0m1-391h0m0-48h0m0-47h0m0-24h0m2 484h0m5 13h0m1-450h0m5 605h0m4-688h0m1 576h0m2 40h0m0-63h0m0-400h0m1-74h0m1 531h0m1-403h0m5 377h0m1-493h0m0 514h0m1-390h0m0-47h0" stroke="#0A28FA"/><path d="M4057 862h0m0 69h0m0-101h0m1 448h0m0-376h0m0 468h0m1-522h0m0-12h0m0 451h0m1-391h0m2 411h0m2-7h0m1-52h0m2-432h0m1 54h0m1-10h0m0 29h0m1 34h0m3 377h0m0-524h0m2-51h0m0 192h0m0 330h0m0-485h0m1 63h0m0-138h0m1 65h0m0 487h0m1-489h0m0 105h0m3-15h0m1 53h0m0 380h0m1 29h0m0-604h0m1 608h0m1-32h0m0-633h0m0 286h0m0-173h0m3 146h0m1-82h0m0 657h0m5-563h0m0 388h0m1-368h0m0 432h0m0-89h0m1 101h0m0-613h0m3 96h0m4 572h0m0-126h0m4-406h0m0 394h0m0-549h0m0 617h0m1-564h0m0-169h0m0 706h0m1-59h0m1-407h0m4-107h0m0 505h0m4-345h0m2 366h0m4-5h0m2-51h0m3-465h0m3 507h0m1-7h0m0-434h0m3-172h0m0 92h0m2-101h0m5 726h0m1-63h0m1-474h0m1 443h0m1-451h0m3 491h0m3-550h0m0 36h0m2-69h0m6 129h0m1 387h0m4 187h0m5-691h0m3 537h0m0-447h0m0-75h0m0 94h0m1-60h0m7 560h0m2 49h0m0-99h0m2-592h0m2 580h0m1-478h0m1 100h0m2-219h0m3 16h0m1 163h0m1-182h0m0 157h0m2 472h0m1-48h0m1-362h0m0 329h0m1 76h0m1-545h0m0-51h0m5 124h0m2-31h0m0-133h0m1 105h0m0-82h0m1 185h0m0-23h0m1 448h0m0-8h0m0-511h0m1 501h0m0-463h0m4 448h0m3-28h0m1-349h0m0 485h0m1-581h0m0 507h0m0-42h0m4-514h0m6 562h0m1-43h0m1 38h0m1-390h0m0-177h0m1 35h0m0 630h0m1-106h0m0 40h0m1-529h0m0 649h0m0-183h0m0-404h0m2 453h0m3-433h0m0 323h0m4-332h0m1-128h0m1 601h0m0-132h0m0 24h0m0-537h0m1 545h0m1-617h0m1 206h0m0-33h0m3 52h0m1-21h0m8 19h0m0-29h0m2 473h0m4-472h0m2 512h0m0-501h0m1-100h0m1 124h0m0 28h0m0 34h0m1-26h0m3 435h0m1-79h0m0 43h0m1-602h0" stroke="#0A28FA"/><path d="M4057 628h0m0 121h0m1 43h0m0 102h0m3 42h0m2 363h0m4 42h0m0-497h0m1-65h0m3 63h0m2 441h0m1-563h0m1 12h0m0 78h0m2 59h0m1-56h0m0 105h0m4-95h0m1-114h0m0 566h0m0-371h0m0-103h0m1-156h0m0 752h0m0-745h0m1 647h0m0 43h0m4-86h0m1 33h0m0 5h0m6 31h0m1-561h0m2 533h0m0-9h0m4 56h0m0-667h0m1 239h0m1-109h0m0 24h0m0 508h0m0-455h0m1-124h0m0 600h0m0 114h0m0-578h0m0-192h0m1 168h0m0 453h0m0-509h0m0-50h0m0 515h0m1-12h0m1 15h0m1-361h0m1 367h0m1 20h0m2-433h0m0-7h0m4-157h0m2 176h0m7-73h0m0 459h0m0 17h0m4-456h0m1-7h0m2 54h0m0 449h0m0-27h0m1-25h0m1-470h0m0 45h0m8-65h0m1 105h0m6-73h0m1 443h0m2-452h0m1-18h0m1 94h0m1 376h0m1-357h0m1-207h0m2 197h0m0-61h0m1 26h0m3-262h0m2 256h0m0-32h0m1 16h0m3 35h0m0-47h0m0 505h0m2-549h0m1 540h0m1 47h0m1-486h0m1-161h0m1 525h0m1 23h0m8-487h0m4 713h0m1-586h0m0-51h0m1 594h0m0-560h0m1 8h0m2 382h0m2-424h0m6-62h0m1 34h0m1-38h0m3-17h0m0 470h0m1-582h0m2 620h0m2-530h0m1 33h0m3 68h0m0 426h0m1-393h0m1-20h0m0 34h0m1-211h0m2 594h0m2-453h0m4-139h0m0 707h0m2-607h0m1 26h0m1-137h0m0 621h0m1-494h0m0 81h0m1-44h0m2 77h0m0-191h0m1 549h0m1-502h0m0-11h0m0 9h0m1 115h0m1-52h0m1-151h0m3 185h0m3 38h0m0-117h0m6 421h0m1 75h0m1-427h0m3 502h0m1-466h0m3-43h0m1 438h0m1 17h0m0-56h0m2-389h0m2 437h0m2-377h0m0 358h0m1-367h0m3 26h0m3 442h0m0-448h0m0-81h0m3 408h0" stroke="#0A28FA"/><path d="M4057 821h0m2 563h0m0-63h0m2-446h0m0 13h0m1-42h0m4 28h0m1 50h0m1-11h0m3 363h0m3-419h0m1-74h0m5-93h0m1 587h0m1-496h0m4 548h0m0-17h0m3-573h0m1 139h0m2-143h0m1 615h0m0-36h0m8-46h0m1 78h0m0-443h0m0 379h0m0 34h0m0-519h0m1 131h0m2-150h0m0 493h0m0-458h0m0 24h0m1-53h0m0 3h0m0 531h0m0 143h0m1-667h0m0 8h0m0 549h0m1-519h0m0 59h0m1 17h0m0-27h0m2 28h0m2 415h0m11-468h0m0 401h0m1-453h0m1-43h0m1 79h0m2-13h0m1-81h0m2-84h0m0 241h0m1-286h0m0 103h0m0 98h0m2 19h0m0-90h0m1 44h0m0 58h0m1 3h0m0 61h0m2 470h0m1-100h0m2 35h0m1-456h0m1-256h0m0 286h0m1-117h0m1-42h0m0 144h0m1-82h0m2-37h0m1-119h0m1 220h0m2 437h0m1-453h0m3 459h0m0-19h0m3 49h0m1-455h0m4 398h0m1-462h0m1 504h0m2-436h0m1-41h0m3 28h0m1-10h0m0 26h0m1-200h0m0 611h0m1-582h0m1 579h0m1-506h0m2 55h0m2 477h0m2 16h0m3 55h0m1-82h0m0-5h0m0-554h0m0-12h0m3 534h0m0 113h0m2-504h0m1 8h0m5-78h0m2-60h0m3 129h0m6 449h0m0-460h0m2 409h0m1 72h0m0-504h0m2-29h0m3 589h0m2-694h0m10 153h0m1-93h0m1 142h0m0-42h0m2-165h0m0-50h0m5 26h0m0-21h0m0 616h0m0-370h0m1-104h0m1 470h0m1-553h0m3 167h0m1 4h0m3 25h0m2-166h0m6 522h0m0-419h0m1 406h0m0-7h0m3 119h0m3-87h0m3-393h0m1-177h0m3 128h0m2 76h0m0 469h0m1-96h0m1-420h0m2-64h0m1-42h0m2 498h0" stroke="#0A28FA"/></g>
</g>
<line x1="53.2" y1="220.4" x2="894.0" y2="220.4" stroke="#000" stroke-width="1.3" stroke-dasharray="1.4 3.6"/>
<polyline points="97.7,117.3 137.6,186.4 207.0,227.6 258.5,223.4 303.0,252.2 360.6,236.8 415.8,186.5 473.0,242.5 531.7,232.0 579.7,228.6 620.3,210.5 660.2,212.4 715.5,216.7 781.5,222.6 833.8,217.1" fill="none" stroke="#000" stroke-width="1.1"/>
<circle cx="97.7" cy="117.3" r="4.1" fill="#781286" stroke="#000" stroke-width="1.15"/>
<circle cx="137.6" cy="186.4" r="4.1" fill="#AA4682" stroke="#000" stroke-width="1.15"/>
<circle cx="207.0" cy="227.6" r="4.1" fill="#4A8CB2" stroke="#000" stroke-width="1.15"/>
<circle cx="258.5" cy="223.4" r="4.1" fill="#1EB4F0" stroke="#000" stroke-width="1.15"/>
<circle cx="303.0" cy="252.2" r="4.1" fill="#46E6D2" stroke="#000" stroke-width="1.15"/>
<circle cx="360.6" cy="236.8" r="4.1" fill="#0A6E1E" stroke="#000" stroke-width="1.15"/>
<circle cx="415.8" cy="186.5" r="4.1" fill="#64D23C" stroke="#000" stroke-width="1.15"/>
<circle cx="473.0" cy="242.5" r="4.1" fill="#B95AF5" stroke="#000" stroke-width="1.15"/>
<circle cx="531.7" cy="232.0" r="4.1" fill="#FDACE9" stroke="#000" stroke-width="1.15"/>
<circle cx="579.7" cy="228.6" r="4.1" fill="#E8D69E" stroke="#000" stroke-width="1.15"/>
<circle cx="620.3" cy="210.5" r="4.1" fill="#F08C1E" stroke="#000" stroke-width="1.15"/>
<circle cx="660.2" cy="212.4" r="4.1" fill="#EBEB14" stroke="#000" stroke-width="1.15"/>
<circle cx="715.5" cy="216.7" r="4.1" fill="#642D46" stroke="#000" stroke-width="1.15"/>
<circle cx="781.5" cy="222.6" r="4.1" fill="#D74150" stroke="#000" stroke-width="1.15"/>
<circle cx="833.8" cy="217.1" r="4.1" fill="#0A28FA" stroke="#000" stroke-width="1.15"/>
<rect x="53.2" y="34.7" width="840.8" height="351.5" fill="none" stroke="#747474" stroke-width="1.1"/>
<text x="54.1" y="22.8" font-family="Liberation Sans, Arial, Helvetica, sans-serif" font-size="22.2" letter-spacing="0.44" fill="#000">(Subject1039<tspan font-size="18.3" dx="2.2" dy="-2.3" stroke="#000" stroke-width="0.45">—</tspan><tspan dx="2.0" dy="2.3">Session2) </tspan><tspan font-size="18.3" dx="2.2" dy="-2.3" stroke="#000" stroke-width="0.45">—</tspan><tspan dx="1.9" dy="2.3"> 'Emotion Processing' Vertex Activity</tspan></text>
<text x="473.7" y="406.4" font-family="Liberation Sans, Arial, Helvetica, sans-serif" font-size="18.25" fill="#000" text-anchor="middle">Vertex</text>
<text transform="translate(19.6,211.2) rotate(-90)" font-family="Liberation Sans, Arial, Helvetica, sans-serif" font-size="18.5" fill="#000" text-anchor="middle">'Emotion Processing' Activity</text>
<text x="47.0" y="125.8" font-family="Liberation Sans, Arial, Helvetica, sans-serif"  font-size="13.9" fill="#4d4d4d" text-anchor="end">10</text>
<text x="47.0" y="225.9" font-family="Liberation Sans, Arial, Helvetica, sans-serif"  font-size="13.9" fill="#4d4d4d" text-anchor="end">0</text>
<text x="47.0" y="326.1" font-family="Liberation Sans, Arial, Helvetica, sans-serif"  font-size="13.9" fill="#4d4d4d" text-anchor="end">-10</text>
<text x="912.6" y="61.9" font-family="Liberation Sans, Arial, Helvetica, sans-serif" font-size="12.9" fill="#000">Network</text>
<circle cx="923.5" cy="79.7" r="4.1" fill="#781286" stroke="#000" stroke-width="1.1"/>
<text x="940" y="83.4" font-family="Liberation Sans, Arial, Helvetica, sans-serif" font-size="10.1" fill="#000">VIS_C</text>
<circle cx="923.5" cy="99.7" r="4.1" fill="#AA4682" stroke="#000" stroke-width="1.1"/>
<text x="940" y="103.4" font-family="Liberation Sans, Arial, Helvetica, sans-serif" font-size="10.1" fill="#000">VIS_P</text>
<circle cx="923.5" cy="119.7" r="4.1" fill="#4A8CB2" stroke="#000" stroke-width="1.1"/>
<text x="940" y="123.4" font-family="Liberation Sans, Arial, Helvetica, sans-serif" font-size="10.1" fill="#000">SMOT_A</text>
<circle cx="923.5" cy="139.7" r="4.1" fill="#1EB4F0" stroke="#000" stroke-width="1.1"/>
<text x="940" y="143.4" font-family="Liberation Sans, Arial, Helvetica, sans-serif" font-size="10.1" fill="#000">SMOT_B</text>
<circle cx="923.5" cy="159.7" r="4.1" fill="#46E6D2" stroke="#000" stroke-width="1.1"/>
<text x="940" y="163.4" font-family="Liberation Sans, Arial, Helvetica, sans-serif" font-size="10.1" fill="#000">PM_PPr</text>
<circle cx="923.5" cy="179.7" r="4.1" fill="#0A6E1E" stroke="#000" stroke-width="1.1"/>
<text x="940" y="183.4" font-family="Liberation Sans, Arial, Helvetica, sans-serif" font-size="10.1" fill="#000">dATN_A</text>
<circle cx="923.5" cy="199.7" r="4.1" fill="#64D23C" stroke="#000" stroke-width="1.1"/>
<text x="940" y="203.4" font-family="Liberation Sans, Arial, Helvetica, sans-serif" font-size="10.1" fill="#000">dATN_B</text>
<circle cx="923.5" cy="219.7" r="4.1" fill="#B95AF5" stroke="#000" stroke-width="1.1"/>
<text x="940" y="223.4" font-family="Liberation Sans, Arial, Helvetica, sans-serif" font-size="10.1" fill="#000">CG_OP</text>
<circle cx="923.5" cy="239.7" r="4.1" fill="#FDACE9" stroke="#000" stroke-width="1.1"/>
<text x="940" y="243.4" font-family="Liberation Sans, Arial, Helvetica, sans-serif" font-size="10.1" fill="#000">SAL_PMN</text>
<circle cx="923.5" cy="259.7" r="4.1" fill="#E8D69E" stroke="#000" stroke-width="1.1"/>
<text x="940" y="263.4" font-family="Liberation Sans, Arial, Helvetica, sans-serif" font-size="10.1" fill="#000">AUD</text>
<circle cx="923.5" cy="279.7" r="4.1" fill="#F08C1E" stroke="#000" stroke-width="1.1"/>
<text x="940" y="283.4" font-family="Liberation Sans, Arial, Helvetica, sans-serif" font-size="10.1" fill="#000">CN_A</text>
<circle cx="923.5" cy="299.7" r="4.1" fill="#EBEB14" stroke="#000" stroke-width="1.1"/>
<text x="940" y="303.4" font-family="Liberation Sans, Arial, Helvetica, sans-serif" font-size="10.1" fill="#000">CN_B</text>
<circle cx="923.5" cy="319.7" r="4.1" fill="#642D46" stroke="#000" stroke-width="1.1"/>
<text x="940" y="323.4" font-family="Liberation Sans, Arial, Helvetica, sans-serif" font-size="10.1" fill="#000">DN_A</text>
<circle cx="923.5" cy="339.7" r="4.1" fill="#D74150" stroke="#000" stroke-width="1.1"/>
<text x="940" y="343.4" font-family="Liberation Sans, Arial, Helvetica, sans-serif" font-size="10.1" fill="#000">DN_B</text>
<circle cx="923.5" cy="359.7" r="4.1" fill="#0A28FA" stroke="#000" stroke-width="1.1"/>
<text x="940" y="363.4" font-family="Liberation Sans, Arial, Helvetica, sans-serif" font-size="10.1" fill="#000">LANG</text>
</svg></div></body></html>
